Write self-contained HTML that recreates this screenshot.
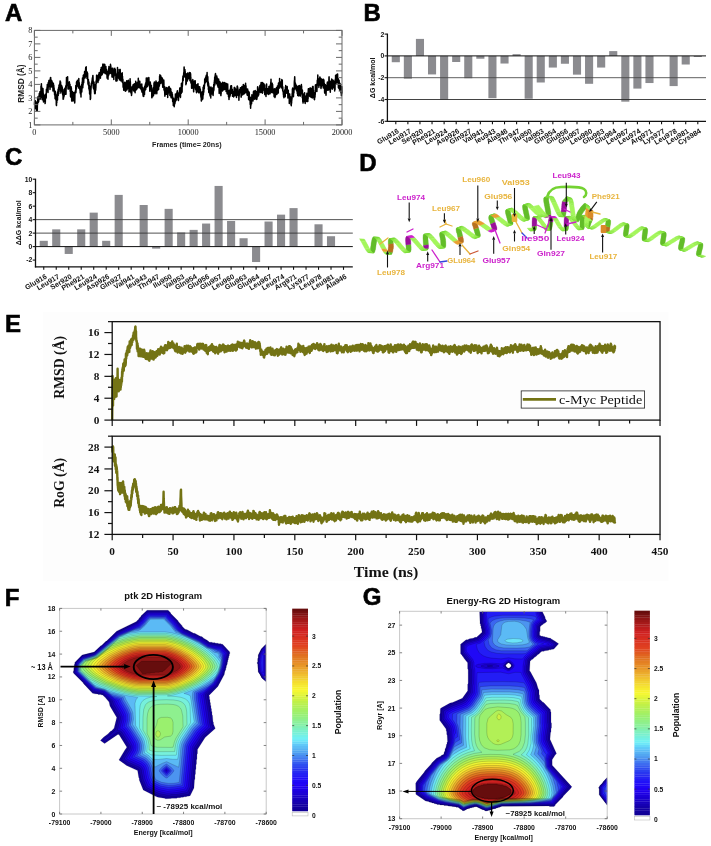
<!DOCTYPE html>
<html><head><meta charset="utf-8"><style>
html,body{margin:0;padding:0;background:#fff;width:711px;height:846px;overflow:hidden}
svg{display:block;will-change:transform}
</style></head><body>
<svg width="711" height="846" viewBox="0 0 711 846">
<polyline points="34.4,105 34.5,104.5 34.6,101.7 34.7,104.6 34.8,108.7 34.9,107.6 35,106.6 35.1,106.7 35.2,100.6 35.3,106.8 35.4,105.4 35.5,103.7 35.6,105.2 35.7,103.8 35.8,104.3 35.9,102.2 36,108.2 36.1,103.7 36.2,102.9 36.3,109 36.5,110.4 36.6,102.1 36.7,107.8 36.8,108.8 36.9,105.2 37,106.8 37.1,108.4 37.2,105.6 37.3,110.4 37.4,103 37.5,104.3 37.6,104.2 37.7,98.9 37.8,96.9 37.9,101.1 38,97.2 38.1,100 38.2,97.5 38.3,98.1 38.4,102.2 38.5,98 38.6,101.7 38.7,101.1 38.8,98.7 38.9,100.4 39,97.9 39.1,95 39.2,98.6 39.3,93.4 39.4,97.5 39.5,95.9 39.6,97.3 39.7,94.2 39.8,97.8 39.9,91.7 40,95.8 40.1,94.5 40.2,95.4 40.3,95.6 40.5,99.1 40.6,97.6 40.7,92.8 40.8,92.5 40.9,92.4 41,86 41.1,90.9 41.2,86.7 41.3,91.3 41.4,83.8 41.5,88.2 41.6,90.1 41.7,86.9 41.8,88.8 41.9,90.4 42,97.4 42.1,95 42.2,97.9 42.3,99.8 42.4,98.3 42.5,91.6 42.6,97.2 42.7,96.6 42.8,94.1 42.9,88.4 43,89.5 43.1,92 43.2,96.5 43.3,93.4 43.4,93.8 43.5,102.1 43.6,96.8 43.7,100 43.8,97.5 43.9,98 44,96.2 44.1,96.2 44.2,95.1 44.3,98.5 44.5,95.8 44.6,98.7 44.7,97.1 44.8,96.3 44.9,97.4 45,101.3 45.1,103.6 45.2,100.2 45.3,102.9 45.4,98.4 45.5,98.2 45.6,97.4 45.7,94 45.8,97.4 45.9,97.2 46,96.4 46.1,95.8 46.2,98.1 46.3,93.7 46.4,89.2 46.5,91.2 46.6,90.4 46.7,89.3 46.8,89.2 46.9,90.8 47,89 47.1,86.9 47.2,89.5 47.3,84.5 47.4,86.6 47.5,85.7 47.6,84.2 47.7,88.1 47.8,87.9 47.9,90.6 48,92.4 48.1,88.9 48.2,87.2 48.3,82.6 48.5,85.1 48.6,84.1 48.7,82 48.8,82.8 48.9,80.6 49,84.5 49.1,86.6 49.2,80.3 49.3,84.4 49.4,85.3 49.5,85.5 49.6,85.2 49.7,85.4 49.8,83.8 49.9,82 50,89.4 50.1,87.3 50.2,84.4 50.3,82.6 50.4,77.8 50.5,84.4 50.6,80.2 50.7,77.5 50.8,85.7 50.9,80.7 51,84.9 51.1,80.9 51.2,80.1 51.3,81.8 51.4,84.6 51.5,87 51.6,84.8 51.7,80.6 51.8,84.9 51.9,83 52,84.7 52.1,83.4 52.2,81.7 52.3,84.7 52.5,85.7 52.6,82.5 52.7,86.5 52.8,85.8 52.9,88.3 53,91 53.1,88.7 53.2,86.1 53.3,87.2 53.4,83.5 53.5,90.4 53.6,89 53.7,85.1 53.8,85.4 53.9,88.6 54,88.5 54.1,87.9 54.2,89.6 54.3,91 54.4,92.6 54.5,91.1 54.6,95 54.7,92.9 54.8,93.5 54.9,93.1 55,95.1 55.1,98.7 55.2,94.4 55.3,91.2 55.4,92.7 55.5,93.4 55.6,96.1 55.7,97.3 55.8,94 55.9,100.1 56,96 56.1,97.4 56.2,97 56.3,104.9 56.5,105.6 56.6,99.8 56.7,102.6 56.8,102.7 56.9,100.1 57,96.8 57.1,100.4 57.2,97.6 57.3,96 57.4,94 57.5,100 57.6,91.9 57.7,95.4 57.8,94.1 57.9,91.5 58,94 58.1,89.3 58.2,95.4 58.3,92.1 58.4,94.9 58.5,91 58.6,88 58.7,87.5 58.8,93.5 58.9,89.4 59,84.9 59.1,91.5 59.2,89.5 59.3,86.9 59.4,85.4 59.5,86.7 59.6,86.5 59.7,84.1 59.8,86.8 59.9,83.1 60,83.4 60.1,80.9 60.2,82.5 60.3,84.3 60.5,83.5 60.6,81.9 60.7,89.2 60.8,91.2 60.9,93.1 61,87.3 61.1,84.9 61.2,90.8 61.3,89.6 61.4,89.6 61.5,86.4 61.6,88.2 61.7,86.4 61.8,90.5 61.9,86.1 62,90 62.1,87.1 62.2,87.8 62.3,87.6 62.4,91.4 62.5,89.2 62.6,90.9 62.7,95 62.8,91.7 62.9,89.2 63,90.3 63.1,99.2 63.2,93.6 63.3,96 63.4,97.7 63.5,98.9 63.6,93.1 63.7,94 63.8,96.3 63.9,97 64,96.4 64.1,91.3 64.2,92.1 64.3,95.1 64.5,94.2 64.6,88.9 64.7,91 64.8,89.6 64.9,88.3 65,89.6 65.1,89.8 65.2,92.6 65.3,93.5 65.4,93.3 65.5,87.3 65.6,94.2 65.7,87.4 65.8,85.7 65.9,92.5 66,94.2 66.1,88.5 66.2,88.1 66.3,85.8 66.4,83.7 66.5,77.6 66.6,84.7 66.7,78.5 66.8,85.6 66.9,80 67,84.5 67.1,80.5 67.2,83.5 67.3,78.8 67.4,77.7 67.5,77.3 67.6,76.8 67.7,82.5 67.8,83 67.9,83.4 68,89.1 68.1,82.6 68.2,85.5 68.3,88.6 68.5,89 68.6,85.1 68.7,87.9 68.8,87.8 68.9,87.9 69,87.9 69.1,83.4 69.2,83.6 69.3,81.8 69.4,82.4 69.5,84.8 69.6,84 69.7,86 69.8,86.1 69.9,85 70,84.3 70.1,89.9 70.2,91.5 70.3,88.5 70.4,89.1 70.5,96.2 70.6,97 70.7,90.9 70.8,92.6 70.9,92.9 71,88.9 71.1,86.7 71.2,93.1 71.3,87.8 71.4,88.5 71.5,94.2 71.6,96.8 71.7,100.7 71.8,98.8 71.9,101.2 72,97 72.1,92.2 72.2,94.9 72.3,91.6 72.5,96.8 72.6,92.2 72.7,99.8 72.8,100.7 72.9,96.5 73,99.3 73.1,100.3 73.2,98.6 73.3,93.5 73.4,99.4 73.5,99 73.6,92.5 73.7,93.3 73.8,98.8 73.9,100.7 74,96.2 74.1,97.1 74.2,98.2 74.3,100.7 74.4,101 74.5,96.7 74.6,99.5 74.7,102.9 74.8,101.6 74.9,95.6 75,92.1 75.1,91.7 75.2,91 75.3,91.7 75.4,92 75.5,92.4 75.6,91 75.7,91.6 75.8,85.5 75.9,92.7 76,91.3 76.1,86.9 76.2,88.3 76.4,88.9 76.5,82.7 76.6,81.8 76.7,86.2 76.8,86.5 76.9,84.3 77,83.8 77.1,85.5 77.2,82.9 77.3,82.1 77.4,80.2 77.5,84.7 77.6,80.8 77.7,85.2 77.8,86 77.9,84 78,84.9 78.1,80.6 78.2,84.1 78.3,83.8 78.4,83 78.5,87 78.6,88 78.7,85 78.8,78.5 78.9,83.3 79,83.8 79.1,86.6 79.2,82.6 79.3,83.3 79.4,87.8 79.5,88 79.6,88.9 79.7,88.3 79.8,87.3 79.9,90.2 80,87.5 80.1,86.4 80.2,93 80.4,88.4 80.5,94 80.6,91.7 80.7,87.7 80.8,90.5 80.9,92.4 81,96.9 81.1,88.5 81.2,87.4 81.3,91.6 81.4,85.3 81.5,90.2 81.6,88.6 81.7,84.4 81.8,91.9 81.9,89.1 82,85.7 82.1,83 82.2,81.9 82.3,85.7 82.4,83.1 82.5,78.1 82.6,83.1 82.7,86 82.8,87.8 82.9,83.3 83,77.6 83.1,85.2 83.2,79.5 83.3,75.3 83.4,77.3 83.5,82.8 83.6,78.6 83.7,82.8 83.8,78.2 83.9,79.9 84,75.5 84.1,74.6 84.2,74.8 84.4,78.1 84.5,73.8 84.6,71.5 84.7,75.5 84.8,74 84.9,77.7 85,78 85.1,73 85.2,77.8 85.3,73.2 85.4,77 85.5,72.1 85.6,69.8 85.7,67.6 85.8,73 85.9,72.1 86,71.6 86.1,68.3 86.2,66.7 86.3,73.8 86.4,72.9 86.5,75.9 86.6,76.3 86.7,72 86.8,72.6 86.9,72.4 87,78.6 87.1,76.2 87.2,72.1 87.3,77 87.4,77.5 87.5,74.7 87.6,73.3 87.7,79.6 87.8,78.7 87.9,81.6 88,84.1 88.1,81.4 88.2,83.9 88.4,79.5 88.5,82.7 88.6,86.1 88.7,81.7 88.8,84.4 88.9,88.9 89,81.9 89.1,88 89.2,88.5 89.3,86.4 89.4,90.7 89.5,85.5 89.6,93.7 89.7,94.1 89.8,86.4 89.9,91.5 90,90.8 90.1,91.4 90.2,92 90.3,99.6 90.4,94.9 90.5,98.5 90.6,98.6 90.7,90.2 90.8,93.6 90.9,87.9 91,89.8 91.1,87.2 91.2,87 91.3,83.6 91.4,86.3 91.5,83.1 91.6,83 91.7,84 91.8,83 91.9,81.5 92,80.8 92.1,83.1 92.2,80 92.4,77.8 92.5,81.2 92.6,82.3 92.7,81.4 92.8,75.7 92.9,75.4 93,77.3 93.1,79.8 93.2,82.2 93.3,87.9 93.4,81.4 93.5,86.6 93.6,84.8 93.7,89.1 93.8,83.5 93.9,88.2 94,82.1 94.1,84.1 94.2,86.1 94.3,85.4 94.4,91.4 94.5,89.7 94.6,93.5 94.7,92.7 94.8,93.8 94.9,93.6 95,89.6 95.1,91 95.2,93.6 95.3,90.4 95.4,84.5 95.5,87.1 95.6,87.9 95.7,90.1 95.8,88.3 95.9,87.4 96,83.8 96.1,80.9 96.2,83.9 96.4,80.2 96.5,79.3 96.6,75.2 96.7,78.8 96.8,76.3 96.9,78.6 97,75.2 97.1,79.4 97.2,75.6 97.3,78.8 97.4,77.8 97.5,80.2 97.6,81.4 97.7,78.9 97.8,81.3 97.9,79.7 98,82.6 98.1,78.3 98.2,79.4 98.3,81 98.4,77.9 98.5,77.1 98.6,79.6 98.7,74.6 98.8,74.1 98.9,80 99,76.2 99.1,75 99.2,72.6 99.3,75.8 99.4,74.4 99.5,77.3 99.6,76.4 99.7,77.7 99.8,72.7 99.9,72.8 100,76 100.1,72.6 100.2,77.8 100.4,78.2 100.5,75.7 100.6,72.4 100.7,69.6 100.8,71.5 100.9,75.8 101,70.8 101.1,75 101.2,67.6 101.3,71.4 101.4,73.1 101.5,71.6 101.6,67.2 101.7,67.4 101.8,75.1 101.9,67.7 102,70 102.1,73.9 102.2,74.4 102.3,71.8 102.4,68 102.5,69.1 102.6,69.3 102.7,68.8 102.8,64.2 102.9,70.9 103,63.9 103.1,69.3 103.2,66 103.3,68.5 103.4,64.4 103.5,72.7 103.6,72.2 103.7,68.5 103.8,67.4 103.9,68.6 104,69.3 104.1,70.1 104.2,67.3 104.4,64.3 104.5,64.7 104.6,68.4 104.7,65 104.8,64.4 104.9,69.4 105,73.4 105.1,69.3 105.2,67.9 105.3,69.9 105.4,67.4 105.5,72.2 105.6,70.6 105.7,72.1 105.8,70.7 105.9,66.5 106,72.7 106.1,72.5 106.2,74 106.3,70.6 106.4,69.2 106.5,69.8 106.6,69.7 106.7,70.7 106.8,71.6 106.9,73.1 107,75.5 107.1,78.1 107.2,76.2 107.3,73 107.4,75.3 107.5,75.4 107.6,71.5 107.7,73.9 107.8,75.1 107.9,76.3 108,79.2 108.1,73.5 108.2,72.3 108.4,75 108.5,75.7 108.6,74.7 108.7,68.2 108.8,70.7 108.9,66.4 109,70.5 109.1,68.6 109.2,69 109.3,67.3 109.4,68.1 109.5,67.6 109.6,71.7 109.7,73.8 109.8,70.7 109.9,67.5 110,70.9 110.1,67.8 110.2,70.8 110.3,67.2 110.4,68.1 110.5,64.3 110.6,71.3 110.7,68.2 110.8,65.7 110.9,69.7 111,70.4 111.1,70.4 111.2,73.4 111.3,72.2 111.4,68.5 111.5,69.6 111.6,74 111.7,72.9 111.8,70.5 111.9,70.5 112,76.9 112.1,74.5 112.2,68.3 112.4,72.4 112.5,68.9 112.6,71 112.7,68.9 112.8,77 112.9,68.2 113,68.8 113.1,74.6 113.2,70.8 113.3,77.6 113.4,70.6 113.5,76.5 113.6,74.9 113.7,74.5 113.8,79.6 113.9,70.7 114,76.8 114.1,75.1 114.2,72.8 114.3,73.5 114.4,70.1 114.5,73.5 114.6,69 114.7,68.8 114.8,68.2 114.9,73.1 115,73.7 115.1,73.2 115.2,72.5 115.3,69.6 115.4,71.3 115.5,72.7 115.6,75.8 115.7,73.2 115.8,75.3 115.9,80.9 116,79 116.1,80.4 116.2,78.7 116.4,78.9 116.5,80.1 116.6,78 116.7,77.2 116.8,80.9 116.9,76.4 117,80.8 117.1,80.8 117.2,74 117.3,75.3 117.4,71.6 117.5,67.6 117.6,72 117.7,69.7 117.8,70.6 117.9,71.6 118,72.3 118.1,69.6 118.2,74.4 118.3,74.6 118.4,74.6 118.5,73.5 118.6,78.3 118.7,72.5 118.8,77.6 118.9,75.4 119,74.2 119.1,73.5 119.2,74.8 119.3,75.6 119.4,80.1 119.5,76.5 119.6,73.3 119.7,74.2 119.8,69.4 119.9,71.9 120,71.8 120.1,71.8 120.2,69.5 120.4,78.1 120.5,78 120.6,79.3 120.7,79.1 120.8,80.7 120.9,73.4 121,81.1 121.1,79.3 121.2,76.2 121.3,79 121.4,80 121.5,79.4 121.6,78.1 121.7,77.2 121.8,74.6 121.9,76.1 122,79.2 122.1,73.7 122.2,72.8 122.3,78 122.4,82.4 122.5,76.3 122.6,82.2 122.7,82.1 122.8,83.3 122.9,79.3 123,82.6 123.1,87.2 123.2,86.1 123.3,86.8 123.4,87.8 123.5,85.9 123.6,83.1 123.7,90.2 123.8,84.7 123.9,84.1 124,90.1 124.1,83.8 124.2,84.5 124.4,85.3 124.5,88.9 124.6,84.6 124.7,82.2 124.8,83.6 124.9,89.4 125,84.5 125.1,87.9 125.2,91.1 125.3,89.4 125.4,90.7 125.5,88 125.6,91.2 125.7,82.8 125.8,89.8 125.9,87.4 126,88.1 126.1,85.5 126.2,85.5 126.3,81.9 126.4,87.8 126.5,81.8 126.6,85.6 126.7,80.8 126.8,87.9 126.9,90 127,83.7 127.1,88.8 127.2,85 127.3,85 127.4,88.8 127.5,88.2 127.6,86.8 127.7,83.9 127.8,83.8 127.9,86.2 128,84.2 128.1,80.4 128.2,85.3 128.4,80.2 128.5,81.5 128.6,87.7 128.7,85.8 128.8,87.4 128.9,87.6 129,92 129.1,91.2 129.2,89.6 129.3,89.3 129.4,86.3 129.5,84.8 129.6,85.5 129.7,82.6 129.8,84.6 129.9,84.1 130,85.2 130.1,78.7 130.2,82.2 130.3,81.4 130.4,82.5 130.5,91.7 130.6,88.9 130.7,90.6 130.8,89.6 130.9,93 131,87.6 131.1,89.1 131.2,90.3 131.3,92.1 131.4,88 131.5,95.4 131.6,93.7 131.7,94.2 131.8,91.5 131.9,92.3 132,87.8 132.1,86.7 132.2,86.4 132.4,89 132.5,87.2 132.6,86.4 132.7,88.5 132.8,88.3 132.9,85.8 133,89.6 133.1,84.8 133.2,88.2 133.3,89.3 133.4,87.7 133.5,87.4 133.6,90.7 133.7,86.6 133.8,91.1 133.9,88.1 134,85.1 134.1,84.1 134.2,85.4 134.3,85 134.4,83.7 134.5,85.3 134.6,89 134.7,86 134.8,91.4 134.9,91.8 135,91.3 135.1,92.7 135.2,83.7 135.3,87 135.4,83.8 135.5,85.1 135.6,86.7 135.7,81.3 135.8,82.9 135.9,90.2 136,84.5 136.1,86.8 136.2,89.7 136.4,87.2 136.5,83.2 136.6,87.7 136.7,85 136.8,83.7 136.9,85.1 137,88.9 137.1,83.6 137.2,83.9 137.3,82.5 137.4,85.6 137.5,88.1 137.6,84.2 137.7,86.7 137.8,82.7 137.9,84.5 138,84.8 138.1,81.6 138.2,82.1 138.3,78.3 138.4,83.9 138.5,80.1 138.6,87.5 138.7,87.3 138.8,85.5 138.9,81.4 139,83.1 139.1,85.8 139.2,86.4 139.3,83 139.4,87.8 139.5,83 139.6,86.3 139.7,82.8 139.8,81.3 139.9,83.5 140,86.8 140.1,85.5 140.2,85.4 140.4,88.2 140.5,86.2 140.6,86.3 140.7,88.7 140.8,85.6 140.9,85.1 141,86.8 141.1,86.4 141.2,89.7 141.3,84.2 141.4,89.6 141.5,90.2 141.6,87.9 141.7,87 141.8,83.9 141.9,92 142,90 142.1,88.6 142.2,87.9 142.3,89.2 142.4,91.9 142.5,92.7 142.6,88.9 142.7,87.5 142.8,88.2 142.9,91.6 143,95 143.1,95.2 143.2,96.3 143.3,94.4 143.4,93.3 143.5,96.2 143.6,92.4 143.7,96.4 143.8,91.4 143.9,93.6 144,89.8 144.1,93.2 144.2,91.6 144.4,87.8 144.5,94.4 144.6,86.8 144.7,89.4 144.8,85.9 144.9,90.7 145,87.8 145.1,86.5 145.2,87.3 145.3,86.7 145.4,83.9 145.5,89.5 145.6,85.2 145.7,89.4 145.8,84.2 145.9,82.6 146,86.2 146.1,87.7 146.2,82.6 146.3,77.9 146.4,79 146.5,79.9 146.6,80 146.7,82.2 146.8,83.8 146.9,87.1 147,83.7 147.1,86.2 147.2,81.5 147.3,82.2 147.4,78 147.5,81.1 147.6,86.2 147.7,83.9 147.8,82.6 147.9,83.8 148,81.3 148.1,83.7 148.2,84.7 148.4,84.6 148.5,82.1 148.6,83.8 148.7,80.6 148.8,77.4 148.9,78.2 149,81 149.1,81.6 149.2,85 149.3,84.4 149.4,86 149.5,85 149.6,86.1 149.7,87.9 149.8,91.3 149.9,90.7 150,85.5 150.1,82.9 150.2,84.1 150.3,82.1 150.4,88.2 150.5,89.3 150.6,83.9 150.7,85.5 150.8,88.5 150.9,85.6 151,86.5 151.1,85.4 151.2,86.7 151.3,85.6 151.4,85.5 151.5,91.8 151.6,90.5 151.7,89.8 151.8,97.7 151.9,97.3 152,95.2 152.1,92.6 152.3,94.2 152.4,90.1 152.5,96.8 152.6,94.8 152.7,96.6 152.8,95.2 152.9,90.7 153,94.7 153.1,87.9 153.2,89.8 153.3,95.2 153.4,89.9 153.5,95.5 153.6,90 153.7,91 153.8,90.7 153.9,86.8 154,83 154.1,88.4 154.2,88.3 154.3,87.5 154.4,81.9 154.5,87.7 154.6,83.9 154.7,88 154.8,91 154.9,89 155,93.7 155.1,89.1 155.2,93.8 155.3,90 155.4,83.6 155.5,90.3 155.6,91.2 155.7,86.8 155.8,82.4 155.9,83.4 156,80.9 156.1,86.6 156.3,82 156.4,91.2 156.5,86.9 156.6,92.5 156.7,88.4 156.8,93.8 156.9,91.3 157,84.4 157.1,86.1 157.2,87.9 157.3,87.9 157.4,82.8 157.5,89.3 157.6,88.7 157.7,90.3 157.8,84.4 157.9,82.6 158,89 158.1,83.2 158.2,84.2 158.3,87.7 158.4,86 158.5,85.2 158.6,89.5 158.7,82 158.8,87.1 158.9,87.1 159,82.8 159.1,85 159.2,82 159.3,82.4 159.4,86.1 159.5,82.9 159.6,76.3 159.7,80.8 159.8,80.5 159.9,74.7 160,82.9 160.1,79.8 160.3,75.7 160.4,76.5 160.5,82.1 160.6,83.6 160.7,79.1 160.8,76.9 160.9,75.9 161,82.2 161.1,81.2 161.2,80.8 161.3,81.7 161.4,79.5 161.5,80.6 161.6,80.8 161.7,77.8 161.8,81.6 161.9,79.8 162,77.7 162.1,80.3 162.2,82.8 162.3,84 162.4,78.4 162.5,79.5 162.6,79.7 162.7,87.3 162.8,86.4 162.9,81.1 163,82.5 163.1,85 163.2,80.9 163.3,80.5 163.4,85.7 163.5,82.1 163.6,80.9 163.7,79.9 163.8,80.6 163.9,82.6 164,90.1 164.1,88.6 164.3,90.8 164.4,87.5 164.5,89.5 164.6,86.6 164.7,92.6 164.8,94.6 164.9,96.2 165,95.7 165.1,89.7 165.2,91.7 165.3,92.9 165.4,88.6 165.5,88.3 165.6,89.8 165.7,93.6 165.8,88.2 165.9,90.6 166,94.3 166.1,91.2 166.2,94.2 166.3,91.7 166.4,89 166.5,89.1 166.6,93.1 166.7,87.5 166.8,91.4 166.9,88.6 167,92.7 167.1,91.8 167.2,93 167.3,94.4 167.4,94.4 167.5,93.2 167.6,92.4 167.7,97.4 167.8,88.3 167.9,91 168,93.6 168.1,94.1 168.3,91.1 168.4,88.6 168.5,89.1 168.6,87 168.7,87.3 168.8,87.5 168.9,88.2 169,88.5 169.1,86.4 169.2,87.5 169.3,92.4 169.4,89.7 169.5,89.9 169.6,87.8 169.7,92.5 169.8,89.9 169.9,95.6 170,92.9 170.1,95.4 170.2,91.2 170.3,89.8 170.4,88.6 170.5,93.9 170.6,94.4 170.7,89.9 170.8,89.1 170.9,96.8 171,93 171.1,97.8 171.2,91.8 171.3,93 171.4,93.5 171.5,93.9 171.6,97.2 171.7,97.4 171.8,95.8 171.9,97.4 172,92.4 172.1,96.9 172.3,98 172.4,94.3 172.5,98.5 172.6,99.1 172.7,101.8 172.8,97 172.9,100.9 173,102 173.1,100 173.2,99.2 173.3,105.5 173.4,104.7 173.5,98.9 173.6,98.5 173.7,102.8 173.8,101.2 173.9,105.8 174,102.9 174.1,106.2 174.2,106.7 174.3,106 174.4,103.1 174.5,102.8 174.6,103.1 174.7,99.7 174.8,103.9 174.9,103.5 175,103 175.1,100.9 175.2,96.9 175.3,101.9 175.4,94.1 175.5,96.6 175.6,97.9 175.7,97.9 175.8,95.2 175.9,100.8 176,98.3 176.1,99.3 176.3,96.7 176.4,97.4 176.5,99.3 176.6,99.7 176.7,93 176.8,95.2 176.9,93.9 177,92.6 177.1,95.2 177.2,91 177.3,94.7 177.4,97.2 177.5,90.7 177.6,93.8 177.7,95.7 177.8,94.6 177.9,96.5 178,93.4 178.1,95.3 178.2,97.9 178.3,96.7 178.4,100.5 178.5,100.1 178.6,97.1 178.7,93.7 178.8,95.9 178.9,93.9 179,92.8 179.1,93.9 179.2,93 179.3,95 179.4,95.9 179.5,94.2 179.6,93.1 179.7,88.4 179.8,92 179.9,91.8 180,87.8 180.1,94.4 180.3,91.4 180.4,95.9 180.5,97.4 180.6,90.2 180.7,91 180.8,93.1 180.9,89.6 181,89.4 181.1,91.6 181.2,90.8 181.3,93.3 181.4,83.5 181.5,86 181.6,91 181.7,88 181.8,90.5 181.9,87.4 182,92.2 182.1,91.5 182.2,82.8 182.3,86.7 182.4,85.7 182.5,83.4 182.6,82.8 182.7,78.6 182.8,81 182.9,76.5 183,76.1 183.1,80.3 183.2,80.6 183.3,76.4 183.4,76.9 183.5,75 183.6,77.5 183.7,72.8 183.8,76.4 183.9,77 184,70.9 184.1,66.9 184.3,70.4 184.4,71 184.5,74.6 184.6,70.5 184.7,75.6 184.8,75.9 184.9,69.6 185,76.8 185.1,70.9 185.2,72.1 185.3,75.9 185.4,75.1 185.5,73.7 185.6,75.3 185.7,75.1 185.8,77.3 185.9,84.7 186,78.6 186.1,79.6 186.2,81.4 186.3,83.6 186.4,78.7 186.5,76.3 186.6,77.7 186.7,75.4 186.8,77.6 186.9,75.8 187,73.4 187.1,81.2 187.2,75.3 187.3,73.5 187.4,80.8 187.5,75.5 187.6,73 187.7,73.3 187.8,76.9 187.9,76.6 188,79.3 188.1,76.1 188.3,74.8 188.4,74.3 188.5,75.1 188.6,77.5 188.7,77.3 188.8,75.9 188.9,76.2 189,75 189.1,78.2 189.2,74.5 189.3,72.6 189.4,78.6 189.5,75 189.6,77.2 189.7,74.8 189.8,73.5 189.9,80.7 190,77.5 190.1,78.5 190.2,77.8 190.3,72.8 190.4,78.4 190.5,75.1 190.6,73.8 190.7,77.4 190.8,78.1 190.9,83 191,79.8 191.1,80.6 191.2,82.8 191.3,82 191.4,83.8 191.5,82.7 191.6,88.3 191.7,81.2 191.8,84.7 191.9,82.3 192,84.5 192.1,88.2 192.3,84.3 192.4,80.9 192.5,81.2 192.6,85.1 192.7,81.4 192.8,79.6 192.9,85.9 193,86.6 193.1,81.8 193.2,84.5 193.3,83.6 193.4,87 193.5,87.1 193.6,91.2 193.7,91.8 193.8,87.8 193.9,84.8 194,85.4 194.1,87.2 194.2,86.8 194.3,81.1 194.4,83.8 194.5,86.5 194.6,86.5 194.7,81.9 194.8,85.8 194.9,87.5 195,86.7 195.1,86.7 195.2,80.8 195.3,85.8 195.4,84.8 195.5,89.2 195.6,88.4 195.7,84.7 195.8,84.9 195.9,88.8 196,90.2 196.1,84.9 196.3,90.3 196.4,92 196.5,92.7 196.6,89.1 196.7,86.5 196.8,87.8 196.9,85.2 197,87.4 197.1,84.6 197.2,89.7 197.3,88.7 197.4,91.4 197.5,91.7 197.6,87.8 197.7,91.7 197.8,88.5 197.9,88.3 198,83.8 198.1,89.2 198.2,89.2 198.3,86.5 198.4,90.3 198.5,88.4 198.6,86.5 198.7,92.4 198.8,89.6 198.9,93 199,87 199.1,90.2 199.2,88.1 199.3,92 199.4,88.7 199.5,91.4 199.6,87.5 199.7,86.7 199.8,89.1 199.9,91.4 200,91 200.1,90.6 200.3,89 200.4,90.1 200.5,92.9 200.6,93.5 200.7,95.3 200.8,94.5 200.9,97.2 201,93.6 201.1,94.4 201.2,94 201.3,101.1 201.4,99.7 201.5,95.8 201.6,98.2 201.7,99.6 201.8,92.8 201.9,100 202,92.5 202.1,91.7 202.2,99.3 202.3,92.9 202.4,95.8 202.5,99.2 202.6,94.9 202.7,92 202.8,98.9 202.9,96.9 203,95.1 203.1,87.3 203.2,93.6 203.3,94.5 203.4,94.6 203.5,87 203.6,91.7 203.7,85.2 203.8,92.2 203.9,87.7 204,89 204.1,87.9 204.3,88.8 204.4,85.4 204.5,85.9 204.6,84.4 204.7,78.9 204.8,80.4 204.9,83.7 205,81.9 205.1,79.8 205.2,82.1 205.3,82.6 205.4,82.3 205.5,80 205.6,77.3 205.7,79 205.8,80.5 205.9,81.4 206,80.1 206.1,75.8 206.2,81.8 206.3,80 206.4,78.8 206.5,74.9 206.6,79.2 206.7,77.6 206.8,75.1 206.9,75.2 207,75.5 207.1,72.5 207.2,77.7 207.3,77.9 207.4,76.1 207.5,81.8 207.6,82.9 207.7,85.1 207.8,76.7 207.9,81.7 208,82.7 208.1,86.4 208.3,81.9 208.4,89.4 208.5,85.7 208.6,83.6 208.7,88.2 208.8,92.6 208.9,85.8 209,92.7 209.1,90.8 209.2,89.5 209.3,88.3 209.4,90.7 209.5,90.9 209.6,91.8 209.7,87.2 209.8,88.5 209.9,95.3 210,90.7 210.1,94.8 210.2,95 210.3,95 210.4,96.4 210.5,92.7 210.6,91.4 210.7,95.6 210.8,97.9 210.9,89.4 211,86.9 211.1,93.5 211.2,88.4 211.3,90.4 211.4,91.9 211.5,88.1 211.6,88.9 211.7,92.3 211.8,90.2 211.9,93.2 212,90.9 212.1,94 212.3,93.7 212.4,88.5 212.5,87.9 212.6,91.5 212.7,90 212.8,90.8 212.9,89 213,90.9 213.1,95.4 213.2,93.5 213.3,91.6 213.4,87.7 213.5,87.5 213.6,91.1 213.7,84.6 213.8,85.8 213.9,90.2 214,86.3 214.1,87.3 214.2,82.3 214.3,83.7 214.4,81.3 214.5,80 214.6,82.1 214.7,76.9 214.8,78.7 214.9,85 215,81.5 215.1,81.3 215.2,74.7 215.3,74.7 215.4,81.1 215.5,73.6 215.6,74.1 215.7,76.4 215.8,82.6 215.9,76.8 216,80.9 216.1,79.9 216.3,78 216.4,81.7 216.5,80.2 216.6,83.7 216.7,80.3 216.8,76 216.9,80.7 217,78.2 217.1,77.7 217.2,79.9 217.3,78 217.4,82.7 217.5,85 217.6,85.2 217.7,86 217.8,85.6 217.9,85.1 218,86.6 218.1,87.2 218.2,83.8 218.3,84.8 218.4,81 218.5,84 218.6,78.9 218.7,82 218.8,80.3 218.9,81 219,85.4 219.1,90.3 219.2,93.5 219.3,85.1 219.4,90.9 219.5,85.2 219.6,88 219.7,84.6 219.8,90 219.9,81.7 220,89.3 220.1,83 220.3,88.3 220.4,82.7 220.5,92.7 220.6,92.7 220.7,91.8 220.8,94.1 220.9,95.6 221,92.8 221.1,93.9 221.2,90.7 221.3,88.5 221.4,91.3 221.5,88.3 221.6,90.6 221.7,88.7 221.8,85.7 221.9,83.2 222,87.2 222.1,85.2 222.2,89.3 222.3,87.5 222.4,86.9 222.5,90.9 222.6,84 222.7,82.2 222.8,88.1 222.9,84 223,86.8 223.1,88.7 223.2,88.6 223.3,90.1 223.4,83.6 223.5,83.6 223.6,83.2 223.7,87.9 223.8,83.2 223.9,87.7 224,85.1 224.1,89.6 224.3,82.5 224.4,86.9 224.5,83.2 224.6,87.5 224.7,89.4 224.8,82.8 224.9,84.4 225,84.9 225.1,88.1 225.2,85.5 225.3,83.1 225.4,84.3 225.5,83.5 225.6,88.3 225.7,86.2 225.8,84.8 225.9,89.5 226,88.1 226.1,91.5 226.2,87.5 226.3,90.8 226.4,84.7 226.5,83.4 226.6,88.9 226.7,85.7 226.8,86.1 226.9,85.9 227,87.9 227.1,93.8 227.2,88.7 227.3,89.7 227.4,90.2 227.5,93 227.6,91.4 227.7,84 227.8,89.3 227.9,91.9 228,89.9 228.2,94.8 228.3,91.1 228.4,90.6 228.5,96.8 228.6,90.9 228.7,93.9 228.8,95.1 228.9,96.8 229,99.4 229.1,96.5 229.2,96.8 229.3,92 229.4,93.5 229.5,90.3 229.6,96.9 229.7,93.3 229.8,93.4 229.9,94.9 230,91.9 230.1,96.1 230.2,89.4 230.3,94.4 230.4,90.6 230.5,88.1 230.6,91.7 230.7,85.9 230.8,93.5 230.9,86.3 231,85.8 231.1,86.6 231.2,89.9 231.3,87.2 231.4,87.7 231.5,85.8 231.6,87.5 231.7,93.2 231.8,88.4 231.9,92.7 232,90.6 232.2,92.8 232.3,91 232.4,89.5 232.5,96.2 232.6,93.1 232.7,95.6 232.8,93 232.9,93 233,95.1 233.1,93.7 233.2,91.7 233.3,93.5 233.4,96.6 233.5,94.1 233.6,96.9 233.7,96.1 233.8,92.9 233.9,93.4 234,91.3 234.1,94.7 234.2,88 234.3,87.4 234.4,88.1 234.5,89.4 234.6,90.2 234.7,87.5 234.8,95.5 234.9,95.8 235,93.9 235.1,88.2 235.2,92 235.3,92.3 235.4,95 235.5,91.2 235.6,88.9 235.7,90.8 235.8,93.9 235.9,91.1 236,89.8 236.2,94.2 236.3,94.3 236.4,90.9 236.5,97.4 236.6,95.5 236.7,94.3 236.8,91.1 236.9,95.3 237,94.5 237.1,86.6 237.2,87.9 237.3,86.1 237.4,87.7 237.5,86.5 237.6,91.5 237.7,92.9 237.8,87.8 237.9,93.6 238,91.6 238.1,91.2 238.2,93.2 238.3,95.4 238.4,91.1 238.5,92 238.6,91.8 238.7,93.2 238.8,93.3 238.9,100.2 239,97.3 239.1,96 239.2,95.2 239.3,95.3 239.4,91 239.5,89.5 239.6,91.9 239.7,93 239.8,89.2 239.9,90.9 240,90.3 240.2,90.8 240.3,91.4 240.4,87.9 240.5,87.7 240.6,90.3 240.7,90.1 240.8,88.1 240.9,92.6 241,89.6 241.1,96.9 241.2,97.1 241.3,96.2 241.4,93.4 241.5,94.2 241.6,95.5 241.7,93.6 241.8,93.4 241.9,86.6 242,88.4 242.1,88.1 242.2,89.5 242.3,91.9 242.4,93.4 242.5,92.3 242.6,94.3 242.7,91.8 242.8,94.8 242.9,93.5 243,88.8 243.1,89.2 243.2,86.6 243.3,84.5 243.4,90.1 243.5,87.4 243.6,91.4 243.7,89.3 243.8,86 243.9,94 244,87 244.2,87.3 244.3,88.5 244.4,92.4 244.5,86.1 244.6,85.6 244.7,89.9 244.8,93.4 244.9,92.1 245,91.8 245.1,91.5 245.2,92.2 245.3,90.2 245.4,87.9 245.5,84.7 245.6,83.2 245.7,92.3 245.8,85.4 245.9,86.3 246,85.9 246.1,89.8 246.2,89.5 246.3,89.5 246.4,89.5 246.5,89.4 246.6,89.5 246.7,88.9 246.8,92.8 246.9,93.3 247,90.4 247.1,95 247.2,89.5 247.3,91.3 247.4,95.3 247.5,90.3 247.6,88.9 247.7,91.1 247.8,93.6 247.9,90.2 248,90.5 248.2,91 248.3,94.3 248.4,94.6 248.5,96 248.6,99.6 248.7,92.3 248.8,93.5 248.9,94.7 249,95.5 249.1,92 249.2,100.1 249.3,92.7 249.4,98.1 249.5,96.8 249.6,96.7 249.7,96.5 249.8,97.5 249.9,97.2 250,98.8 250.1,101.4 250.2,104.4 250.3,102.9 250.4,101.2 250.5,105.9 250.6,108.3 250.7,99.7 250.8,105.9 250.9,104 251,102.2 251.1,98.6 251.2,97.4 251.3,99.1 251.4,101.3 251.5,101.5 251.6,103.7 251.7,97.9 251.8,97.2 251.9,94.8 252,100.4 252.2,98.3 252.3,99.8 252.4,96.4 252.5,95.9 252.6,100.3 252.7,99.3 252.8,95.6 252.9,98.4 253,101 253.1,98.4 253.2,99.3 253.3,95.8 253.4,92.8 253.5,91.5 253.6,96.9 253.7,98.3 253.8,91.7 253.9,91 254,98.1 254.1,95.6 254.2,95.5 254.3,94.7 254.4,96 254.5,99.2 254.6,97.6 254.7,96.7 254.8,93.1 254.9,97.4 255,93.2 255.1,95 255.2,90.5 255.3,95.9 255.4,91.8 255.5,91.3 255.6,91.7 255.7,94 255.8,91.6 255.9,98.9 256,97.8 256.2,91.6 256.3,95.6 256.4,96.7 256.5,98.5 256.6,97.8 256.7,99.5 256.8,94.6 256.9,99 257,92.5 257.1,97.7 257.2,95 257.3,91.8 257.4,94.8 257.5,94.5 257.6,87 257.7,86.7 257.8,89.7 257.9,89.4 258,93.7 258.1,96.1 258.2,94.3 258.3,93.4 258.4,91.7 258.5,94.3 258.6,93.2 258.7,95 258.8,93.4 258.9,92.4 259,93.2 259.1,90.1 259.2,90 259.3,91.9 259.4,87.9 259.5,91.1 259.6,86.9 259.7,91.7 259.8,90.1 259.9,85.5 260,90 260.2,85.3 260.3,86.8 260.4,92.1 260.5,91.7 260.6,92.2 260.7,92.6 260.8,90.3 260.9,88.2 261,83.9 261.1,82.6 261.2,91.4 261.3,87.6 261.4,87.7 261.5,91.3 261.6,88.1 261.7,92.3 261.8,92.5 261.9,91.7 262,87.9 262.1,85.6 262.2,87 262.3,82.5 262.4,90.5 262.5,93.2 262.6,88.6 262.7,92.4 262.8,89.6 262.9,90.3 263,90.7 263.1,86.6 263.2,85.6 263.3,83.2 263.4,83.7 263.5,85.9 263.6,88.5 263.7,87.2 263.8,89.7 263.9,83.8 264,85.6 264.2,89.9 264.3,87.1 264.4,86.9 264.5,85.3 264.6,85 264.7,92.3 264.8,94.6 264.9,93.7 265,94.2 265.1,93.4 265.2,89.5 265.3,93.4 265.4,91 265.5,88.8 265.6,94.9 265.7,91.8 265.8,92.2 265.9,92.9 266,96.5 266.1,91.8 266.2,93.8 266.3,93.7 266.4,85.5 266.5,85 266.6,83.9 266.7,90.6 266.8,88.8 266.9,89.7 267,89.3 267.1,93.8 267.2,90.6 267.3,89.1 267.4,88.7 267.5,91.1 267.6,93.8 267.7,93.3 267.8,92.9 267.9,89.6 268,88.8 268.2,90.1 268.3,89 268.4,92.9 268.5,94.2 268.6,89.7 268.7,94.4 268.8,89.4 268.9,86.4 269,91.9 269.1,89.9 269.2,87.3 269.3,89.6 269.4,90.8 269.5,87.7 269.6,92.3 269.7,89.7 269.8,91.3 269.9,88.5 270,87.9 270.1,93.7 270.2,84.9 270.3,85.6 270.4,87.1 270.5,86.5 270.6,87.9 270.7,88.2 270.8,82 270.9,85.3 271,79.3 271.1,86 271.2,82.9 271.3,84.9 271.4,87.6 271.5,89.6 271.6,92.6 271.7,84.3 271.8,90.6 271.9,90.4 272,84 272.2,83.3 272.3,88.1 272.4,92.3 272.5,86.9 272.6,84.5 272.7,87.3 272.8,92.7 272.9,88.1 273,89.6 273.1,90.4 273.2,91.4 273.3,90.5 273.4,92.1 273.5,93 273.6,90.7 273.7,93 273.8,89.6 273.9,94.1 274,93.7 274.1,96.6 274.2,96.5 274.3,96.5 274.4,96.7 274.5,96.3 274.6,95.2 274.7,88.8 274.8,92.1 274.9,97.1 275,97.5 275.1,92.2 275.2,92.9 275.3,95 275.4,96.2 275.5,92.8 275.6,91.6 275.7,92.6 275.8,88.8 275.9,91 276,91.3 276.2,92.5 276.3,89.2 276.4,87.8 276.5,90.6 276.6,91 276.7,92.2 276.8,90.4 276.9,94.4 277,93.8 277.1,88.1 277.2,93.4 277.3,91 277.4,85.9 277.5,86.9 277.6,88.4 277.7,91.3 277.8,91.3 277.9,92.5 278,91.7 278.1,92.1 278.2,92.2 278.3,93.1 278.4,84.6 278.5,83 278.6,84.6 278.7,83.3 278.8,86.3 278.9,84.1 279,85.8 279.1,84 279.2,88.2 279.3,87 279.4,87 279.5,82.4 279.6,78.6 279.7,82.5 279.8,85.6 279.9,84.8 280,81.9 280.2,84.2 280.3,85.9 280.4,86.4 280.5,85.6 280.6,86.1 280.7,83.8 280.8,83.4 280.9,82.7 281,83.5 281.1,87.8 281.2,81.8 281.3,86.3 281.4,82 281.5,82.7 281.6,81.7 281.7,82 281.8,79.6 281.9,85.7 282,86.8 282.1,83.7 282.2,86.2 282.3,80.2 282.4,88.9 282.5,88 282.6,86.8 282.7,91 282.8,86.7 282.9,90.8 283,90.5 283.1,91.2 283.2,92 283.3,92.6 283.4,94.6 283.5,91.9 283.6,96.8 283.7,95.9 283.8,92.9 283.9,97.7 284,95.7 284.2,95 284.3,94.9 284.4,94.4 284.5,96.7 284.6,92.9 284.7,90.4 284.8,89.8 284.9,90.6 285,91 285.1,90.5 285.2,96.7 285.3,94.3 285.4,87.2 285.5,87.1 285.6,87.5 285.7,85.6 285.8,90.2 285.9,90.7 286,87.1 286.1,91.8 286.2,91.6 286.3,93.1 286.4,93.1 286.5,89.8 286.6,87.5 286.7,93.2 286.8,88.9 286.9,91.4 287,88.4 287.1,92.2 287.2,86.4 287.3,90.6 287.4,90 287.5,92.1 287.6,90.1 287.7,89.7 287.8,94.9 287.9,97.9 288,96.4 288.2,94.1 288.3,90.3 288.4,95.2 288.5,94.4 288.6,97.5 288.7,97 288.8,96.4 288.9,95.7 289,93.7 289.1,98.1 289.2,97.3 289.3,103.5 289.4,99.4 289.5,96.6 289.6,95.4 289.7,93.9 289.8,95.8 289.9,96 290,99.3 290.1,100.8 290.2,101.3 290.3,97 290.4,100.1 290.5,101.5 290.6,97.1 290.7,99.3 290.8,99.8 290.9,96.9 291,105.1 291.1,104.6 291.2,102.1 291.3,105.7 291.4,99.2 291.5,97.5 291.6,103.2 291.7,98.1 291.8,100.5 291.9,98.5 292,98.7 292.2,93.2 292.3,96.1 292.4,89.1 292.5,93 292.6,94.1 292.7,88.1 292.8,96.5 292.9,96.1 293,93.1 293.1,89.8 293.2,90.3 293.3,90.5 293.4,96.7 293.5,96.1 293.6,90.3 293.7,91 293.8,88.8 293.9,93.1 294,88.5 294.1,90.1 294.2,89.8 294.3,83 294.4,80.6 294.5,84.1 294.6,78.8 294.7,76.8 294.8,79.3 294.9,82.7 295,86.9 295.1,85.6 295.2,87.3 295.3,84.3 295.4,83.1 295.5,84.9 295.6,88.8 295.7,87.9 295.8,89.3 295.9,86.4 296,87.4 296.2,85.5 296.3,88.4 296.4,85.3 296.5,90.8 296.6,89.3 296.7,88.4 296.8,90.7 296.9,91.2 297,86.6 297.1,89.1 297.2,88.1 297.3,93.6 297.4,89.7 297.5,90.8 297.6,88.9 297.7,95.5 297.8,88.5 297.9,89.2 298,94 298.1,90.9 298.2,90.9 298.3,85.9 298.4,87.9 298.5,93.7 298.6,92.1 298.7,90.6 298.8,95.9 298.9,90.1 299,91.3 299.1,88.2 299.2,91.8 299.3,85.6 299.4,90.1 299.5,86.6 299.6,91.1 299.7,93 299.8,94.6 299.9,89.6 300,87.8 300.2,90.4 300.3,95.8 300.4,96.1 300.5,87.9 300.6,92.7 300.7,88 300.8,87.7 300.9,86.6 301,85.4 301.1,87 301.2,87 301.3,90.5 301.4,84.6 301.5,92.3 301.6,86.1 301.7,93.8 301.8,91.9 301.9,89.6 302,91.5 302.1,91.1 302.2,93.2 302.3,97.7 302.4,89.9 302.5,93 302.6,95.2 302.7,96.5 302.8,102.1 302.9,98.2 303,100.8 303.1,103.1 303.2,98.2 303.3,94.5 303.4,101.8 303.5,96 303.6,97.7 303.7,96.1 303.8,94.1 303.9,100.9 304.1,100.5 304.2,98.9 304.3,96.4 304.4,96.6 304.5,97 304.6,92.7 304.7,99.1 304.8,102.1 304.9,97.9 305,96.2 305.1,99.3 305.2,103.6 305.3,99.5 305.4,97.7 305.5,101 305.6,96.9 305.7,100.1 305.8,96.3 305.9,98.9 306,99.8 306.1,98.3 306.2,100.3 306.3,98.5 306.4,95.4 306.5,95.7 306.6,97.3 306.7,101.4 306.8,94.3 306.9,93.2 307,97.8 307.1,97 307.2,96.3 307.3,96 307.4,101.1 307.5,97.6 307.6,100.1 307.7,98.3 307.8,101.5 307.9,98.5 308.1,98.4 308.2,92.5 308.3,89.4 308.4,88.7 308.5,91 308.6,91.9 308.7,91.3 308.8,94.7 308.9,95.8 309,89 309.1,92.9 309.2,91.2 309.3,92.5 309.4,93.6 309.5,94.5 309.6,92 309.7,92.2 309.8,96.6 309.9,95 310,88.1 310.1,91.1 310.2,94.7 310.3,93.4 310.4,89.3 310.5,88 310.6,93.6 310.7,89.4 310.8,90.8 310.9,90.8 311,97.3 311.1,95 311.2,92.9 311.3,94.2 311.4,91.5 311.5,91.4 311.6,90 311.7,88.6 311.8,90.9 311.9,97.6 312.1,91.5 312.2,98 312.3,95.1 312.4,90.6 312.5,88.9 312.6,86.6 312.7,93.5 312.8,90.3 312.9,89 313,87.9 313.1,86.5 313.2,91.3 313.3,92.8 313.4,92.2 313.5,90.3 313.6,97.8 313.7,97.3 313.8,94.4 313.9,93.5 314,98.2 314.1,95 314.2,97.7 314.3,99.5 314.4,94.3 314.5,99.7 314.6,97.6 314.7,97.6 314.8,94 314.9,92.4 315,97.3 315.1,93.7 315.2,94.8 315.3,93.2 315.4,85.1 315.5,91 315.6,91.3 315.7,87 315.8,91.2 315.9,87.8 316.1,88.6 316.2,84.4 316.3,86.8 316.4,89 316.5,89.1 316.6,87.8 316.7,90 316.8,90.7 316.9,91.4 317,88.7 317.1,85.6 317.2,84.6 317.3,80.2 317.4,81.6 317.5,80.5 317.6,81.2 317.7,78.6 317.8,74.9 317.9,80.6 318,80.5 318.1,85.1 318.2,81.4 318.3,84.8 318.4,83.4 318.5,83.9 318.6,83.2 318.7,84.9 318.8,85.8 318.9,87.4 319,83.1 319.1,83.3 319.2,78.8 319.3,78.7 319.4,81.9 319.5,78.6 319.6,81.9 319.7,84.9 319.8,77.5 319.9,76.9 320.1,83.1 320.2,79.9 320.3,83.5 320.4,78.3 320.5,78.1 320.6,84.7 320.7,81.6 320.8,83.7 320.9,88 321,88.4 321.1,87.7 321.2,87.4 321.3,82.4 321.4,87.1 321.5,79.1 321.6,83 321.7,83.4 321.8,81.1 321.9,85.6 322,85 322.1,81.5 322.2,81.6 322.3,82.6 322.4,80.3 322.5,82.9 322.6,81.4 322.7,79.4 322.8,79.9 322.9,80 323,83.8 323.1,80.5 323.2,80.4 323.3,88 323.4,83.8 323.5,79.2 323.6,83.4 323.7,82.3 323.8,83.7 323.9,80 324.1,84.3 324.2,87.3 324.3,83.4 324.4,83.9 324.5,87.2 324.6,91.8 324.7,93.1 324.8,90.6 324.9,86.9 325,84.8 325.1,85.2 325.2,90.3 325.3,85.4 325.4,84.8 325.5,88 325.6,90.6 325.7,88.5 325.8,90.3 325.9,92.6 326,95.3 326.1,93.2 326.2,87.2 326.3,91.1 326.4,86.7 326.5,87 326.6,89.7 326.7,85.8 326.8,85.4 326.9,86.7 327,86.2 327.1,87.3 327.2,83.4 327.3,82.5 327.4,84.3 327.5,81.9 327.6,88.6 327.7,90.3 327.8,82.7 327.9,85.4 328.1,86.3 328.2,86.2 328.3,89.9 328.4,85.7 328.5,85.8 328.6,83.6 328.7,89.9 328.8,87 328.9,79.9 329,77 329.1,76.8 329.2,82 329.3,85.2 329.4,81.3 329.5,85.3 329.6,81.1 329.7,85 329.8,87.9 329.9,88 330,82.5 330.1,87.8 330.2,90.3 330.3,92.3 330.4,88.7 330.5,82.2 330.6,88.7 330.7,82.1 330.8,84.9 330.9,81.2 331,81.1 331.1,81 331.2,87.8 331.3,82.5 331.4,87 331.5,85.1 331.6,87.2 331.7,79.1 331.8,79.6 331.9,82.6 332.1,87.4 332.2,89.3 332.3,83.4 332.4,86.3 332.5,82.3 332.6,82.8 332.7,85.3 332.8,83 332.9,80.1 333,84.4 333.1,87.8 333.2,85.6 333.3,83.7 333.4,83.5 333.5,81.9 333.6,82.5 333.7,84.8 333.8,81 333.9,84.5 334,87.6 334.1,87.8 334.2,84.4 334.3,85.3 334.4,88.3 334.5,85.9 334.6,89.5 334.7,90.9 334.8,87.9 334.9,88.1 335,89.7 335.1,83.6 335.2,82.5 335.3,79.3 335.4,80.4 335.5,81.5 335.6,75.3 335.7,77.2 335.8,77.6 335.9,81.5 336.1,83.3 336.2,79.2 336.3,79.1 336.4,78.1 336.5,82.4 336.6,78.3 336.7,80.6 336.8,74.6 336.9,82.8 337,79.4 337.1,78.4 337.2,80.3 337.3,77.7 337.4,79.1 337.5,80.7 337.6,73.9 337.7,79.2 337.8,81.7 337.9,79.1 338,79.4 338.1,78.9 338.2,78.7 338.3,83.9 338.4,87.8 338.5,82.4 338.6,84.8 338.7,86.9 338.8,88.1 338.9,83 339,88.6 339.1,80.3 339.2,82.5 339.3,86.8 339.4,82.2 339.5,84.1 339.6,90.2 339.7,88.4 339.8,87.9 339.9,88 340.1,83.6 340.2,87.4 340.3,86.6 340.4,85.6 340.5,85.6 340.6,88 340.7,84.6 340.8,87.2 340.9,86.6 341,93 341.1,90.8 341.2,92.3 341.3,91.4 341.4,95.7 341.5,94.7 341.6,91 341.7,86.9 341.8,86.7 341.9,90.2 342,93.5" fill="none" stroke="#000" stroke-width="1.5" stroke-linejoin="round" />
<rect x="34.4" y="30.4" width="307.6" height="94.5" fill="none" stroke="#6a6a6a" stroke-width="1" />
<line x1="34.4" y1="124.9" x2="40.4" y2="124.9" stroke="#6a6a6a" stroke-width="1" />
<line x1="342" y1="124.9" x2="336" y2="124.9" stroke="#6a6a6a" stroke-width="1" />
<text x="32.3" y="127.8" font-family='"Liberation Serif", serif' font-size="8.3" font-weight="normal" text-anchor="end" fill="#222" >1</text>
<line x1="34.4" y1="111.4" x2="40.4" y2="111.4" stroke="#6a6a6a" stroke-width="1" />
<line x1="342" y1="111.4" x2="336" y2="111.4" stroke="#6a6a6a" stroke-width="1" />
<text x="32.3" y="114.3" font-family='"Liberation Serif", serif' font-size="8.3" font-weight="normal" text-anchor="end" fill="#222" >2</text>
<line x1="34.4" y1="97.9" x2="40.4" y2="97.9" stroke="#6a6a6a" stroke-width="1" />
<line x1="342" y1="97.9" x2="336" y2="97.9" stroke="#6a6a6a" stroke-width="1" />
<text x="32.3" y="100.8" font-family='"Liberation Serif", serif' font-size="8.3" font-weight="normal" text-anchor="end" fill="#222" >3</text>
<line x1="34.4" y1="84.4" x2="40.4" y2="84.4" stroke="#6a6a6a" stroke-width="1" />
<line x1="342" y1="84.4" x2="336" y2="84.4" stroke="#6a6a6a" stroke-width="1" />
<text x="32.3" y="87.3" font-family='"Liberation Serif", serif' font-size="8.3" font-weight="normal" text-anchor="end" fill="#222" >4</text>
<line x1="34.4" y1="70.9" x2="40.4" y2="70.9" stroke="#6a6a6a" stroke-width="1" />
<line x1="342" y1="70.9" x2="336" y2="70.9" stroke="#6a6a6a" stroke-width="1" />
<text x="32.3" y="73.8" font-family='"Liberation Serif", serif' font-size="8.3" font-weight="normal" text-anchor="end" fill="#222" >5</text>
<line x1="34.4" y1="57.4" x2="40.4" y2="57.4" stroke="#6a6a6a" stroke-width="1" />
<line x1="342" y1="57.4" x2="336" y2="57.4" stroke="#6a6a6a" stroke-width="1" />
<text x="32.3" y="60.3" font-family='"Liberation Serif", serif' font-size="8.3" font-weight="normal" text-anchor="end" fill="#222" >6</text>
<line x1="34.4" y1="43.9" x2="40.4" y2="43.9" stroke="#6a6a6a" stroke-width="1" />
<line x1="342" y1="43.9" x2="336" y2="43.9" stroke="#6a6a6a" stroke-width="1" />
<text x="32.3" y="46.8" font-family='"Liberation Serif", serif' font-size="8.3" font-weight="normal" text-anchor="end" fill="#222" >7</text>
<line x1="34.4" y1="30.4" x2="40.4" y2="30.4" stroke="#6a6a6a" stroke-width="1" />
<line x1="342" y1="30.4" x2="336" y2="30.4" stroke="#6a6a6a" stroke-width="1" />
<text x="32.3" y="33.3" font-family='"Liberation Serif", serif' font-size="8.3" font-weight="normal" text-anchor="end" fill="#222" >8</text>
<line x1="34.4" y1="118.15" x2="37.7" y2="118.15" stroke="#6a6a6a" stroke-width="1" />
<line x1="342" y1="118.15" x2="338.7" y2="118.15" stroke="#6a6a6a" stroke-width="1" />
<line x1="34.4" y1="104.65" x2="37.7" y2="104.65" stroke="#6a6a6a" stroke-width="1" />
<line x1="342" y1="104.65" x2="338.7" y2="104.65" stroke="#6a6a6a" stroke-width="1" />
<line x1="34.4" y1="91.15" x2="37.7" y2="91.15" stroke="#6a6a6a" stroke-width="1" />
<line x1="342" y1="91.15" x2="338.7" y2="91.15" stroke="#6a6a6a" stroke-width="1" />
<line x1="34.4" y1="77.65" x2="37.7" y2="77.65" stroke="#6a6a6a" stroke-width="1" />
<line x1="342" y1="77.65" x2="338.7" y2="77.65" stroke="#6a6a6a" stroke-width="1" />
<line x1="34.4" y1="64.15" x2="37.7" y2="64.15" stroke="#6a6a6a" stroke-width="1" />
<line x1="342" y1="64.15" x2="338.7" y2="64.15" stroke="#6a6a6a" stroke-width="1" />
<line x1="34.4" y1="50.65" x2="37.7" y2="50.65" stroke="#6a6a6a" stroke-width="1" />
<line x1="342" y1="50.65" x2="338.7" y2="50.65" stroke="#6a6a6a" stroke-width="1" />
<line x1="34.4" y1="37.15" x2="37.7" y2="37.15" stroke="#6a6a6a" stroke-width="1" />
<line x1="342" y1="37.15" x2="338.7" y2="37.15" stroke="#6a6a6a" stroke-width="1" />
<line x1="34.4" y1="124.9" x2="34.4" y2="119.4" stroke="#6a6a6a" stroke-width="1" />
<line x1="34.4" y1="30.4" x2="34.4" y2="35.9" stroke="#6a6a6a" stroke-width="1" />
<text x="34.4" y="134.6" font-family='"Liberation Serif", serif' font-size="8.3" font-weight="normal" text-anchor="middle" fill="#222" >0</text>
<line x1="111.3" y1="124.9" x2="111.3" y2="119.4" stroke="#6a6a6a" stroke-width="1" />
<line x1="111.3" y1="30.4" x2="111.3" y2="35.9" stroke="#6a6a6a" stroke-width="1" />
<text x="111.3" y="134.6" font-family='"Liberation Serif", serif' font-size="8.3" font-weight="normal" text-anchor="middle" fill="#222" >5000</text>
<line x1="188.2" y1="124.9" x2="188.2" y2="119.4" stroke="#6a6a6a" stroke-width="1" />
<line x1="188.2" y1="30.4" x2="188.2" y2="35.9" stroke="#6a6a6a" stroke-width="1" />
<text x="188.2" y="134.6" font-family='"Liberation Serif", serif' font-size="8.3" font-weight="normal" text-anchor="middle" fill="#222" >10000</text>
<line x1="265.1" y1="124.9" x2="265.1" y2="119.4" stroke="#6a6a6a" stroke-width="1" />
<line x1="265.1" y1="30.4" x2="265.1" y2="35.9" stroke="#6a6a6a" stroke-width="1" />
<text x="265.1" y="134.6" font-family='"Liberation Serif", serif' font-size="8.3" font-weight="normal" text-anchor="middle" fill="#222" >15000</text>
<line x1="342" y1="124.9" x2="342" y2="119.4" stroke="#6a6a6a" stroke-width="1" />
<line x1="342" y1="30.4" x2="342" y2="35.9" stroke="#6a6a6a" stroke-width="1" />
<text x="342" y="134.6" font-family='"Liberation Serif", serif' font-size="8.3" font-weight="normal" text-anchor="middle" fill="#222" >20000</text>
<line x1="72.85" y1="124.9" x2="72.85" y2="121.9" stroke="#6a6a6a" stroke-width="1" />
<line x1="72.85" y1="30.4" x2="72.85" y2="33.4" stroke="#6a6a6a" stroke-width="1" />
<line x1="149.75" y1="124.9" x2="149.75" y2="121.9" stroke="#6a6a6a" stroke-width="1" />
<line x1="149.75" y1="30.4" x2="149.75" y2="33.4" stroke="#6a6a6a" stroke-width="1" />
<line x1="226.65" y1="124.9" x2="226.65" y2="121.9" stroke="#6a6a6a" stroke-width="1" />
<line x1="226.65" y1="30.4" x2="226.65" y2="33.4" stroke="#6a6a6a" stroke-width="1" />
<line x1="303.55" y1="124.9" x2="303.55" y2="121.9" stroke="#6a6a6a" stroke-width="1" />
<line x1="303.55" y1="30.4" x2="303.55" y2="33.4" stroke="#6a6a6a" stroke-width="1" />
<text x="24.2" y="83.6" font-family='"Liberation Sans", sans-serif' font-size="8.8" font-weight="bold" text-anchor="middle" fill="#222" transform="rotate(-90 24.2 83.6)" textLength="38.3" lengthAdjust="spacingAndGlyphs" >RMSD (Å)</text>
<text x="186.8" y="146.8" font-family='"Liberation Sans", sans-serif' font-size="7.9" font-weight="bold" text-anchor="middle" fill="#222" textLength="69.6" lengthAdjust="spacingAndGlyphs" >Frames (time= 20ns)</text>
<text x="4.9" y="21.1" font-family='"Liberation Sans", sans-serif' font-size="24" font-weight="bold" text-anchor="start" fill="#000"  stroke="#000" stroke-width="0.6">A</text>
<rect x="391.75" y="55.9" width="8.1" height="6.32" fill="#8b8b8f" stroke="none" stroke-width="1" />
<rect x="403.83" y="55.9" width="8.1" height="22.78" fill="#8b8b8f" stroke="none" stroke-width="1" />
<rect x="415.91" y="38.9" width="8.1" height="17" fill="#8b8b8f" stroke="none" stroke-width="1" />
<rect x="427.99" y="55.9" width="8.1" height="18.53" fill="#8b8b8f" stroke="none" stroke-width="1" />
<rect x="440.07" y="55.9" width="8.1" height="43.6" fill="#8b8b8f" stroke="none" stroke-width="1" />
<rect x="452.15" y="55.9" width="8.1" height="6.1" fill="#8b8b8f" stroke="none" stroke-width="1" />
<rect x="464.23" y="55.9" width="8.1" height="22.35" fill="#8b8b8f" stroke="none" stroke-width="1" />
<rect x="476.31" y="55.9" width="8.1" height="2.83" fill="#8b8b8f" stroke="none" stroke-width="1" />
<rect x="488.39" y="55.9" width="8.1" height="42.29" fill="#8b8b8f" stroke="none" stroke-width="1" />
<rect x="500.47" y="55.9" width="8.1" height="7.63" fill="#8b8b8f" stroke="none" stroke-width="1" />
<rect x="512.55" y="54.16" width="8.1" height="1.74" fill="#8b8b8f" stroke="none" stroke-width="1" />
<rect x="524.63" y="55.9" width="8.1" height="42.84" fill="#8b8b8f" stroke="none" stroke-width="1" />
<rect x="536.71" y="55.9" width="8.1" height="26.6" fill="#8b8b8f" stroke="none" stroke-width="1" />
<rect x="548.79" y="55.9" width="8.1" height="11.66" fill="#8b8b8f" stroke="none" stroke-width="1" />
<rect x="560.87" y="55.9" width="8.1" height="7.85" fill="#8b8b8f" stroke="none" stroke-width="1" />
<rect x="572.95" y="55.9" width="8.1" height="18.75" fill="#8b8b8f" stroke="none" stroke-width="1" />
<rect x="585.03" y="55.9" width="8.1" height="27.9" fill="#8b8b8f" stroke="none" stroke-width="1" />
<rect x="597.11" y="55.9" width="8.1" height="11.66" fill="#8b8b8f" stroke="none" stroke-width="1" />
<rect x="609.19" y="51.1" width="8.1" height="4.8" fill="#8b8b8f" stroke="none" stroke-width="1" />
<rect x="621.27" y="55.9" width="8.1" height="45.78" fill="#8b8b8f" stroke="none" stroke-width="1" />
<rect x="633.35" y="55.9" width="8.1" height="32.7" fill="#8b8b8f" stroke="none" stroke-width="1" />
<rect x="645.43" y="55.9" width="8.1" height="27.14" fill="#8b8b8f" stroke="none" stroke-width="1" />
<rect x="669.59" y="55.9" width="8.1" height="30.19" fill="#8b8b8f" stroke="none" stroke-width="1" />
<rect x="681.67" y="55.9" width="8.1" height="8.61" fill="#8b8b8f" stroke="none" stroke-width="1" />
<rect x="693.75" y="55.9" width="8.1" height="1.09" fill="#8b8b8f" stroke="none" stroke-width="1" />
<line x1="387.4" y1="77.7" x2="706" y2="77.7" stroke="#444" stroke-width="1" stroke-opacity="0.85"/>
<line x1="387.4" y1="99.5" x2="706" y2="99.5" stroke="#222" stroke-width="1" stroke-opacity="0.85"/>
<line x1="387.4" y1="55.9" x2="706" y2="55.9" stroke="#111" stroke-width="1" />
<line x1="387.4" y1="33.6" x2="387.4" y2="121.9" stroke="#111" stroke-width="1.3" />
<line x1="386.8" y1="121.3" x2="706" y2="121.3" stroke="#111" stroke-width="1.3" />
<line x1="384.6" y1="34.1" x2="387.4" y2="34.1" stroke="#111" stroke-width="1.1" />
<text x="384.2" y="36.5" font-family='"Liberation Sans", sans-serif' font-size="6.8" font-weight="bold" text-anchor="end" fill="#111" >2</text>
<line x1="384.6" y1="55.9" x2="387.4" y2="55.9" stroke="#111" stroke-width="1.1" />
<text x="384.2" y="58.3" font-family='"Liberation Sans", sans-serif' font-size="6.8" font-weight="bold" text-anchor="end" fill="#111" >0</text>
<line x1="384.6" y1="77.7" x2="387.4" y2="77.7" stroke="#111" stroke-width="1.1" />
<text x="384.2" y="80.1" font-family='"Liberation Sans", sans-serif' font-size="6.8" font-weight="bold" text-anchor="end" fill="#111" >-2</text>
<line x1="384.6" y1="99.5" x2="387.4" y2="99.5" stroke="#111" stroke-width="1.1" />
<text x="384.2" y="101.9" font-family='"Liberation Sans", sans-serif' font-size="6.8" font-weight="bold" text-anchor="end" fill="#111" >-4</text>
<line x1="384.6" y1="121.3" x2="387.4" y2="121.3" stroke="#111" stroke-width="1.1" />
<text x="384.2" y="123.7" font-family='"Liberation Sans", sans-serif' font-size="6.8" font-weight="bold" text-anchor="end" fill="#111" >-6</text>
<line x1="395.8" y1="121.3" x2="395.8" y2="124.3" stroke="#111" stroke-width="1.1" />
<text x="399.6" y="132.6" font-family='"Liberation Sans", sans-serif' font-size="7.2" font-weight="bold" text-anchor="end" fill="#111" transform="rotate(-30 399.6 132.6)" >Glu916</text>
<line x1="407.88" y1="121.3" x2="407.88" y2="124.3" stroke="#111" stroke-width="1.1" />
<text x="411.68" y="132.6" font-family='"Liberation Sans", sans-serif' font-size="7.2" font-weight="bold" text-anchor="end" fill="#111" transform="rotate(-30 411.68 132.6)" >Leu917</text>
<line x1="419.96" y1="121.3" x2="419.96" y2="124.3" stroke="#111" stroke-width="1.1" />
<text x="423.76" y="132.6" font-family='"Liberation Sans", sans-serif' font-size="7.2" font-weight="bold" text-anchor="end" fill="#111" transform="rotate(-30 423.76 132.6)" >Ser920</text>
<line x1="432.04" y1="121.3" x2="432.04" y2="124.3" stroke="#111" stroke-width="1.1" />
<text x="435.84" y="132.6" font-family='"Liberation Sans", sans-serif' font-size="7.2" font-weight="bold" text-anchor="end" fill="#111" transform="rotate(-30 435.84 132.6)" >Phe921</text>
<line x1="444.12" y1="121.3" x2="444.12" y2="124.3" stroke="#111" stroke-width="1.1" />
<text x="447.92" y="132.6" font-family='"Liberation Sans", sans-serif' font-size="7.2" font-weight="bold" text-anchor="end" fill="#111" transform="rotate(-30 447.92 132.6)" >Leu924</text>
<line x1="456.2" y1="121.3" x2="456.2" y2="124.3" stroke="#111" stroke-width="1.1" />
<text x="460" y="132.6" font-family='"Liberation Sans", sans-serif' font-size="7.2" font-weight="bold" text-anchor="end" fill="#111" transform="rotate(-30 460 132.6)" >Asp926</text>
<line x1="468.28" y1="121.3" x2="468.28" y2="124.3" stroke="#111" stroke-width="1.1" />
<text x="472.08" y="132.6" font-family='"Liberation Sans", sans-serif' font-size="7.2" font-weight="bold" text-anchor="end" fill="#111" transform="rotate(-30 472.08 132.6)" >Gln927</text>
<line x1="480.36" y1="121.3" x2="480.36" y2="124.3" stroke="#111" stroke-width="1.1" />
<text x="484.16" y="132.6" font-family='"Liberation Sans", sans-serif' font-size="7.2" font-weight="bold" text-anchor="end" fill="#111" transform="rotate(-30 484.16 132.6)" >Val941</text>
<line x1="492.44" y1="121.3" x2="492.44" y2="124.3" stroke="#111" stroke-width="1.1" />
<text x="496.24" y="132.6" font-family='"Liberation Sans", sans-serif' font-size="7.2" font-weight="bold" text-anchor="end" fill="#111" transform="rotate(-30 496.24 132.6)" >leu943</text>
<line x1="504.52" y1="121.3" x2="504.52" y2="124.3" stroke="#111" stroke-width="1.1" />
<text x="508.32" y="132.6" font-family='"Liberation Sans", sans-serif' font-size="7.2" font-weight="bold" text-anchor="end" fill="#111" transform="rotate(-30 508.32 132.6)" >Ala946</text>
<line x1="516.6" y1="121.3" x2="516.6" y2="124.3" stroke="#111" stroke-width="1.1" />
<text x="520.4" y="132.6" font-family='"Liberation Sans", sans-serif' font-size="7.2" font-weight="bold" text-anchor="end" fill="#111" transform="rotate(-30 520.4 132.6)" >Thr947</text>
<line x1="528.68" y1="121.3" x2="528.68" y2="124.3" stroke="#111" stroke-width="1.1" />
<text x="532.48" y="132.6" font-family='"Liberation Sans", sans-serif' font-size="7.2" font-weight="bold" text-anchor="end" fill="#111" transform="rotate(-30 532.48 132.6)" >Ilu950</text>
<line x1="540.76" y1="121.3" x2="540.76" y2="124.3" stroke="#111" stroke-width="1.1" />
<text x="544.56" y="132.6" font-family='"Liberation Sans", sans-serif' font-size="7.2" font-weight="bold" text-anchor="end" fill="#111" transform="rotate(-30 544.56 132.6)" >Val953</text>
<line x1="552.84" y1="121.3" x2="552.84" y2="124.3" stroke="#111" stroke-width="1.1" />
<text x="556.64" y="132.6" font-family='"Liberation Sans", sans-serif' font-size="7.2" font-weight="bold" text-anchor="end" fill="#111" transform="rotate(-30 556.64 132.6)" >Gln954</text>
<line x1="564.92" y1="121.3" x2="564.92" y2="124.3" stroke="#111" stroke-width="1.1" />
<text x="568.72" y="132.6" font-family='"Liberation Sans", sans-serif' font-size="7.2" font-weight="bold" text-anchor="end" fill="#111" transform="rotate(-30 568.72 132.6)" >Glu956</text>
<line x1="577" y1="121.3" x2="577" y2="124.3" stroke="#111" stroke-width="1.1" />
<text x="580.8" y="132.6" font-family='"Liberation Sans", sans-serif' font-size="7.2" font-weight="bold" text-anchor="end" fill="#111" transform="rotate(-30 580.8 132.6)" >Glu957</text>
<line x1="589.08" y1="121.3" x2="589.08" y2="124.3" stroke="#111" stroke-width="1.1" />
<text x="592.88" y="132.6" font-family='"Liberation Sans", sans-serif' font-size="7.2" font-weight="bold" text-anchor="end" fill="#111" transform="rotate(-30 592.88 132.6)" >Leu960</text>
<line x1="601.16" y1="121.3" x2="601.16" y2="124.3" stroke="#111" stroke-width="1.1" />
<text x="604.96" y="132.6" font-family='"Liberation Sans", sans-serif' font-size="7.2" font-weight="bold" text-anchor="end" fill="#111" transform="rotate(-30 604.96 132.6)" >Glu963</text>
<line x1="613.24" y1="121.3" x2="613.24" y2="124.3" stroke="#111" stroke-width="1.1" />
<text x="617.04" y="132.6" font-family='"Liberation Sans", sans-serif' font-size="7.2" font-weight="bold" text-anchor="end" fill="#111" transform="rotate(-30 617.04 132.6)" >Glu964</text>
<line x1="625.32" y1="121.3" x2="625.32" y2="124.3" stroke="#111" stroke-width="1.1" />
<text x="629.12" y="132.6" font-family='"Liberation Sans", sans-serif' font-size="7.2" font-weight="bold" text-anchor="end" fill="#111" transform="rotate(-30 629.12 132.6)" >Leu967</text>
<line x1="637.4" y1="121.3" x2="637.4" y2="124.3" stroke="#111" stroke-width="1.1" />
<text x="641.2" y="132.6" font-family='"Liberation Sans", sans-serif' font-size="7.2" font-weight="bold" text-anchor="end" fill="#111" transform="rotate(-30 641.2 132.6)" >Leu974</text>
<line x1="649.48" y1="121.3" x2="649.48" y2="124.3" stroke="#111" stroke-width="1.1" />
<text x="653.28" y="132.6" font-family='"Liberation Sans", sans-serif' font-size="7.2" font-weight="bold" text-anchor="end" fill="#111" transform="rotate(-30 653.28 132.6)" >Arg971</text>
<line x1="661.56" y1="121.3" x2="661.56" y2="124.3" stroke="#111" stroke-width="1.1" />
<text x="665.36" y="132.6" font-family='"Liberation Sans", sans-serif' font-size="7.2" font-weight="bold" text-anchor="end" fill="#111" transform="rotate(-30 665.36 132.6)" >Lys977</text>
<line x1="673.64" y1="121.3" x2="673.64" y2="124.3" stroke="#111" stroke-width="1.1" />
<text x="677.44" y="132.6" font-family='"Liberation Sans", sans-serif' font-size="7.2" font-weight="bold" text-anchor="end" fill="#111" transform="rotate(-30 677.44 132.6)" >Leu978</text>
<line x1="685.72" y1="121.3" x2="685.72" y2="124.3" stroke="#111" stroke-width="1.1" />
<text x="689.52" y="132.6" font-family='"Liberation Sans", sans-serif' font-size="7.2" font-weight="bold" text-anchor="end" fill="#111" transform="rotate(-30 689.52 132.6)" >Leu981</text>
<line x1="697.8" y1="121.3" x2="697.8" y2="124.3" stroke="#111" stroke-width="1.1" />
<text x="701.6" y="132.6" font-family='"Liberation Sans", sans-serif' font-size="7.2" font-weight="bold" text-anchor="end" fill="#111" transform="rotate(-30 701.6 132.6)" >Cys984</text>
<text x="375.3" y="77.8" font-family='"Liberation Sans", sans-serif' font-size="7" font-weight="bold" text-anchor="middle" fill="#111" transform="rotate(-90 375.3 77.8)" textLength="40.7" lengthAdjust="spacingAndGlyphs" >ΔG kcal/mol</text>
<text x="363.5" y="21.1" font-family='"Liberation Sans", sans-serif' font-size="24" font-weight="bold" text-anchor="start" fill="#000"  stroke="#000" stroke-width="0.6">B</text>
<rect x="39.7" y="240.8" width="8.1" height="5.8" fill="#8b8b8f" stroke="none" stroke-width="1" />
<rect x="52.19" y="229.35" width="8.1" height="17.25" fill="#8b8b8f" stroke="none" stroke-width="1" />
<rect x="64.68" y="246.6" width="8.1" height="7.35" fill="#8b8b8f" stroke="none" stroke-width="1" />
<rect x="77.17" y="229.35" width="8.1" height="17.25" fill="#8b8b8f" stroke="none" stroke-width="1" />
<rect x="89.66" y="212.63" width="8.1" height="33.97" fill="#8b8b8f" stroke="none" stroke-width="1" />
<rect x="102.15" y="240.8" width="8.1" height="5.8" fill="#8b8b8f" stroke="none" stroke-width="1" />
<rect x="114.64" y="194.9" width="8.1" height="51.7" fill="#8b8b8f" stroke="none" stroke-width="1" />
<rect x="139.62" y="205.01" width="8.1" height="41.59" fill="#8b8b8f" stroke="none" stroke-width="1" />
<rect x="152.11" y="246.6" width="8.1" height="2.02" fill="#8b8b8f" stroke="none" stroke-width="1" />
<rect x="164.6" y="208.86" width="8.1" height="37.74" fill="#8b8b8f" stroke="none" stroke-width="1" />
<rect x="177.09" y="232.45" width="8.1" height="14.15" fill="#8b8b8f" stroke="none" stroke-width="1" />
<rect x="189.58" y="229.88" width="8.1" height="16.72" fill="#8b8b8f" stroke="none" stroke-width="1" />
<rect x="202.07" y="223.55" width="8.1" height="23.05" fill="#8b8b8f" stroke="none" stroke-width="1" />
<rect x="214.56" y="185.94" width="8.1" height="60.66" fill="#8b8b8f" stroke="none" stroke-width="1" />
<rect x="227.05" y="220.99" width="8.1" height="25.61" fill="#8b8b8f" stroke="none" stroke-width="1" />
<rect x="239.54" y="238.24" width="8.1" height="8.36" fill="#8b8b8f" stroke="none" stroke-width="1" />
<rect x="252.03" y="246.6" width="8.1" height="15.43" fill="#8b8b8f" stroke="none" stroke-width="1" />
<rect x="264.52" y="221.53" width="8.1" height="25.07" fill="#8b8b8f" stroke="none" stroke-width="1" />
<rect x="277.01" y="214.65" width="8.1" height="31.95" fill="#8b8b8f" stroke="none" stroke-width="1" />
<rect x="289.5" y="208.11" width="8.1" height="38.49" fill="#8b8b8f" stroke="none" stroke-width="1" />
<rect x="314.48" y="224.29" width="8.1" height="22.31" fill="#8b8b8f" stroke="none" stroke-width="1" />
<rect x="326.97" y="236.22" width="8.1" height="10.38" fill="#8b8b8f" stroke="none" stroke-width="1" />
<line x1="35.5" y1="219.64" x2="352.8" y2="219.64" stroke="#333" stroke-width="1" stroke-opacity="0.85"/>
<line x1="35.5" y1="233.12" x2="352.8" y2="233.12" stroke="#333" stroke-width="1" stroke-opacity="0.85"/>
<line x1="35.5" y1="246.6" x2="352.8" y2="246.6" stroke="#111" stroke-width="1" />
<line x1="35.5" y1="178.7" x2="35.5" y2="267.42" stroke="#111" stroke-width="1.3" />
<line x1="34.9" y1="266.82" x2="352.8" y2="266.82" stroke="#111" stroke-width="1.3" />
<line x1="32.7" y1="179.2" x2="35.5" y2="179.2" stroke="#111" stroke-width="1.1" />
<text x="32.2" y="181.6" font-family='"Liberation Sans", sans-serif' font-size="6.8" font-weight="bold" text-anchor="end" fill="#111" >10</text>
<line x1="32.7" y1="192.68" x2="35.5" y2="192.68" stroke="#111" stroke-width="1.1" />
<text x="32.2" y="195.08" font-family='"Liberation Sans", sans-serif' font-size="6.8" font-weight="bold" text-anchor="end" fill="#111" >8</text>
<line x1="32.7" y1="206.16" x2="35.5" y2="206.16" stroke="#111" stroke-width="1.1" />
<text x="32.2" y="208.56" font-family='"Liberation Sans", sans-serif' font-size="6.8" font-weight="bold" text-anchor="end" fill="#111" >6</text>
<line x1="32.7" y1="219.64" x2="35.5" y2="219.64" stroke="#111" stroke-width="1.1" />
<text x="32.2" y="222.04" font-family='"Liberation Sans", sans-serif' font-size="6.8" font-weight="bold" text-anchor="end" fill="#111" >4</text>
<line x1="32.7" y1="233.12" x2="35.5" y2="233.12" stroke="#111" stroke-width="1.1" />
<text x="32.2" y="235.52" font-family='"Liberation Sans", sans-serif' font-size="6.8" font-weight="bold" text-anchor="end" fill="#111" >2</text>
<line x1="32.7" y1="246.6" x2="35.5" y2="246.6" stroke="#111" stroke-width="1.1" />
<text x="32.2" y="249" font-family='"Liberation Sans", sans-serif' font-size="6.8" font-weight="bold" text-anchor="end" fill="#111" >0</text>
<line x1="32.7" y1="260.08" x2="35.5" y2="260.08" stroke="#111" stroke-width="1.1" />
<text x="32.2" y="262.48" font-family='"Liberation Sans", sans-serif' font-size="6.8" font-weight="bold" text-anchor="end" fill="#111" >-2</text>
<line x1="43.75" y1="266.82" x2="43.75" y2="269.82" stroke="#111" stroke-width="1.1" />
<text x="47.55" y="278.12" font-family='"Liberation Sans", sans-serif' font-size="7.2" font-weight="bold" text-anchor="end" fill="#111" transform="rotate(-30 47.55 278.12)" >Glu916</text>
<line x1="56.24" y1="266.82" x2="56.24" y2="269.82" stroke="#111" stroke-width="1.1" />
<text x="60.04" y="278.12" font-family='"Liberation Sans", sans-serif' font-size="7.2" font-weight="bold" text-anchor="end" fill="#111" transform="rotate(-30 60.04 278.12)" >Leu917</text>
<line x1="68.73" y1="266.82" x2="68.73" y2="269.82" stroke="#111" stroke-width="1.1" />
<text x="72.53" y="278.12" font-family='"Liberation Sans", sans-serif' font-size="7.2" font-weight="bold" text-anchor="end" fill="#111" transform="rotate(-30 72.53 278.12)" >Ser920</text>
<line x1="81.22" y1="266.82" x2="81.22" y2="269.82" stroke="#111" stroke-width="1.1" />
<text x="85.02" y="278.12" font-family='"Liberation Sans", sans-serif' font-size="7.2" font-weight="bold" text-anchor="end" fill="#111" transform="rotate(-30 85.02 278.12)" >Phe921</text>
<line x1="93.71" y1="266.82" x2="93.71" y2="269.82" stroke="#111" stroke-width="1.1" />
<text x="97.51" y="278.12" font-family='"Liberation Sans", sans-serif' font-size="7.2" font-weight="bold" text-anchor="end" fill="#111" transform="rotate(-30 97.51 278.12)" >Leu924</text>
<line x1="106.2" y1="266.82" x2="106.2" y2="269.82" stroke="#111" stroke-width="1.1" />
<text x="110" y="278.12" font-family='"Liberation Sans", sans-serif' font-size="7.2" font-weight="bold" text-anchor="end" fill="#111" transform="rotate(-30 110 278.12)" >Asp926</text>
<line x1="118.69" y1="266.82" x2="118.69" y2="269.82" stroke="#111" stroke-width="1.1" />
<text x="122.49" y="278.12" font-family='"Liberation Sans", sans-serif' font-size="7.2" font-weight="bold" text-anchor="end" fill="#111" transform="rotate(-30 122.49 278.12)" >Gln927</text>
<line x1="131.18" y1="266.82" x2="131.18" y2="269.82" stroke="#111" stroke-width="1.1" />
<text x="134.98" y="278.12" font-family='"Liberation Sans", sans-serif' font-size="7.2" font-weight="bold" text-anchor="end" fill="#111" transform="rotate(-30 134.98 278.12)" >Val941</text>
<line x1="143.67" y1="266.82" x2="143.67" y2="269.82" stroke="#111" stroke-width="1.1" />
<text x="147.47" y="278.12" font-family='"Liberation Sans", sans-serif' font-size="7.2" font-weight="bold" text-anchor="end" fill="#111" transform="rotate(-30 147.47 278.12)" >leu943</text>
<line x1="156.16" y1="266.82" x2="156.16" y2="269.82" stroke="#111" stroke-width="1.1" />
<text x="159.96" y="278.12" font-family='"Liberation Sans", sans-serif' font-size="7.2" font-weight="bold" text-anchor="end" fill="#111" transform="rotate(-30 159.96 278.12)" >Thr947</text>
<line x1="168.65" y1="266.82" x2="168.65" y2="269.82" stroke="#111" stroke-width="1.1" />
<text x="172.45" y="278.12" font-family='"Liberation Sans", sans-serif' font-size="7.2" font-weight="bold" text-anchor="end" fill="#111" transform="rotate(-30 172.45 278.12)" >Ilu950</text>
<line x1="181.14" y1="266.82" x2="181.14" y2="269.82" stroke="#111" stroke-width="1.1" />
<text x="184.94" y="278.12" font-family='"Liberation Sans", sans-serif' font-size="7.2" font-weight="bold" text-anchor="end" fill="#111" transform="rotate(-30 184.94 278.12)" >Val953</text>
<line x1="193.63" y1="266.82" x2="193.63" y2="269.82" stroke="#111" stroke-width="1.1" />
<text x="197.43" y="278.12" font-family='"Liberation Sans", sans-serif' font-size="7.2" font-weight="bold" text-anchor="end" fill="#111" transform="rotate(-30 197.43 278.12)" >Gln954</text>
<line x1="206.12" y1="266.82" x2="206.12" y2="269.82" stroke="#111" stroke-width="1.1" />
<text x="209.92" y="278.12" font-family='"Liberation Sans", sans-serif' font-size="7.2" font-weight="bold" text-anchor="end" fill="#111" transform="rotate(-30 209.92 278.12)" >Glu956</text>
<line x1="218.61" y1="266.82" x2="218.61" y2="269.82" stroke="#111" stroke-width="1.1" />
<text x="222.41" y="278.12" font-family='"Liberation Sans", sans-serif' font-size="7.2" font-weight="bold" text-anchor="end" fill="#111" transform="rotate(-30 222.41 278.12)" >Glu957</text>
<line x1="231.1" y1="266.82" x2="231.1" y2="269.82" stroke="#111" stroke-width="1.1" />
<text x="234.9" y="278.12" font-family='"Liberation Sans", sans-serif' font-size="7.2" font-weight="bold" text-anchor="end" fill="#111" transform="rotate(-30 234.9 278.12)" >Leu960</text>
<line x1="243.59" y1="266.82" x2="243.59" y2="269.82" stroke="#111" stroke-width="1.1" />
<text x="247.39" y="278.12" font-family='"Liberation Sans", sans-serif' font-size="7.2" font-weight="bold" text-anchor="end" fill="#111" transform="rotate(-30 247.39 278.12)" >Glu963</text>
<line x1="256.08" y1="266.82" x2="256.08" y2="269.82" stroke="#111" stroke-width="1.1" />
<text x="259.88" y="278.12" font-family='"Liberation Sans", sans-serif' font-size="7.2" font-weight="bold" text-anchor="end" fill="#111" transform="rotate(-30 259.88 278.12)" >Glu964</text>
<line x1="268.57" y1="266.82" x2="268.57" y2="269.82" stroke="#111" stroke-width="1.1" />
<text x="272.37" y="278.12" font-family='"Liberation Sans", sans-serif' font-size="7.2" font-weight="bold" text-anchor="end" fill="#111" transform="rotate(-30 272.37 278.12)" >Leu967</text>
<line x1="281.06" y1="266.82" x2="281.06" y2="269.82" stroke="#111" stroke-width="1.1" />
<text x="284.86" y="278.12" font-family='"Liberation Sans", sans-serif' font-size="7.2" font-weight="bold" text-anchor="end" fill="#111" transform="rotate(-30 284.86 278.12)" >Leu974</text>
<line x1="293.55" y1="266.82" x2="293.55" y2="269.82" stroke="#111" stroke-width="1.1" />
<text x="297.35" y="278.12" font-family='"Liberation Sans", sans-serif' font-size="7.2" font-weight="bold" text-anchor="end" fill="#111" transform="rotate(-30 297.35 278.12)" >Arg971</text>
<line x1="306.04" y1="266.82" x2="306.04" y2="269.82" stroke="#111" stroke-width="1.1" />
<text x="309.84" y="278.12" font-family='"Liberation Sans", sans-serif' font-size="7.2" font-weight="bold" text-anchor="end" fill="#111" transform="rotate(-30 309.84 278.12)" >Lys977</text>
<line x1="318.53" y1="266.82" x2="318.53" y2="269.82" stroke="#111" stroke-width="1.1" />
<text x="322.33" y="278.12" font-family='"Liberation Sans", sans-serif' font-size="7.2" font-weight="bold" text-anchor="end" fill="#111" transform="rotate(-30 322.33 278.12)" >Leu978</text>
<line x1="331.02" y1="266.82" x2="331.02" y2="269.82" stroke="#111" stroke-width="1.1" />
<text x="334.82" y="278.12" font-family='"Liberation Sans", sans-serif' font-size="7.2" font-weight="bold" text-anchor="end" fill="#111" transform="rotate(-30 334.82 278.12)" >Leu981</text>
<line x1="343.51" y1="266.82" x2="343.51" y2="269.82" stroke="#111" stroke-width="1.1" />
<text x="347.31" y="278.12" font-family='"Liberation Sans", sans-serif' font-size="7.2" font-weight="bold" text-anchor="end" fill="#111" transform="rotate(-30 347.31 278.12)" >Ala946</text>
<text x="21.5" y="222.8" font-family='"Liberation Sans", sans-serif' font-size="7" font-weight="bold" text-anchor="middle" fill="#111" transform="rotate(-90 21.5 222.8)" textLength="44.7" lengthAdjust="spacingAndGlyphs" >ΔΔG kcal/mol</text>
<text x="5" y="165" font-family='"Liberation Sans", sans-serif' font-size="24" font-weight="bold" text-anchor="start" fill="#000"  stroke="#000" stroke-width="0.6">C</text>
<rect x="43" y="311.8" width="625.6" height="269.3" fill="#fdfdfd" stroke="none" stroke-width="1" />
<rect x="112.2" y="321.64" width="547.83" height="98.46" fill="#fdfdfd" stroke="none" stroke-width="1" />
<rect x="112.2" y="436.19" width="547.83" height="98.21" fill="#fdfdfd" stroke="none" stroke-width="1" />
<polyline points="112.2,420.1 112.3,406.9 112.5,376 112.6,376.3 112.7,389.6 112.8,400.6 113,405.7 113.1,389 113.2,388.8 113.3,381.4 113.5,379.6 113.6,389.6 113.7,388.7 113.8,388.6 114,395.4 114.1,394.6 114.2,399 114.3,391.6 114.5,385.7 114.6,387.3 114.7,387.2 114.8,385.6 115,388.9 115.1,397 115.2,394.2 115.3,389.8 115.5,394 115.6,385.7 115.7,378.4 115.8,378.2 116,389.2 116.1,392 116.2,386.9 116.3,388.1 116.5,396.5 116.6,391.5 116.7,389.5 116.9,379.1 117,377.6 117.1,383.4 117.2,378.8 117.4,379.1 117.5,379.3 117.6,368.8 117.7,376.2 117.9,384.2 118,383 118.1,387.7 118.2,382.2 118.4,386 118.5,387.4 118.6,386.5 118.7,391.2 118.9,390.2 119,385.5 119.1,387.2 119.2,380.1 119.4,379.9 119.5,383.5 119.6,382 119.7,380.7 119.9,388.1 120,387.5 120.1,389.1 120.2,386.4 120.4,382.9 120.5,389.5 120.6,383.5 120.7,387.6 120.9,385.8 121,381.9 121.1,381.1 121.3,384.9 121.4,379.8 121.5,377.8 121.6,381.3 121.8,377.5 121.9,381.7 122,376.2 122.1,371.8 122.3,376.6 122.4,369.1 122.5,374.3 122.6,372.4 122.8,367.4 122.9,370.2 123,368.1 123.1,366.8 123.3,363.7 123.4,365.8 123.5,369.8 123.6,370.8 123.8,370.2 123.9,362.9 124,365 124.1,362.7 124.3,362.3 124.4,365 124.5,364.5 124.6,359.5 124.8,363.6 124.9,362.9 125,360.2 125.1,366.2 125.3,364.3 125.4,359.6 125.5,365.4 125.7,363.8 125.8,362.7 125.9,355.3 126,353.5 126.2,358.8 126.3,355.6 126.4,355.9 126.5,354.8 126.7,355.2 126.8,352.4 126.9,350.8 127,355.6 127.2,355.5 127.3,353.8 127.4,351.8 127.5,349.3 127.7,347 127.8,350.9 127.9,352.8 128,347.7 128.2,346.3 128.3,349.7 128.4,346.1 128.5,345.7 128.7,350 128.8,345.4 128.9,352.1 129,346.3 129.2,351.6 129.3,351.9 129.4,348.7 129.6,344.5 129.7,341.4 129.8,348.4 129.9,343.1 130.1,346 130.2,347.8 130.3,342.5 130.4,344.7 130.6,346.3 130.7,343.9 130.8,342.6 130.9,340.1 131.1,340.2 131.2,343.9 131.3,339.3 131.4,339.8 131.6,342.2 131.7,345 131.8,341.1 131.9,342.6 132.1,339.2 132.2,338.4 132.3,342.1 132.4,338.4 132.6,339.1 132.7,338.2 132.8,338.9 132.9,338.9 133.1,335.4 133.2,337 133.3,335.9 133.4,339.9 133.6,332.8 133.7,339.2 133.8,337.9 134,333.1 134.1,333.7 134.2,332.1 134.3,333.6 134.5,336.4 134.6,333.2 134.7,334.6 134.8,330.3 135,330.4 135.1,330.5 135.2,327.5 135.3,326.9 135.5,326.5 135.6,329.7 135.7,331.3 135.8,333.6 136,331.3 136.1,339.1 136.2,337.5 136.3,340 136.5,341.6 136.6,340.5 136.7,340.9 136.8,342 137,348.8 137.1,348.9 137.2,347.8 137.3,345.4 137.5,343.4 137.6,351.2 137.7,345.6 137.8,345.6 138,348.2 138.1,347.6 138.2,349.6 138.4,350.2 138.5,352.1 138.6,356 138.7,354.2 138.9,354.3 139,354.9 139.1,355.3 139.2,356.1 139.4,352.4 139.5,350.3 139.6,351 139.7,352.6 139.9,351.7 140,348.7 140.1,353.5 140.2,350.3 140.4,353.2 140.5,355.4 140.6,352.9 140.7,355.2 140.9,356.2 141,354.1 141.1,352.9 141.2,353.1 141.4,350.9 141.5,356.4 141.6,356.3 141.7,349.4 141.9,350.6 142,352 142.1,350.1 142.2,350.6 142.4,351.2 142.5,351.5 142.6,353.8 142.8,353.5 142.9,353.3 143,350.4 143.1,353.3 143.3,352.3 143.4,356.9 143.5,356 143.6,355.3 143.8,350.4 143.9,354.5 144,351.5 144.1,349.8 144.3,350.7 144.4,351 144.5,351.2 144.6,355.8 144.8,354.7 144.9,353.5 145,356.8 145.1,357.5 145.3,356.9 145.4,358.2 145.5,358.2 145.6,355.7 145.8,358.8 145.9,357.4 146,353.7 146.1,356.5 146.3,355.7 146.4,353.6 146.5,358.1 146.6,357.3 146.8,353.1 146.9,359.1 147,356.2 147.2,355.2 147.3,356.7 147.4,354.8 147.5,358.6 147.7,353.8 147.8,356.4 147.9,354.5 148,355.5 148.2,354.2 148.3,357.8 148.4,358.1 148.5,356.4 148.7,353.8 148.8,353.5 148.9,360.3 149,357.1 149.2,357.7 149.3,360.8 149.4,360.6 149.5,356.1 149.7,357.5 149.8,356.1 149.9,356.8 150,352.4 150.2,356.4 150.3,357.3 150.4,354.6 150.5,350.5 150.7,354.4 150.8,357.9 150.9,357.1 151,353.2 151.2,358.6 151.3,358.4 151.4,357.9 151.6,355.5 151.7,356.8 151.8,355 151.9,354.5 152.1,355 152.2,355.6 152.3,354.9 152.4,355 152.6,352.5 152.7,351.3 152.8,356.5 152.9,358 153.1,354.8 153.2,359.1 153.3,358.1 153.4,357.5 153.6,359.6 153.7,358.9 153.8,359.1 153.9,357.5 154.1,358.4 154.2,355.1 154.3,355.1 154.4,353.9 154.6,352.3 154.7,357.7 154.8,357.1 154.9,356 155.1,355.3 155.2,356.7 155.3,355.1 155.5,357.6 155.6,354.7 155.7,357.4 155.8,356.3 156,356.5 156.1,356.4 156.2,356.5 156.3,352.9 156.5,353.1 156.6,351.1 156.7,351.7 156.8,354.2 157,353.3 157.1,355.1 157.2,351.4 157.3,355.8 157.5,354.7 157.6,352.8 157.7,351.3 157.8,353.2 158,353.3 158.1,349.4 158.2,351.9 158.3,349.1 158.5,353.7 158.6,352.8 158.7,351 158.8,350.8 159,353.2 159.1,350.4 159.2,351.1 159.3,352.1 159.5,351.9 159.6,354 159.7,354.6 159.9,354 160,351.2 160.1,352.6 160.2,353.1 160.4,348.3 160.5,348.8 160.6,347.8 160.7,347.7 160.9,348.2 161,346.8 161.1,347.9 161.2,350.4 161.4,350.2 161.5,351.6 161.6,349.5 161.7,349.5 161.9,351.9 162,348 162.1,352 162.2,350.2 162.4,348.8 162.5,352.7 162.6,352.8 162.7,349.8 162.9,351.3 163,347.8 163.1,348.8 163.2,352 163.4,351.3 163.5,353.5 163.6,351 163.7,347.9 163.9,353.3 164,351.4 164.1,352.6 164.3,352.9 164.4,348.2 164.5,348.7 164.6,350.2 164.8,346.5 164.9,348.4 165,345.4 165.1,350.2 165.3,345.2 165.4,348 165.5,345.6 165.6,349.1 165.8,347.3 165.9,345.3 166,350 166.1,346 166.3,347.2 166.4,348.3 166.5,346.8 166.6,345.9 166.8,346.8 166.9,347.6 167,350.2 167.1,345.5 167.3,348.4 167.4,345.5 167.5,349.3 167.6,346.7 167.8,347.6 167.9,346.7 168,347.3 168.1,346.1 168.3,341.9 168.4,343.7 168.5,345 168.7,344.7 168.8,346 168.9,344.7 169,345.8 169.2,345.8 169.3,345.5 169.4,348.1 169.5,343.1 169.7,347.3 169.8,346.3 169.9,347 170,346.1 170.2,344.2 170.3,344.3 170.4,347.7 170.5,343.2 170.7,346.3 170.8,344.4 170.9,347.2 171,345.4 171.2,346.1 171.3,344.9 171.4,344.5 171.5,342.8 171.7,343.6 171.8,344 171.9,342.7 172,344.8 172.2,341.5 172.3,343.3 172.4,346 172.5,347.3 172.7,344.3 172.8,347.6 172.9,344.3 173.1,346.1 173.2,345.6 173.3,343.3 173.4,346.9 173.6,346.5 173.7,347.5 173.8,344.6 173.9,344.3 174.1,348.5 174.2,345.9 174.3,347.8 174.4,347.9 174.6,345.7 174.7,346.1 174.8,349.7 174.9,346.9 175.1,350.9 175.2,346.1 175.3,350.8 175.4,347.3 175.6,351.4 175.7,349.7 175.8,349.4 175.9,349.4 176.1,348.7 176.2,345.3 176.3,347.5 176.4,347.1 176.6,348.8 176.7,348.4 176.8,343.8 176.9,347.7 177.1,346.4 177.2,350.1 177.3,348.2 177.5,347.2 177.6,351.9 177.7,352.5 177.8,348 178,350.6 178.1,350 178.2,348.5 178.3,347.3 178.5,347.7 178.6,350.3 178.7,347.2 178.8,347.3 179,349.6 179.1,349.6 179.2,347 179.3,348 179.5,350.4 179.6,351.4 179.7,348.5 179.8,347.3 180,351.9 180.1,352.9 180.2,349.4 180.3,351.8 180.5,349.9 180.6,353.2 180.7,352 180.8,351.4 181,353 181.1,353.2 181.2,348.5 181.4,351.1 181.5,350.1 181.6,352 181.7,347.8 181.9,348.5 182,351.1 182.1,353 182.2,352.5 182.4,353.8 182.5,352.6 182.6,350.6 182.7,353.7 182.9,352.3 183,350.1 183.1,351.3 183.2,350.3 183.4,351.9 183.5,351.5 183.6,350.6 183.7,350.6 183.9,348.8 184,350 184.1,349.9 184.2,349.2 184.4,351.7 184.5,349.3 184.6,346.3 184.7,349.4 184.9,349.8 185,347.4 185.1,351 185.2,352.8 185.4,349.1 185.5,350.3 185.6,351.9 185.8,351.2 185.9,351.4 186,350.6 186.1,350.5 186.3,349.8 186.4,350.1 186.5,347 186.6,345.6 186.8,345.7 186.9,347.8 187,345.8 187.1,346.7 187.3,349.2 187.4,349.6 187.5,347.1 187.6,347.8 187.8,350.5 187.9,346.6 188,350 188.1,349.8 188.3,345.7 188.4,348 188.5,347.2 188.6,348.1 188.8,348.9 188.9,348.8 189,346.4 189.1,349 189.3,350.3 189.4,351.6 189.5,348.2 189.6,349 189.8,346.4 189.9,347.4 190,346.7 190.2,346.3 190.3,347.2 190.4,347.6 190.5,350.8 190.7,349.5 190.8,350.1 190.9,348.3 191,347.3 191.2,347.7 191.3,351.3 191.4,349.6 191.5,348.3 191.7,351.6 191.8,351.4 191.9,348.3 192,350.1 192.2,351.2 192.3,351.1 192.4,348.5 192.5,351.8 192.7,351.9 192.8,351.3 192.9,352.4 193,350.8 193.2,353.5 193.3,348.3 193.4,350 193.5,352.7 193.7,349.6 193.8,353.7 193.9,351.4 194,351.1 194.2,352 194.3,349.1 194.4,349.9 194.6,348.5 194.7,347.4 194.8,351.7 194.9,351.4 195.1,347.7 195.2,351.2 195.3,349.6 195.4,352.3 195.6,352.3 195.7,352.6 195.8,348.5 195.9,348.4 196.1,348.9 196.2,350.6 196.3,348.4 196.4,352 196.6,346.9 196.7,347.3 196.8,346.6 196.9,347.4 197.1,347.1 197.2,345.4 197.3,344.3 197.4,346.7 197.6,347.2 197.7,346.6 197.8,344 197.9,347.8 198.1,346.9 198.2,345.7 198.3,343.9 198.4,345.2 198.6,344.4 198.7,346.9 198.8,344.9 199,346 199.1,346.6 199.2,349.6 199.3,347.7 199.5,346.9 199.6,347 199.7,348.1 199.8,348.4 200,343.6 200.1,345.5 200.2,347 200.3,346.8 200.5,347.8 200.6,346.5 200.7,344.7 200.8,344.7 201,345.1 201.1,346.3 201.2,345.7 201.3,343.9 201.5,345.8 201.6,348.5 201.7,347.4 201.8,346.8 202,344.5 202.1,346.7 202.2,348.2 202.3,344.8 202.5,344 202.6,344.5 202.7,344.7 202.8,347.5 203,343.9 203.1,346.1 203.2,346.6 203.4,346.4 203.5,349.5 203.6,349 203.7,346.6 203.9,348.6 204,348.5 204.1,349 204.2,345.4 204.4,345.7 204.5,345.7 204.6,345.6 204.7,348.9 204.9,348.5 205,350.6 205.1,345.6 205.2,350.2 205.4,349.9 205.5,348.4 205.6,349.4 205.7,346.6 205.9,348 206,351.1 206.1,345 206.2,345.1 206.4,348.2 206.5,347 206.6,348.2 206.7,352.7 206.9,350.8 207,353.2 207.1,351.6 207.3,353.3 207.4,351.7 207.5,351.8 207.6,352 207.8,354.2 207.9,349.2 208,349.6 208.1,348.8 208.3,348.6 208.4,350.7 208.5,348.7 208.6,348.3 208.8,348 208.9,347.2 209,349.4 209.1,348.8 209.3,347.7 209.4,347.2 209.5,347.5 209.6,350.8 209.8,347.1 209.9,348.4 210,346.5 210.1,349.4 210.3,347.5 210.4,348.4 210.5,347.4 210.6,348.5 210.8,346.6 210.9,347.6 211,347.9 211.1,347.1 211.3,345.3 211.4,349.8 211.5,348.6 211.7,347.4 211.8,345.8 211.9,348.4 212,344.1 212.2,348.6 212.3,347.4 212.4,349 212.5,348.2 212.7,347.6 212.8,349.3 212.9,351.3 213,349.1 213.2,346.2 213.3,347.6 213.4,351.4 213.5,350.7 213.7,347.1 213.8,351.7 213.9,349 214,346.6 214.2,349.9 214.3,350.5 214.4,351.4 214.5,348.5 214.7,350.7 214.8,352.5 214.9,349.8 215,352.2 215.2,353.3 215.3,349 215.4,348.9 215.5,348.1 215.7,352.1 215.8,348.5 215.9,348.9 216.1,347 216.2,347.1 216.3,348.1 216.4,347.7 216.6,347.1 216.7,350 216.8,349.6 216.9,352 217.1,348.1 217.2,350.8 217.3,348.5 217.4,351.3 217.6,351.7 217.7,348.7 217.8,350.9 217.9,349.5 218.1,353.7 218.2,352.5 218.3,350.4 218.4,349.9 218.6,350.8 218.7,352.1 218.8,349.1 218.9,350.3 219.1,348 219.2,349.9 219.3,345.8 219.4,348.3 219.6,344.9 219.7,344.9 219.8,346.9 219.9,351.5 220.1,349.5 220.2,349.9 220.3,350.1 220.5,350.7 220.6,351.4 220.7,348.7 220.8,351.3 221,348.8 221.1,347.1 221.2,349.7 221.3,345.7 221.5,347.9 221.6,346.4 221.7,347.7 221.8,346.8 222,346.5 222.1,349.4 222.2,350.1 222.3,349.3 222.5,347.5 222.6,348.1 222.7,348.9 222.8,348.5 223,349.2 223.1,344.5 223.2,344.7 223.3,349 223.5,344.6 223.6,345 223.7,348.6 223.8,346 224,348.4 224.1,350.6 224.2,349.6 224.3,347 224.5,351.8 224.6,352.3 224.7,348.6 224.9,347 225,351.8 225.1,349.9 225.2,347.5 225.4,346.1 225.5,347.9 225.6,347.4 225.7,347.7 225.9,349.5 226,347.3 226.1,350.3 226.2,348.3 226.4,351.2 226.5,346.7 226.6,351.6 226.7,351.5 226.9,348.8 227,349.3 227.1,348.1 227.2,347.1 227.4,348.2 227.5,346.4 227.6,348.6 227.7,350.1 227.9,345.7 228,350.1 228.1,348.3 228.2,345.6 228.4,347.5 228.5,350.5 228.6,348.1 228.7,346.1 228.9,346.6 229,350.8 229.1,346.7 229.3,349.7 229.4,348 229.5,346.2 229.6,350.1 229.8,347 229.9,346.7 230,348.6 230.1,350.3 230.3,346.6 230.4,347.4 230.5,347.8 230.6,350.9 230.8,349.4 230.9,346.3 231,345.4 231.1,350.1 231.3,350 231.4,345.5 231.5,346.6 231.6,348.9 231.8,347.3 231.9,348.2 232,349 232.1,345.1 232.3,349.6 232.4,344.5 232.5,347.7 232.6,347.3 232.8,350.9 232.9,350.9 233,350.1 233.2,350.3 233.3,348.7 233.4,349 233.5,350.2 233.7,349.8 233.8,349 233.9,346.8 234,346.1 234.2,345 234.3,346.5 234.4,347.6 234.5,348.4 234.7,349 234.8,346.7 234.9,345.7 235,345.9 235.2,345.1 235.3,348.4 235.4,345.8 235.5,348.5 235.7,348.8 235.8,344.6 235.9,350.6 236,346.7 236.2,346.3 236.3,344.9 236.4,347.2 236.5,347.9 236.7,347.9 236.8,349.8 236.9,345.7 237,347.2 237.2,346.7 237.3,343.8 237.4,346.3 237.6,343.7 237.7,346.3 237.8,341.8 237.9,346.4 238.1,343.4 238.2,343.1 238.3,342.7 238.4,344 238.6,346.6 238.7,346.3 238.8,344.8 238.9,346.8 239.1,342.7 239.2,345.3 239.3,345.9 239.4,344.5 239.6,342.5 239.7,345.1 239.8,347.4 239.9,345.9 240.1,344.8 240.2,343.9 240.3,346.3 240.4,347 240.6,344.2 240.7,344 240.8,343.9 240.9,343.6 241.1,344.3 241.2,346.5 241.3,347.9 241.4,342.9 241.6,344.3 241.7,347.4 241.8,344 242,347.5 242.1,348.1 242.2,344 242.3,348.3 242.5,347.1 242.6,343.9 242.7,344.9 242.8,347.3 243,342.6 243.1,346.2 243.2,342.9 243.3,343.2 243.5,346.2 243.6,343.5 243.7,342.3 243.8,344.3 244,343.7 244.1,340.8 244.2,340.6 244.3,343.9 244.5,341.9 244.6,345.8 244.7,345.8 244.8,343.7 245,346.2 245.1,345.2 245.2,344.5 245.3,346.3 245.5,344.5 245.6,343.9 245.7,346.3 245.8,344 246,346.3 246.1,347.2 246.2,347.5 246.4,346.4 246.5,343.9 246.6,346 246.7,344.5 246.9,346.9 247,343.9 247.1,343.4 247.2,346.4 247.4,348 247.5,347.2 247.6,347.7 247.7,345.2 247.9,346.4 248,347.5 248.1,346.9 248.2,348.2 248.4,346.9 248.5,347.4 248.6,346 248.7,347.6 248.9,348.9 249,346.4 249.1,347.8 249.2,345.1 249.4,346.8 249.5,343.2 249.6,344.8 249.7,344.6 249.9,341.8 250,342.9 250.1,341.8 250.2,340.3 250.4,341.7 250.5,341 250.6,341.7 250.8,342.9 250.9,346.5 251,342.3 251.1,343.3 251.3,345.3 251.4,346.5 251.5,343 251.6,346.5 251.8,347.4 251.9,345.6 252,345.4 252.1,346.9 252.3,342.5 252.4,346.9 252.5,343.9 252.6,341.3 252.8,346.3 252.9,342.8 253,346.3 253.1,341.8 253.3,342.7 253.4,346 253.5,343.3 253.6,347.1 253.8,344.7 253.9,342.7 254,343.8 254.1,342.8 254.3,344 254.4,343.7 254.5,345.8 254.6,345.2 254.8,346.6 254.9,342.1 255,346.7 255.2,345.7 255.3,342.5 255.4,347.6 255.5,344.4 255.7,347.2 255.8,346.9 255.9,348.7 256,348.4 256.2,346.4 256.3,347.5 256.4,343.7 256.5,344.6 256.7,343.6 256.8,347.3 256.9,347.1 257,346.1 257.2,347.2 257.3,346.8 257.4,345.4 257.5,343.1 257.7,345.7 257.8,348.4 257.9,343.9 258,342.6 258.2,346.5 258.3,343.7 258.4,342.9 258.5,342 258.7,344.2 258.8,342.3 258.9,342.5 259.1,345.2 259.2,342.3 259.3,343.4 259.4,343.9 259.6,344 259.7,343.5 259.8,348 259.9,345.6 260.1,348.7 260.2,350.4 260.3,349.8 260.4,351.8 260.6,350.3 260.7,349.4 260.8,354.7 260.9,354 261.1,354.1 261.2,349.5 261.3,352.9 261.4,350.8 261.6,350.3 261.7,352.3 261.8,353.8 261.9,354.1 262.1,352.2 262.2,354.7 262.3,352.3 262.4,352.1 262.6,351.8 262.7,351.7 262.8,351.9 262.9,351.9 263.1,352.3 263.2,352.1 263.3,355 263.5,354.8 263.6,353.8 263.7,355.1 263.8,357.1 264,354.8 264.1,357.6 264.2,356.2 264.3,355.8 264.5,355.6 264.6,351.7 264.7,354.6 264.8,354 265,354.8 265.1,353.1 265.2,354.7 265.3,352.3 265.5,349.9 265.6,351.5 265.7,353.8 265.8,352.2 266,351.2 266.1,353 266.2,350.4 266.3,353.2 266.5,348.8 266.6,352.2 266.7,350.5 266.8,353.8 267,351.5 267.1,352.9 267.2,350.8 267.3,353.7 267.5,351 267.6,352.6 267.7,349.4 267.9,348 268,351.6 268.1,351.4 268.2,350.9 268.4,349.8 268.5,348.2 268.6,348 268.7,351.3 268.9,349.1 269,350.5 269.1,351.2 269.2,352 269.4,348.9 269.5,349.3 269.6,349.8 269.7,348.3 269.9,349.6 270,352.2 270.1,348 270.2,349.2 270.4,347.5 270.5,349 270.6,350.7 270.7,353.9 270.9,352.5 271,349.8 271.1,351.3 271.2,352.1 271.4,354.9 271.5,353.9 271.6,353.5 271.7,353.5 271.9,350.2 272,351.1 272.1,352 272.3,352.5 272.4,351.4 272.5,348.8 272.6,351.6 272.8,353.3 272.9,350.1 273,353.6 273.1,352.9 273.3,352.4 273.4,355 273.5,353.1 273.6,350.6 273.8,351.6 273.9,352.6 274,351.9 274.1,354.2 274.3,351.6 274.4,353.4 274.5,351.4 274.6,353.9 274.8,355.4 274.9,354.4 275,351.3 275.1,351.8 275.3,350.3 275.4,352.2 275.5,353.3 275.6,353.2 275.8,349.9 275.9,349.9 276,351.2 276.1,351.2 276.3,350.3 276.4,349.8 276.5,353.4 276.7,352.2 276.8,349.1 276.9,349 277,352.7 277.2,349.8 277.3,354.1 277.4,352.6 277.5,354.3 277.7,354.9 277.8,352.1 277.9,355.8 278,353.1 278.2,353.5 278.3,351.1 278.4,353.3 278.5,351.6 278.7,352.7 278.8,351 278.9,354.8 279,354.4 279.2,351.1 279.3,351.8 279.4,349.5 279.5,349.7 279.7,350.8 279.8,349.6 279.9,353.8 280,353 280.2,350 280.3,350.3 280.4,352.9 280.5,350.7 280.7,350.8 280.8,349.2 280.9,351.1 281.1,347.4 281.2,347.3 281.3,352.5 281.4,351.4 281.6,350.6 281.7,349.1 281.8,353 281.9,352.6 282.1,354 282.2,351.4 282.3,354.6 282.4,349.6 282.6,353.3 282.7,351.8 282.8,352.5 282.9,352.9 283.1,348.6 283.2,348.6 283.3,353 283.4,349.7 283.6,353 283.7,353.2 283.8,353.7 283.9,353.4 284.1,351.7 284.2,352.3 284.3,351.6 284.4,354.5 284.6,350.8 284.7,353.8 284.8,351.7 285,350.5 285.1,353.6 285.2,351.3 285.3,350 285.5,354.8 285.6,349 285.7,353.5 285.8,352.8 286,351.5 286.1,352 286.2,350.9 286.3,349.5 286.5,348.3 286.6,346.6 286.7,347.1 286.8,349.5 287,348 287.1,347.8 287.2,350.9 287.3,352.2 287.5,352 287.6,349.2 287.7,351.3 287.8,351.6 288,349.2 288.1,350.3 288.2,352.6 288.3,348.3 288.5,348.4 288.6,351.7 288.7,352.6 288.8,348.9 289,351 289.1,346.2 289.2,351.2 289.4,349.4 289.5,350.8 289.6,348.3 289.7,347.2 289.9,346.2 290,349.1 290.1,346.7 290.2,350.8 290.4,350.3 290.5,353.2 290.6,350.5 290.7,351.5 290.9,352.2 291,347.3 291.1,352.2 291.2,352.3 291.4,350 291.5,350.9 291.6,350.9 291.7,349.9 291.9,349.1 292,352.6 292.1,351.9 292.2,351.7 292.4,354.3 292.5,353 292.6,355 292.7,353.1 292.9,351.1 293,352.5 293.1,351.4 293.2,354.5 293.4,352.5 293.5,354.4 293.6,352.9 293.8,351.7 293.9,354.6 294,350.7 294.1,351.8 294.3,356.3 294.4,353.8 294.5,355.7 294.6,351.3 294.8,351.4 294.9,353.7 295,350.4 295.1,349.8 295.3,350.6 295.4,353.6 295.5,352.5 295.6,349.1 295.8,351.8 295.9,351 296,349.4 296.1,350.4 296.3,350.1 296.4,351.8 296.5,351.2 296.6,350.4 296.8,351.4 296.9,349.8 297,352.3 297.1,351.6 297.3,351.8 297.4,352.2 297.5,349.5 297.6,347.7 297.8,347.4 297.9,347.6 298,347.2 298.2,349.7 298.3,347.7 298.4,343.8 298.5,344.1 298.7,347.8 298.8,345 298.9,348.4 299,349.6 299.2,349.8 299.3,346 299.4,348.3 299.5,346.3 299.7,350.2 299.8,345.4 299.9,348.6 300,346.1 300.2,350.8 300.3,347.7 300.4,351.7 300.5,348.1 300.7,346.9 300.8,347.4 300.9,349.7 301,351.2 301.2,350.9 301.3,348.9 301.4,346.5 301.5,350.5 301.7,346.7 301.8,349 301.9,350.9 302,347.7 302.2,351 302.3,348.1 302.4,347.7 302.6,351.3 302.7,350.3 302.8,352.1 302.9,349.3 303.1,352 303.2,351.4 303.3,346 303.4,348.3 303.6,349.5 303.7,350.9 303.8,351.6 303.9,349.2 304.1,351.4 304.2,349.5 304.3,353.6 304.4,352 304.6,352.7 304.7,355 304.8,349.7 304.9,348.3 305.1,350.2 305.2,351.5 305.3,353 305.4,351.2 305.6,351.2 305.7,353.8 305.8,350.7 305.9,349.3 306.1,353.7 306.2,348.5 306.3,348.6 306.4,349.3 306.6,353.6 306.7,350.1 306.8,348 307,348.7 307.1,352.4 307.2,349.8 307.3,350.6 307.5,349.3 307.6,349.6 307.7,351.8 307.8,348.6 308,348.1 308.1,349.7 308.2,351.4 308.3,348.5 308.5,346.8 308.6,350.1 308.7,349.9 308.8,351 309,350.4 309.1,349.6 309.2,346.4 309.3,346.8 309.5,347.3 309.6,349 309.7,347.5 309.8,353 310,350.3 310.1,349.1 310.2,350.2 310.3,350.6 310.5,347.5 310.6,346.7 310.7,346.6 310.9,348.2 311,348.5 311.1,346.3 311.2,347 311.4,347.7 311.5,346 311.6,350.7 311.7,349.6 311.9,349.6 312,344.9 312.1,346.6 312.2,348.7 312.4,347.3 312.5,344.8 312.6,344.5 312.7,348.1 312.9,344.9 313,345.6 313.1,344.5 313.2,347 313.4,347.3 313.5,345.2 313.6,348.1 313.7,343.9 313.9,345 314,345.6 314.1,348.5 314.2,344.6 314.4,346.1 314.5,347.6 314.6,344.6 314.7,345.1 314.9,346.6 315,348.4 315.1,346.1 315.3,349 315.4,347.9 315.5,345.6 315.6,348.3 315.8,346.9 315.9,346.8 316,344.7 316.1,345.1 316.3,345 316.4,346.3 316.5,345.4 316.6,346.4 316.8,347.1 316.9,345.3 317,346.2 317.1,343.1 317.3,343.8 317.4,345.2 317.5,343.9 317.6,346.4 317.8,348.9 317.9,348.7 318,344.9 318.1,347.1 318.3,347 318.4,349.9 318.5,349 318.6,346.3 318.8,345.7 318.9,345.2 319,348.1 319.1,350.4 319.3,350.3 319.4,346.3 319.5,346.8 319.7,346.5 319.8,350.1 319.9,349 320,347.1 320.2,345 320.3,344 320.4,344.4 320.5,346.7 320.7,349.2 320.8,345.4 320.9,345.5 321,344.8 321.2,348.7 321.3,346.8 321.4,349 321.5,349.2 321.7,348.6 321.8,347.2 321.9,347.9 322,348 322.2,347 322.3,350.3 322.4,348.2 322.5,349.7 322.7,346.6 322.8,348.2 322.9,346.6 323,346.8 323.2,351 323.3,346.8 323.4,347 323.5,350.6 323.7,350.4 323.8,348.2 323.9,347.9 324.1,346.3 324.2,346.4 324.3,348.6 324.4,344.1 324.6,348.8 324.7,349.8 324.8,346.8 324.9,347.6 325.1,347.8 325.2,347.4 325.3,346.6 325.4,350 325.6,348.6 325.7,348.2 325.8,348 325.9,350.5 326.1,350.1 326.2,349.3 326.3,347.1 326.4,349.9 326.6,348.9 326.7,352 326.8,351.4 326.9,346.3 327.1,350.6 327.2,347.6 327.3,351.1 327.4,346.6 327.6,348.9 327.7,348.3 327.8,351.6 327.9,348.4 328.1,347.4 328.2,348.6 328.3,350.1 328.5,350.7 328.6,350 328.7,348.2 328.8,349.5 329,347.3 329.1,345.9 329.2,347.5 329.3,348 329.5,348.9 329.6,346.7 329.7,347 329.8,349.3 330,348.3 330.1,348.7 330.2,349.5 330.3,346.9 330.5,351.4 330.6,351.3 330.7,351.4 330.8,351.1 331,350.3 331.1,350 331.2,345.1 331.3,346.9 331.5,344.6 331.6,349 331.7,348.8 331.8,346.3 332,348.3 332.1,348.2 332.2,346.5 332.3,347.9 332.5,347.6 332.6,347.6 332.7,351.1 332.9,351.1 333,349.7 333.1,345.9 333.2,349.1 333.4,350.1 333.5,346.1 333.6,345.5 333.7,350 333.9,346 334,346.1 334.1,345.8 334.2,350.2 334.4,348.2 334.5,346.2 334.6,347.6 334.7,349 334.9,348.3 335,347.8 335.1,348.2 335.2,346.9 335.4,346.2 335.5,346.6 335.6,348.1 335.7,348.5 335.9,350.4 336,348.7 336.1,345 336.2,349.7 336.4,346.6 336.5,346.4 336.6,347 336.8,348 336.9,352.9 337,350.6 337.1,349 337.3,349.2 337.4,352.2 337.5,349.7 337.6,353.2 337.8,350.4 337.9,351.2 338,350 338.1,348.9 338.3,349.8 338.4,346 338.5,348.1 338.6,345.8 338.8,343.8 338.9,347.7 339,349.4 339.1,347.9 339.3,350.2 339.4,348.6 339.5,348.7 339.6,348.8 339.8,346.2 339.9,346.6 340,349.9 340.1,350.2 340.3,348.9 340.4,349.7 340.5,347.2 340.6,348.9 340.8,347.9 340.9,349 341,347.3 341.2,346.6 341.3,347.2 341.4,348.9 341.5,351.2 341.7,348 341.8,348 341.9,352.3 342,348.9 342.2,350.8 342.3,348.7 342.4,348.6 342.5,349.4 342.7,351.9 342.8,351.3 342.9,349.7 343,347.7 343.2,350.2 343.3,350.9 343.4,351.5 343.5,348.5 343.7,352.4 343.8,351.2 343.9,350 344,347 344.2,348.6 344.3,349.3 344.4,347.1 344.5,347.1 344.7,349.3 344.8,347.5 344.9,348.8 345,346.9 345.2,347.4 345.3,346.7 345.4,345.1 345.6,346.2 345.7,347.4 345.8,347.8 345.9,349.7 346.1,346.9 346.2,348.1 346.3,349.1 346.4,347 346.6,348.4 346.7,345.2 346.8,351.1 346.9,345.9 347.1,350.1 347.2,351.1 347.3,349.3 347.4,350 347.6,351 347.7,349.1 347.8,352.3 347.9,348.5 348.1,350 348.2,349.8 348.3,348.1 348.4,350.7 348.6,348.3 348.7,347.8 348.8,347.5 348.9,347.1 349.1,349.6 349.2,349.9 349.3,348.7 349.4,348.6 349.6,349.6 349.7,348.3 349.8,348.7 350,346.4 350.1,348.9 350.2,350.9 350.3,351.3 350.5,351.2 350.6,351.7 350.7,347.6 350.8,349.7 351,348.3 351.1,348.7 351.2,350.4 351.3,349.3 351.5,351.2 351.6,348.3 351.7,348 351.8,349.8 352,346.7 352.1,348.7 352.2,346.1 352.3,350.5 352.5,350.2 352.6,349.4 352.7,347.1 352.8,345.7 353,348.5 353.1,348.7 353.2,348.6 353.3,346.7 353.5,348.8 353.6,346.5 353.7,347.9 353.8,347.3 354,350.6 354.1,349.9 354.2,348.4 354.4,348.3 354.5,347.5 354.6,350.7 354.7,349.6 354.9,350.7 355,349.5 355.1,347.9 355.2,346.3 355.4,345.4 355.5,347.3 355.6,349.2 355.7,347.3 355.9,349.2 356,348.1 356.1,345.2 356.2,349 356.4,345.8 356.5,348.8 356.6,349.6 356.7,346.9 356.9,350.8 357,348.5 357.1,345 357.2,345.9 357.4,346 357.5,346.7 357.6,348.8 357.7,348.7 357.9,345.2 358,347.6 358.1,345.2 358.2,346.2 358.4,349.8 358.5,344.9 358.6,347.3 358.8,349.6 358.9,346.8 359,347.4 359.1,348.9 359.3,347.2 359.4,347.5 359.5,351.3 359.6,350.7 359.8,348.3 359.9,348.5 360,345.2 360.1,349 360.3,348.7 360.4,349.7 360.5,345.8 360.6,344.5 360.8,344 360.9,347.6 361,349.5 361.1,345.4 361.3,347.8 361.4,348.9 361.5,347 361.6,349.7 361.8,345 361.9,345.6 362,345.4 362.1,348.4 362.3,347.4 362.4,346.3 362.5,344.1 362.7,347.5 362.8,346.5 362.9,346.4 363,344.6 363.2,347.6 363.3,349.7 363.4,345.5 363.5,345.9 363.7,348.4 363.8,348.3 363.9,350.8 364,347.5 364.2,348.3 364.3,350.7 364.4,350.1 364.5,348.1 364.7,350.3 364.8,345.8 364.9,347.5 365,351.2 365.2,349.7 365.3,350.6 365.4,345 365.5,346.7 365.7,346.9 365.8,345.5 365.9,349.5 366,350.2 366.2,349.5 366.3,346.2 366.4,351.3 366.5,347.9 366.7,346.2 366.8,350.6 366.9,350.7 367.1,349.8 367.2,347.7 367.3,348.7 367.4,349.9 367.6,346.9 367.7,346 367.8,347.3 367.9,348.5 368.1,347.9 368.2,346 368.3,346.8 368.4,343.1 368.6,344.1 368.7,345.9 368.8,345.7 368.9,346.1 369.1,348.9 369.2,346.3 369.3,350.5 369.4,346.1 369.6,349.6 369.7,348 369.8,349.3 369.9,344.7 370.1,347.2 370.2,346.9 370.3,345.8 370.4,343.4 370.6,345.4 370.7,345.7 370.8,347.6 370.9,347.3 371.1,345.6 371.2,347.7 371.3,350.3 371.5,346.2 371.6,349.5 371.7,348.2 371.8,347.9 372,347.7 372.1,349.9 372.2,347.4 372.3,348.4 372.5,350.2 372.6,348.4 372.7,348.5 372.8,347.8 373,352.1 373.1,352.8 373.2,350.7 373.3,350.4 373.5,353.1 373.6,348.6 373.7,350.6 373.8,351.2 374,350.6 374.1,351.5 374.2,348.5 374.3,348.4 374.5,350.2 374.6,350.4 374.7,350.7 374.8,348 375,348.9 375.1,349.7 375.2,346.4 375.3,350.5 375.5,347.1 375.6,346.4 375.7,347.5 375.9,346.2 376,348.5 376.1,348.6 376.2,345.9 376.4,344.9 376.5,350 376.6,347.6 376.7,349.5 376.9,347.9 377,351.1 377.1,349 377.2,349.7 377.4,351.5 377.5,347.5 377.6,351.1 377.7,349 377.9,348.3 378,348.3 378.1,351.5 378.2,349.6 378.4,347.1 378.5,346.6 378.6,347.6 378.7,349.1 378.9,350.2 379,350.6 379.1,347.4 379.2,348.7 379.4,349.3 379.5,345.5 379.6,346.9 379.7,345.5 379.9,349.6 380,348.4 380.1,349.6 380.3,346.4 380.4,345.5 380.5,347.6 380.6,348.4 380.8,346.8 380.9,346.1 381,346.4 381.1,345.8 381.3,348.4 381.4,348.6 381.5,347.5 381.6,349.6 381.8,346 381.9,348.8 382,350.2 382.1,348.9 382.3,347.3 382.4,349.9 382.5,347.1 382.6,350.6 382.8,349.3 382.9,352.4 383,352.4 383.1,347.8 383.3,349.9 383.4,348 383.5,350.8 383.6,350 383.8,347.5 383.9,352.1 384,347 384.1,347.1 384.3,346.1 384.4,350.4 384.5,346.4 384.7,350.5 384.8,349.2 384.9,351.1 385,346.4 385.2,350.5 385.3,347 385.4,348.2 385.5,348.5 385.7,349.7 385.8,347.8 385.9,347.7 386,346.2 386.2,345.9 386.3,346.7 386.4,345.6 386.5,345.9 386.7,348.6 386.8,346.1 386.9,348.5 387,348.4 387.2,345.9 387.3,345.4 387.4,347.5 387.5,348 387.7,347 387.8,346.4 387.9,344.6 388,346 388.2,346.7 388.3,350.1 388.4,349.5 388.6,352.4 388.7,348.2 388.8,350.4 388.9,348.4 389.1,347.5 389.2,352.7 389.3,350.2 389.4,351.4 389.6,347.4 389.7,347.8 389.8,346.6 389.9,345.6 390.1,349.3 390.2,345.7 390.3,346.5 390.4,347.7 390.6,347 390.7,344.4 390.8,347.3 390.9,349.4 391.1,349.6 391.2,349.1 391.3,347.6 391.4,351.1 391.6,348.9 391.7,349.7 391.8,348.8 391.9,346.8 392.1,348.4 392.2,349.1 392.3,351.1 392.4,348.7 392.6,347.2 392.7,350.8 392.8,349 393,352.3 393.1,352 393.2,352.4 393.3,347.4 393.5,351.1 393.6,346.9 393.7,351.7 393.8,348.9 394,350.7 394.1,349.3 394.2,347.2 394.3,348.9 394.5,348.4 394.6,349.9 394.7,349.7 394.8,346.2 395,345.1 395.1,347.7 395.2,345.8 395.3,348 395.5,346.5 395.6,346.8 395.7,350.6 395.8,347.1 396,348.8 396.1,350.7 396.2,351.9 396.3,350.8 396.5,349.4 396.6,349.7 396.7,350.6 396.8,346.3 397,346.1 397.1,345.8 397.2,345 397.4,345.2 397.5,348.7 397.6,349.8 397.7,347.1 397.9,347.9 398,346.7 398.1,344.5 398.2,345.3 398.4,349.2 398.5,347.9 398.6,346 398.7,350 398.9,348.1 399,348.2 399.1,350 399.2,347.8 399.4,346.5 399.5,347.1 399.6,349.2 399.7,349.1 399.9,345.6 400,347 400.1,349.7 400.2,347.8 400.4,348.8 400.5,344.5 400.6,347.7 400.7,346.3 400.9,344.7 401,345.9 401.1,346.1 401.2,348 401.4,346.1 401.5,347.9 401.6,348.8 401.8,346.7 401.9,349.5 402,347.6 402.1,348.3 402.3,349.1 402.4,348.2 402.5,348.8 402.6,345.5 402.8,347.7 402.9,346.5 403,345.4 403.1,347.4 403.3,346.7 403.4,344.9 403.5,347.3 403.6,346 403.8,346.9 403.9,344.7 404,345.4 404.1,348.5 404.3,347.7 404.4,350.5 404.5,345.8 404.6,348.4 404.8,347.5 404.9,346.1 405,350.1 405.1,351.9 405.3,346.6 405.4,346.2 405.5,347.4 405.6,348.7 405.8,352.5 405.9,351.8 406,353.1 406.2,351.4 406.3,351.1 406.4,352 406.5,350.9 406.7,347.6 406.8,351 406.9,353.1 407,349.7 407.2,348.2 407.3,348.8 407.4,350.5 407.5,347.9 407.7,347.4 407.8,349.3 407.9,347.8 408,348.5 408.2,347.7 408.3,345.8 408.4,349.4 408.5,351.1 408.7,346.7 408.8,346.5 408.9,346.5 409,349.6 409.2,347.3 409.3,351 409.4,346.4 409.5,348 409.7,348.3 409.8,345.3 409.9,346.8 410,344.2 410.2,348.2 410.3,347.3 410.4,345.9 410.6,348.8 410.7,344.9 410.8,345.6 410.9,346.9 411.1,345.4 411.2,345.9 411.3,346.6 411.4,348.1 411.6,345.2 411.7,344.5 411.8,345 411.9,347.5 412.1,346.6 412.2,344.4 412.3,342.8 412.4,343.6 412.6,346.8 412.7,345.7 412.8,347.9 412.9,341.8 413.1,344.4 413.2,343.9 413.3,342.3 413.4,341.8 413.6,347.5 413.7,343.1 413.8,345.4 413.9,347.4 414.1,345.3 414.2,347.2 414.3,347.7 414.5,347 414.6,344.6 414.7,342.9 414.8,342 415,344.8 415.1,342.6 415.2,343.3 415.3,343.5 415.5,341.9 415.6,346 415.7,342.9 415.8,345 416,344.9 416.1,347.4 416.2,346.3 416.3,348.1 416.5,345.9 416.6,346.3 416.7,344.6 416.8,349.6 417,345.3 417.1,344.6 417.2,348.9 417.3,344 417.5,344.4 417.6,344.7 417.7,346.4 417.8,345 418,346.2 418.1,348.9 418.2,347.9 418.3,350.2 418.5,350.3 418.6,345.7 418.7,348.1 418.9,345 419,345.6 419.1,346.5 419.2,348.3 419.4,346.2 419.5,344.2 419.6,345.1 419.7,348.2 419.9,343.5 420,345.8 420.1,348.5 420.2,349 420.4,350.3 420.5,348.9 420.6,348.5 420.7,349.9 420.9,351.7 421,347.9 421.1,351.3 421.2,352.3 421.4,352.2 421.5,347.5 421.6,350.3 421.7,352.3 421.9,347.1 422,348.8 422.1,348.3 422.2,345.1 422.4,349.5 422.5,346.4 422.6,345.8 422.7,344.3 422.9,347.1 423,349.7 423.1,348 423.3,346.5 423.4,347.7 423.5,349.4 423.6,348.9 423.8,346.9 423.9,348.6 424,349.5 424.1,348.9 424.3,344.7 424.4,347.7 424.5,347.1 424.6,346.1 424.8,346.7 424.9,346.1 425,346.8 425.1,344.4 425.3,345.7 425.4,347.8 425.5,344.5 425.6,348.4 425.8,349.7 425.9,350.2 426,345.4 426.1,347.2 426.3,349.1 426.4,349.9 426.5,347.4 426.6,347.9 426.8,344.3 426.9,345.1 427,348.9 427.1,347.8 427.3,345.5 427.4,347.7 427.5,345.7 427.7,346.9 427.8,350.2 427.9,347.9 428,349 428.2,347.3 428.3,348.7 428.4,346.3 428.5,349.3 428.7,350.9 428.8,347.5 428.9,350.6 429,346.9 429.2,345.5 429.3,348.3 429.4,346.3 429.5,346.3 429.7,347.8 429.8,348.9 429.9,349.1 430,352.6 430.2,348.4 430.3,349.8 430.4,350.1 430.5,350 430.7,351.4 430.8,353.5 430.9,350.1 431,349.1 431.2,355.1 431.3,352.9 431.4,351.4 431.5,354.1 431.7,350.8 431.8,350 431.9,353.7 432.1,353.1 432.2,351.3 432.3,350.2 432.4,350 432.6,348.1 432.7,351.4 432.8,347.5 432.9,349.4 433.1,345.9 433.2,345.4 433.3,349.8 433.4,346.8 433.6,349.4 433.7,347.5 433.8,351.9 433.9,347 434.1,351.1 434.2,347.8 434.3,349.3 434.4,348.6 434.6,349.6 434.7,352.2 434.8,351.8 434.9,351.6 435.1,346.9 435.2,346.8 435.3,348.9 435.4,349.1 435.6,350.3 435.7,350.9 435.8,347.9 435.9,348.5 436.1,346.8 436.2,347 436.3,347.7 436.5,352 436.6,350.3 436.7,349.8 436.8,350.7 437,348.9 437.1,351.4 437.2,350.2 437.3,348.9 437.5,349 437.6,351.4 437.7,349.9 437.8,349 438,350.9 438.1,351.6 438.2,348.2 438.3,350.7 438.5,350.2 438.6,345.8 438.7,349.6 438.8,348.9 439,344.5 439.1,346.1 439.2,346.4 439.3,348.7 439.5,345.8 439.6,349.5 439.7,345.5 439.8,348.8 440,349.8 440.1,345.5 440.2,349.4 440.4,348.6 440.5,350.2 440.6,349.1 440.7,346.2 440.9,350.6 441,346.2 441.1,349.9 441.2,347.3 441.4,350.2 441.5,347.3 441.6,348 441.7,350.8 441.9,347.8 442,348.8 442.1,351.1 442.2,350.8 442.4,348.9 442.5,345.8 442.6,346.4 442.7,348.4 442.9,347.7 443,350.7 443.1,351.1 443.2,350.1 443.4,347.7 443.5,349.6 443.6,350.9 443.7,349.2 443.9,351.2 444,352.3 444.1,347.8 444.2,351.4 444.4,349.6 444.5,348.4 444.6,346.1 444.8,346.1 444.9,348.5 445,346.1 445.1,346.5 445.3,347.1 445.4,347.2 445.5,345.8 445.6,348.4 445.8,345.8 445.9,349.6 446,350.4 446.1,351.4 446.3,350.3 446.4,347.5 446.5,350.5 446.6,350.1 446.8,347.4 446.9,350.6 447,348.3 447.1,350.4 447.3,348.2 447.4,347.9 447.5,347.5 447.6,347.7 447.8,349.7 447.9,350.4 448,348.4 448.1,352.1 448.3,346.8 448.4,349.3 448.5,348.5 448.6,349.2 448.8,349.2 448.9,352.3 449,353 449.2,348.1 449.3,353.5 449.4,353.8 449.5,349.6 449.7,348.7 449.8,352.4 449.9,349.1 450,351.6 450.2,351.1 450.3,350.8 450.4,351.3 450.5,346.2 450.7,350.1 450.8,349.7 450.9,347.6 451,349.5 451.2,346.6 451.3,348.4 451.4,348 451.5,351.4 451.7,349 451.8,348 451.9,348 452,346.9 452.2,351.8 452.3,350.9 452.4,351.7 452.5,348.4 452.7,351.4 452.8,348.3 452.9,351 453,346.7 453.2,347.9 453.3,350 453.4,351.2 453.6,347.6 453.7,351.1 453.8,347.2 453.9,345.6 454.1,345.7 454.2,347.9 454.3,348.7 454.4,345.5 454.6,345.1 454.7,346.1 454.8,346.9 454.9,345.5 455.1,348.9 455.2,352.5 455.3,347.6 455.4,351.7 455.6,349.2 455.7,350 455.8,346.9 455.9,351 456.1,349.9 456.2,352.9 456.3,350.8 456.4,347.2 456.6,349 456.7,352.3 456.8,348.7 456.9,354.6 457.1,354.3 457.2,350.6 457.3,350.3 457.4,353.5 457.6,353.7 457.7,350.7 457.8,347.6 458,348.5 458.1,350.1 458.2,348.6 458.3,350.9 458.5,347 458.6,349.7 458.7,346.5 458.8,348 459,352.5 459.1,351.9 459.2,352.1 459.3,350.2 459.5,352.8 459.6,348.4 459.7,351.7 459.8,348 460,347 460.1,348.5 460.2,348 460.3,347.5 460.5,347.4 460.6,349.2 460.7,347.7 460.8,348.6 461,351.8 461.1,354 461.2,350.2 461.3,352.9 461.5,349.6 461.6,352.8 461.7,353.3 461.8,353 462,348.8 462.1,349.3 462.2,350.9 462.4,346.8 462.5,346.5 462.6,350.2 462.7,346.8 462.9,348.5 463,348.3 463.1,348.7 463.2,349.4 463.4,349.4 463.5,349.6 463.6,347.6 463.7,346.4 463.9,349.1 464,348.2 464.1,351.6 464.2,347.9 464.4,349.2 464.5,345.6 464.6,345.9 464.7,345.6 464.9,346.4 465,348.4 465.1,347.3 465.2,346.1 465.4,348.5 465.5,348 465.6,347.8 465.7,350 465.9,346.9 466,349 466.1,346.7 466.2,347.7 466.4,345.7 466.5,345.5 466.6,345.6 466.8,346.6 466.9,349.2 467,348.9 467.1,349.1 467.3,348.3 467.4,349.5 467.5,348 467.6,348.5 467.8,350.2 467.9,347.1 468,349.7 468.1,350.2 468.3,349.6 468.4,347.1 468.5,347.5 468.6,348.9 468.8,346.2 468.9,346.2 469,349.9 469.1,347.4 469.3,351.6 469.4,348.9 469.5,348 469.6,346.6 469.8,347.5 469.9,351.4 470,349.8 470.1,348.7 470.3,351.8 470.4,350.6 470.5,350 470.7,352.7 470.8,352.5 470.9,347 471,346.8 471.2,348.3 471.3,345 471.4,348.1 471.5,345.7 471.7,345.8 471.8,344.5 471.9,346.9 472,346.6 472.2,346.3 472.3,346.7 472.4,345.3 472.5,349.4 472.7,345.6 472.8,347.7 472.9,349.2 473,349.7 473.2,349.8 473.3,346.9 473.4,349.2 473.5,350.1 473.7,350.8 473.8,348.1 473.9,349.6 474,346.1 474.2,347.5 474.3,350.9 474.4,350.9 474.5,348.5 474.7,348.4 474.8,350.7 474.9,345.2 475.1,349.6 475.2,345.8 475.3,350 475.4,346.8 475.6,349.4 475.7,346.6 475.8,347.5 475.9,349.4 476.1,347.9 476.2,346.4 476.3,346 476.4,345.4 476.6,346.1 476.7,347.3 476.8,350.1 476.9,349.3 477.1,350.5 477.2,350.3 477.3,350.2 477.4,348.6 477.6,352.4 477.7,352.7 477.8,353.1 477.9,347.5 478.1,349.7 478.2,351.1 478.3,352.1 478.4,347.8 478.6,349.3 478.7,349 478.8,350.7 478.9,350.5 479.1,345.8 479.2,347.6 479.3,347.6 479.5,350.9 479.6,347 479.7,350.2 479.8,351.2 480,351.8 480.1,350.7 480.2,349.8 480.3,347.3 480.5,347.8 480.6,349.8 480.7,350.5 480.8,351.3 481,349.8 481.1,352 481.2,349.1 481.3,351.8 481.5,353.3 481.6,352.1 481.7,349.2 481.8,348.2 482,351.9 482.1,349.1 482.2,348.9 482.3,351.3 482.5,350.1 482.6,348.4 482.7,349.8 482.8,348.8 483,348.8 483.1,349.5 483.2,347.3 483.3,348.1 483.5,346.6 483.6,349.5 483.7,349.3 483.9,349.9 484,347 484.1,350.8 484.2,347.9 484.4,350.3 484.5,346.8 484.6,349.5 484.7,347.4 484.9,346.4 485,350.9 485.1,348.8 485.2,348.3 485.4,350.1 485.5,347.9 485.6,345.8 485.7,350.4 485.9,346 486,349.6 486.1,347.6 486.2,347.2 486.4,345.5 486.5,348.2 486.6,349.2 486.7,349.6 486.9,346.1 487,349.2 487.1,347.7 487.2,347.7 487.4,350.5 487.5,351.3 487.6,351.5 487.7,349.5 487.9,353.2 488,349.6 488.1,352.1 488.3,353.1 488.4,353 488.5,351.2 488.6,349.1 488.8,350.3 488.9,351 489,352.7 489.1,350 489.3,349 489.4,349.6 489.5,351.4 489.6,349.7 489.8,347.1 489.9,350.1 490,347.9 490.1,350 490.3,348.9 490.4,350.1 490.5,349.2 490.6,345.2 490.8,346.2 490.9,344.8 491,349.1 491.1,345.1 491.3,350.2 491.4,346.7 491.5,350.7 491.6,351.3 491.8,346.2 491.9,347.1 492,351.6 492.1,350.1 492.3,349.1 492.4,351.4 492.5,351.2 492.7,349.2 492.8,351.8 492.9,351.9 493,353.8 493.2,352.8 493.3,352 493.4,352.5 493.5,352 493.7,348.8 493.8,352.5 493.9,349.2 494,348.3 494.2,352.2 494.3,348.9 494.4,353.3 494.5,353 494.7,349.6 494.8,351.2 494.9,351.6 495,351.1 495.2,351.4 495.3,351 495.4,350.2 495.5,351.5 495.7,353.7 495.8,350.1 495.9,350.2 496,350.5 496.2,353 496.3,349.4 496.4,350.1 496.6,348.6 496.7,352.8 496.8,349.5 496.9,347.6 497.1,348.3 497.2,352.4 497.3,350.7 497.4,350.3 497.6,354.3 497.7,352.9 497.8,354.7 497.9,355.9 498.1,352.3 498.2,354.4 498.3,353.6 498.4,351.6 498.6,354.8 498.7,354.3 498.8,350.9 498.9,354.7 499.1,351.1 499.2,353.9 499.3,354.8 499.4,356.3 499.6,353.4 499.7,354.1 499.8,352.2 499.9,351.3 500.1,351.7 500.2,355.4 500.3,355.3 500.4,352.6 500.6,352.8 500.7,352.7 500.8,354.7 501,354.7 501.1,353 501.2,351.5 501.3,354.5 501.5,351.5 501.6,352.4 501.7,350.7 501.8,348.3 502,353.6 502.1,349.6 502.2,349.9 502.3,352.8 502.5,349.3 502.6,352.3 502.7,349.6 502.8,352.6 503,352.7 503.1,352.5 503.2,352.9 503.3,354.2 503.5,351.6 503.6,352.7 503.7,351.1 503.8,349.1 504,352.8 504.1,352 504.2,351.3 504.3,348.3 504.5,348.5 504.6,351.9 504.7,352.3 504.8,350.6 505,349.2 505.1,350.7 505.2,352.7 505.4,348.1 505.5,351.8 505.6,349.7 505.7,347.3 505.9,347.4 506,351.1 506.1,351.2 506.2,350 506.4,351.9 506.5,350.6 506.6,348.2 506.7,353.1 506.9,349.3 507,350.8 507.1,352.5 507.2,352.3 507.4,347.3 507.5,350.6 507.6,348.4 507.7,347.2 507.9,349.2 508,350.5 508.1,349.6 508.2,348.5 508.4,348.6 508.5,348 508.6,350.8 508.7,350.7 508.9,347.9 509,351 509.1,350.9 509.2,352 509.4,349.3 509.5,349.5 509.6,350.3 509.8,348.2 509.9,352.4 510,348.3 510.1,350.5 510.3,351.7 510.4,346.9 510.5,351.2 510.6,348.6 510.8,349.8 510.9,345.2 511,347.5 511.1,347.6 511.3,347.3 511.4,346.5 511.5,346.5 511.6,347.7 511.8,350.6 511.9,350.7 512,348.3 512.1,348.5 512.3,350.9 512.4,350 512.5,351.1 512.6,349.6 512.8,349.6 512.9,352.8 513,347 513.1,347.4 513.3,345.8 513.4,350.4 513.5,348.3 513.6,346 513.8,349.2 513.9,346.5 514,347.3 514.2,348.3 514.3,346 514.4,346.3 514.5,349.2 514.7,346.1 514.8,346.3 514.9,344.8 515,349.6 515.2,344.2 515.3,348.7 515.4,347.8 515.5,348.2 515.7,345.3 515.8,347.3 515.9,348 516,349.4 516.2,348.6 516.3,346.5 516.4,349.8 516.5,348.3 516.7,348.2 516.8,348 516.9,349.6 517,347.8 517.2,346.9 517.3,351.8 517.4,351.5 517.5,351.2 517.7,352 517.8,350.2 517.9,350.2 518,351.7 518.2,349.6 518.3,347.7 518.4,350.6 518.6,350 518.7,350.2 518.8,350.3 518.9,347.1 519.1,348.7 519.2,346.2 519.3,346.7 519.4,347.7 519.6,344.4 519.7,346.8 519.8,349.9 519.9,346.9 520.1,347.4 520.2,346.2 520.3,350.8 520.4,346.9 520.6,347.3 520.7,350.3 520.8,347.4 520.9,350.5 521.1,349.1 521.2,349.2 521.3,346.1 521.4,344.8 521.6,347.5 521.7,347.6 521.8,349.1 521.9,345.4 522.1,347.9 522.2,348 522.3,347.8 522.5,348.6 522.6,348.6 522.7,349.2 522.8,348.8 523,348.1 523.1,350.7 523.2,350.4 523.3,350.2 523.5,348.9 523.6,350.9 523.7,346.4 523.8,345.4 524,346.1 524.1,349.3 524.2,346.7 524.3,344.9 524.5,347.1 524.6,347.8 524.7,347.3 524.8,346.4 525,347.3 525.1,348.3 525.2,347 525.3,347.8 525.5,349.6 525.6,349.3 525.7,350.2 525.8,349.6 526,346.8 526.1,349.1 526.2,348.9 526.3,350.4 526.5,346.7 526.6,348.2 526.7,347.9 526.9,348.8 527,345.8 527.1,347 527.2,347 527.4,349.2 527.5,344.4 527.6,346.9 527.7,346.6 527.9,348.4 528,348.6 528.1,349 528.2,349.8 528.4,347.3 528.5,348.1 528.6,349.4 528.7,347.1 528.9,347.3 529,347.6 529.1,344.7 529.2,345.1 529.4,346.4 529.5,349.3 529.6,345.6 529.7,345.9 529.9,347.4 530,345.7 530.1,346.4 530.2,351.2 530.4,349.5 530.5,348.6 530.6,349.9 530.7,348.9 530.9,351.3 531,349.4 531.1,352.4 531.3,354.9 531.4,354.1 531.5,351.3 531.6,354.1 531.8,352.9 531.9,352.3 532,350.8 532.1,350.6 532.3,352.9 532.4,352.4 532.5,348 532.6,350.4 532.8,350.2 532.9,350.9 533,348.9 533.1,350.7 533.3,349 533.4,354.2 533.5,352.5 533.6,352 533.8,353.7 533.9,355.1 534,350.8 534.1,347.7 534.3,351.8 534.4,351.3 534.5,354.7 534.6,351.6 534.8,352.4 534.9,348.9 535,352.7 535.1,348.6 535.3,350.4 535.4,349.1 535.5,350.5 535.7,347.4 535.8,350.9 535.9,348.6 536,352.9 536.2,353.3 536.3,350.3 536.4,350.9 536.5,352.9 536.7,354.5 536.8,350.2 536.9,353.6 537,351.1 537.2,352.1 537.3,349.1 537.4,350.7 537.5,350.1 537.7,353.6 537.8,352.7 537.9,350.3 538,349.6 538.2,351.3 538.3,353.6 538.4,352.4 538.5,353.7 538.7,349.4 538.8,350.1 538.9,350.7 539,350.3 539.2,349.6 539.3,351.9 539.4,349.8 539.5,351.6 539.7,353.4 539.8,350.5 539.9,349.6 540.1,353.2 540.2,350.8 540.3,348.2 540.4,352 540.6,348.9 540.7,350.8 540.8,346.2 540.9,348.8 541.1,351 541.2,347.9 541.3,347.9 541.4,350.5 541.6,350.9 541.7,352.2 541.8,350.7 541.9,353.7 542.1,353.2 542.2,352.6 542.3,351.8 542.4,351.1 542.6,353.3 542.7,353 542.8,351 542.9,353.3 543.1,352.8 543.2,351.5 543.3,353.6 543.4,351.6 543.6,352.6 543.7,353.6 543.8,355.4 543.9,354.7 544.1,351.6 544.2,355.5 544.3,351.7 544.5,353.5 544.6,352.8 544.7,354.4 544.8,354.4 545,353.1 545.1,349.8 545.2,352.1 545.3,353.8 545.5,353 545.6,354.2 545.7,356.5 545.8,355.6 546,353.9 546.1,353.7 546.2,353.6 546.3,356 546.5,353.3 546.6,352.4 546.7,352.7 546.8,352.1 547,351.6 547.1,353.3 547.2,355.5 547.3,355.7 547.5,353.4 547.6,355.7 547.7,351.7 547.8,357.5 548,356.2 548.1,355.2 548.2,357.7 548.4,353.5 548.5,356.7 548.6,354 548.7,356.3 548.9,356.1 549,354.4 549.1,356 549.2,352.3 549.4,353.2 549.5,354.6 549.6,353.2 549.7,355.4 549.9,354.1 550,356.2 550.1,355.1 550.2,354.9 550.4,354.9 550.5,354.9 550.6,353.6 550.7,358.7 550.9,356 551,356.2 551.1,355.6 551.2,355.1 551.4,356.2 551.5,356.8 551.6,358.3 551.7,355 551.9,354.6 552,356.3 552.1,357 552.2,353.1 552.4,352.5 552.5,354.9 552.6,357 552.8,356.2 552.9,357.4 553,356.6 553.1,356.7 553.3,356.6 553.4,355.9 553.5,355.4 553.6,355.4 553.8,356.3 553.9,354.8 554,354.9 554.1,356.6 554.3,357.3 554.4,354 554.5,356.3 554.6,355.2 554.8,355.5 554.9,351.2 555,354.5 555.1,353.3 555.3,354.4 555.4,354.3 555.5,353.9 555.6,354.7 555.8,352.5 555.9,356.3 556,354.4 556.1,351.2 556.3,350.8 556.4,352.6 556.5,350.4 556.6,352.7 556.8,353.8 556.9,350.2 557,349.9 557.2,351.6 557.3,350 557.4,352.3 557.5,353.9 557.7,354.9 557.8,351.2 557.9,355 558,352.4 558.2,353.6 558.3,351.2 558.4,352.9 558.5,356.5 558.7,356 558.8,356.8 558.9,354 559,354.5 559.2,358.1 559.3,357.8 559.4,358.6 559.5,354 559.7,355.8 559.8,354.3 559.9,357.6 560,355.3 560.2,354.5 560.3,358.1 560.4,356.1 560.5,355 560.7,356.2 560.8,356.6 560.9,357.5 561,356.1 561.2,355.3 561.3,358.7 561.4,358 561.6,354.3 561.7,355.6 561.8,354.1 561.9,355.8 562.1,358.2 562.2,353.3 562.3,358.2 562.4,354.5 562.6,355.5 562.7,353.3 562.8,355.3 562.9,351.2 563.1,356.4 563.2,357.1 563.3,356.1 563.4,356.6 563.6,355.1 563.7,353.3 563.8,357 563.9,352.7 564.1,353.2 564.2,356.8 564.3,352.2 564.4,352 564.6,351.9 564.7,354.4 564.8,351.9 564.9,350.3 565.1,354.9 565.2,354.7 565.3,352.7 565.4,355 565.6,354.9 565.7,352 565.8,352.4 566,353.1 566.1,355.4 566.2,351.7 566.3,354 566.5,353.9 566.6,352.3 566.7,356.4 566.8,354.8 567,357.1 567.1,353.8 567.2,351 567.3,351.8 567.5,353.2 567.6,348.9 567.7,351.1 567.8,348.8 568,349.3 568.1,348.5 568.2,347.3 568.3,349.3 568.5,346.2 568.6,347.8 568.7,349.7 568.8,347.8 569,351.4 569.1,348.6 569.2,349.1 569.3,349 569.5,351.8 569.6,351.8 569.7,351.5 569.8,350.1 570,350.8 570.1,349.5 570.2,350.9 570.4,346.7 570.5,346.2 570.6,347.7 570.7,348.4 570.9,345.2 571,347.4 571.1,348.1 571.2,346.6 571.4,344.6 571.5,345.7 571.6,347.9 571.7,345.6 571.9,346.8 572,350.4 572.1,350.6 572.2,345.8 572.4,350 572.5,347.1 572.6,348.8 572.7,349 572.9,344.6 573,345.2 573.1,346.1 573.2,345.2 573.4,346.7 573.5,345.1 573.6,348.6 573.7,348.2 573.9,345.1 574,346.7 574.1,350.6 574.3,348.4 574.4,351.4 574.5,351.5 574.6,347.3 574.8,347.7 574.9,350 575,348.2 575.1,349 575.3,347.3 575.4,349.6 575.5,351.5 575.6,349.8 575.8,346.4 575.9,349.9 576,350.3 576.1,346.2 576.3,350.3 576.4,349.6 576.5,346.8 576.6,347.4 576.8,345.9 576.9,350.9 577,348.6 577.1,352.1 577.3,353 577.4,348.9 577.5,351.3 577.6,352.5 577.8,353.6 577.9,348.3 578,351.8 578.1,351.6 578.3,352.9 578.4,348.6 578.5,348.3 578.7,347 578.8,346.9 578.9,347.2 579,348.8 579.2,348.7 579.3,347.5 579.4,351.3 579.5,350 579.7,348.8 579.8,351.9 579.9,348.5 580,351.3 580.2,351.1 580.3,351.5 580.4,350 580.5,348.1 580.7,350.4 580.8,349.5 580.9,347.1 581,350.2 581.2,348 581.3,346.1 581.4,347.7 581.5,349.7 581.7,348.8 581.8,347.6 581.9,348.9 582,345.2 582.2,346.9 582.3,349.4 582.4,349.4 582.5,349.3 582.7,345.8 582.8,347.7 582.9,347.9 583.1,348 583.2,350.7 583.3,349 583.4,348.9 583.6,347.8 583.7,346 583.8,350 583.9,351 584.1,347.7 584.2,347.5 584.3,349.6 584.4,346.6 584.6,350 584.7,348.8 584.8,349.4 584.9,350.5 585.1,350.2 585.2,347.6 585.3,351.3 585.4,347.8 585.6,349.1 585.7,348.3 585.8,352 585.9,349.9 586.1,353.5 586.2,349.9 586.3,350.9 586.4,347.6 586.6,351.7 586.7,347.5 586.8,349.2 586.9,347.6 587.1,347.7 587.2,348.5 587.3,348.3 587.5,348.4 587.6,349.7 587.7,347.7 587.8,350.7 588,351.8 588.1,350.1 588.2,349.3 588.3,350.6 588.5,348.1 588.6,353.1 588.7,351.9 588.8,351.5 589,349.9 589.1,351.5 589.2,351.1 589.3,350.5 589.5,345.6 589.6,346.9 589.7,349.5 589.8,348.5 590,346.2 590.1,345.4 590.2,346.1 590.3,344.8 590.5,350.2 590.6,346.5 590.7,345.9 590.8,347.7 591,345.7 591.1,345.2 591.2,348.1 591.3,346.3 591.5,349.5 591.6,347.2 591.7,346.2 591.9,347.1 592,349.8 592.1,349.2 592.2,350.3 592.4,346.5 592.5,347.7 592.6,351.1 592.7,352 592.9,349.4 593,352.8 593.1,348.4 593.2,352 593.4,348.2 593.5,350.4 593.6,350.9 593.7,352 593.9,351.6 594,348.6 594.1,351.4 594.2,348 594.4,349.9 594.5,352.9 594.6,347.6 594.7,348.1 594.9,348.3 595,353 595.1,350.7 595.2,350.3 595.4,351 595.5,348.6 595.6,346.8 595.7,346.3 595.9,350 596,347.8 596.1,350.5 596.3,350.3 596.4,349.2 596.5,349.4 596.6,349.4 596.8,348.3 596.9,352.7 597,352.4 597.1,350.6 597.3,351.4 597.4,348.9 597.5,352.6 597.6,347.5 597.8,351.4 597.9,348.7 598,347.8 598.1,346 598.3,346.1 598.4,346.6 598.5,350.1 598.6,349.1 598.8,345.5 598.9,347.1 599,347.8 599.1,346 599.3,344.9 599.4,348.5 599.5,346.5 599.6,343.8 599.8,345 599.9,348.4 600,346.3 600.2,345.5 600.3,348.1 600.4,348.5 600.5,345.7 600.7,350.6 600.8,348.1 600.9,350.4 601,346.4 601.2,348.3 601.3,347 601.4,350.6 601.5,351.7 601.7,349.8 601.8,345.9 601.9,350.9 602,347 602.2,349.8 602.3,347.7 602.4,352.8 602.5,350.7 602.7,350.1 602.8,351.4 602.9,349 603,350.5 603.2,350.2 603.3,349.3 603.4,346.3 603.5,349.2 603.7,346.8 603.8,347.6 603.9,349.1 604,349.6 604.2,346.6 604.3,348.9 604.4,348.4 604.6,346.9 604.7,348.6 604.8,346.2 604.9,349.4 605.1,344.8 605.2,350.8 605.3,350.1 605.4,350.8 605.6,347.4 605.7,346.4 605.8,346 605.9,349 606.1,351.7 606.2,347.5 606.3,352.9 606.4,350.7 606.6,352.5 606.7,348.5 606.8,347.3 606.9,349.5 607.1,350 607.2,352.2 607.3,348 607.4,347.7 607.6,347.1 607.7,344.5 607.8,350.6 607.9,347.5 608.1,349.3 608.2,347.3 608.3,349 608.4,345.3 608.6,349.4 608.7,349 608.8,346.8 609,347.6 609.1,347.6 609.2,346.9 609.3,348 609.5,347.3 609.6,349.1 609.7,348.7 609.8,350.8 610,349.1 610.1,349.4 610.2,348 610.3,348.6 610.5,346.4 610.6,349.1 610.7,349.3 610.8,343.6 611,345.4 611.1,349 611.2,344.6 611.3,348.1 611.5,350.6 611.6,348.5 611.7,347.7 611.8,347.2 612,346.6 612.1,347 612.2,348.7 612.3,347.3 612.5,348.7 612.6,348.8 612.7,347.9 612.8,347.2 613,347.4 613.1,348.3 613.2,351.3 613.4,352.4 613.5,349.9 613.6,350.5 613.7,352.2 613.9,350.7 614,351.5 614.1,350.5 614.2,347 614.4,350.7 614.5,345.9 614.6,346.7 614.7,346 614.9,348.6 615,345.7" fill="none" stroke="#737314" stroke-width="2.4" stroke-linejoin="round" />
<polyline points="112.2,446.1 112.3,449.4 112.5,451.8 112.6,451.1 112.7,449.4 112.8,448.2 113,446.4 113.1,450.8 113.2,447.1 113.3,453.4 113.5,458.7 113.6,461.4 113.7,461.1 113.8,458.1 114,461.1 114.1,454.9 114.2,454.2 114.3,455.5 114.5,459.3 114.6,458.3 114.7,461.4 114.8,454.5 115,465.7 115.1,463.3 115.2,461.2 115.3,465.2 115.5,457.5 115.6,463.9 115.7,465.2 115.8,469.3 116,468.8 116.1,464.5 116.2,469.7 116.3,472.9 116.5,466.1 116.6,472.2 116.7,467.3 116.9,469.6 117,470.2 117.1,470.6 117.2,472.8 117.4,479.8 117.5,477.5 117.6,481.6 117.7,485.2 117.9,486.2 118,487.9 118.1,488.5 118.2,490.1 118.4,485.5 118.5,489.3 118.6,491.1 118.7,488.2 118.9,491.8 119,486.1 119.1,489.7 119.2,487.1 119.4,490.3 119.5,486.8 119.6,483 119.7,490.1 119.9,489.2 120,490.1 120.1,494.1 120.2,493.5 120.4,485.6 120.5,490.3 120.6,486 120.7,489 120.9,483.9 121,490 121.1,485.9 121.3,485.9 121.4,482.9 121.5,492 121.6,490.2 121.8,489.1 121.9,488.8 122,492.6 122.1,487.9 122.3,486.8 122.4,487 122.5,490.7 122.6,488.4 122.8,489.1 122.9,487.5 123,487.4 123.1,481.5 123.3,491.3 123.4,484.3 123.5,492.6 123.6,492.8 123.8,491.9 123.9,492.3 124,486.8 124.1,487 124.3,486.9 124.4,492.8 124.5,496 124.6,491.9 124.8,490.5 124.9,497.1 125,492.4 125.1,499.1 125.3,494.6 125.4,496.8 125.5,494.2 125.7,494.2 125.8,501.8 125.9,498.1 126,499.5 126.2,497.7 126.3,500.3 126.4,498.9 126.5,498.1 126.7,503 126.8,498.5 126.9,496.1 127,503.7 127.2,496.4 127.3,501.7 127.4,506 127.5,499.4 127.7,503.9 127.8,504 127.9,504.5 128,501.7 128.2,508.2 128.3,508.2 128.4,507.6 128.5,509.7 128.7,503.3 128.8,507.9 128.9,507.8 129,505.3 129.2,508.4 129.3,509.9 129.4,507.1 129.6,505.9 129.7,507.9 129.8,507.9 129.9,506.7 130.1,503.5 130.2,506.8 130.3,500.7 130.4,505.9 130.6,505 130.7,505.7 130.8,503.7 130.9,502.3 131.1,499.4 131.2,497.1 131.3,499.6 131.4,494.9 131.6,497.6 131.7,496 131.8,497 131.9,490.7 132.1,493.1 132.2,489.8 132.3,493.6 132.4,487.6 132.6,490.8 132.7,488.2 132.8,486.1 132.9,489.7 133.1,487.1 133.2,483.8 133.3,488.2 133.4,485.5 133.6,486.9 133.7,486.5 133.8,483.7 134,483.5 134.1,482.1 134.2,479.6 134.3,480.7 134.5,483.5 134.6,482.7 134.7,481 134.8,479.3 135,480.1 135.1,482.4 135.2,486.3 135.3,480.6 135.5,486 135.6,484.6 135.7,481.3 135.8,487.1 136,483.6 136.1,489.7 136.2,491.9 136.3,489 136.5,486.7 136.6,490.8 136.7,488.4 136.8,492.1 137,490.5 137.1,495.9 137.2,494.1 137.3,495.9 137.5,492 137.6,495 137.7,495.1 137.8,499.1 138,496.5 138.1,495.6 138.2,502.9 138.4,501.5 138.5,498.9 138.6,499.2 138.7,500.9 138.9,505.5 139,504.1 139.1,507.3 139.2,505.5 139.4,505.2 139.5,507 139.6,506.5 139.7,507.3 139.9,510.5 140,509.9 140.1,505.9 140.2,512.3 140.4,506.3 140.5,507.2 140.6,507.8 140.7,509.7 140.9,514.3 141,513.6 141.1,512.7 141.2,514.5 141.4,514.9 141.5,508.3 141.6,508.1 141.7,508.3 141.9,510.3 142,505.9 142.1,506.5 142.2,509.7 142.4,510.9 142.5,510.3 142.6,509.3 142.8,506.2 142.9,511.7 143,509.5 143.1,510 143.3,507.5 143.4,511.8 143.5,508.1 143.6,510 143.8,507.9 143.9,506.4 144,508 144.1,507.3 144.3,510.9 144.4,511 144.5,511.9 144.6,512 144.8,513.5 144.9,508.7 145,513.6 145.1,512.9 145.3,507.6 145.4,508.1 145.5,507 145.6,511.5 145.8,512.7 145.9,507.5 146,510.4 146.1,507.6 146.3,512.5 146.4,512.4 146.5,509.6 146.6,509 146.8,509.7 146.9,508.6 147,508.7 147.2,512 147.3,513.1 147.4,511.9 147.5,510.2 147.7,512 147.8,512.3 147.9,510.8 148,511.6 148.2,513.1 148.3,509 148.4,509.1 148.5,514.5 148.7,511.8 148.8,513.9 148.9,514.1 149,516.1 149.2,516 149.3,515.4 149.4,515.1 149.5,512 149.7,514.7 149.8,509.8 149.9,510.4 150,513.6 150.2,510.4 150.3,509.1 150.4,513.6 150.5,510.5 150.7,510.8 150.8,512.1 150.9,513.1 151,514.1 151.2,510.9 151.3,514.1 151.4,512.2 151.6,509.1 151.7,512.3 151.8,512.7 151.9,508.8 152.1,510.6 152.2,509.5 152.3,511.7 152.4,508.9 152.6,510.6 152.7,510 152.8,510 152.9,511.9 153.1,508 153.2,509.5 153.3,508.3 153.4,512.8 153.6,512.9 153.7,513.5 153.8,511.8 153.9,511.8 154.1,513.1 154.2,512.9 154.3,512.4 154.4,508.5 154.6,510 154.7,507.6 154.8,512 154.9,511.9 155.1,507.3 155.2,513.2 155.3,513.6 155.5,510.6 155.6,511.6 155.7,512.4 155.8,511.3 156,511.6 156.1,514.3 156.2,511.3 156.3,511.1 156.5,507.9 156.6,512.2 156.7,512 156.8,510.3 157,513.3 157.1,508.4 157.2,507.4 157.3,511.3 157.5,508.5 157.6,511.9 157.7,507.5 157.8,511.6 158,512.2 158.1,511.8 158.2,509.6 158.3,511.7 158.5,506.7 158.6,508.8 158.7,509.2 158.8,509.3 159,510.8 159.1,507.5 159.2,509.2 159.3,511 159.5,511.6 159.6,512.1 159.7,510.7 159.9,509.5 160,511.2 160.1,506.7 160.2,510.9 160.4,509.3 160.5,511.1 160.6,508.7 160.7,507.6 160.9,510.8 161,504.9 161.1,510 161.2,509.6 161.4,506.8 161.5,507.7 161.6,504.9 161.7,508.1 161.9,507.2 162,505.4 162.1,505.2 162.2,505.6 162.4,508.4 162.5,507.3 162.6,507.1 162.7,506.3 162.9,509.1 163,506.3 163.1,505.8 163.2,504.9 163.4,499.6 163.5,495.6 163.6,491.7 163.7,498.4 163.9,502.4 164,504.9 164.1,509.3 164.3,506.8 164.4,510.5 164.5,512.6 164.6,512.4 164.8,508.7 164.9,510.7 165,507.5 165.1,509.2 165.3,508.4 165.4,510.9 165.5,509.5 165.6,508.9 165.8,510.6 165.9,509.4 166,507.7 166.1,507.4 166.3,511.3 166.4,512.6 166.5,508 166.6,510.4 166.8,507.2 166.9,509.2 167,511.2 167.1,509.1 167.3,511.4 167.4,510.1 167.5,508.7 167.6,511 167.8,509.6 167.9,512.7 168,513.2 168.1,510.9 168.3,512.8 168.4,511 168.5,511.1 168.7,510.2 168.8,509.9 168.9,511.2 169,509.3 169.2,510.4 169.3,508.9 169.4,513.9 169.5,513.5 169.7,509.8 169.8,511.6 169.9,508.3 170,510.5 170.2,508.6 170.3,511.5 170.4,509 170.5,508.6 170.7,508.5 170.8,511 170.9,510.7 171,510.9 171.2,512.1 171.3,511.5 171.4,509.5 171.5,509.2 171.7,512.3 171.8,509.4 171.9,508.6 172,512.2 172.2,509.7 172.3,509.8 172.4,508.7 172.5,513.3 172.7,507.8 172.8,507.9 172.9,512.3 173.1,510.6 173.2,513.3 173.3,510.3 173.4,509.2 173.6,509.1 173.7,508.9 173.8,512.4 173.9,512.7 174.1,507.8 174.2,511.6 174.3,510.6 174.4,510.6 174.6,507.7 174.7,509.8 174.8,507.2 174.9,508.5 175.1,507.3 175.2,508.1 175.3,508.1 175.4,511.5 175.6,511 175.7,509.8 175.8,510 175.9,508.8 176.1,508.5 176.2,511 176.3,512.7 176.4,509.2 176.6,510 176.7,512.5 176.8,513.5 176.9,514.1 177.1,512.8 177.2,512.4 177.3,512.9 177.5,513.9 177.6,512.9 177.7,512.2 177.8,513.3 178,512.6 178.1,511.2 178.2,508.6 178.3,508.4 178.5,510.9 178.6,512.3 178.7,511.3 178.8,508.6 179,510.2 179.1,508.9 179.2,507.5 179.3,507.7 179.5,505.9 179.6,510.4 179.7,509.2 179.8,510.2 180,507.1 180.1,506.5 180.2,506.4 180.3,504.5 180.5,499 180.6,497.5 180.7,494.5 180.8,490.9 181,489.6 181.1,496 181.2,498 181.4,502.8 181.5,505.5 181.6,510.3 181.7,511.2 181.9,508.3 182,510.9 182.1,511.6 182.2,507.9 182.4,508.4 182.5,511.4 182.6,511.1 182.7,510.3 182.9,512.4 183,510.7 183.1,511.9 183.2,508.9 183.4,512.7 183.5,508.7 183.6,513.5 183.7,512.8 183.9,514 184,508.6 184.1,508.8 184.2,513.3 184.4,510.9 184.5,512.1 184.6,511.9 184.7,513 184.9,509.6 185,513.9 185.1,511.5 185.2,515.1 185.4,513.5 185.5,514.9 185.6,515.4 185.8,515.3 185.9,513.9 186,517.1 186.1,517.4 186.3,512.6 186.4,515.8 186.5,516.1 186.6,516.7 186.8,514 186.9,511.2 187,513.8 187.1,514.3 187.3,514.2 187.4,515.7 187.5,515.2 187.6,516 187.8,513.5 187.9,509.6 188,513.8 188.1,511.8 188.3,514.4 188.4,515.7 188.5,510.9 188.6,515 188.8,514.7 188.9,511.2 189,514.4 189.1,515.1 189.3,511.4 189.4,515.1 189.5,512.2 189.6,515.5 189.8,514.4 189.9,516.1 190,517 190.2,513.1 190.3,513 190.4,516.8 190.5,514.3 190.7,517.5 190.8,516.2 190.9,516.8 191,514.1 191.2,513.8 191.3,513.1 191.4,513.6 191.5,515.6 191.7,516.9 191.8,518.1 191.9,516 192,513.4 192.2,516.2 192.3,515.2 192.4,513.4 192.5,513.4 192.7,513.1 192.8,513.4 192.9,515.5 193,512.3 193.2,513.7 193.3,512 193.4,515.4 193.5,511.2 193.7,515.2 193.8,512.5 193.9,513.3 194,518.6 194.2,514.5 194.3,516.1 194.4,516.9 194.6,518.7 194.7,517.8 194.8,518.5 194.9,517.3 195.1,516.2 195.2,515.3 195.3,515.3 195.4,517.2 195.6,517 195.7,514.9 195.8,513.9 195.9,518.3 196.1,517 196.2,518.4 196.3,514.7 196.4,519.9 196.6,513.9 196.7,514.7 196.8,517.1 196.9,514.7 197.1,515.6 197.2,514.2 197.3,515.7 197.4,512.1 197.6,514 197.7,511.7 197.8,514.1 197.9,514.9 198.1,511 198.2,515.3 198.3,511.9 198.4,512.1 198.6,512.5 198.7,514.3 198.8,514.3 199,512.6 199.1,515.3 199.2,514.4 199.3,515.2 199.5,515.2 199.6,517.8 199.7,516.2 199.8,519.6 200,520.5 200.1,520.1 200.2,516.8 200.3,518.4 200.5,514.1 200.6,518.8 200.7,518.7 200.8,515.2 201,517.8 201.1,518.9 201.2,515 201.3,519.2 201.5,515.1 201.6,519.9 201.7,517.3 201.8,519.4 202,516.4 202.1,519.7 202.2,516 202.3,519.5 202.5,519.3 202.6,517.6 202.7,517.6 202.8,515.7 203,515.3 203.1,517.4 203.2,518.9 203.4,514.5 203.5,515 203.6,515.1 203.7,515 203.9,512.6 204,516.8 204.1,514.2 204.2,519.1 204.4,516.7 204.5,514.3 204.6,519.2 204.7,515.9 204.9,518.4 205,519.2 205.1,517.6 205.2,516.1 205.4,518.1 205.5,514 205.6,519 205.7,517.8 205.9,517.7 206,517.4 206.1,518.2 206.2,519.4 206.4,518.7 206.5,518.5 206.6,516.7 206.7,518.2 206.9,516.1 207,517.7 207.1,518.5 207.3,519.2 207.4,518.8 207.5,515.8 207.6,517.3 207.8,518.2 207.9,519.2 208,515.9 208.1,517.6 208.3,518.3 208.4,517 208.5,520.2 208.6,516.9 208.8,520.3 208.9,517.7 209,519.5 209.1,517.2 209.3,519.9 209.4,518.5 209.5,516.7 209.6,516 209.8,519.2 209.9,520.7 210,520.7 210.1,517.1 210.3,515.4 210.4,519.8 210.5,517.1 210.6,518.1 210.8,513.4 210.9,517 211,518.1 211.1,514.3 211.3,513.2 211.4,514.4 211.5,518.7 211.7,516.5 211.8,516.3 211.9,514.8 212,516.3 212.2,520.4 212.3,517.7 212.4,516.1 212.5,517.3 212.7,516.9 212.8,514.6 212.9,515.4 213,516.2 213.2,516.9 213.3,516.9 213.4,517.9 213.5,518 213.7,515.5 213.8,514.5 213.9,514.2 214,514.3 214.2,517.4 214.3,517.5 214.4,518.9 214.5,518.1 214.7,516.3 214.8,517.6 214.9,519.2 215,521 215.2,516.9 215.3,517.1 215.4,517.9 215.5,519.9 215.7,518.8 215.8,517.7 215.9,515.4 216.1,518.4 216.2,517.5 216.3,519.9 216.4,520.4 216.6,518 216.7,514.7 216.8,515.3 216.9,516.7 217.1,516.7 217.2,517.4 217.3,514.9 217.4,515.4 217.6,517 217.7,513.9 217.8,512.4 217.9,517.4 218.1,512.3 218.2,517.2 218.3,517 218.4,513.3 218.6,513.2 218.7,518.3 218.8,515.2 218.9,515.5 219.1,516.4 219.2,514.8 219.3,515.7 219.4,517.1 219.6,514.7 219.7,513.4 219.8,513.8 219.9,513.6 220.1,513.4 220.2,516.8 220.3,517.4 220.5,516.8 220.6,514.1 220.7,515.7 220.8,513.9 221,513.2 221.1,518 221.2,517.5 221.3,517 221.5,516 221.6,514.5 221.7,516.5 221.8,517.7 222,516.3 222.1,517.9 222.2,517.1 222.3,519.2 222.5,515.4 222.6,515.2 222.7,514.6 222.8,514.5 223,514.3 223.1,513.6 223.2,516 223.3,513.2 223.5,513.1 223.6,513.2 223.7,515.1 223.8,517.4 224,513 224.1,513.7 224.2,512.7 224.3,515.5 224.5,513.6 224.6,513.4 224.7,516.2 224.9,514 225,514.7 225.1,518.6 225.2,518.2 225.4,516.4 225.5,516.1 225.6,515.7 225.7,516.4 225.9,514.2 226,514.3 226.1,518 226.2,517.2 226.4,514.6 226.5,514.9 226.6,519.4 226.7,516.3 226.9,518.9 227,516.5 227.1,513.8 227.2,518.5 227.4,514.7 227.5,516.1 227.6,513.2 227.7,514.2 227.9,518.5 228,515.1 228.1,513.9 228.2,517.4 228.4,515.4 228.5,517.9 228.6,518.5 228.7,517.7 228.9,517.6 229,513.7 229.1,517.2 229.3,515.8 229.4,514.5 229.5,513.7 229.6,511.9 229.8,513.7 229.9,511.6 230,515.4 230.1,513.2 230.3,516.5 230.4,512.9 230.5,514.3 230.6,517.3 230.8,513.2 230.9,515 231,514.9 231.1,517.8 231.3,513.5 231.4,515.7 231.5,513.3 231.6,518.2 231.8,514.8 231.9,516.8 232,516.2 232.1,515.7 232.3,515.1 232.4,514.9 232.5,519.9 232.6,515.3 232.8,519.4 232.9,519.3 233,518.1 233.2,517.7 233.3,514.7 233.4,516 233.5,516.5 233.7,513.6 233.8,512.3 233.9,514 234,514.2 234.2,513.3 234.3,516.7 234.4,512.9 234.5,517.5 234.7,518 234.8,514.2 234.9,518 235,516.8 235.2,515.9 235.3,517.4 235.4,515.5 235.5,515 235.7,516.5 235.8,513.7 235.9,514.8 236,516 236.2,512.6 236.3,514.8 236.4,516.9 236.5,513.5 236.7,516.3 236.8,519.4 236.9,518.5 237,518.7 237.2,519.9 237.3,518.6 237.4,519.4 237.6,519.7 237.7,517.6 237.8,520.2 237.9,521.5 238.1,520.3 238.2,519.2 238.3,520 238.4,517.2 238.6,516 238.7,516.3 238.8,517.8 238.9,515.5 239.1,514.9 239.2,514.4 239.3,513.1 239.4,515.9 239.6,513.9 239.7,515.1 239.8,513.5 239.9,513.3 240.1,516.9 240.2,512.1 240.3,517.3 240.4,515.9 240.6,514.7 240.7,513.6 240.8,517.7 240.9,514.7 241.1,516.8 241.2,518.7 241.3,516.3 241.4,514.8 241.6,517.5 241.7,513.5 241.8,518.4 242,516.8 242.1,516.3 242.2,517.9 242.3,512.4 242.5,511.9 242.6,513.2 242.7,517.8 242.8,514.5 243,517.2 243.1,518 243.2,515.9 243.3,519.2 243.5,519.2 243.6,513.8 243.7,516.8 243.8,514.7 244,516 244.1,516.9 244.2,514.8 244.3,516 244.5,516.8 244.6,517.4 244.7,515 244.8,517.2 245,517.6 245.1,513.9 245.2,515 245.3,516 245.5,518.1 245.6,515.1 245.7,514.9 245.8,516 246,518.1 246.1,517.7 246.2,516.1 246.4,516.7 246.5,513.7 246.6,516.2 246.7,514.9 246.9,513.5 247,515.7 247.1,516.7 247.2,515.1 247.4,512.1 247.5,516.8 247.6,515 247.7,512.3 247.9,510.7 248,511.3 248.1,512.1 248.2,512.1 248.4,514.8 248.5,517 248.6,513.5 248.7,516.9 248.9,514.2 249,518.1 249.1,519.1 249.2,513.8 249.4,517.8 249.5,515.3 249.6,517.8 249.7,512.9 249.9,518 250,514.3 250.1,513.1 250.2,515.8 250.4,517.5 250.5,516.8 250.6,517 250.8,513.6 250.9,515.2 251,513.6 251.1,515 251.3,515.4 251.4,517.1 251.5,517.5 251.6,513.8 251.8,514.6 251.9,518.2 252,516 252.1,515.9 252.3,517.8 252.4,518.8 252.5,515.8 252.6,514.4 252.8,513.9 252.9,516.6 253,517.6 253.1,514.6 253.3,515.6 253.4,510.9 253.5,514.7 253.6,511.1 253.8,514.3 253.9,511.4 254,514.1 254.1,512.5 254.3,514.2 254.4,514.1 254.5,517.5 254.6,517.8 254.8,516.5 254.9,513.9 255,513.4 255.2,513.8 255.3,514.6 255.4,517.6 255.5,513.3 255.7,515.1 255.8,516 255.9,514.5 256,518.1 256.2,516.1 256.3,515.9 256.4,515.7 256.5,519.3 256.7,515.7 256.8,514.8 256.9,516.4 257,518.5 257.2,515.2 257.3,519.4 257.4,518.5 257.5,515.3 257.7,517.2 257.8,518.4 257.9,515.8 258,516 258.2,519.2 258.3,519.2 258.4,515.6 258.5,515.6 258.7,519.7 258.8,516.9 258.9,515.2 259.1,517.5 259.2,518.6 259.3,516.3 259.4,512.4 259.6,513 259.7,515.6 259.8,512 259.9,512.8 260.1,515.6 260.2,515.9 260.3,516.4 260.4,515.7 260.6,516.9 260.7,518 260.8,515.3 260.9,515.6 261.1,516.6 261.2,514.4 261.3,515.6 261.4,514.4 261.6,514.8 261.7,515.8 261.8,514.7 261.9,513.3 262.1,513.4 262.2,513.6 262.3,517.2 262.4,517.6 262.6,518.5 262.7,514.1 262.8,514.3 262.9,517.3 263.1,517.5 263.2,519.1 263.3,514.6 263.5,516 263.6,514.3 263.7,515.5 263.8,515.5 264,514.3 264.1,513.2 264.2,512.5 264.3,515 264.5,514.3 264.6,512.3 264.7,514.5 264.8,512.7 265,514.4 265.1,512.7 265.2,517.4 265.3,518.5 265.5,517.9 265.6,516.3 265.7,516.8 265.8,512.8 266,512.2 266.1,516.9 266.2,513.8 266.3,516.1 266.5,514.3 266.6,516.9 266.7,515.2 266.8,519.2 267,516.9 267.1,518.4 267.2,518.5 267.3,518.5 267.5,517.4 267.6,516.7 267.7,516.2 267.9,515 268,514.3 268.1,514.2 268.2,515.9 268.4,517.7 268.5,516.4 268.6,517.2 268.7,517.8 268.9,517.4 269,517.1 269.1,515.5 269.2,517.8 269.4,514.8 269.5,515 269.6,516.7 269.7,514.9 269.9,510.2 270,512.1 270.1,515.4 270.2,514 270.4,513.2 270.5,516.9 270.6,515.2 270.7,516.2 270.9,514.4 271,512.7 271.1,516.3 271.2,517.5 271.4,517.7 271.5,515.4 271.6,518.1 271.7,516.1 271.9,514.6 272,514.9 272.1,515.2 272.3,519 272.4,516.8 272.5,517.4 272.6,515.6 272.8,517 272.9,517.9 273,513.2 273.1,513.5 273.3,518.6 273.4,515.1 273.5,519.9 273.6,518.4 273.8,514.5 273.9,514.9 274,517.3 274.1,516.4 274.3,517.8 274.4,516 274.5,518.2 274.6,518.8 274.8,519.8 274.9,517.5 275,518.1 275.1,515.7 275.3,520 275.4,515.8 275.5,516 275.6,516.4 275.8,519.5 275.9,519.3 276,518.9 276.1,517.9 276.3,515.4 276.4,518.4 276.5,516.6 276.7,518.5 276.8,514.4 276.9,518.4 277,514.8 277.2,516.3 277.3,518.6 277.4,515.2 277.5,517.1 277.7,517 277.8,517 277.9,519.3 278,519.1 278.2,516.8 278.3,517.1 278.4,517.3 278.5,519.2 278.7,517.8 278.8,522.8 278.9,518.8 279,524.7 279.2,519.7 279.3,519.8 279.4,521.3 279.5,519.4 279.7,518.3 279.8,521.9 279.9,519.2 280,522.3 280.2,517.6 280.3,520.5 280.4,517.7 280.5,521.8 280.7,520.4 280.8,517.3 280.9,520.6 281.1,517.7 281.2,520.2 281.3,521.4 281.4,518.2 281.6,522.1 281.7,519.1 281.8,517.4 281.9,517.6 282.1,519.7 282.2,521.3 282.3,520.1 282.4,521.5 282.6,521.4 282.7,520.6 282.8,522.2 282.9,522.4 283.1,518.3 283.2,521.9 283.3,518.6 283.4,519.1 283.6,516.8 283.7,517.5 283.8,518.1 283.9,517.3 284.1,518.5 284.2,516.7 284.3,517.8 284.4,515.9 284.6,516.7 284.7,517.4 284.8,519 285,517.2 285.1,519.6 285.2,516.3 285.3,515.9 285.5,516.7 285.6,521.6 285.7,521.9 285.8,519.1 286,519.2 286.1,523.4 286.2,523.5 286.3,521.5 286.5,521 286.6,522.1 286.7,521.4 286.8,520.3 287,521.1 287.1,520.4 287.2,521.2 287.3,519.7 287.5,518.3 287.6,518.6 287.7,519.2 287.8,520.3 288,521.9 288.1,522.9 288.2,522.9 288.3,517.8 288.5,517.7 288.6,518.4 288.7,518.4 288.8,518 289,517.5 289.1,520.5 289.2,517 289.4,517.4 289.5,518.7 289.6,519.4 289.7,521 289.9,519.7 290,517.3 290.1,519 290.2,522.4 290.4,523.3 290.5,522.4 290.6,523 290.7,523.9 290.9,520.7 291,523.2 291.1,521 291.2,521.6 291.4,517.2 291.5,519.4 291.6,521 291.7,518.1 291.9,520.4 292,519.3 292.1,520.9 292.2,518.5 292.4,519.3 292.5,520.1 292.6,521.3 292.7,516.8 292.9,521.4 293,521 293.1,521.1 293.2,522.3 293.4,520.7 293.5,520.2 293.6,519.8 293.8,518.9 293.9,520.1 294,518.2 294.1,518.6 294.3,521.1 294.4,520.6 294.5,519 294.6,520 294.8,518.2 294.9,523.1 295,521.1 295.1,522.1 295.3,523.1 295.4,518.6 295.5,521.5 295.6,519.1 295.8,518.7 295.9,518.2 296,522.8 296.1,521.9 296.3,521.3 296.4,519.5 296.5,516.2 296.6,517.9 296.8,521.1 296.9,521.5 297,518 297.1,519 297.3,522.5 297.4,519.4 297.5,522.6 297.6,522.4 297.8,523.9 297.9,518.4 298,520.9 298.2,519.1 298.3,520.7 298.4,519.1 298.5,517.6 298.7,517.1 298.8,515.1 298.9,519.1 299,518.3 299.2,517.4 299.3,518 299.4,515.5 299.5,517.8 299.7,518.6 299.8,517.6 299.9,517.9 300,520.2 300.2,521.9 300.3,518.4 300.4,522.3 300.5,518.2 300.7,522.3 300.8,522 300.9,519.9 301,517.7 301.2,520.3 301.3,519.5 301.4,519.4 301.5,520.9 301.7,520.5 301.8,516.9 301.9,515.2 302,520.3 302.2,516.7 302.3,521.7 302.4,517.7 302.6,520.9 302.7,519.3 302.8,519.4 302.9,518.2 303.1,515.7 303.2,520 303.3,521.1 303.4,521.1 303.6,517.1 303.7,520.8 303.8,521.3 303.9,520.5 304.1,516 304.2,519.4 304.3,521.9 304.4,518.9 304.6,520.8 304.7,519.8 304.8,517.4 304.9,519 305.1,520.5 305.2,517 305.3,519.9 305.4,519.5 305.6,516.3 305.7,516 305.8,516.9 305.9,518.2 306.1,518.1 306.2,519.8 306.3,518.1 306.4,515.7 306.6,517.5 306.7,515.3 306.8,516.4 307,517 307.1,515.8 307.2,517.6 307.3,516.8 307.5,517.7 307.6,518.7 307.7,516.4 307.8,520.5 308,516.6 308.1,516.4 308.2,516.8 308.3,518.5 308.5,518.4 308.6,518.6 308.7,518.2 308.8,518.4 309,515 309.1,514.1 309.2,515.4 309.3,513.5 309.5,516.7 309.6,513.7 309.7,513.5 309.8,516 310,514.5 310.1,516.6 310.2,517.1 310.3,518.7 310.5,521.3 310.6,521.1 310.7,516.8 310.9,520.8 311,517.7 311.1,520.2 311.2,517 311.4,515.3 311.5,517.2 311.6,519.9 311.7,515.5 311.9,517 312,515 312.1,518.4 312.2,517.5 312.4,514.4 312.5,515 312.6,515.5 312.7,517.8 312.9,517.1 313,516.3 313.1,517.6 313.2,520.9 313.4,520.6 313.5,521.7 313.6,520.6 313.7,520.7 313.9,517.9 314,516.1 314.1,514.7 314.2,516.9 314.4,518.7 314.5,514.3 314.6,514 314.7,514.1 314.9,519.1 315,515.7 315.1,516.2 315.3,516.8 315.4,518.9 315.5,515.2 315.6,517.1 315.8,519.2 315.9,518 316,515.8 316.1,518.8 316.3,516.1 316.4,518.8 316.5,517.6 316.6,517.4 316.8,517.9 316.9,513.1 317,516.8 317.1,514.2 317.3,513.7 317.4,516.9 317.5,518.4 317.6,515.9 317.8,518.3 317.9,515.3 318,519.3 318.1,517 318.3,521 318.4,519.9 318.5,519.7 318.6,516.6 318.8,518.2 318.9,517.7 319,520.1 319.1,519.3 319.3,516.2 319.4,517.9 319.5,517.1 319.7,518 319.8,520.1 319.9,515.3 320,518.3 320.2,519 320.3,516.2 320.4,519.7 320.5,516.4 320.7,516.9 320.8,518.8 320.9,518.6 321,518.6 321.2,521.3 321.3,522.4 321.4,520.6 321.5,523.2 321.7,522 321.8,520.6 321.9,519.1 322,520.1 322.2,522.2 322.3,518.8 322.4,518.5 322.5,518.3 322.7,518.7 322.8,520.8 322.9,517.8 323,518.9 323.2,521.4 323.3,517.7 323.4,517.9 323.5,518.5 323.7,519.1 323.8,517.3 323.9,517 324.1,517.1 324.2,519.6 324.3,518.4 324.4,513.2 324.6,516.8 324.7,514.9 324.8,517.3 324.9,515 325.1,515.4 325.2,514.8 325.3,513.7 325.4,517 325.6,518 325.7,519.1 325.8,518 325.9,518.7 326.1,515.9 326.2,518.2 326.3,517.2 326.4,516.8 326.6,521.8 326.7,519.9 326.8,518.7 326.9,521.1 327.1,521.3 327.2,517 327.3,517.5 327.4,520.3 327.6,520.5 327.7,516.8 327.8,517.2 327.9,518.6 328.1,516.4 328.2,517 328.3,514.9 328.5,519.6 328.6,515.3 328.7,517.5 328.8,518.9 329,516.9 329.1,519.9 329.2,518.8 329.3,518.2 329.5,515.2 329.6,514.8 329.7,518.2 329.8,519 330,515.8 330.1,517.6 330.2,517.4 330.3,514.5 330.5,517.1 330.6,517.3 330.7,516 330.8,518.8 331,516.8 331.1,514.1 331.2,514.7 331.3,513.3 331.5,517.5 331.6,516.3 331.7,517.3 331.8,518.2 332,519.5 332.1,519.3 332.2,519 332.3,517.5 332.5,517.8 332.6,515.4 332.7,515.6 332.9,517.1 333,516.2 333.1,516.7 333.2,517 333.4,515.9 333.5,515.6 333.6,513.5 333.7,515.1 333.9,520.1 334,516.1 334.1,519.5 334.2,517 334.4,516.4 334.5,518 334.6,521.3 334.7,519.5 334.9,520.9 335,518.8 335.1,517.5 335.2,518.1 335.4,520.3 335.5,518.6 335.6,520.3 335.7,516.4 335.9,515.3 336,520.4 336.1,517.5 336.2,515.8 336.4,518.2 336.5,519.1 336.6,518.5 336.8,515.1 336.9,518.5 337,516.2 337.1,514.7 337.3,517.8 337.4,514.2 337.5,515.7 337.6,515.6 337.8,514.8 337.9,516.2 338,512.9 338.1,514.7 338.3,515.6 338.4,516.5 338.5,515.2 338.6,512.9 338.8,513.4 338.9,518.7 339,517.5 339.1,516.4 339.3,517.7 339.4,519.1 339.5,519.2 339.6,517.8 339.8,516.4 339.9,516.7 340,516.8 340.1,516.8 340.3,520.3 340.4,519.8 340.5,518.9 340.6,519 340.8,518.5 340.9,518.3 341,518.3 341.2,519.4 341.3,514.3 341.4,513.9 341.5,515.9 341.7,516.9 341.8,515.4 341.9,512.6 342,514 342.2,513 342.3,513.1 342.4,511.7 342.5,513.8 342.7,516.5 342.8,513.9 342.9,511.9 343,516 343.2,516.9 343.3,516.3 343.4,516.7 343.5,516.1 343.7,513.1 343.8,514.2 343.9,512.9 344,514.1 344.2,515.7 344.3,513.9 344.4,517.2 344.5,516 344.7,515.6 344.8,514.1 344.9,514 345,514.8 345.2,515.1 345.3,516.1 345.4,514.2 345.6,512.4 345.7,514.4 345.8,513.7 345.9,515.1 346.1,515.5 346.2,515.5 346.3,517.9 346.4,517.6 346.6,518.6 346.7,516.8 346.8,515.8 346.9,515.6 347.1,517.6 347.2,516.5 347.3,517.6 347.4,513.7 347.6,515.3 347.7,516.3 347.8,516.5 347.9,512 348.1,514.7 348.2,512 348.3,516.1 348.4,517.2 348.6,514.2 348.7,513.7 348.8,517.9 348.9,514.1 349.1,515.8 349.2,514.1 349.3,514.4 349.4,516.6 349.6,513.3 349.7,517.2 349.8,515.9 350,514.9 350.1,515.7 350.2,514.4 350.3,512.6 350.5,516 350.6,513.3 350.7,513.7 350.8,515.3 351,513.3 351.1,515.2 351.2,514.5 351.3,514 351.5,513.1 351.6,512.2 351.7,512.1 351.8,514.4 352,516.1 352.1,517.1 352.2,514.3 352.3,514.6 352.5,514.2 352.6,514.7 352.7,516.3 352.8,514.6 353,516.5 353.1,516.9 353.2,514.8 353.3,516.4 353.5,515.3 353.6,514.6 353.7,517.4 353.8,515.6 354,517.9 354.1,517.1 354.2,514.5 354.4,514.1 354.5,514.8 354.6,515.1 354.7,514.6 354.9,514.8 355,516.3 355.1,517.9 355.2,519.1 355.4,514.4 355.5,514.2 355.6,514.8 355.7,515.8 355.9,515 356,514.1 356.1,514.8 356.2,514.7 356.4,517.4 356.5,515.9 356.6,516.2 356.7,517 356.9,518.8 357,519.6 357.1,517 357.2,520.6 357.4,516.7 357.5,519.4 357.6,515.7 357.7,517.9 357.9,514.4 358,518.4 358.1,517.7 358.2,514.2 358.4,514.4 358.5,516.5 358.6,515.5 358.8,514.6 358.9,516.2 359,515.1 359.1,514.4 359.3,515.5 359.4,517.5 359.5,513.4 359.6,517.3 359.8,511.6 359.9,512.6 360,515.7 360.1,514.3 360.3,519.1 360.4,516.6 360.5,518 360.6,518 360.8,514.7 360.9,519.5 361,516.3 361.1,520.3 361.3,516.5 361.4,518.6 361.5,517.8 361.6,515.5 361.8,515.6 361.9,519.9 362,518.9 362.1,517.6 362.3,516.2 362.4,520.3 362.5,515.8 362.7,515.3 362.8,513.8 362.9,517.6 363,518.3 363.2,514.8 363.3,516.2 363.4,517.3 363.5,518.3 363.7,516.9 363.8,514.2 363.9,514.4 364,516.8 364.2,513.7 364.3,515.9 364.4,515.1 364.5,515.7 364.7,516.6 364.8,517.4 364.9,515.2 365,517.3 365.2,519.2 365.3,517.8 365.4,515.3 365.5,516.5 365.7,519 365.8,517.7 365.9,517.2 366,519.2 366.2,514.5 366.3,514.8 366.4,518.2 366.5,516.2 366.7,517.7 366.8,517.5 366.9,517.6 367.1,518.6 367.2,514.6 367.3,516.2 367.4,513.6 367.6,512.6 367.7,513.4 367.8,514.8 367.9,515.8 368.1,514.1 368.2,514.4 368.3,513.9 368.4,517 368.6,517.9 368.7,513.9 368.8,515.4 368.9,519.1 369.1,515.8 369.2,519.3 369.3,516.2 369.4,516.5 369.6,515.8 369.7,519.9 369.8,515.5 369.9,515.8 370.1,514.8 370.2,516.2 370.3,517.7 370.4,513.8 370.6,515.3 370.7,515.2 370.8,515.1 370.9,516.8 371.1,513.2 371.2,513.9 371.3,516.5 371.5,515.1 371.6,516.2 371.7,515 371.8,511.6 372,515 372.1,514.5 372.2,513.1 372.3,517.5 372.5,517.2 372.6,514.2 372.7,517 372.8,515.1 373,513.8 373.1,515.2 373.2,516.8 373.3,516.8 373.5,514.4 373.6,511.2 373.7,512.9 373.8,512.5 374,513.7 374.1,515.4 374.2,513.4 374.3,517.4 374.5,515.3 374.6,512.8 374.7,516.5 374.8,514.6 375,514.2 375.1,517.1 375.2,513.1 375.3,516 375.5,512.2 375.6,515.3 375.7,514.2 375.9,513.2 376,513.6 376.1,515.1 376.2,516.8 376.4,514.3 376.5,514.5 376.6,518.4 376.7,517 376.9,514.4 377,516.3 377.1,516.8 377.2,514.7 377.4,515.8 377.5,513.2 377.6,515.8 377.7,518.4 377.9,516.2 378,516.5 378.1,511.3 378.2,515.2 378.4,516 378.5,512 378.6,516 378.7,514 378.9,512.6 379,513.2 379.1,517.8 379.2,515.3 379.4,517.5 379.5,514.6 379.6,517 379.7,517.6 379.9,517.2 380,517.1 380.1,513.5 380.3,515.5 380.4,514.6 380.5,515.1 380.6,514.7 380.8,514.9 380.9,514.9 381,513.3 381.1,516.7 381.3,515.1 381.4,517.2 381.5,519.2 381.6,519.1 381.8,516 381.9,519.5 382,518.6 382.1,515.4 382.3,519.8 382.4,519.1 382.5,518.5 382.6,515.5 382.8,519.2 382.9,514.9 383,519.4 383.1,517.6 383.3,516.8 383.4,517.9 383.5,517.3 383.6,517.2 383.8,517.9 383.9,514.3 384,518 384.1,517.2 384.3,516.8 384.4,514.9 384.5,518.5 384.7,519.3 384.8,515.9 384.9,517.7 385,517.2 385.2,516.8 385.3,515.8 385.4,514.6 385.5,515.9 385.7,519.9 385.8,515.9 385.9,520.5 386,515.9 386.2,520.2 386.3,516.1 386.4,516.4 386.5,519.4 386.7,516.1 386.8,516.8 386.9,519 387,514.7 387.2,515.1 387.3,516.6 387.4,514.8 387.5,518.4 387.7,519 387.8,515.2 387.9,518.5 388,514.8 388.2,517.9 388.3,514.1 388.4,517.7 388.6,515.4 388.7,514.8 388.8,515.8 388.9,514.6 389.1,514.4 389.2,517.6 389.3,513.7 389.4,514.5 389.6,517.8 389.7,517.3 389.8,516.9 389.9,516.3 390.1,518.1 390.2,519.6 390.3,516.8 390.4,520.2 390.6,516.5 390.7,516.5 390.8,520.7 390.9,518.2 391.1,517.6 391.2,514.2 391.3,517.7 391.4,517.1 391.6,514.4 391.7,518.2 391.8,515 391.9,517 392.1,516.3 392.2,512.4 392.3,515.9 392.4,517.2 392.6,517 392.7,514.5 392.8,514.2 393,516.9 393.1,515.5 393.2,517.1 393.3,514.7 393.5,517.7 393.6,517 393.7,516 393.8,519.7 394,514.8 394.1,517.6 394.2,516.2 394.3,518.2 394.5,515.9 394.6,515.6 394.7,516.4 394.8,514.7 395,516.5 395.1,519.6 395.2,515.8 395.3,517.8 395.5,518 395.6,517.6 395.7,520.6 395.8,519.5 396,520.2 396.1,516.9 396.2,516 396.3,517.1 396.5,515.7 396.6,518.3 396.7,519.4 396.8,518.3 397,519.7 397.1,519.1 397.2,519.4 397.4,519.8 397.5,517 397.6,517.1 397.7,516.1 397.9,515.9 398,520 398.1,515.2 398.2,516.2 398.4,516.9 398.5,515 398.6,517 398.7,519.6 398.9,519.6 399,518.8 399.1,516.6 399.2,517.7 399.4,517.4 399.5,520.8 399.6,520 399.7,519.4 399.9,519.2 400,521 400.1,521.9 400.2,520.9 400.4,518.1 400.5,518.5 400.6,521.2 400.7,517.5 400.9,522.4 401,520.3 401.1,519.6 401.2,516.5 401.4,518 401.5,517.4 401.6,516.1 401.8,519.2 401.9,520.2 402,518.8 402.1,517.5 402.3,519.5 402.4,520 402.5,516.9 402.6,514.9 402.8,515.7 402.9,518.8 403,517.9 403.1,515.4 403.3,514.6 403.4,518.4 403.5,514.5 403.6,515.5 403.8,518.1 403.9,517.1 404,519.9 404.1,518.1 404.3,517.8 404.4,516.6 404.5,519.4 404.6,518 404.8,519.2 404.9,520.2 405,520.5 405.1,520.9 405.3,519.3 405.4,518.7 405.5,516 405.6,520.8 405.8,516.9 405.9,518.4 406,522.1 406.2,518.2 406.3,519.3 406.4,518.6 406.5,518.8 406.7,518.5 406.8,520 406.9,518.5 407,520.8 407.2,520.6 407.3,517.7 407.4,515.3 407.5,520.2 407.7,515.6 407.8,519.1 407.9,517.6 408,520 408.2,518.2 408.3,519.2 408.4,516.9 408.5,519.4 408.7,519.3 408.8,518.1 408.9,521.3 409,516.1 409.2,518.3 409.3,516 409.4,520.4 409.5,517.3 409.7,520.4 409.8,521.4 409.9,519.4 410,519.7 410.2,518.9 410.3,519.1 410.4,521 410.6,519 410.7,521.3 410.8,521.5 410.9,519.1 411.1,518.9 411.2,519 411.3,517.4 411.4,518.2 411.6,521.6 411.7,517.2 411.8,519.3 411.9,518.7 412.1,520 412.2,519.1 412.3,518.8 412.4,521.5 412.6,517.7 412.7,519.7 412.8,518.2 412.9,517.5 413.1,517.2 413.2,520.5 413.3,517.7 413.4,518.5 413.6,517 413.7,517.1 413.8,518.5 413.9,516.7 414.1,519.7 414.2,516.5 414.3,516.6 414.5,516.8 414.6,517.5 414.7,519.9 414.8,516.6 415,518.7 415.1,520.1 415.2,518.1 415.3,516 415.5,516.6 415.6,515.3 415.7,519.3 415.8,513.4 416,513.3 416.1,515.1 416.2,512.6 416.3,516.9 416.5,516.4 416.6,517.7 416.7,515.3 416.8,515 417,515.5 417.1,521.4 417.2,518 417.3,519.1 417.5,521.6 417.6,517.7 417.7,519.5 417.8,522.2 418,519.5 418.1,516.4 418.2,515.7 418.3,518.2 418.5,515.9 418.6,518.5 418.7,513 418.9,518.4 419,513.7 419.1,516.2 419.2,516 419.4,517.1 419.5,518.1 419.6,519.1 419.7,520.3 419.9,520.1 420,521.3 420.1,520.7 420.2,518.7 420.4,519.1 420.5,518.7 420.6,519.1 420.7,516 420.9,516.1 421,519.5 421.1,517.9 421.2,515.5 421.4,518.8 421.5,515.8 421.6,515.7 421.7,515.5 421.9,515.9 422,515 422.1,516.7 422.2,513.3 422.4,515.2 422.5,516.3 422.6,514.5 422.7,514.2 422.9,513.1 423,515.4 423.1,515.6 423.3,516.6 423.4,517 423.5,518.1 423.6,516.8 423.8,515 423.9,516.4 424,519.5 424.1,520.2 424.3,515 424.4,518 424.5,516.2 424.6,515.2 424.8,515.1 424.9,517 425,516 425.1,519.6 425.3,516 425.4,517.1 425.5,520.8 425.6,517.1 425.8,520.5 425.9,514.3 426,519.4 426.1,515.5 426.3,518.2 426.4,515.2 426.5,516.5 426.6,514 426.8,516.8 426.9,515.4 427,513.3 427.1,519 427.3,515.9 427.4,519.1 427.5,516.2 427.7,516.5 427.8,520.3 427.9,516.7 428,518.9 428.2,518.6 428.3,515.9 428.4,518.8 428.5,519.3 428.7,519.2 428.8,515.4 428.9,514.8 429,517.2 429.2,516.6 429.3,516.1 429.4,515.6 429.5,519.9 429.7,516.1 429.8,515.1 429.9,517.8 430,518 430.2,514.5 430.3,517.6 430.4,518.2 430.5,515.1 430.7,516.9 430.8,516.1 430.9,517.7 431,516.1 431.2,517.9 431.3,515.4 431.4,516.8 431.5,514.2 431.7,516.1 431.8,514.2 431.9,516.4 432.1,514.9 432.2,516.9 432.3,514.8 432.4,513.4 432.6,515.8 432.7,514.8 432.8,512.8 432.9,516.8 433.1,515.9 433.2,515 433.3,517 433.4,519.2 433.6,516.3 433.7,517.2 433.8,514.1 433.9,515.2 434.1,514.7 434.2,517 434.3,514.2 434.4,513.1 434.6,517.4 434.7,515 434.8,513.8 434.9,515.6 435.1,514.7 435.2,518.4 435.3,517.1 435.4,517.7 435.6,519.2 435.7,516.3 435.8,518.9 435.9,517.2 436.1,516.4 436.2,516.4 436.3,519.9 436.5,520.4 436.6,516.1 436.7,516.2 436.8,518.8 437,519.9 437.1,517 437.2,518.4 437.3,514.4 437.5,518.7 437.6,514.2 437.7,515.3 437.8,515.9 438,516 438.1,515.6 438.2,517.5 438.3,517.1 438.5,519.7 438.6,519.9 438.7,515 438.8,515.5 439,516.5 439.1,520.4 439.2,517 439.3,516.4 439.5,517.5 439.6,517.8 439.7,516.5 439.8,520.4 440,517.6 440.1,518.1 440.2,516.4 440.4,516.1 440.5,516.7 440.6,514.6 440.7,515.4 440.9,514.8 441,514 441.1,515.4 441.2,516.6 441.4,513.8 441.5,517.7 441.6,514.4 441.7,514.8 441.9,517.9 442,516.4 442.1,514.2 442.2,513.2 442.4,515.9 442.5,515.3 442.6,515.2 442.7,515.4 442.9,516.3 443,514.8 443.1,513.8 443.2,513.5 443.4,515.1 443.5,514.5 443.6,517.5 443.7,517.6 443.9,513.1 444,517 444.1,516.1 444.2,513.6 444.4,517.4 444.5,514.6 444.6,517.7 444.8,515.8 444.9,514.7 445,515.2 445.1,516 445.3,517.4 445.4,516.9 445.5,518.2 445.6,518.5 445.8,515.1 445.9,518.6 446,514.2 446.1,518.3 446.3,515.3 446.4,517.3 446.5,516.6 446.6,516.1 446.8,520.1 446.9,518 447,519.1 447.1,519.6 447.3,519.4 447.4,519.7 447.5,516 447.6,518.9 447.8,519.2 447.9,518 448,514.8 448.1,513.9 448.3,515.4 448.4,517 448.5,515 448.6,517 448.8,516.2 448.9,515.8 449,516.7 449.2,514.9 449.3,517.2 449.4,516.2 449.5,517.8 449.7,519.9 449.8,518.1 449.9,516.6 450,518.5 450.2,519.5 450.3,518.8 450.4,515.6 450.5,519.4 450.7,519.9 450.8,515.7 450.9,515.5 451,515.7 451.2,516 451.3,516.5 451.4,517.8 451.5,517.3 451.7,517.4 451.8,519.2 451.9,519.9 452,517.5 452.2,516.9 452.3,514.7 452.4,518.2 452.5,518.2 452.7,520.7 452.8,521.5 452.9,520.7 453,518.5 453.2,517.1 453.3,521.3 453.4,521.1 453.6,518.5 453.7,520.7 453.8,521.3 453.9,515.9 454.1,519.5 454.2,518.3 454.3,517 454.4,516.9 454.6,516 454.7,518.6 454.8,520.8 454.9,520.7 455.1,518.1 455.2,518.8 455.3,520.7 455.4,521.7 455.6,520.3 455.7,520.6 455.8,520.3 455.9,520.4 456.1,518.7 456.2,520.9 456.3,518.9 456.4,520.8 456.6,521.9 456.7,517.5 456.8,518.9 456.9,517.9 457.1,521 457.2,516.2 457.3,517.9 457.4,518.5 457.6,518.7 457.7,519.1 457.8,519.5 458,518.1 458.1,517.4 458.2,515.9 458.3,516.7 458.5,519.1 458.6,518.3 458.7,519.5 458.8,519.4 459,518.8 459.1,517 459.2,520.1 459.3,515.9 459.5,514.9 459.6,517.2 459.7,520.2 459.8,519.3 460,516.8 460.1,515.4 460.2,514.8 460.3,515.9 460.5,515.9 460.6,520.7 460.7,518.5 460.8,518.5 461,520.5 461.1,518.5 461.2,518.8 461.3,515.8 461.5,521.1 461.6,519.8 461.7,519.6 461.8,519.3 462,519.4 462.1,518.7 462.2,514.7 462.4,518.8 462.5,519.2 462.6,521.8 462.7,521.6 462.9,521.6 463,519.9 463.1,521.2 463.2,521.3 463.4,520.2 463.5,523.8 463.6,518.8 463.7,522.6 463.9,519.2 464,515.4 464.1,520.1 464.2,521.3 464.4,519 464.5,518.6 464.6,520.2 464.7,521.1 464.9,518.2 465,518.7 465.1,521.2 465.2,520.5 465.4,519.4 465.5,520.8 465.6,521.4 465.7,519.2 465.9,519.8 466,521.4 466.1,517.2 466.2,521.3 466.4,518.4 466.5,520.1 466.6,517.5 466.8,518.4 466.9,516.7 467,518.7 467.1,519.8 467.3,517.5 467.4,517.5 467.5,518.9 467.6,515.8 467.8,516.6 467.9,515.8 468,520.1 468.1,516 468.3,517.5 468.4,515.8 468.5,518.8 468.6,517.5 468.8,515.5 468.9,516.4 469,518.5 469.1,518.2 469.3,515.2 469.4,517 469.5,520.9 469.6,519.9 469.8,519 469.9,520.8 470,520.1 470.1,519.7 470.3,522.9 470.4,522.1 470.5,518.1 470.7,521.9 470.8,520.6 470.9,516.8 471,517.2 471.2,518.3 471.3,515.8 471.4,519.2 471.5,520.3 471.7,516 471.8,517.1 471.9,519.2 472,518.2 472.2,521.5 472.3,519.7 472.4,519.2 472.5,517.9 472.7,520.1 472.8,522.4 472.9,522.5 473,521.1 473.2,520.1 473.3,518.6 473.4,519.3 473.5,518.1 473.7,518 473.8,517.6 473.9,518.6 474,517.1 474.2,516.9 474.3,515.5 474.4,519.7 474.5,518.1 474.7,519.7 474.8,520.2 474.9,516.9 475.1,520 475.2,519.5 475.3,521.2 475.4,519.1 475.6,522.6 475.7,519.2 475.8,517.3 475.9,519.3 476.1,519.1 476.2,519.8 476.3,520.8 476.4,518.1 476.6,520.3 476.7,520.7 476.8,518.7 476.9,516.6 477.1,517.8 477.2,518.3 477.3,521.1 477.4,516.8 477.6,518.5 477.7,516.7 477.8,517.3 477.9,516.2 478.1,520.5 478.2,519.9 478.3,518.2 478.4,518 478.6,515.8 478.7,519.5 478.8,519.9 478.9,517.8 479.1,520.5 479.2,516.1 479.3,518.9 479.5,519.1 479.6,518.2 479.7,517.1 479.8,520.3 480,520.8 480.1,520.7 480.2,518.8 480.3,517.7 480.5,522.3 480.6,522.9 480.7,521.9 480.8,521.7 481,519.2 481.1,519.7 481.2,518.8 481.3,520.6 481.5,519.4 481.6,516.7 481.7,521.3 481.8,521.4 482,521 482.1,516.2 482.2,517 482.3,516.6 482.5,516.6 482.6,515.5 482.7,517.4 482.8,518.6 483,520.4 483.1,519.2 483.2,519.7 483.3,515.9 483.5,517.7 483.6,519.7 483.7,518.9 483.9,519.9 484,520.2 484.1,519.1 484.2,522.2 484.4,519.9 484.5,521.2 484.6,518.7 484.7,522 484.9,520.4 485,523.4 485.1,520.6 485.2,517.9 485.4,518.8 485.5,522.7 485.6,517.5 485.7,520.3 485.9,520.3 486,517.8 486.1,519.4 486.2,521.8 486.4,520.3 486.5,517.8 486.6,519.4 486.7,520.9 486.9,519.3 487,520.6 487.1,520.8 487.2,521.5 487.4,519.1 487.5,519.2 487.6,519.8 487.7,517 487.9,517.5 488,515.9 488.1,519.5 488.3,517.1 488.4,519.2 488.5,517.4 488.6,518.1 488.8,517.7 488.9,518 489,516.2 489.1,518.2 489.3,519.2 489.4,518 489.5,520.6 489.6,515.9 489.8,517.2 489.9,518.4 490,515.4 490.1,518.1 490.3,518.8 490.4,517.3 490.5,516.5 490.6,514.7 490.8,516.7 490.9,515.7 491,513.7 491.1,513.5 491.3,515.5 491.4,518.6 491.5,517.2 491.6,515.5 491.8,515.4 491.9,514.6 492,517.8 492.1,518.7 492.3,518.2 492.4,516 492.5,514.6 492.7,516.5 492.8,517 492.9,515.6 493,516.7 493.2,516.4 493.3,517.7 493.4,518.4 493.5,517.1 493.7,517.4 493.8,518.5 493.9,514.5 494,515.3 494.2,517.1 494.3,512.9 494.4,517.5 494.5,516.8 494.7,512.9 494.8,512.3 494.9,512.9 495,515.7 495.2,513.1 495.3,516.4 495.4,515.8 495.5,511.9 495.7,517.1 495.8,516.8 495.9,516.9 496,514 496.2,515 496.3,517.8 496.4,516.9 496.6,513.8 496.7,518 496.8,519.1 496.9,514.9 497.1,517.6 497.2,514.2 497.3,515.3 497.4,516.3 497.6,512.7 497.7,513.1 497.8,515.7 497.9,516.8 498.1,511.7 498.2,516.9 498.3,516.3 498.4,516.8 498.6,517.6 498.7,518.6 498.8,514.7 498.9,518.5 499.1,514.1 499.2,515.8 499.3,519.6 499.4,518.2 499.6,515.9 499.7,516.1 499.8,517.8 499.9,516.2 500.1,512.8 500.2,514.2 500.3,515.4 500.4,513.5 500.6,516.7 500.7,516.5 500.8,514.1 501,516.5 501.1,516.8 501.2,515.3 501.3,514.5 501.5,514 501.6,514.1 501.7,516.5 501.8,515.8 502,518.7 502.1,518.2 502.2,518.2 502.3,515.7 502.5,514.2 502.6,515.1 502.7,518.9 502.8,516.4 503,517.8 503.1,513.9 503.2,515.8 503.3,517.4 503.5,517.1 503.6,518.3 503.7,517.3 503.8,517.6 504,516.6 504.1,515.8 504.2,514.5 504.3,515.7 504.5,516.4 504.6,517.4 504.7,518.8 504.8,516.5 505,518.7 505.1,518.1 505.2,515 505.4,517.6 505.5,513.9 505.6,515.7 505.7,517.2 505.9,514.8 506,519.1 506.1,517.5 506.2,516.6 506.4,514.2 506.5,518.6 506.6,515.6 506.7,513.9 506.9,517.8 507,514.3 507.1,515 507.2,516.8 507.4,516.1 507.5,514.1 507.6,516.3 507.7,516.9 507.9,516.8 508,519.6 508.1,515.5 508.2,519.6 508.4,514.2 508.5,513.8 508.6,514.8 508.7,514.1 508.9,516.4 509,518.5 509.1,516.8 509.2,516.6 509.4,519 509.5,515.7 509.6,517.7 509.8,516.9 509.9,518.2 510,518.2 510.1,514.9 510.3,514.8 510.4,518.3 510.5,514.4 510.6,513.7 510.8,514 510.9,514.7 511,517.4 511.1,515.6 511.3,517.9 511.4,514.6 511.5,516 511.6,518.4 511.8,514.4 511.9,514.3 512,518.7 512.1,518.2 512.3,519.1 512.4,514.6 512.5,517.6 512.6,517 512.8,514 512.9,516.3 513,516.9 513.1,518.6 513.3,518.1 513.4,515.4 513.5,517.9 513.6,513 513.8,518.1 513.9,516.5 514,518.1 514.2,514.6 514.3,515.9 514.4,519.8 514.5,520.3 514.7,521 514.8,517.6 514.9,517.9 515,518.7 515.2,519.8 515.3,519.2 515.4,518.6 515.5,521.3 515.7,518 515.8,518.2 515.9,517.7 516,519.7 516.2,520 516.3,516.3 516.4,516.4 516.5,518.2 516.7,517.9 516.8,519.9 516.9,517.2 517,518 517.2,519.8 517.3,518.7 517.4,522.4 517.5,520.7 517.7,518.3 517.8,519.6 517.9,518.8 518,518.3 518.2,515.8 518.3,520.2 518.4,517 518.6,518.3 518.7,519.3 518.8,519.6 518.9,516.6 519.1,519.6 519.2,518.3 519.3,518.9 519.4,519.5 519.6,516.8 519.7,521.8 519.8,518.9 519.9,519.7 520.1,521.7 520.2,519.7 520.3,516.3 520.4,519.3 520.6,517.4 520.7,519.9 520.8,518.3 520.9,517.9 521.1,520.5 521.2,516.8 521.3,518.7 521.4,520.3 521.6,520.4 521.7,516.3 521.8,515.5 521.9,518.2 522.1,519.9 522.2,518 522.3,522.3 522.5,517.8 522.6,522.3 522.7,521.4 522.8,520.2 523,519.9 523.1,522.7 523.2,521.2 523.3,516.4 523.5,517.1 523.6,520.6 523.7,516 523.8,519.3 524,517.2 524.1,521.3 524.2,520.9 524.3,518.8 524.5,519.9 524.6,521.7 524.7,520 524.8,519.9 525,521.8 525.1,518.4 525.2,518.8 525.3,518.6 525.5,519 525.6,520.8 525.7,518.6 525.8,521.3 526,522.1 526.1,519.8 526.2,521.4 526.3,521.7 526.5,518.5 526.6,516.5 526.7,521.7 526.9,520.2 527,521.5 527.1,519.1 527.2,518.6 527.4,519 527.5,521.4 527.6,517.7 527.7,519.4 527.9,519.2 528,519 528.1,517.7 528.2,520.5 528.4,518.3 528.5,522.5 528.6,520.9 528.7,523 528.9,521.4 529,518.1 529.1,517.5 529.2,519.5 529.4,520.7 529.5,520.4 529.6,516.1 529.7,519.1 529.9,520.6 530,516.3 530.1,519 530.2,519.5 530.4,516.7 530.5,517.2 530.6,521.5 530.7,516.1 530.9,519.4 531,520.6 531.1,517 531.3,519.8 531.4,518 531.5,517.4 531.6,520.2 531.8,516.4 531.9,518.2 532,520.9 532.1,518.9 532.3,521.8 532.4,516.1 532.5,518.1 532.6,519.7 532.8,517.8 532.9,517.7 533,517.8 533.1,520.7 533.3,521.4 533.4,517 533.5,516.3 533.6,519.2 533.8,518.8 533.9,518.9 534,519.2 534.1,516.5 534.3,519.2 534.4,518.4 534.5,518.9 534.6,521.6 534.8,521.8 534.9,521.5 535,519.3 535.1,518.9 535.3,516.7 535.4,517 535.5,518 535.7,519.7 535.8,519.8 535.9,518.6 536,520.8 536.2,519 536.3,519.2 536.4,522.9 536.5,519.7 536.7,524.1 536.8,522.4 536.9,519.3 537,521.3 537.2,519.7 537.3,520.1 537.4,523.3 537.5,520.6 537.7,522.3 537.8,523.3 537.9,522.6 538,523.1 538.2,520 538.3,519.9 538.4,518 538.5,520.2 538.7,517.5 538.8,520.7 538.9,520.6 539,518.6 539.2,520.3 539.3,517.3 539.4,520.9 539.5,521.6 539.7,518.1 539.8,519.1 539.9,522.9 540.1,521.5 540.2,520.6 540.3,523.8 540.4,521.6 540.6,518.5 540.7,518.8 540.8,522.6 540.9,522.1 541.1,520.9 541.2,518.9 541.3,522.9 541.4,517.3 541.6,521.9 541.7,519.4 541.8,519 541.9,517.5 542.1,518.9 542.2,517.4 542.3,519.2 542.4,521.5 542.6,520 542.7,518.9 542.8,519.3 542.9,518.8 543.1,520.1 543.2,520.9 543.3,520 543.4,520.6 543.6,524 543.7,521.7 543.8,519.9 543.9,520 544.1,521.6 544.2,519.4 544.3,520.3 544.5,520.8 544.6,521.5 544.7,518.1 544.8,517.2 545,517.7 545.1,520.4 545.2,516.8 545.3,517.4 545.5,515 545.6,520.6 545.7,516.3 545.8,517.7 546,515.8 546.1,517.8 546.2,522.1 546.3,518.4 546.5,519.6 546.6,521.4 546.7,522.4 546.8,520.4 547,520 547.1,520.5 547.2,522.8 547.3,521.9 547.5,518.5 547.6,520.1 547.7,519.6 547.8,522.3 548,522.5 548.1,519.9 548.2,522.6 548.4,523.4 548.5,522.1 548.6,521.3 548.7,522.5 548.9,517.5 549,521 549.1,521.3 549.2,518.5 549.4,521.3 549.5,521 549.6,520.1 549.7,520 549.9,518.2 550,521 550.1,519.2 550.2,522.2 550.4,519.5 550.5,518.1 550.6,519 550.7,517.8 550.9,520.6 551,523.4 551.1,522.4 551.2,519.8 551.4,523.1 551.5,520.2 551.6,521.3 551.7,517.3 551.9,520.3 552,520.7 552.1,521.1 552.2,519.5 552.4,516.8 552.5,519.6 552.6,517.9 552.8,518.6 552.9,521.2 553,519 553.1,519.5 553.3,520 553.4,520.8 553.5,520.8 553.6,520.3 553.8,521.9 553.9,521.7 554,521.4 554.1,520.5 554.3,518.1 554.4,518.8 554.5,519 554.6,518.2 554.8,520.3 554.9,523.4 555,519.7 555.1,519.1 555.3,519.5 555.4,518.6 555.5,518.9 555.6,518.5 555.8,523 555.9,517.8 556,520 556.1,519.5 556.3,519.2 556.4,521.5 556.5,521.6 556.6,518.4 556.8,519.3 556.9,517.5 557,521.1 557.2,519.1 557.3,518.8 557.4,522.1 557.5,519.1 557.7,519.6 557.8,518.7 557.9,519.7 558,517.6 558.2,517.2 558.3,516.6 558.4,516.8 558.5,515.6 558.7,515 558.8,516.1 558.9,518.8 559,517.8 559.2,520.6 559.3,518.5 559.4,519.6 559.5,518.9 559.7,517.9 559.8,521 559.9,516.8 560,521.9 560.2,519.5 560.3,520.3 560.4,521.2 560.5,518.2 560.7,519.7 560.8,520.1 560.9,514.9 561,518.8 561.2,515.1 561.3,516.6 561.4,517.8 561.6,519.7 561.7,515.1 561.8,519.3 561.9,516.1 562.1,517.2 562.2,518.7 562.3,520.9 562.4,519.3 562.6,521.5 562.7,517.8 562.8,518.3 562.9,522.1 563.1,520.1 563.2,521.4 563.3,519 563.4,521.9 563.6,522.2 563.7,520.8 563.8,517.7 563.9,518.3 564.1,521.2 564.2,518.6 564.3,520.7 564.4,521.9 564.6,517.6 564.7,522.3 564.8,517.2 564.9,516.3 565.1,519.8 565.2,515.9 565.3,516.1 565.4,519.6 565.6,517.7 565.7,518.6 565.8,517.8 566,518 566.1,518.3 566.2,520.7 566.3,519.4 566.5,519.1 566.6,516.6 566.7,516.9 566.8,516.2 567,516.3 567.1,514.7 567.2,515.9 567.3,517.2 567.5,519.7 567.6,515.8 567.7,516.5 567.8,518.8 568,516.7 568.1,515.2 568.2,517.6 568.3,519.3 568.5,516.2 568.6,518.9 568.7,520.3 568.8,519.7 569,515.1 569.1,519.1 569.2,515.2 569.3,519.2 569.5,516.5 569.6,516.9 569.7,517.5 569.8,518.1 570,516.2 570.1,514.2 570.2,515.3 570.4,518.7 570.5,514.8 570.6,513.8 570.7,515.7 570.9,516.2 571,517.3 571.1,517.6 571.2,516 571.4,518 571.5,513.5 571.6,514.9 571.7,517.7 571.9,516.5 572,519.5 572.1,515.2 572.2,517.4 572.4,516.4 572.5,518.9 572.6,517.6 572.7,516.2 572.9,518.6 573,519 573.1,516.6 573.2,515.1 573.4,518 573.5,515.1 573.6,517.1 573.7,515.4 573.9,519.9 574,516.6 574.1,516.6 574.3,517.6 574.4,515.2 574.5,519.6 574.6,517 574.8,518.7 574.9,514.9 575,515.9 575.1,518.5 575.3,518.1 575.4,518.5 575.5,517.7 575.6,513.6 575.8,513.8 575.9,514.4 576,515.7 576.1,515.1 576.3,513.9 576.4,512.8 576.5,517.8 576.6,516.7 576.8,514.8 576.9,516.9 577,512.7 577.1,517.5 577.3,513.3 577.4,517.7 577.5,519.2 577.6,517.6 577.8,516.9 577.9,515.1 578,518.4 578.1,516.2 578.3,515.5 578.4,515.6 578.5,518.7 578.7,518.4 578.8,521.2 578.9,519.5 579,519.1 579.2,521.1 579.3,516.5 579.4,519.6 579.5,521.2 579.7,521 579.8,521.8 579.9,516.8 580,517.8 580.2,517.7 580.3,518.1 580.4,515.4 580.5,519.4 580.7,518.4 580.8,517.1 580.9,515.6 581,515.4 581.2,516.2 581.3,519.9 581.4,516.9 581.5,517.8 581.7,520.2 581.8,516.9 581.9,516.2 582,517.7 582.2,517.2 582.3,516.7 582.4,516.1 582.5,516.7 582.7,519.7 582.8,519.3 582.9,519.6 583.1,518.2 583.2,520.3 583.3,517.1 583.4,515.6 583.6,515.8 583.7,520.8 583.8,516.8 583.9,520.6 584.1,516.7 584.2,521.1 584.3,520 584.4,519.1 584.6,521 584.7,517.7 584.8,519.8 584.9,517.6 585.1,516.7 585.2,518.6 585.3,518.2 585.4,515.5 585.6,520.1 585.7,516.7 585.8,517.8 585.9,521.3 586.1,519.8 586.2,517 586.3,520.1 586.4,515.6 586.6,515.6 586.7,516.7 586.8,515.2 586.9,516.5 587.1,514.6 587.2,516.7 587.3,517.9 587.5,516.2 587.6,517.8 587.7,518.4 587.8,518.6 588,517 588.1,517.7 588.2,516.4 588.3,516.3 588.5,516.3 588.6,515.5 588.7,518.1 588.8,517.8 589,515.4 589.1,519.6 589.2,517 589.3,517.9 589.5,516.6 589.6,517.3 589.7,517.5 589.8,520.2 590,521.9 590.1,516.8 590.2,516.7 590.3,518.4 590.5,517.6 590.6,520.7 590.7,518.8 590.8,517.8 591,516.1 591.1,518.3 591.2,518.7 591.3,514.4 591.5,515.4 591.6,519.4 591.7,516 591.9,515.8 592,518.4 592.1,514.5 592.2,517.3 592.4,517.6 592.5,519.1 592.6,516.7 592.7,516.4 592.9,516.6 593,518.5 593.1,515.5 593.2,519.4 593.4,520.5 593.5,519.3 593.6,522.3 593.7,517.7 593.9,519.2 594,518.5 594.1,520.3 594.2,519.7 594.4,520.5 594.5,519.5 594.6,518.1 594.7,515.5 594.9,516.4 595,515.5 595.1,519.7 595.2,518.8 595.4,520.4 595.5,516.2 595.6,520.7 595.7,518.2 595.9,517.2 596,519.5 596.1,514.9 596.3,514.6 596.4,518.5 596.5,518.9 596.6,516.4 596.8,517.2 596.9,516.1 597,516.4 597.1,515.4 597.3,516.5 597.4,518.8 597.5,516.3 597.6,517.4 597.8,514.8 597.9,517.6 598,520.2 598.1,515.9 598.3,518.7 598.4,515.8 598.5,516.5 598.6,516.8 598.8,516.9 598.9,516.2 599,516.2 599.1,517 599.3,519 599.4,518 599.5,520.1 599.6,518.5 599.8,518.5 599.9,518.3 600,519.3 600.2,519.7 600.3,520.4 600.4,520.8 600.5,518.2 600.7,520.8 600.8,519.8 600.9,521.3 601,517.9 601.2,520.6 601.3,521.8 601.4,517.6 601.5,519.6 601.7,518.1 601.8,520.4 601.9,520.7 602,519 602.2,521.7 602.3,516.7 602.4,520.5 602.5,515.8 602.7,517.4 602.8,516.8 602.9,519.6 603,515.8 603.2,517.9 603.3,518.6 603.4,520 603.5,521 603.7,518.3 603.8,516.8 603.9,519.7 604,517.7 604.2,518.1 604.3,519.3 604.4,519.6 604.6,519.5 604.7,519.4 604.8,517.1 604.9,518.3 605.1,518.3 605.2,520.4 605.3,516.1 605.4,520.4 605.6,517.3 605.7,516.7 605.8,518.6 605.9,515.8 606.1,520.8 606.2,519 606.3,518.6 606.4,516.8 606.6,517.9 606.7,517.3 606.8,516.3 606.9,521.4 607.1,519 607.2,520.4 607.3,518.5 607.4,520.3 607.6,521.7 607.7,523.4 607.8,520.5 607.9,520 608.1,520.9 608.2,520.5 608.3,517.8 608.4,518.8 608.6,516.3 608.7,519.1 608.8,518.8 609,518.7 609.1,516.8 609.2,518.1 609.3,516 609.5,521 609.6,516.1 609.7,520.5 609.8,516.9 610,521.2 610.1,515.7 610.2,517.5 610.3,517.2 610.5,518.7 610.6,518.9 610.7,520.6 610.8,521.3 611,518.7 611.1,519.6 611.2,520.7 611.3,520.7 611.5,520 611.6,520 611.7,518.9 611.8,516.6 612,518.1 612.1,516.5 612.2,519.8 612.3,517.3 612.5,516.4 612.6,515.9 612.7,518.1 612.8,518.4 613,517 613.1,521.4 613.2,517.7 613.4,518.4 613.5,518.6 613.6,520.4 613.7,522.3 613.9,522.3 614,519.1 614.1,521.3 614.2,517.5 614.4,522 614.5,518.3 614.6,520.6 614.7,522.3 614.9,522.6 615,521.9" fill="none" stroke="#737314" stroke-width="2.4" stroke-linejoin="round" />
<rect x="112.2" y="321.64" width="547.83" height="98.46" fill="none" stroke="#111" stroke-width="1.3" />
<line x1="104.4" y1="420.1" x2="112.2" y2="420.1" stroke="#111" stroke-width="1.2" />
<text x="99.3" y="423.8" font-family='"Liberation Serif", serif' font-size="11.3" font-weight="bold" text-anchor="end" fill="#111" >0</text>
<line x1="104.4" y1="398.22" x2="112.2" y2="398.22" stroke="#111" stroke-width="1.2" />
<text x="99.3" y="401.92" font-family='"Liberation Serif", serif' font-size="11.3" font-weight="bold" text-anchor="end" fill="#111" >4</text>
<line x1="104.4" y1="376.34" x2="112.2" y2="376.34" stroke="#111" stroke-width="1.2" />
<text x="99.3" y="380.04" font-family='"Liberation Serif", serif' font-size="11.3" font-weight="bold" text-anchor="end" fill="#111" >8</text>
<line x1="104.4" y1="354.46" x2="112.2" y2="354.46" stroke="#111" stroke-width="1.2" />
<text x="99.3" y="358.16" font-family='"Liberation Serif", serif' font-size="11.3" font-weight="bold" text-anchor="end" fill="#111" >12</text>
<line x1="104.4" y1="332.58" x2="112.2" y2="332.58" stroke="#111" stroke-width="1.2" />
<text x="99.3" y="336.28" font-family='"Liberation Serif", serif' font-size="11.3" font-weight="bold" text-anchor="end" fill="#111" >16</text>
<line x1="108" y1="409.16" x2="112.2" y2="409.16" stroke="#111" stroke-width="1.2" />
<line x1="108" y1="387.28" x2="112.2" y2="387.28" stroke="#111" stroke-width="1.2" />
<line x1="108" y1="365.4" x2="112.2" y2="365.4" stroke="#111" stroke-width="1.2" />
<line x1="108" y1="343.52" x2="112.2" y2="343.52" stroke="#111" stroke-width="1.2" />
<line x1="108" y1="321.64" x2="112.2" y2="321.64" stroke="#111" stroke-width="1.2" />
<line x1="112.2" y1="420.1" x2="112.2" y2="425.9" stroke="#111" stroke-width="1.2" />
<line x1="173.07" y1="420.1" x2="173.07" y2="425.9" stroke="#111" stroke-width="1.2" />
<line x1="233.94" y1="420.1" x2="233.94" y2="425.9" stroke="#111" stroke-width="1.2" />
<line x1="294.81" y1="420.1" x2="294.81" y2="425.9" stroke="#111" stroke-width="1.2" />
<line x1="355.68" y1="420.1" x2="355.68" y2="425.9" stroke="#111" stroke-width="1.2" />
<line x1="416.55" y1="420.1" x2="416.55" y2="425.9" stroke="#111" stroke-width="1.2" />
<line x1="477.42" y1="420.1" x2="477.42" y2="425.9" stroke="#111" stroke-width="1.2" />
<line x1="538.29" y1="420.1" x2="538.29" y2="425.9" stroke="#111" stroke-width="1.2" />
<line x1="599.16" y1="420.1" x2="599.16" y2="425.9" stroke="#111" stroke-width="1.2" />
<line x1="660.03" y1="420.1" x2="660.03" y2="425.9" stroke="#111" stroke-width="1.2" />
<line x1="142.63" y1="420.1" x2="142.63" y2="423.6" stroke="#111" stroke-width="1.2" />
<line x1="203.5" y1="420.1" x2="203.5" y2="423.6" stroke="#111" stroke-width="1.2" />
<line x1="264.38" y1="420.1" x2="264.38" y2="423.6" stroke="#111" stroke-width="1.2" />
<line x1="325.25" y1="420.1" x2="325.25" y2="423.6" stroke="#111" stroke-width="1.2" />
<line x1="386.12" y1="420.1" x2="386.12" y2="423.6" stroke="#111" stroke-width="1.2" />
<line x1="446.99" y1="420.1" x2="446.99" y2="423.6" stroke="#111" stroke-width="1.2" />
<line x1="507.86" y1="420.1" x2="507.86" y2="423.6" stroke="#111" stroke-width="1.2" />
<line x1="568.73" y1="420.1" x2="568.73" y2="423.6" stroke="#111" stroke-width="1.2" />
<line x1="629.6" y1="420.1" x2="629.6" y2="423.6" stroke="#111" stroke-width="1.2" />
<rect x="112.2" y="436.19" width="547.83" height="98.21" fill="none" stroke="#111" stroke-width="1.3" />
<line x1="104.4" y1="534.4" x2="112.2" y2="534.4" stroke="#111" stroke-width="1.2" />
<text x="99.3" y="538.1" font-family='"Liberation Serif", serif' font-size="11.3" font-weight="bold" text-anchor="end" fill="#111" >12</text>
<line x1="104.4" y1="512.58" x2="112.2" y2="512.58" stroke="#111" stroke-width="1.2" />
<text x="99.3" y="516.28" font-family='"Liberation Serif", serif' font-size="11.3" font-weight="bold" text-anchor="end" fill="#111" >16</text>
<line x1="104.4" y1="490.75" x2="112.2" y2="490.75" stroke="#111" stroke-width="1.2" />
<text x="99.3" y="494.45" font-family='"Liberation Serif", serif' font-size="11.3" font-weight="bold" text-anchor="end" fill="#111" >20</text>
<line x1="104.4" y1="468.93" x2="112.2" y2="468.93" stroke="#111" stroke-width="1.2" />
<text x="99.3" y="472.63" font-family='"Liberation Serif", serif' font-size="11.3" font-weight="bold" text-anchor="end" fill="#111" >24</text>
<line x1="104.4" y1="447.1" x2="112.2" y2="447.1" stroke="#111" stroke-width="1.2" />
<text x="99.3" y="450.8" font-family='"Liberation Serif", serif' font-size="11.3" font-weight="bold" text-anchor="end" fill="#111" >28</text>
<line x1="108" y1="523.49" x2="112.2" y2="523.49" stroke="#111" stroke-width="1.2" />
<line x1="108" y1="501.66" x2="112.2" y2="501.66" stroke="#111" stroke-width="1.2" />
<line x1="108" y1="479.84" x2="112.2" y2="479.84" stroke="#111" stroke-width="1.2" />
<line x1="108" y1="458.02" x2="112.2" y2="458.02" stroke="#111" stroke-width="1.2" />
<line x1="108" y1="436.19" x2="112.2" y2="436.19" stroke="#111" stroke-width="1.2" />
<line x1="112.2" y1="534.4" x2="112.2" y2="540.2" stroke="#111" stroke-width="1.2" />
<line x1="173.07" y1="534.4" x2="173.07" y2="540.2" stroke="#111" stroke-width="1.2" />
<line x1="233.94" y1="534.4" x2="233.94" y2="540.2" stroke="#111" stroke-width="1.2" />
<line x1="294.81" y1="534.4" x2="294.81" y2="540.2" stroke="#111" stroke-width="1.2" />
<line x1="355.68" y1="534.4" x2="355.68" y2="540.2" stroke="#111" stroke-width="1.2" />
<line x1="416.55" y1="534.4" x2="416.55" y2="540.2" stroke="#111" stroke-width="1.2" />
<line x1="477.42" y1="534.4" x2="477.42" y2="540.2" stroke="#111" stroke-width="1.2" />
<line x1="538.29" y1="534.4" x2="538.29" y2="540.2" stroke="#111" stroke-width="1.2" />
<line x1="599.16" y1="534.4" x2="599.16" y2="540.2" stroke="#111" stroke-width="1.2" />
<line x1="660.03" y1="534.4" x2="660.03" y2="540.2" stroke="#111" stroke-width="1.2" />
<line x1="142.63" y1="534.4" x2="142.63" y2="537.9" stroke="#111" stroke-width="1.2" />
<line x1="203.5" y1="534.4" x2="203.5" y2="537.9" stroke="#111" stroke-width="1.2" />
<line x1="264.38" y1="534.4" x2="264.38" y2="537.9" stroke="#111" stroke-width="1.2" />
<line x1="325.25" y1="534.4" x2="325.25" y2="537.9" stroke="#111" stroke-width="1.2" />
<line x1="386.12" y1="534.4" x2="386.12" y2="537.9" stroke="#111" stroke-width="1.2" />
<line x1="446.99" y1="534.4" x2="446.99" y2="537.9" stroke="#111" stroke-width="1.2" />
<line x1="507.86" y1="534.4" x2="507.86" y2="537.9" stroke="#111" stroke-width="1.2" />
<line x1="568.73" y1="534.4" x2="568.73" y2="537.9" stroke="#111" stroke-width="1.2" />
<line x1="629.6" y1="534.4" x2="629.6" y2="537.9" stroke="#111" stroke-width="1.2" />
<text x="112.2" y="554.6" font-family='"Liberation Serif", serif' font-size="11.3" font-weight="bold" text-anchor="middle" fill="#111" >0</text>
<text x="173.07" y="554.6" font-family='"Liberation Serif", serif' font-size="11.3" font-weight="bold" text-anchor="middle" fill="#111" >50</text>
<text x="233.94" y="554.6" font-family='"Liberation Serif", serif' font-size="11.3" font-weight="bold" text-anchor="middle" fill="#111" >100</text>
<text x="294.81" y="554.6" font-family='"Liberation Serif", serif' font-size="11.3" font-weight="bold" text-anchor="middle" fill="#111" >150</text>
<text x="355.68" y="554.6" font-family='"Liberation Serif", serif' font-size="11.3" font-weight="bold" text-anchor="middle" fill="#111" >200</text>
<text x="416.55" y="554.6" font-family='"Liberation Serif", serif' font-size="11.3" font-weight="bold" text-anchor="middle" fill="#111" >250</text>
<text x="477.42" y="554.6" font-family='"Liberation Serif", serif' font-size="11.3" font-weight="bold" text-anchor="middle" fill="#111" >300</text>
<text x="538.29" y="554.6" font-family='"Liberation Serif", serif' font-size="11.3" font-weight="bold" text-anchor="middle" fill="#111" >350</text>
<text x="599.16" y="554.6" font-family='"Liberation Serif", serif' font-size="11.3" font-weight="bold" text-anchor="middle" fill="#111" >400</text>
<text x="660.03" y="554.6" font-family='"Liberation Serif", serif' font-size="11.3" font-weight="bold" text-anchor="middle" fill="#111" >450</text>
<text x="64.2" y="367.3" font-family='"Liberation Serif", serif' font-size="14.5" font-weight="bold" text-anchor="middle" fill="#111" transform="rotate(-90 64.2 367.3)" textLength="63" lengthAdjust="spacingAndGlyphs" >RMSD (Å)</text>
<text x="63.8" y="482.8" font-family='"Liberation Serif", serif' font-size="14.5" font-weight="bold" text-anchor="middle" fill="#111" transform="rotate(-90 63.8 482.8)" textLength="50" lengthAdjust="spacingAndGlyphs" >RoG (Å)</text>
<text x="386" y="577.3" font-family='"Liberation Serif", serif' font-size="15" font-weight="bold" text-anchor="middle" fill="#111" textLength="64.7" lengthAdjust="spacingAndGlyphs" >Time (ns)</text>
<rect x="521.2" y="390.9" width="123.4" height="17.2" fill="#fff" stroke="#222" stroke-width="0.8" />
<line x1="522.8" y1="399.4" x2="556" y2="399.4" stroke="#737314" stroke-width="2.6" />
<text x="559" y="403.7" font-family='"Liberation Serif", serif' font-size="13.4" font-weight="normal" text-anchor="start" fill="#111" textLength="83.3" lengthAdjust="spacingAndGlyphs" >c-Myc Peptide</text>
<text x="5" y="331.7" font-family='"Liberation Sans", sans-serif' font-size="24" font-weight="bold" text-anchor="start" fill="#000"  stroke="#000" stroke-width="0.6">E</text>
<text x="359.3" y="171" font-family='"Liberation Sans", sans-serif' font-size="24" font-weight="bold" text-anchor="start" fill="#000"  stroke="#000" stroke-width="0.6">D</text>
<path d="M530.6 230.9L535.2 230.6L535.6 230.4L531 230.6ZM531 230.6L535.6 230.4L536 229.9L531.4 230.2ZM531.4 230.2L536 229.9L536.2 229.2L531.6 229.5ZM531.6 229.5L536.2 229.2L536.4 228.3L531.8 228.5ZM531.8 228.5L536.4 228.3L536.5 227.2L532 227.4ZM532 227.4L536.5 227.2L536.6 225.9L532 226.2ZM532.6 217.7L537.2 217.5L537.5 216.9L532.9 217.1ZM532.9 217.1L537.5 216.9L537.9 216.5L533.3 216.8ZM533.3 216.8L537.9 216.5L538.4 216.4L533.8 216.7ZM545.7 230.1L550.3 230.4L550.7 230.2L546.2 229.9ZM546.2 229.9L550.7 230.2L551.1 229.8L546.6 229.5ZM546.6 229.5L551.1 229.8L551.5 229.1L546.9 228.8ZM546.9 228.8L551.5 229.1L551.8 228.2L547.2 227.9ZM547.2 227.9L551.8 228.2L552.1 227.1L547.5 226.8ZM547.5 226.8L552.1 227.1L552.3 225.9L547.7 225.6ZM547.7 225.6L552.3 225.9L552.5 224.6L547.9 224.3ZM547.9 224.3L552.5 224.6L552.7 223.2L548.1 222.9ZM548.1 222.9L552.7 223.2L552.9 221.9L548.3 221.6ZM562.6 230.8L567.2 230.5L567.6 230.3L563 230.6ZM563 230.6L567.6 230.3L568 229.8L563.4 230.1ZM563.4 230.1L568 229.8L568.2 229.1L563.6 229.4ZM563.6 229.4L568.2 229.1L568.4 228.2L563.8 228.5ZM563.8 228.5L568.4 228.2L568.5 227.1L563.9 227.4ZM563.9 227.4L568.5 227.1L568.6 225.9L564 226.2ZM565.2 216.7L569.8 216.4L570.2 216.3L565.7 216.6ZM578.6 229.8L583.2 229.5L583.6 229.2L579 229.6ZM579 229.6L583.6 229.2L583.9 228.8L579.3 229.1ZM579.3 229.1L583.9 228.8L584.2 228.1L579.6 228.4ZM579.6 228.4L584.2 228.1L584.4 227.1L579.8 227.4ZM579.8 227.4L584.4 227.1L584.5 226L579.9 226.3ZM579.9 226.3L584.5 226L584.5 224.8L579.9 225.1ZM579.9 225.1L584.5 224.8L584.6 223.5L580 223.8ZM580 223.8L584.6 223.5L584.6 222.1L580 222.4ZM580 222.4L584.6 222.1L584.6 220.7L580 221ZM580 221L584.6 220.7L584.6 219.4L580.1 219.7ZM580.1 219.7L584.6 219.4L584.7 218.2L580.1 218.5ZM580.1 218.5L584.7 218.2L584.9 217.2L580.3 217.5ZM580.3 217.5L584.9 217.2L585.1 216.3L580.5 216.6ZM580.5 216.6L585.1 216.3L585.4 215.7L580.8 216ZM580.8 216L585.4 215.7L585.7 215.4L581.2 215.7ZM581.2 215.7L585.7 215.4L586.2 215.2L581.6 215.5Z" fill="#62bc2a" stroke="#62bc2a" stroke-width="0.35"/>
<path d="M532 226.2L536.6 225.9L536.7 224.6L532.1 224.9ZM532.1 224.9L536.7 224.6L536.7 223.2L532.1 223.5ZM532.1 223.5L536.7 223.2L536.7 221.8L532.1 222.1ZM532.1 222.1L536.7 221.8L536.8 220.5L532.2 220.8ZM532.2 220.8L536.8 220.5L536.9 219.4L532.3 219.6ZM532.3 219.6L536.9 219.4L537 218.3L532.4 218.6ZM532.4 218.6L537 218.3L537.2 217.5L532.6 217.7ZM548.3 221.6L552.9 221.9L553.1 220.6L548.5 220.3ZM548.5 220.3L553.1 220.6L553.3 219.4L548.8 219.1ZM548.8 219.1L553.3 219.4L553.6 218.4L549 218.1ZM549 218.1L553.6 218.4L553.9 217.6L549.4 217.3ZM549.4 217.3L553.9 217.6L554.3 217L549.7 216.7ZM549.7 216.7L554.3 217L554.7 216.7L550.1 216.4ZM550.1 216.4L554.7 216.7L555.2 216.7L550.6 216.4ZM564 226.2L568.6 225.9L568.6 224.5L564 224.8ZM564 224.8L568.6 224.5L568.6 223.1L564 223.4ZM564 223.4L568.6 223.1L568.6 221.8L564.1 222.1ZM564.1 222.1L568.6 221.8L568.7 220.5L564.1 220.8ZM564.1 220.8L568.7 220.5L568.8 219.3L564.2 219.6ZM564.2 219.6L568.8 219.3L568.9 218.3L564.3 218.6ZM564.3 218.6L568.9 218.3L569.1 217.4L564.5 217.7ZM564.5 217.7L569.1 217.4L569.4 216.8L564.8 217.1ZM564.8 217.1L569.4 216.8L569.8 216.4L565.2 216.7Z" fill="#9a109a" stroke="#9a109a" stroke-width="0.35"/>
<path d="M368.7 252.5L373.6 252.9L374.1 252.7L369.1 252.3ZM369.1 252.3L374.1 252.7L374.5 252.3L369.5 251.8ZM369.5 251.8L374.5 252.3L374.8 251.5L369.8 251.1ZM369.8 251.1L374.8 251.5L375.1 250.6L370.1 250.2ZM370.1 250.2L375.1 250.6L375.4 249.5L370.4 249.1ZM370.4 249.1L375.4 249.5L375.6 248.3L370.6 247.8ZM370.6 247.8L375.6 248.3L375.8 246.9L370.8 246.5ZM370.8 246.5L375.8 246.9L376 245.5L371 245.1ZM371 245.1L376 245.5L376.2 244.1L371.2 243.6ZM371.2 243.6L376.2 244.1L376.4 242.7L371.4 242.3ZM371.4 242.3L376.4 242.7L376.6 241.4L371.7 241ZM371.7 241L376.6 241.4L376.9 240.2L371.9 239.8ZM371.9 239.8L376.9 240.2L377.2 239.2L372.2 238.8ZM372.2 238.8L377.2 239.2L377.5 238.4L372.5 237.9ZM372.5 237.9L377.5 238.4L377.9 237.8L372.9 237.4ZM372.9 237.4L377.9 237.8L378.3 237.5L373.3 237ZM373.3 237L378.3 237.5L378.8 237.4L373.8 236.9ZM386.1 254.1L391.1 254.5L391.5 254.3L386.5 253.8ZM386.5 253.8L391.5 254.3L391.9 253.8L386.9 253.4ZM386.9 253.4L391.9 253.8L392.2 253.1L387.3 252.7ZM387.3 252.7L392.2 253.1L392.5 252.2L387.6 251.7ZM388.3 244.3L393.3 243.7L393.2 242.4L388.3 243ZM388.3 243L393.2 242.4L393.2 241.2L388.3 241.8ZM388.3 241.8L393.2 241.2L393.3 240.1L388.3 240.8ZM388.3 240.8L393.3 240.1L393.4 239.3L388.5 239.9ZM388.5 239.9L393.4 239.3L393.7 238.6L388.7 239.2ZM388.7 239.2L393.7 238.6L394 238.2L389 238.8ZM389 238.8L394 238.2L394.4 238L389.5 238.6ZM405.2 252.7L410.1 252.1L410.5 251.8L405.6 252.4ZM405.6 252.4L410.5 251.8L410.8 251.2L405.9 251.8ZM405.9 251.8L410.8 251.2L411 250.4L406 251.1ZM406 251.1L411 250.4L411.1 249.5L406.1 250.1ZM406.1 250.1L411.1 249.5L411.1 248.3L406.1 249ZM406.1 249L411.1 248.3L411.1 247.1L406.1 247.7ZM406.1 247.7L411.1 247.1L411 245.7L406 246.3ZM406 246.3L411 245.7L410.9 244.3L405.9 244.9ZM422.5 250.5L427.5 249.8L427.9 249.5L422.9 250.2ZM422.9 250.2L427.9 249.5L428.2 249L423.2 249.6ZM423.2 249.6L428.2 249L428.4 248.2L423.4 248.8ZM423.5 245.5L428.4 244.8L428.3 243.5L423.4 244.1ZM423.4 244.1L428.3 243.5L428.2 242.1L423.3 242.7ZM423.3 242.7L428.2 242.1L428.1 240.6L423.2 241.2ZM423.2 241.2L428.1 240.6L428 239.3L423.1 239.8ZM423.1 239.8L428 239.3L428 237.9L423 238.5ZM423 238.5L428 237.9L428 236.7L423 237.3ZM423 237.3L428 236.7L428.1 235.7L423.1 236.3ZM423.1 236.3L428.1 235.7L428.2 234.8L423.2 235.4ZM423.2 235.4L428.2 234.8L428.5 234.2L423.5 234.7ZM423.5 234.7L428.5 234.2L428.8 233.7L423.8 234.3ZM423.8 234.3L428.8 233.7L429.2 233.6L424.3 234.1ZM439.8 248.4L444.8 247.8L445.2 247.5L440.2 248.1ZM440.2 248.1L445.2 247.5L445.5 247L440.5 247.5ZM440.5 247.5L445.5 247L445.7 246.2L440.7 246.8ZM440.7 246.8L445.7 246.2L445.8 245.2L440.8 245.8ZM440.8 245.8L445.8 245.2L445.8 244.1L440.8 244.7ZM440.8 244.7L445.8 244.1L445.8 242.8L440.8 243.4ZM440.8 243.4L445.8 242.8L445.7 241.5L440.7 242ZM440.7 242L445.7 241.5L445.6 239.8L440.7 240.8ZM440.7 240.8L445.6 239.8L445.3 238.2L440.4 239.6ZM440.4 239.6L445.3 238.2L445 236.9L440.2 238.2ZM440.2 238.2L445 236.9L444.7 235.6L439.9 236.9ZM439.9 236.9L444.7 235.6L444.5 234.4L439.7 235.7ZM439.7 235.7L444.5 234.4L444.4 233.3L439.6 234.7ZM439.6 234.7L444.4 233.3L444.5 232.5L439.6 233.8ZM439.6 233.8L444.5 232.5L444.6 231.8L439.8 233.1ZM439.8 233.1L444.6 231.8L444.9 231.3L440 232.6ZM440 232.6L444.9 231.3L445.3 231.1L440.5 232.4ZM457.9 237.7L462.8 236.3L462.4 235L457.6 236.3ZM457.6 236.3L462.4 235L462.1 233.6L457.3 234.9ZM457.3 234.9L462.1 233.6L461.8 232.2L457 233.6ZM457 233.6L461.8 232.2L461.4 230.9L456.6 232.5ZM456.6 232.5L461.4 230.9L461 229.7L456.3 231.3ZM456.3 231.3L461 229.7L460.9 228.6L456.2 230.3ZM456.2 230.3L460.9 228.6L460.8 227.8L456.1 229.4ZM456.1 229.4L460.8 227.8L460.9 227.1L456.2 228.7ZM456.2 228.7L460.9 227.1L461.2 226.6L456.4 228.3ZM456.4 228.3L461.2 226.6L461.5 226.3L456.8 228ZM475.1 238.5L479.9 236.8L480.2 236.4L475.5 238.1ZM475.5 238.1L480.2 236.4L480.3 235.8L475.6 237.5ZM475.6 237.5L480.3 235.8L480.4 235L475.6 236.7ZM475.6 236.7L480.4 235L480.2 234.1L475.5 235.7ZM475.5 235.7L480.2 234.1L480 232.9L475.3 234.6ZM475.3 234.6L480 232.9L479.7 231.7L475 233.4ZM475 233.4L479.7 231.7L479.3 230.4L474.6 232.1ZM474.6 232.1L479.3 230.4L478.9 229L474.2 230.7ZM474.2 230.7L478.9 229L478.5 227.7L473.8 229.3ZM490.5 224.2L495.1 222.3L494.6 221L490 222.9ZM490 222.9L494.6 221L494.2 219.6L489.6 221.5ZM489.6 221.5L494.2 219.6L493.8 218.4L489.2 220.3ZM489.2 220.3L493.8 218.4L493.5 217.2L488.8 219.1ZM488.8 219.1L493.5 217.2L493.4 216.2L488.7 217.9ZM488.7 217.9L493.4 216.2L493.6 215.2L488.8 216.8ZM488.8 216.8L493.6 215.2L493.7 214.5L489 216.1ZM489 216.1L493.7 214.5L494 214L489.2 215.6ZM489.2 215.6L494 214L494.4 213.8L489.6 215.4ZM507.7 226.1L512.5 224.6L512.8 224.2L508.1 225.8ZM508.1 225.8L512.8 224.2L513 223.6L508.2 225.2ZM508.2 225.2L513 223.6L513 222.8L508.3 224.4ZM508.3 224.4L513 222.8L512.9 221.8L508.2 223.4ZM508.2 223.4L512.9 221.8L512.7 220.7L508 222.3ZM508 222.3L512.7 220.7L512.4 219.5L507.7 221.1ZM507.7 221.1L512.4 219.5L512.1 218.2L507.3 219.7ZM507.3 219.7L512.1 218.2L511.7 216.8L507 218.4ZM507 218.4L511.7 216.8L511.3 215.4L506.6 217ZM506.6 217L511.3 215.4L510.9 214.1L506.2 215.6ZM506.2 215.6L510.9 214.1L510.6 212.8L505.9 214.4ZM505.9 214.4L510.6 212.8L510.4 211.6L505.6 213.2ZM505.6 213.2L510.4 211.6L510.2 210.6L505.5 212.1ZM505.5 212.1L510.2 210.6L510.2 209.7L505.5 211.3ZM505.5 211.3L510.2 209.7L510.3 209L505.6 210.6ZM505.6 210.6L510.3 209L510.7 208.5L505.9 209.9ZM505.9 209.9L510.7 208.5L511.3 208.2L506.5 209.5ZM524.1 221.2L528.9 219.8L529.3 219.5L524.4 220.8ZM524.4 220.8L529.3 219.5L529.5 218.9L524.6 220.2ZM524.6 220.2L529.5 218.9L529.5 218.1L524.7 219.5ZM524.7 219.5L529.5 218.1L529.5 217.1L524.7 218.5ZM524.7 218.5L529.5 217.1L529.3 216L524.5 217.4ZM524.5 217.4L529.3 216L529.1 214.8L524.3 216.1ZM524.3 216.1L529.1 214.8L528.8 213.4L524 214.8ZM524 214.8L528.8 213.4L528.5 212L523.7 213.4ZM523.7 213.4L528.5 212L528.2 210.6L523.4 212ZM523.4 212L528.2 210.6L527.9 209.3L523.1 210.6ZM523.1 210.6L527.9 209.3L527.7 208L522.8 209.3ZM522.8 209.3L527.7 208L527.5 206.8L522.7 208.1ZM522.7 208.1L527.5 206.8L527.4 205.7L522.6 207.1ZM522.6 207.1L527.4 205.7L527.4 204.9L522.6 206.2ZM522.6 206.2L527.4 204.9L527.5 204.2L522.7 205.5ZM522.7 205.5L527.5 204.2L527.8 203.7L523 205.1ZM523 205.1L527.8 203.7L528.2 203.5L523.4 204.8ZM540.7 217L545.5 215.9L545.9 215.6L541 216.7Z" fill="#62bc2a" stroke="#62bc2a" stroke-width="0.35"/>
<path d="M387.6 251.7L392.5 252.2L392.8 251.1L387.8 250.6ZM387.8 250.6L392.8 251.1L393 249.8L388.1 249.4ZM388.1 249.4L393 249.8L393.3 248.5L388.3 248ZM388.3 248L393.3 248.5L393.5 246.8L388.5 246.8ZM388.5 246.8L393.5 246.8L393.4 245.1L388.5 245.7ZM388.5 245.7L393.4 245.1L393.3 243.7L388.3 244.3ZM458 244.1L462.8 242.8L463.2 242.4L458.4 243.7ZM458.4 243.7L463.2 242.4L463.4 241.8L458.6 243.2ZM458.6 243.2L463.4 241.8L463.4 241L458.6 242.4ZM458.6 242.4L463.4 241L463.4 240.1L458.6 241.4ZM458.6 241.4L463.4 240.1L463.3 238.9L458.4 240.3ZM458.4 240.3L463.3 238.9L463 237.7L458.2 239ZM458.2 239L463 237.7L462.8 236.3L457.9 237.7ZM473.8 229.3L478.5 227.7L478.1 226.3L473.4 228ZM473.4 228L478.1 226.3L477.7 225L473.1 226.8ZM473.1 226.8L477.7 225L477.3 223.9L472.7 225.7ZM472.7 225.7L477.3 223.9L477.1 222.9L472.4 224.8ZM472.4 224.8L477.1 222.9L477 222L472.3 223.9ZM472.3 223.9L477 222L477 221.3L472.4 223.2ZM472.4 223.2L477 221.3L477.2 220.8L472.6 222.7ZM472.6 222.7L477.2 220.8L477.6 220.5L473 222.4Z" fill="#b87020" stroke="#b87020" stroke-width="0.35"/>
<path d="M405.9 244.9L410.9 244.3L410.8 242.9L405.8 243.5ZM405.8 243.5L410.8 242.9L410.7 241.5L405.7 242.1ZM405.7 242.1L410.7 241.5L410.6 240.1L405.6 240.8ZM405.6 240.8L410.6 240.1L410.6 238.9L405.6 239.6ZM405.6 239.6L410.6 238.9L410.6 237.9L405.7 238.5ZM405.7 238.5L410.6 237.9L410.8 237L405.8 237.7ZM405.8 237.7L410.8 237L411 236.4L406.1 237ZM406.1 237L411 236.4L411.3 235.9L406.4 236.6ZM406.4 236.6L411.3 235.9L411.8 235.8L406.8 236.4ZM423.4 248.8L428.4 248.2L428.4 247.2L423.5 247.9ZM423.5 247.9L428.4 247.2L428.5 246.1L423.5 246.7ZM423.5 246.7L428.5 246.1L428.4 244.8L423.5 245.5ZM491.8 231.9L496.4 230L496.7 229.6L492.1 231.5ZM492.1 231.5L496.7 229.6L496.9 229L492.2 230.9ZM492.2 230.9L496.9 229L496.8 228.2L492.2 230.1ZM492.2 230.1L496.8 228.2L496.7 227.3L492.1 229.2ZM492.1 229.2L496.7 227.3L496.4 226.2L491.8 228.1ZM491.8 228.1L496.4 226.2L496 225L491.4 226.9ZM491.4 226.9L496 225L495.6 223.7L491 225.6ZM491 225.6L495.6 223.7L495.1 222.3L490.5 224.2Z" fill="#9a109a" stroke="#9a109a" stroke-width="0.35"/>
<path d="M545.5 217.6L550.3 216.5L550.7 216.1L545.8 217.2ZM545.8 217.2L550.7 216.1L550.9 215.4L546 216.5ZM546 216.5L550.9 215.4L550.9 214.4L546 215.4ZM561.1 211.9L566.1 212.3L566.3 210.7L561.3 210.3ZM561.3 210.3L566.3 210.7L566.5 208.9L561.5 208.5ZM561.5 208.5L566.5 208.9L566.6 207.1L561.7 206.7ZM561.7 206.7L566.6 207.1L566.8 205.2L561.8 204.9ZM561.8 204.9L566.8 205.2L567 203.5L562 203.1ZM562 203.1L567 203.5L567.4 201.9L562.4 201.3Z" fill="#9a109a" stroke="#9a109a" stroke-width="0.35"/>
<path d="M546 215.4L550.9 214.4L550.8 213.1L546 214.2ZM546 214.2L550.8 213.1L550.7 211.7L545.8 212.7ZM545.8 212.7L550.7 211.7L550.4 210L545.5 211.1ZM545.5 211.1L550.4 210L550.1 208.3L545.2 209.3ZM545.2 209.3L550.1 208.3L549.7 206.5L544.9 207.5ZM544.9 207.5L549.7 206.5L549.4 204.7L544.5 205.7ZM544.5 205.7L549.4 204.7L549.1 202.9L544.2 204ZM544.2 204L549.1 202.9L548.8 201.3L543.9 202.4ZM543.9 202.4L548.8 201.3L548.6 199.8L543.7 200.9ZM543.7 200.9L548.6 199.8L548.6 198.6L543.7 199.6ZM543.7 199.6L548.6 198.6L548.6 197.6L543.7 198.6ZM543.7 198.6L548.6 197.6L548.8 196.9L543.9 197.9ZM543.9 197.9L548.8 196.9L549.1 196.4L544.2 197.5ZM544.2 197.5L549.1 196.4L550.1 196.2L545.2 197ZM559.4 216.5L564.4 216.9L564.9 216.6L559.9 216.2ZM559.9 216.2L564.9 216.6L565.2 215.9L560.3 215.6ZM560.3 215.6L565.2 215.9L565.6 215L560.6 214.6ZM560.6 214.6L565.6 215L565.9 213.8L560.9 213.4ZM560.9 213.4L565.9 213.8L566.1 212.3L561.1 211.9ZM562.4 201.3L567.4 201.9L568.6 200.7L563.7 199.5ZM563.7 199.5L568.6 200.7L569.8 199.9L565.1 198.2ZM565.1 198.2L569.8 199.9L570.3 199L565.6 197.4ZM565.6 197.4L570.3 199L570.9 198.5L566.2 196.8ZM566.2 196.8L570.9 198.5L571.4 198.3L566.7 196.7ZM566.7 196.7L571.4 198.3L571.9 198.5L567.1 196.8ZM573.1 220.1L577.8 221.8L578.4 221.6L573.6 219.9ZM573.6 219.9L578.4 221.6L578.9 221.1L574.2 219.4ZM574.2 219.4L578.9 221.1L579.5 220.3L574.7 218.6ZM574.7 218.6L579.5 220.3L580.1 219.2L575.3 217.5ZM575.3 217.5L580.1 219.2L580.7 217.8L576 216.2ZM576 216.2L580.7 217.8L581.3 216.3L576.6 214.6ZM576.6 214.6L581.3 216.3L581.8 214.8L577.2 212.8ZM577.2 212.8L581.8 214.8L582.4 213.5L578.1 210.9ZM578.1 210.9L582.4 213.5L583.4 212.1L579.3 209.3ZM579.3 209.3L583.4 212.1L584.4 210.7L580.3 207.8ZM580.3 207.8L584.4 210.7L585.4 209.4L581.3 206.5ZM581.3 206.5L585.4 209.4L586.4 208.3L582.3 205.4ZM582.3 205.4L586.4 208.3L587.3 207.4L583.2 204.5ZM583.2 204.5L587.3 207.4L588 206.7L583.9 203.8ZM583.9 203.8L588 206.7L588.7 206.3L584.6 203.5ZM584.6 203.5L588.7 206.3L589.2 206.3L585.1 203.4ZM585.1 203.4L589.2 206.3L589.6 206.6L585.5 203.7Z" fill="#62bc2a" stroke="#62bc2a" stroke-width="0.35"/>
<path d="M588.7 216.4L593 218.5L592.7 219.4L588.4 217.3ZM588.4 217.3L592.7 219.4L592.3 220.4L588 218.2ZM605.3 226L610 227.2L609.8 228.2L605.1 227.1ZM605.1 227.1L609.8 228.2L609.6 229.2L605 228.1ZM605 228.1L609.6 229.2L609.5 230.2L604.9 229.1ZM604.9 229.1L609.5 230.2L609.5 231.1L604.8 230ZM604.8 230L609.5 231.1L609.5 231.8L604.9 230.7ZM604.9 230.7L609.5 231.8L609.7 232.5L605 231.4Z" fill="#b87020" stroke="#b87020" stroke-width="0.35"/>
<path d="M588 218.2L592.3 220.4L591.9 221.4L587.6 219.2ZM587.6 219.2L591.9 221.4L591.5 222.4L587.2 220.2ZM587.2 220.2L591.5 222.4L591 223.4L586.8 221.2ZM586.8 221.2L591 223.4L590.7 224.4L586.4 222.2ZM586.4 222.2L590.7 224.4L590.4 225.3L586.1 223.1ZM586.1 223.1L590.4 225.3L590.1 226.1L585.8 224ZM585.8 224L590.1 226.1L590 226.8L585.7 224.7ZM585.7 224.7L590 226.8L590 227.5L585.7 225.3ZM585.7 225.3L590 227.5L590.6 228.3L586.1 226.5ZM586.1 226.5L590.6 228.3L591.6 228.9L586.9 227.7ZM586.9 227.7L591.6 228.9L592.2 229.1L587.5 228ZM604.9 218.5L609.5 219.7L609.9 219.9L605.3 218.7ZM605.3 218.7L609.9 219.9L610.3 220.2L605.6 219.1ZM605.6 219.1L610.3 220.2L610.5 220.7L605.8 219.6ZM605.8 219.6L610.5 220.7L610.6 221.4L605.9 220.3ZM605.9 220.3L610.6 221.4L610.6 222.1L605.9 221ZM605.9 221L610.6 222.1L610.6 223L605.9 221.9ZM605.9 221.9L610.6 223L610.5 224L605.8 222.9ZM605.8 222.9L610.5 224L610.3 225L605.6 223.9ZM605.6 223.9L610.3 225L610.1 226.1L605.5 225ZM605.5 225L610.1 226.1L610 227.2L605.3 226ZM605 231.4L609.7 232.5L609.9 233L605.2 231.8ZM605.2 231.8L609.9 233L610.2 233.3L605.5 232.2ZM605.5 232.2L610.2 233.3L610.7 233.5L606 232.4ZM623.3 222.8L628 223.9L628.4 224.1L623.7 223ZM623.7 223L628.4 224.1L628.7 224.4L624 223.4ZM624 223.4L628.7 224.4L628.9 224.9L624.2 223.9ZM624.2 223.9L628.9 224.9L629.1 225.6L624.4 224.5ZM624.4 224.5L629.1 225.6L629.1 226.3L624.4 225.3ZM624.4 225.3L629.1 226.3L629.1 227.2L624.4 226.2ZM624.4 226.2L629.1 227.2L629 228.2L624.3 227.1ZM624.3 227.1L629 228.2L628.8 229.2L624.1 228.2ZM624.1 228.2L628.8 229.2L628.7 230.3L624 229.2ZM624 229.2L628.7 230.3L628.5 231.4L623.8 230.3ZM623.8 230.3L628.5 231.4L628.3 232.4L623.7 231.4ZM623.7 231.4L628.3 232.4L628.2 233.4L623.5 232.4ZM623.5 232.4L628.2 233.4L628.1 234.4L623.4 233.3ZM623.4 233.3L628.1 234.4L628.1 235.3L623.4 234.2ZM623.4 234.2L628.1 235.3L628.1 236L623.5 235ZM623.5 235L628.1 236L628.3 236.7L623.6 235.6ZM623.6 235.6L628.3 236.7L628.5 237.2L623.8 236.1ZM623.8 236.1L628.5 237.2L628.8 237.5L624.1 236.4ZM624.1 236.4L628.8 237.5L629.3 237.7L624.6 236.6ZM641.8 226.9L646.5 227.9L646.9 228.1L642.2 227.1ZM642.2 227.1L646.9 228.1L647.2 228.4L642.5 227.4ZM642.5 227.4L647.2 228.4L647.4 228.9L642.8 227.9ZM642.8 227.9L647.4 228.9L647.6 229.6L642.9 228.6ZM642.9 228.6L647.6 229.6L647.6 230.3L642.9 229.3ZM642.9 229.3L647.6 230.3L647.6 231.2L642.9 230.2ZM642.9 230.2L647.6 231.2L647.5 232.2L642.8 231.2ZM642.8 231.2L647.5 232.2L647.4 233.2L642.7 232.2ZM642.7 232.2L647.4 233.2L647.2 234.3L642.5 233.3ZM642.5 233.3L647.2 234.3L647.1 235.4L642.4 234.4ZM642.4 234.4L647.1 235.4L646.9 236.4L642.2 235.4ZM642.2 235.4L646.9 236.4L646.8 237.5L642.1 236.5ZM642.1 236.5L646.8 237.5L646.7 238.4L642 237.4ZM642 237.4L646.7 238.4L646.7 239.3L642 238.3ZM642 238.3L646.7 239.3L646.7 240.1L642.1 239ZM642.1 239L646.7 240.1L646.9 240.7L642.2 239.7ZM642.2 239.7L646.9 240.7L647.1 241.2L642.4 240.2ZM642.4 240.2L647.1 241.2L647.5 241.5L642.8 240.5ZM642.8 240.5L647.5 241.5L647.9 241.7L643.2 240.7ZM660.5 231.1L665.1 232.2L665.5 232.4L660.9 231.3ZM660.9 231.3L665.5 232.4L665.9 232.8L661.2 231.6ZM661.2 231.6L665.9 232.8L666.1 233.3L661.4 232.2ZM661.4 232.2L666.1 233.3L666.2 233.9L661.5 232.8ZM661.5 232.8L666.2 233.9L666.2 234.7L661.5 233.6ZM661.5 233.6L666.2 234.7L666.2 235.6L661.5 234.5ZM661.5 234.5L666.2 235.6L666.1 236.5L661.4 235.4ZM661.4 235.4L666.1 236.5L665.9 237.6L661.2 236.4ZM661.2 236.4L665.9 237.6L665.7 238.6L661.1 237.5ZM661.1 237.5L665.7 238.6L665.6 239.7L660.9 238.6ZM660.9 238.6L665.6 239.7L665.4 240.8L660.7 239.7ZM660.7 239.7L665.4 240.8L665.2 241.8L660.6 240.7ZM660.6 240.7L665.2 241.8L665.1 242.7L660.5 241.6ZM660.5 241.6L665.1 242.7L665.1 243.6L660.4 242.5ZM660.4 242.5L665.1 243.6L665.1 244.4L660.5 243.3ZM660.5 243.3L665.1 244.4L665.3 245L660.6 243.9ZM660.6 243.9L665.3 245L665.5 245.5L660.8 244.4ZM660.8 244.4L665.5 245.5L665.8 245.8L661.1 244.7ZM661.1 244.7L665.8 245.8L666.2 246L661.6 244.9ZM679.2 236.1L683.8 237.4L684.2 237.7L679.6 236.3ZM679.6 236.3L684.2 237.7L684.5 238L679.9 236.7ZM679.9 236.7L684.5 238L684.7 238.6L680.1 237.2ZM680.1 237.2L684.7 238.6L684.8 239.2L680.2 237.8ZM680.2 237.8L684.8 239.2L684.7 240L680.1 238.6ZM680.1 238.6L684.7 240L684.6 240.9L680 239.5ZM680 239.5L684.6 240.9L684.5 241.8L679.9 240.4ZM679.9 240.4L684.5 241.8L684.3 242.8L679.7 241.4ZM679.7 241.4L684.3 242.8L684 243.9L679.4 242.5ZM679.4 242.5L684 243.9L683.8 245L679.2 243.6ZM679.2 243.6L683.8 245L683.5 246L678.9 244.6ZM678.9 244.6L683.5 246L683.3 247L678.7 245.6ZM678.7 245.6L683.3 247L683.2 248L678.6 246.6ZM678.6 246.6L683.2 248L683.1 248.8L678.5 247.4ZM678.5 247.4L683.1 248.8L683.1 249.6L678.5 248.2ZM678.5 248.2L683.1 249.6L683.2 250.2L678.6 248.8ZM678.6 248.8L683.2 250.2L683.3 250.7L678.8 249.4ZM678.8 249.4L683.3 250.7L683.7 251.1L679.1 249.7ZM679.1 249.7L683.7 251.1L684.1 251.3L679.5 249.9ZM697.5 241.8L702.1 243.4L702.5 243.6L697.9 242.1ZM697.9 242.1L702.5 243.6L702.8 244L698.2 242.4ZM698.2 242.4L702.8 244L702.9 244.5L698.4 243ZM698.4 243L702.9 244.5L703 245.2L698.4 243.6ZM698.4 243.6L703 245.2L702.9 245.9L698.4 244.4ZM698.4 244.4L702.9 245.9L702.8 246.8L698.3 245.3ZM698.3 245.3L702.8 246.8L702.6 247.8L698.1 246.2ZM698.1 246.2L702.6 247.8L702.4 248.8L697.8 247.2ZM697.8 247.2L702.4 248.8L702.1 249.8L697.5 248.3ZM697.5 248.3L702.1 249.8L701.8 250.9L697.3 249.3ZM697.3 249.3L701.8 250.9L701.5 251.9L697 250.4ZM697 250.4L701.5 251.9L701.3 252.9L696.7 251.4ZM696.7 251.4L701.3 252.9L701.1 253.9L696.6 252.3ZM696.6 252.3L701.1 253.9L701 254.7L696.4 253.2ZM696.4 253.2L701 254.7L701 255.5L696.4 253.9ZM696.4 253.9L701 255.5L701 256.1L696.5 254.6ZM696.5 254.6L701 256.1L701.2 256.6L696.6 255.1ZM696.6 255.1L701.2 256.6L701.5 257L696.9 255.5ZM696.9 255.5L701.5 257L701.9 257.2L697.4 255.7Z" fill="#62bc2a" stroke="#62bc2a" stroke-width="0.35"/>
<path d="M547 197 C549 190 553 187 561 187 C571 187 579 186 584 189 C587 191 587 195 584 197" fill="none" stroke="#74d232" stroke-width="2.6" stroke-linecap="round"/>
<path d="M527.1 228.2L531.7 227.9L532.6 228.9L528 229.2ZM537.4 219.8L542 219.5L542.9 220.7L538.3 221ZM542.2 226.1L546.8 225.8L547.7 227L543.1 227.2ZM543.1 227.2L547.7 227L548.5 227.9L543.9 228.2ZM553.9 219.9L558.4 220.2L559.2 221.5L554.6 221.2ZM557.8 226.8L562.4 227.1L563.4 228.1L558.8 228.1ZM558.8 228.1L563.4 228.1L564.5 228.9L559.9 229.2ZM569.3 219.7L573.9 219.4L574.9 220.6L570.3 220.9ZM574.1 226L578.7 225.7L579.6 226.8L575.1 227.1ZM575.1 227.1L579.6 226.8L580.5 227.8L575.9 228.1ZM585.3 218.7L589.9 218.3L590.8 219.5L586.2 219.8Z" fill="#9cf155" stroke="#9cf155" stroke-width="0.35"/>
<path d="M528 229.2L532.6 228.9L533.3 229.7L528.8 229.9ZM535.7 217.9L540.3 217.6L541.1 218.5L536.5 218.7ZM536.5 218.7L541.1 218.5L542 219.5L537.4 219.8ZM543.9 228.2L548.5 227.9L549 229L544.4 229ZM552.4 217.8L557 218.1L557.7 219.1L553.1 218.8ZM553.1 218.8L557.7 219.1L558.4 220.2L553.9 219.9ZM559.9 229.2L564.5 228.9L565.3 229.6L560.7 229.9ZM567.6 217.8L572.2 217.5L573 218.4L568.4 218.7ZM568.4 218.7L573 218.4L573.9 219.4L569.3 219.7ZM575.9 228.1L580.5 227.8L581.3 228.6L576.7 228.9Z" fill="#95ed4e" stroke="#95ed4e" stroke-width="0.35"/>
<path d="M528.8 229.9L533.3 229.7L534.1 230.2L529.5 230.5ZM535 217.2L539.6 217L540.3 217.6L535.7 217.9ZM544.4 229L549 229L549.2 229.9L544.6 229.6ZM560.7 229.9L565.3 229.6L566 230.2L561.4 230.5ZM566.9 217.2L571.5 216.9L572.2 217.5L567.6 217.8ZM576.7 228.9L581.3 228.6L582 229.1L577.4 229.4ZM582.8 216.1L587.4 215.8L588.2 216.4L583.6 216.8Z" fill="#8ee948" stroke="#8ee948" stroke-width="0.35"/>
<path d="M529.5 230.5L534.1 230.2L534.7 230.5L530.1 230.8ZM544.6 229.6L549.2 229.9L549.8 230.2L545.2 229.9ZM561.4 230.5L566 230.2L566.7 230.5L562.1 230.8ZM577.4 229.4L582 229.1L582.6 229.4L578 229.7Z" fill="#86e441" stroke="#86e441" stroke-width="0.35"/>
<path d="M530.1 230.8L534.7 230.5L535.2 230.6L530.6 230.9ZM534.3 216.8L538.9 216.5L539.6 217L535 217.2ZM545.2 229.9L549.8 230.2L550.3 230.4L545.7 230.1ZM562.1 230.8L566.7 230.5L567.2 230.5L562.6 230.8ZM566.2 216.8L570.8 216.5L571.5 216.9L566.9 217.2ZM578 229.7L582.6 229.4L583.2 229.5L578.6 229.8ZM582.2 215.7L586.8 215.4L587.4 215.8L582.8 216.1Z" fill="#7fe03a" stroke="#7fe03a" stroke-width="0.35"/>
<path d="M533.8 216.7L538.4 216.4L538.9 216.5L534.3 216.8ZM565.7 216.6L570.2 216.3L570.8 216.5L566.2 216.8ZM581.6 215.5L586.2 215.2L586.8 215.4L582.2 215.7Z" fill="#78dc34" stroke="#78dc34" stroke-width="0.35"/>
<path d="M538.3 221L542.9 220.7L543.9 222L539.3 222.2ZM539.3 222.2L543.9 222L544.9 223.3L540.3 223.6ZM540.3 223.6L544.9 223.3L545.8 224.6L541.2 224.9ZM541.2 224.9L545.8 224.6L546.8 225.8L542.2 226.1ZM554.6 221.2L559.2 221.5L560 222.9L555.4 222.6ZM555.4 222.6L560 222.9L560.8 224.3L556.2 224ZM556.2 224L560.8 224.3L561.6 225.7L557 225.4ZM557 225.4L561.6 225.7L562.4 227.1L557.8 226.8ZM570.3 220.9L574.9 220.6L575.8 221.9L571.2 222.2ZM571.2 222.2L575.8 221.9L576.8 223.2L572.2 223.5ZM572.2 223.5L576.8 223.2L577.8 224.5L573.2 224.8ZM573.2 224.8L577.8 224.5L578.7 225.7L574.1 226ZM586.2 219.8L590.8 219.5L591.8 220.8L587.2 221.1Z" fill="#a4f65c" stroke="#a4f65c" stroke-width="0.35"/>
<path d="M550.6 216.4L555.2 216.7L555.8 216.9L551.2 216.6ZM551.2 216.6L555.8 216.9L556.4 217.4L551.8 217.1ZM551.8 217.1L556.4 217.4L557 218.1L552.4 217.8Z" fill="#d020d0" stroke="#d020d0" stroke-width="0.35"/>
<path d="M583.6 216.8L588.2 216.4L589 217.3L584.4 217.6ZM584.4 217.6L589 217.3L589.9 218.3L585.3 218.7Z" fill="#e8a030" stroke="#e8a030" stroke-width="0.35"/>
<path d="M359.5 238.7L364.4 239.1L365.2 240.4L360.2 240ZM360.2 240L365.2 240.4L366 241.8L361 241.4ZM364.9 248.6L369.9 249.1L370.6 250.2L365.7 249.8ZM376.9 240.2L381.9 240.7L382.6 242L377.6 241.5ZM377.6 241.5L382.6 242L383.4 243.4L378.4 242.9ZM393.2 241.2L398.2 240.6L399.2 241.6L394.2 242.3ZM394.2 242.3L399.2 241.6L400.3 242.8L395.3 243.5ZM400.7 249.7L405.7 249.1L406.6 250.1L401.7 250.7ZM410.6 239L415.6 238.3L416.6 239.4L411.6 240ZM411.6 240L416.6 239.4L417.6 240.6L412.7 241.2ZM418.1 247.5L423 246.8L424 247.8L419 248.5ZM428 236.8L433 236.2L434 237.3L429 237.8ZM429 237.8L434 237.3L435 238.5L430 239.1ZM435.4 245.3L440.3 244.8L441.3 245.8L436.3 246.4ZM444.6 234.4L449.4 233.1L450.5 234L445.7 235.3ZM445.7 235.3L450.5 234L451.7 235L446.9 236.4ZM461.1 229.7L465.8 228L467 228.9L462.3 230.6ZM462.3 230.6L467 228.9L468.3 229.8L463.5 231.5ZM470.1 236.5L474.9 234.8L476 235.6L471.3 237.2ZM486.7 230.2L491.3 228.3L492.5 229L487.9 230.9ZM495 218L499.7 216.4L501 217.4L496.3 219ZM502.8 224.1L507.5 222.5L508.7 223.3L503.9 224.9ZM510.6 211.5L515.4 210.2L516.6 211.1L511.8 212.4ZM511.8 212.4L516.6 211.1L517.8 212.1L513 213.5ZM519.2 218.9L524.1 217.5L525.2 218.4L520.3 219.7ZM527.7 206.6L532.6 205.6L533.7 206.5L528.8 207.6ZM528.8 207.6L533.7 206.5L534.9 207.6L530 208.7ZM535.9 214.4L540.8 213.4L541.9 214.3L537 215.3Z" fill="#9cf155" stroke="#9cf155" stroke-width="0.35"/>
<path d="M361 241.4L366 241.8L366.8 243.3L361.8 242.8ZM361.8 242.8L366.8 243.3L367.6 244.8L362.6 244.3ZM362.6 244.3L367.6 244.8L368.4 246.3L363.4 245.8ZM363.4 245.8L368.4 246.3L369.1 247.7L364.2 247.3ZM364.2 247.3L369.1 247.7L369.9 249.1L364.9 248.6ZM378.4 242.9L383.4 243.4L384.2 244.8L379.2 244.4ZM379.2 244.4L384.2 244.8L385 246.3L380 245.9ZM380 245.9L385 246.3L385.8 247.8L380.8 247.4ZM380.8 247.4L385.8 247.8L386.6 249.3L381.6 248.8ZM395.3 243.5L400.3 242.8L401.4 244.1L396.4 244.7ZM396.4 244.7L401.4 244.1L402.5 245.4L397.5 246ZM397.5 246L402.5 245.4L403.6 246.7L398.6 247.3ZM398.6 247.3L403.6 246.7L404.6 247.9L399.7 248.6ZM399.7 248.6L404.6 247.9L405.7 249.1L400.7 249.7ZM412.7 241.2L417.6 240.6L418.7 241.9L413.7 242.5ZM413.7 242.5L418.7 241.9L419.8 243.2L414.9 243.8ZM414.9 243.8L419.8 243.2L420.9 244.5L416 245.1ZM416 245.1L420.9 244.5L422 245.7L417 246.3ZM417 246.3L422 245.7L423 246.8L418.1 247.5ZM430 239.1L435 238.5L436.1 239.8L431.1 240.3ZM431.1 240.3L436.1 239.8L437.2 241.1L432.2 241.6ZM432.2 241.6L437.2 241.1L438.3 242.4L433.3 243ZM433.3 243L438.3 242.4L439.3 243.6L434.4 244.2ZM434.4 244.2L439.3 243.6L440.3 244.8L435.4 245.3ZM446.9 236.4L451.7 235L453 236.1L448.2 237.5ZM448.2 237.5L453 236.1L454.3 237.3L449.5 238.6ZM449.5 238.6L454.3 237.3L455.5 238.4L450.7 239.7ZM450.7 239.7L455.5 238.4L456.8 239.5L452 240.8ZM452 240.8L456.8 239.5L458 240.4L453.2 241.8ZM463.5 231.5L468.3 229.8L469.6 230.8L464.9 232.5ZM464.9 232.5L469.6 230.8L470.9 231.9L466.2 233.6ZM466.2 233.6L470.9 231.9L472.3 232.9L467.6 234.6ZM467.6 234.6L472.3 232.9L473.6 233.9L468.9 235.6ZM468.9 235.6L473.6 233.9L474.9 234.8L470.1 236.5ZM479.9 225.6L484.5 223.7L485.9 224.6L481.3 226.5ZM481.3 226.5L485.9 224.6L487.3 225.6L482.7 227.5ZM482.7 227.5L487.3 225.6L488.7 226.5L484.1 228.4ZM484.1 228.4L488.7 226.5L490 227.5L485.4 229.4ZM485.4 229.4L490 227.5L491.3 228.3L486.7 230.2ZM496.3 219L501 217.4L502.3 218.4L497.6 220ZM497.6 220L502.3 218.4L503.7 219.5L498.9 221.1ZM498.9 221.1L503.7 219.5L505 220.6L500.2 222.1ZM500.2 222.1L505 220.6L506.3 221.6L501.5 223.2ZM501.5 223.2L506.3 221.6L507.5 222.5L502.8 224.1ZM513 213.5L517.8 212.1L519.1 213.2L514.3 214.6ZM514.3 214.6L519.1 213.2L520.4 214.3L515.5 215.7ZM515.5 215.7L520.4 214.3L521.6 215.5L516.8 216.8ZM516.8 216.8L521.6 215.5L522.9 216.5L518.1 217.9ZM518.1 217.9L522.9 216.5L524.1 217.5L519.2 218.9ZM530 208.7L534.9 207.6L536.1 208.8L531.2 209.9ZM531.2 209.9L536.1 208.8L537.3 210L532.4 211.1ZM532.4 211.1L537.3 210L538.5 211.2L533.6 212.3ZM533.6 212.3L538.5 211.2L539.7 212.3L534.8 213.4ZM534.8 213.4L539.7 212.3L540.8 213.4L535.9 214.4Z" fill="#a4f65c" stroke="#a4f65c" stroke-width="0.35"/>
<path d="M365.7 249.8L370.6 250.2L371.3 251.3L366.4 250.8ZM366.4 250.8L371.3 251.3L372 252L367 251.6ZM376.2 239.1L381.2 239.6L381.9 240.7L376.9 240.2ZM383.1 251.4L388.1 251.8L388.8 252.8L383.8 252.4ZM383.8 252.4L388.8 252.8L389.4 253.6L384.4 253.2ZM392.3 240.3L397.3 239.6L398.2 240.6L393.2 241.2ZM401.7 250.7L406.6 250.1L407.5 250.9L402.6 251.5ZM402.6 251.5L407.5 250.9L408.3 251.5L403.4 252.2ZM409.7 238L414.6 237.4L415.6 238.3L410.6 239ZM419 248.5L424 247.8L424.9 248.7L419.9 249.3ZM419.9 249.3L424.9 248.7L425.7 249.3L420.7 250ZM427.1 235.8L432 235.2L433 236.2L428 236.8ZM436.3 246.4L441.3 245.8L442.2 246.6L437.2 247.2ZM437.2 247.2L442.2 246.6L443 247.3L438 247.9ZM443.5 233.6L448.3 232.3L449.4 233.1L444.6 234.4ZM459.9 229L464.7 227.3L465.8 228L461.1 229.7ZM471.3 237.2L476 235.6L477.1 236.2L472.3 237.9ZM472.3 237.9L477.1 236.2L478 236.7L473.3 238.3ZM503.9 224.9L508.7 223.3L509.7 223.9L505 225.5ZM505 225.5L509.7 223.9L510.6 224.4L505.9 226ZM509.6 210.7L514.4 209.4L515.4 210.2L510.6 211.5ZM520.3 219.7L525.2 218.4L526.2 219.1L521.3 220.4ZM521.3 220.4L526.2 219.1L527.1 219.6L522.2 220.9ZM526.7 205.8L531.6 204.7L532.6 205.6L527.7 206.6ZM537 215.3L541.9 214.3L542.8 215L538 216.1ZM538 216.1L542.8 215L543.7 215.6L538.8 216.7Z" fill="#95ed4e" stroke="#95ed4e" stroke-width="0.35"/>
<path d="M367 251.6L372 252L372.6 252.6L367.6 252.2ZM375.5 238.2L380.5 238.7L381.2 239.6L376.2 239.1ZM384.4 253.2L389.4 253.6L390 254.2L385 253.7ZM391.4 239.5L396.4 238.9L397.3 239.6L392.3 240.3ZM403.4 252.2L408.3 251.5L409 252L404.1 252.6ZM420.7 250L425.7 249.3L426.4 249.7L421.4 250.4ZM426.2 235.1L431.2 234.5L432 235.2L427.1 235.8ZM438 247.9L443 247.3L443.7 247.7L438.7 248.3ZM442.5 233L447.4 231.7L448.3 232.3L443.5 233.6ZM458.9 228.5L463.7 226.8L464.7 227.3L459.9 229ZM473.3 238.3L478 236.7L478.8 236.9L474.1 238.6ZM505.9 226L510.6 224.4L511.4 224.7L506.6 226.3ZM508.6 210.1L513.4 208.8L514.4 209.4L509.6 210.7ZM522.2 220.9L527.1 219.6L527.8 219.9L523 221.2ZM525.8 205.1L530.7 204.1L531.6 204.7L526.7 205.8ZM538.8 216.7L543.7 215.6L544.4 215.9L539.6 217Z" fill="#8ee948" stroke="#8ee948" stroke-width="0.35"/>
<path d="M367.6 252.2L372.6 252.6L373.1 252.9L368.2 252.5ZM374.9 237.5L379.9 238L380.5 238.7L375.5 238.2ZM385 253.7L390 254.2L390.6 254.5L385.6 254ZM390.7 239L395.6 238.4L396.4 238.9L391.4 239.5ZM404.1 252.6L409 252L409.7 252.1L404.7 252.8ZM421.4 250.4L426.4 249.7L427 249.9L422 250.5ZM425.5 234.5L430.4 233.9L431.2 234.5L426.2 235.1ZM438.7 248.3L443.7 247.7L444.3 247.9L439.3 248.5ZM441.7 232.6L446.5 231.3L447.4 231.7L442.5 233ZM458.1 228.1L462.8 226.4L463.7 226.8L458.9 228.5ZM474.1 238.6L478.8 236.9L479.4 237L474.7 238.6ZM506.6 226.3L511.4 224.7L512 224.7L507.3 226.3ZM507.8 209.7L512.6 208.3L513.4 208.8L508.6 210.1ZM523 221.2L527.8 219.9L528.4 220L523.6 221.3ZM524.9 204.8L529.8 203.6L530.7 204.1L525.8 205.1ZM539.6 217L544.4 215.9L545.1 216L540.2 217.1Z" fill="#86e441" stroke="#86e441" stroke-width="0.35"/>
<path d="M368.2 252.5L373.1 252.9L373.6 252.9L368.7 252.5ZM374.3 237.1L379.3 237.6L379.9 238L374.9 237.5ZM385.6 254L390.6 254.5L391.1 254.5L386.1 254.1ZM390 238.7L395 238.1L395.6 238.4L390.7 239ZM404.7 252.8L409.7 252.1L410.1 252.1L405.2 252.7ZM422 250.5L427 249.9L427.5 249.8L422.5 250.5ZM424.8 234.2L429.8 233.6L430.4 233.9L425.5 234.5ZM439.3 248.5L444.3 247.9L444.8 247.8L439.8 248.4ZM441 232.4L445.8 231L446.5 231.3L441.7 232.6ZM457.4 227.9L462.1 226.3L462.8 226.4L458.1 228.1ZM474.7 238.6L479.4 237L479.9 236.8L475.1 238.5ZM490.2 215.3L494.9 213.7L495.6 213.9L490.9 215.5ZM507.3 226.3L512 224.7L512.5 224.6L507.7 226.1ZM507.1 209.5L511.9 208.1L512.6 208.3L507.8 209.7ZM523.6 221.3L528.4 220L528.9 219.8L524.1 221.2ZM524 204.7L528.9 203.4L529.8 203.6L524.9 204.8ZM540.2 217.1L545.1 216L545.5 215.9L540.7 217Z" fill="#7fe03a" stroke="#7fe03a" stroke-width="0.35"/>
<path d="M373.8 236.9L378.8 237.4L379.3 237.6L374.3 237.1ZM389.5 238.6L394.4 238L395 238.1L390 238.7ZM424.3 234.1L429.2 233.6L429.8 233.6L424.8 234.2ZM440.5 232.4L445.3 231.1L445.8 231L441 232.4ZM456.8 228L461.5 226.3L462.1 226.3L457.4 227.9ZM489.6 215.4L494.4 213.8L494.9 213.7L490.2 215.3ZM506.5 209.5L511.3 208.2L511.9 208.1L507.1 209.5ZM523.4 204.8L528.2 203.5L528.9 203.4L524 204.7Z" fill="#78dc34" stroke="#78dc34" stroke-width="0.35"/>
<path d="M381.6 248.8L386.6 249.3L387.3 250.6L382.4 250.2ZM382.4 250.2L387.3 250.6L388.1 251.8L383.1 251.4ZM453.2 241.8L458 240.4L459.1 241.3L454.3 242.6ZM454.3 242.6L459.1 241.3L460.1 242L455.3 243.3ZM455.3 243.3L460.1 242L461 242.5L456.2 243.8ZM456.2 243.8L461 242.5L461.7 242.8L456.9 244.1ZM456.9 244.1L461.7 242.8L462.4 242.9L457.5 244.2ZM457.5 244.2L462.4 242.9L462.8 242.8L458 244.1ZM473 222.4L477.6 220.5L478.2 220.4L473.5 222.3ZM473.5 222.3L478.2 220.4L478.9 220.5L474.3 222.5ZM474.3 222.5L478.9 220.5L479.8 220.9L475.1 222.8ZM475.1 222.8L479.8 220.9L480.8 221.4L476.1 223.3ZM476.1 223.3L480.8 221.4L481.9 222L477.3 223.9ZM477.3 223.9L481.9 222L483.2 222.8L478.5 224.7ZM478.5 224.7L483.2 222.8L484.5 223.7L479.9 225.6ZM490.9 215.5L495.6 213.9L496.5 214.3L491.7 215.9ZM491.7 215.9L496.5 214.3L497.4 214.8L492.7 216.4ZM492.7 216.4L497.4 214.8L498.5 215.6L493.8 217.2ZM493.8 217.2L498.5 215.6L499.7 216.4L495 218Z" fill="#e8a030" stroke="#e8a030" stroke-width="0.35"/>
<path d="M406.8 236.4L411.8 235.8L412.3 235.8L407.4 236.5ZM407.4 236.5L412.3 235.8L413 236.1L408 236.8ZM408 236.8L413 236.1L413.8 236.7L408.8 237.3ZM408.8 237.3L413.8 236.7L414.6 237.4L409.7 238ZM487.9 230.9L492.5 229L493.6 229.6L489 231.5ZM489 231.5L493.6 229.6L494.6 230L489.9 231.9ZM489.9 231.9L494.6 230L495.4 230.2L490.7 232.1ZM490.7 232.1L495.4 230.2L496 230.2L491.4 232.1ZM491.4 232.1L496 230.2L496.4 230L491.8 231.9Z" fill="#d020d0" stroke="#d020d0" stroke-width="0.35"/>
<path d="M533.9 206.2L538.8 205.1L540.1 206.7L535.2 207.7ZM535.2 207.7L540.1 206.7L541.4 208.3L536.5 209.3ZM536.5 209.3L541.4 208.3L542.7 209.9L537.9 210.9ZM537.9 210.9L542.7 209.9L544 211.4L539.1 212.4ZM539.1 212.4L544 211.4L545.3 212.8L540.4 213.9ZM551.5 202.3L556.5 202.7L557.3 204.5L552.4 204.2ZM552.4 204.2L557.3 204.5L558.2 206.4L553.2 206.1ZM553.2 206.1L558.2 206.4L559 208.3L554 208ZM554 208L559 208.3L559.8 210.2L554.8 209.8ZM554.8 209.8L559.8 210.2L560.6 211.9L555.6 211.5ZM569.3 204.3L574 206L574.3 208L569.6 206.3ZM569.6 206.3L574.3 208L574.6 210.1L569.9 208.4ZM569.9 208.4L574.6 210.1L574.9 212.1L570.2 210.4ZM570.2 210.4L574.9 212.1L575.2 214.1L570.5 212.4ZM570.5 212.4L575.2 214.1L575.5 216L570.8 214.3ZM585.1 215.6L589.2 218.5L589 220.5L584.9 217.6ZM584.9 217.6L589 220.5L588.7 222.5L584.6 219.6ZM584.6 219.6L588.7 222.5L588.5 224.4L584.4 221.5Z" fill="#a4f65c" stroke="#a4f65c" stroke-width="0.35"/>
<path d="M540.4 213.9L545.3 212.8L546.4 214.1L541.5 215.1ZM550.7 200.6L555.7 201L556.5 202.7L551.5 202.3ZM555.6 211.5L560.6 211.9L561.4 213.4L556.4 213.1ZM569 202.5L573.7 204.2L574 206L569.3 204.3ZM570.8 214.3L575.5 216L575.8 217.7L571.1 216ZM584.4 221.5L588.5 224.4L588.4 226.1L584.3 223.2Z" fill="#9cf155" stroke="#9cf155" stroke-width="0.35"/>
<path d="M541.5 215.1L546.4 214.1L547.5 215.1L542.6 216.2ZM542.6 216.2L547.5 215.1L548.4 215.9L543.5 217ZM549.3 197.8L554.3 198.2L555 199.4L550 199.1ZM550 199.1L555 199.4L555.7 201L550.7 200.6ZM556.4 213.1L561.4 213.4L562.1 214.7L557.1 214.4ZM557.1 214.4L562.1 214.7L562.8 215.7L557.8 215.4ZM568.4 199.4L573.1 201L573.4 202.5L568.7 200.8ZM568.7 200.8L573.4 202.5L573.7 204.2L569 202.5ZM571.1 216L575.8 217.7L576.2 219.1L571.5 217.4ZM571.5 217.4L576.2 219.1L576.5 220.3L571.8 218.6ZM586 206.5L590.1 209.3L590.1 210.8L586 208ZM584.3 223.2L588.4 226.1L588.4 227.6L584.3 224.7ZM584.3 224.7L588.4 227.6L588.4 228.8L584.3 225.9Z" fill="#95ed4e" stroke="#95ed4e" stroke-width="0.35"/>
<path d="M543.5 217L548.4 215.9L549.2 216.4L544.3 217.5ZM548.6 196.8L553.6 197.1L554.3 198.2L549.3 197.8ZM557.8 215.4L562.8 215.7L563.4 216.5L558.4 216.1ZM568 198.2L572.7 199.9L573.1 201L568.4 199.4ZM571.8 218.6L576.5 220.3L576.9 221.1L572.2 219.4ZM586 205.3L590.1 208.1L590.1 209.3L586 206.5Z" fill="#8ee948" stroke="#8ee948" stroke-width="0.35"/>
<path d="M544.3 217.5L549.2 216.4L549.9 216.6L545 217.7ZM547.1 196.5L552.1 196.4L553.6 197.1L548.6 196.8ZM558.4 216.1L563.4 216.5L563.9 216.8L558.9 216.5ZM567.6 197.3L572.3 199L572.7 199.9L568 198.2ZM572.2 219.4L576.9 221.1L577.4 221.6L572.7 220ZM585.8 204.3L589.9 207.2L590.1 208.1L586 205.3Z" fill="#86e441" stroke="#86e441" stroke-width="0.35"/>
<path d="M545 217.7L549.9 216.6L550.3 216.5L545.5 217.6Z" fill="#d020d0" stroke="#d020d0" stroke-width="0.35"/>
<path d="M545.2 197L550.1 196.2L552.1 196.4L547.1 196.5ZM558.9 216.5L563.9 216.8L564.4 216.9L559.4 216.5ZM567.1 196.8L571.9 198.5L572.3 199L567.6 197.3ZM572.7 220L577.4 221.6L577.8 221.8L573.1 220.1ZM585.5 203.7L589.6 206.6L589.9 207.2L585.8 204.3Z" fill="#7fe03a" stroke="#7fe03a" stroke-width="0.35"/>
<path d="M586 208L590.1 210.8L590 212.5L585.9 209.7ZM585.9 209.7L590 212.5L589.8 214.4L585.7 211.5ZM585.7 211.5L589.8 214.4L589.5 216.4L585.4 213.5ZM585.4 213.5L589.5 216.4L589.2 218.5L585.1 215.6Z" fill="#e8a030" stroke="#e8a030" stroke-width="0.35"/>
<path d="M587.5 228L592.2 229.1L592.7 229.1L588 228ZM606 232.4L610.7 233.5L611.2 233.5L606.6 232.5ZM624.6 236.6L629.3 237.7L629.9 237.7L625.2 236.7ZM643.2 240.7L647.9 241.7L648.4 241.7L643.7 240.7ZM661.6 244.9L666.2 246L666.8 246.1L662.1 245ZM679.5 249.9L684.1 251.3L684.6 251.4L680 250ZM697.4 255.7L701.9 257.2L702.4 257.3L697.9 255.8Z" fill="#78dc34" stroke="#78dc34" stroke-width="0.35"/>
<path d="M588 228L592.7 229.1L593.4 229L588.7 227.9ZM604.3 218.5L609 219.6L609.5 219.7L604.9 218.5ZM606.6 232.5L611.2 233.5L611.9 233.4L607.2 232.4ZM622.7 222.8L627.4 223.8L628 223.9L623.3 222.8ZM625.2 236.7L629.9 237.7L630.5 237.6L625.8 236.6ZM641.2 226.8L645.9 227.8L646.5 227.9L641.8 226.9ZM643.7 240.7L648.4 241.7L649 241.6L644.4 240.5ZM659.9 231L664.6 232.2L665.1 232.2L660.5 231.1ZM662.1 245L666.8 246.1L667.4 245.9L662.8 244.8ZM678.7 236L683.3 237.4L683.8 237.4L679.2 236.1ZM680 250L684.6 251.4L685.3 251.3L680.7 249.9ZM697 241.7L701.5 243.3L702.1 243.4L697.5 241.8ZM697.9 255.8L702.4 257.3L703.1 257.3L698.6 255.7Z" fill="#7fe03a" stroke="#7fe03a" stroke-width="0.35"/>
<path d="M588.7 227.9L593.4 229L594.1 228.7L589.5 227.6ZM603.7 218.6L608.3 219.7L609 219.6L604.3 218.5ZM607.2 232.4L611.9 233.4L612.7 233.1L608 232.1ZM622.1 222.9L626.8 223.9L627.4 223.8L622.7 222.8ZM625.8 236.6L630.5 237.6L631.3 237.3L626.6 236.3ZM640.6 227L645.3 228L645.9 227.8L641.2 226.8ZM644.4 240.5L649 241.6L649.7 241.3L645.1 240.1ZM659.3 231.2L663.9 232.3L664.6 232.2L659.9 231ZM662.8 244.8L667.4 245.9L668.2 245.7L663.5 244.5ZM678 236L682.6 237.4L683.3 237.4L678.7 236ZM680.7 249.9L685.3 251.3L686.1 251.1L681.5 249.7ZM696.3 241.8L700.9 243.3L701.5 243.3L697 241.7ZM698.6 255.7L703.1 257.3L703.9 257L699.3 255.5Z" fill="#86e441" stroke="#86e441" stroke-width="0.35"/>
<path d="M589.5 227.6L594.1 228.7L595 228.3L590.3 227.2ZM602.9 218.9L607.6 220L608.3 219.7L603.7 218.6ZM608 232.1L612.7 233.1L613.5 232.7L608.9 231.6ZM621.3 223.2L626 224.2L626.8 223.9L622.1 222.9ZM626.6 236.3L631.3 237.3L632.1 236.8L627.4 235.8ZM639.9 227.2L644.5 228.3L645.3 228L640.6 227ZM645.1 240.1L649.7 241.3L650.6 240.8L645.9 239.7ZM658.5 231.4L663.2 232.5L663.9 232.3L659.3 231.2ZM663.5 244.5L668.2 245.7L668.9 245.2L664.2 243.9ZM677.2 236.3L681.8 237.7L682.6 237.4L678 236ZM681.5 249.7L686.1 251.1L686.9 250.7L682.3 249.3ZM695.6 242L700.1 243.5L700.9 243.3L696.3 241.8ZM699.3 255.5L703.9 257L704.8 256.7L700.2 255.2Z" fill="#8ee948" stroke="#8ee948" stroke-width="0.35"/>
<path d="M590.3 227.2L595 228.3L595.9 227.8L591.3 226.6ZM591.3 226.6L595.9 227.8L596.9 227.1L592.3 226ZM601.1 219.8L605.8 220.9L606.7 220.4L602.1 219.3ZM602.1 219.3L606.7 220.4L607.6 220L602.9 218.9ZM608.9 231.6L613.5 232.7L614.5 232.1L609.8 231.1ZM609.8 231.1L614.5 232.1L615.5 231.5L610.8 230.4ZM619.6 224.1L624.3 225.2L625.2 224.6L620.5 223.6ZM620.5 223.6L625.2 224.6L626 224.2L621.3 223.2ZM627.4 235.8L632.1 236.8L633.1 236.3L628.4 235.3ZM628.4 235.3L633.1 236.3L634.1 235.6L629.4 234.6ZM638.1 228.2L642.8 229.2L643.7 228.7L639 227.7ZM639 227.7L643.7 228.7L644.5 228.3L639.9 227.2ZM645.9 239.7L650.6 240.8L651.5 240.3L646.9 239.2ZM646.9 239.2L651.5 240.3L652.5 239.7L647.9 238.5ZM656.7 232.4L661.4 233.5L662.3 232.9L657.7 231.8ZM657.7 231.8L662.3 232.9L663.2 232.5L658.5 231.4ZM664.2 243.9L668.9 245.2L669.7 244.7L665.1 243.3ZM665.1 243.3L669.7 244.7L670.8 244.1L666.2 242.7ZM675.4 237.1L680 238.5L681 238L676.4 236.6ZM676.4 236.6L681 238L681.8 237.7L677.2 236.3ZM682.3 249.3L686.9 250.7L687.9 250.2L683.3 248.8ZM683.3 248.8L687.9 250.2L689 249.6L684.4 248.2ZM693.7 242.7L698.2 244.3L699.2 243.8L694.7 242.3ZM694.7 242.3L699.2 243.8L700.1 243.5L695.6 242ZM700.2 255.2L704.8 256.7L705.8 256.3L701.2 254.7Z" fill="#95ed4e" stroke="#95ed4e" stroke-width="0.35"/>
<path d="M592.3 226L596.9 227.1L598 226.4L593.4 225.3ZM599 221.2L603.7 222.3L604.8 221.6L600.1 220.4ZM600.1 220.4L604.8 221.6L605.8 220.9L601.1 219.8ZM610.8 230.4L615.5 231.5L616.6 230.7L611.9 229.7ZM617.5 225.5L622.2 226.6L623.3 225.8L618.6 224.8ZM618.6 224.8L623.3 225.8L624.3 225.2L619.6 224.1ZM629.4 234.6L634.1 235.6L635.1 234.9L630.4 233.8ZM636 229.6L640.7 230.6L641.8 229.9L637.1 228.9ZM637.1 228.9L641.8 229.9L642.8 229.2L638.1 228.2ZM647.9 238.5L652.5 239.7L653.6 238.9L649 237.8ZM654.6 233.7L659.3 234.8L660.4 234.1L655.7 233ZM655.7 233L660.4 234.1L661.4 233.5L656.7 232.4ZM666.2 242.7L670.8 244.1L671.9 243.5L667.3 242.1ZM673.2 238.3L677.8 239.7L679 239.1L674.4 237.7ZM674.4 237.7L679 239.1L680 238.5L675.4 237.1ZM684.4 248.2L689 249.6L690 249L685.5 247.5ZM691.5 243.9L696 245.4L697.2 244.8L692.6 243.3ZM692.6 243.3L697.2 244.8L698.2 244.3L693.7 242.7Z" fill="#9cf155" stroke="#9cf155" stroke-width="0.35"/>
<path d="M593.4 225.3L598 226.4L599.1 225.6L594.5 224.5ZM594.5 224.5L599.1 225.6L600.3 224.7L595.6 223.6ZM595.6 223.6L600.3 224.7L601.5 223.9L596.8 222.8ZM596.8 222.8L601.5 223.9L602.6 223.1L597.9 222ZM597.9 222L602.6 223.1L603.7 222.3L599 221.2ZM611.9 229.7L616.6 230.7L617.7 229.9L613 228.9ZM613 228.9L617.7 229.9L618.8 229.1L614.1 228ZM614.1 228L618.8 229.1L619.9 228.2L615.3 227.2ZM615.3 227.2L619.9 228.2L621.1 227.4L616.4 226.3ZM616.4 226.3L621.1 227.4L622.2 226.6L617.5 225.5ZM630.4 233.8L635.1 234.9L636.2 234L631.5 233ZM631.5 233L636.2 234L637.4 233.2L632.7 232.2ZM632.7 232.2L637.4 233.2L638.5 232.3L633.8 231.3ZM633.8 231.3L638.5 232.3L639.6 231.4L634.9 230.4ZM634.9 230.4L639.6 231.4L640.7 230.6L636 229.6ZM649 237.8L653.6 238.9L654.7 238.1L650.1 237ZM650.1 237L654.7 238.1L655.9 237.3L651.2 236.2ZM651.2 236.2L655.9 237.3L657.1 236.4L652.4 235.3ZM652.4 235.3L657.1 236.4L658.2 235.6L653.5 234.5ZM653.5 234.5L658.2 235.6L659.3 234.8L654.6 233.7ZM667.3 242.1L671.9 243.5L673.1 242.7L668.5 241.3ZM668.5 241.3L673.1 242.7L674.3 242L669.7 240.6ZM669.7 240.6L674.3 242L675.5 241.2L670.9 239.8ZM670.9 239.8L675.5 241.2L676.7 240.4L672.1 239ZM672.1 239L676.7 240.4L677.8 239.7L673.2 238.3ZM685.5 247.5L690 249L691.2 248.3L686.6 246.8ZM686.6 246.8L691.2 248.3L692.4 247.6L687.9 246ZM687.9 246L692.4 247.6L693.6 246.8L689.1 245.3ZM689.1 245.3L693.6 246.8L694.9 246.1L690.3 244.6ZM690.3 244.6L694.9 246.1L696 245.4L691.5 243.9Z" fill="#a4f65c" stroke="#a4f65c" stroke-width="0.35"/>
<rect x="511.7" y="214" width="5.6" height="8" rx="1" fill="#e8b43c"/>
<rect x="600.7" y="225" width="5.6" height="8" rx="1" fill="#d88a28"/>
<rect x="587.7" y="210" width="5.6" height="8" rx="1" fill="#d88a28"/>
<line x1="380" y1="244" x2="388" y2="238" stroke="#e8b43c" stroke-width="1.3" stroke-linecap="round"/>
<line x1="407" y1="232" x2="413" y2="229" stroke="#cc22cc" stroke-width="1.3" stroke-linecap="round"/>
<line x1="440" y1="227" x2="446" y2="224" stroke="#e8b43c" stroke-width="1.3" stroke-linecap="round"/>
<line x1="446" y1="224" x2="452" y2="226" stroke="#e8b43c" stroke-width="1.3" stroke-linecap="round"/>
<line x1="446" y1="224" x2="445" y2="220" stroke="#e8b43c" stroke-width="1.3" stroke-linecap="round"/>
<line x1="432" y1="250" x2="440" y2="262" stroke="#cc22cc" stroke-width="1.3" stroke-linecap="round"/>
<line x1="440" y1="262" x2="447" y2="261" stroke="#3344dd" stroke-width="1.3" stroke-linecap="round"/>
<line x1="462" y1="245" x2="470" y2="254" stroke="#e8b43c" stroke-width="1.3" stroke-linecap="round"/>
<line x1="470" y1="254" x2="478" y2="251" stroke="#cc5533" stroke-width="1.3" stroke-linecap="round"/>
<line x1="495" y1="230" x2="500" y2="243" stroke="#cc22cc" stroke-width="1.3" stroke-linecap="round"/>
<line x1="516" y1="222" x2="522" y2="233" stroke="#e8b43c" stroke-width="1.3" stroke-linecap="round"/>
<line x1="522" y1="233" x2="527" y2="238" stroke="#3344dd" stroke-width="1.3" stroke-linecap="round"/>
<line x1="537" y1="225" x2="546" y2="229" stroke="#cc22cc" stroke-width="1.3" stroke-linecap="round"/>
<line x1="549" y1="222" x2="545" y2="233" stroke="#cc22cc" stroke-width="1.3" stroke-linecap="round"/>
<line x1="564" y1="209" x2="570" y2="212" stroke="#cc22cc" stroke-width="1.3" stroke-linecap="round"/>
<line x1="567" y1="224" x2="576" y2="222" stroke="#cc22cc" stroke-width="1.3" stroke-linecap="round"/>
<line x1="592" y1="212" x2="600" y2="214" stroke="#e8b43c" stroke-width="1.3" stroke-linecap="round"/>
<text x="411" y="199.5" font-family='"Liberation Sans", sans-serif' font-size="7.4" font-weight="bold" text-anchor="middle" fill="#cc22cc" textLength="28" lengthAdjust="spacingAndGlyphs" >Leu974</text>
<text x="446" y="211.3" font-family='"Liberation Sans", sans-serif' font-size="7.4" font-weight="bold" text-anchor="middle" fill="#e8b43c" textLength="28" lengthAdjust="spacingAndGlyphs" >Leu967</text>
<text x="476.2" y="182.2" font-family='"Liberation Sans", sans-serif' font-size="7.4" font-weight="bold" text-anchor="middle" fill="#e8b43c" textLength="28" lengthAdjust="spacingAndGlyphs" >Leu960</text>
<text x="515.8" y="185.2" font-family='"Liberation Sans", sans-serif' font-size="7.4" font-weight="bold" text-anchor="middle" fill="#e8b43c" textLength="28" lengthAdjust="spacingAndGlyphs" >Val953</text>
<text x="498.3" y="198.7" font-family='"Liberation Sans", sans-serif' font-size="7.4" font-weight="bold" text-anchor="middle" fill="#e8b43c" textLength="28" lengthAdjust="spacingAndGlyphs" >Glu956</text>
<text x="391" y="275" font-family='"Liberation Sans", sans-serif' font-size="7.4" font-weight="bold" text-anchor="middle" fill="#e8b43c" textLength="28" lengthAdjust="spacingAndGlyphs" >Leu978</text>
<text x="430" y="267.8" font-family='"Liberation Sans", sans-serif' font-size="7.4" font-weight="bold" text-anchor="middle" fill="#cc22cc" textLength="28" lengthAdjust="spacingAndGlyphs" >Arg971</text>
<text x="461.3" y="263" font-family='"Liberation Sans", sans-serif' font-size="7.4" font-weight="bold" text-anchor="middle" fill="#e8b43c" textLength="28" lengthAdjust="spacingAndGlyphs" >GLu964</text>
<text x="496.4" y="263" font-family='"Liberation Sans", sans-serif' font-size="7.4" font-weight="bold" text-anchor="middle" fill="#cc22cc" textLength="28" lengthAdjust="spacingAndGlyphs" >Glu957</text>
<text x="516.3" y="251" font-family='"Liberation Sans", sans-serif' font-size="7.4" font-weight="bold" text-anchor="middle" fill="#e8b43c" textLength="28" lengthAdjust="spacingAndGlyphs" >Gln954</text>
<text x="535.3" y="240.5" font-family='"Liberation Sans", sans-serif' font-size="7.4" font-weight="bold" text-anchor="middle" fill="#cc22cc" textLength="28" lengthAdjust="spacingAndGlyphs" >Ile950</text>
<text x="551" y="255.6" font-family='"Liberation Sans", sans-serif' font-size="7.4" font-weight="bold" text-anchor="middle" fill="#cc22cc" textLength="28" lengthAdjust="spacingAndGlyphs" >Gln927</text>
<text x="570.5" y="240.9" font-family='"Liberation Sans", sans-serif' font-size="7.4" font-weight="bold" text-anchor="middle" fill="#cc22cc" textLength="28" lengthAdjust="spacingAndGlyphs" >Leu924</text>
<text x="566.5" y="178.3" font-family='"Liberation Sans", sans-serif' font-size="7.4" font-weight="bold" text-anchor="middle" fill="#cc22cc" textLength="28" lengthAdjust="spacingAndGlyphs" >Leu943</text>
<text x="605.7" y="198.5" font-family='"Liberation Sans", sans-serif' font-size="7.4" font-weight="bold" text-anchor="middle" fill="#e8b43c" textLength="28" lengthAdjust="spacingAndGlyphs" >Phe921</text>
<text x="603.4" y="258.7" font-family='"Liberation Sans", sans-serif' font-size="7.4" font-weight="bold" text-anchor="middle" fill="#e8b43c" textLength="28" lengthAdjust="spacingAndGlyphs" >Leu917</text>
<line x1="409.2" y1="202.6" x2="409.2" y2="218.6" stroke="#111" stroke-width="1.1" /><polygon points="409.2,222.2 407.7,218.6 410.7,218.6" fill="#111" />
<line x1="444.4" y1="213.3" x2="444.4" y2="219.8" stroke="#111" stroke-width="1.1" /><polygon points="444.4,223.4 442.9,219.8 445.9,219.8" fill="#111" />
<line x1="477.8" y1="185.4" x2="477.8" y2="218.6" stroke="#111" stroke-width="1.1" /><polygon points="477.8,222.2 476.3,218.6 479.3,218.6" fill="#111" />
<line x1="514.5" y1="188" x2="514.5" y2="213.4" stroke="#111" stroke-width="1.1" /><polygon points="514.5,217 513,213.4 516,213.4" fill="#111" />
<line x1="497.3" y1="200.6" x2="497.3" y2="206.7" stroke="#111" stroke-width="1.1" /><polygon points="497.3,210.3 495.8,206.7 498.8,206.7" fill="#111" />
<line x1="387.5" y1="267.5" x2="387.5" y2="254.2" stroke="#111" stroke-width="1.1" /><polygon points="387.5,250.6 389,254.2 386,254.2" fill="#111" />
<line x1="427.7" y1="261.4" x2="427.7" y2="254.9" stroke="#111" stroke-width="1.1" /><polygon points="427.7,251.3 429.2,254.9 426.2,254.9" fill="#111" />
<line x1="460" y1="255" x2="460" y2="246.6" stroke="#111" stroke-width="1.1" /><polygon points="460,243 461.5,246.6 458.5,246.6" fill="#111" />
<line x1="493.7" y1="253.8" x2="493.7" y2="239.7" stroke="#111" stroke-width="1.1" /><polygon points="493.7,236.1 495.2,239.7 492.2,239.7" fill="#111" />
<line x1="514.5" y1="241.5" x2="514.5" y2="233.3" stroke="#111" stroke-width="1.1" /><polygon points="514.5,229.7 516,233.3 513,233.3" fill="#111" />
<line x1="534.2" y1="234" x2="534.2" y2="229.6" stroke="#111" stroke-width="1.1" /><polygon points="534.2,226 535.7,229.6 532.7,229.6" fill="#111" />
<line x1="551" y1="249.7" x2="551" y2="220.9" stroke="#111" stroke-width="1.1" /><polygon points="551,217.3 552.5,220.9 549.5,220.9" fill="#111" />
<line x1="565.7" y1="234.5" x2="565.7" y2="226.8" stroke="#111" stroke-width="1.1" /><polygon points="565.7,223.2 567.2,226.8 564.2,226.8" fill="#111" />
<line x1="566.3" y1="182.8" x2="566.3" y2="203.8" stroke="#111" stroke-width="1.1" /><polygon points="566.3,207.4 564.8,203.8 567.8,203.8" fill="#111" />
<line x1="596.8" y1="201.9" x2="591.36" y2="209.12" stroke="#111" stroke-width="1.1" /><polygon points="589.2,212 590.17,208.22 592.56,210.03" fill="#111" />
<line x1="602.6" y1="252.5" x2="602.6" y2="237.1" stroke="#111" stroke-width="1.1" /><polygon points="602.6,233.5 604.1,237.1 601.1,237.1" fill="#111" />
<clipPath id="clipF"><rect x="59.6" y="608.4" width="206.6" height="205.6"/></clipPath>
<g clip-path="url(#clipF)"><path d="M171.1 798.55L165.6 798.75L164.6 798.25L158.1 797.25L156.1 796.55L143.25 789.9L139.25 779.9L139.25 778.4L138.75 777.4L137.6 770.55L126.6 765.55L118.95 759.9L124.95 749.9L126.6 747.75L126.75 746.9L118.95 734.4L117.75 734.4L104.6 743.55L100.45 740.4L103.6 737.25L107.95 733.9L110.6 731.25L111.45 730.9L114.1 728.25L116.75 717.4L109.95 705.9L109.1 702.05L105.1 697.36L102.6 694.99L101.6 694.97L101.1 694.49L98.1 694.43L97.6 693.95L94.6 693.84L94.1 693.39L92.6 693.29L83.4 683.4L83.39 682.9L73.35 672.9L73.33 670.9L73.83 670.4L73.81 667.9L74.31 667.4L74.31 664.4L74.81 663.9L74.82 662.4L82.1 655.12L94.1 652.08L101.1 645.6L101.6 645.59L106.1 641.12L106.6 641.12L116.6 631.24L136.1 621.74L138.94 618.9L138.94 618.4L140.94 616.4L140.94 615.9L147.1 610.24L168.1 610.24L170.76 612.9L170.76 613.4L178.26 620.9L178.26 621.4L182.26 625.9L182.26 626.4L185.1 629.24L187.1 629.74L193.6 633.24L194.6 633.24L200.1 636.24L202.1 636.74L203.6 638.24L207.1 640.24L209.6 642.24L212.1 642.24L212.6 642.74L215.1 642.74L215.6 643.24L218.1 643.24L218.6 643.74L221.1 643.74L221.6 644.24L222.6 644.24L229.75 651.9L229.74 653.9L229.24 654.4L229.24 655.9L228.74 656.4L228.73 657.9L228.23 658.4L228.22 659.9L227.74 660.4L227.76 661.9L227.28 662.4L227.29 663.9L226.32 665.9L226.32 667.4L225.82 667.9L225.81 669.4L224.81 671.4L224.27 674.4L217.85 686.4L208.96 695.4L209.46 696.9L209.46 698.9L209.96 699.9L209.96 701.9L210.46 702.9L210.46 704.9L210.96 705.9L210.96 707.9L211.46 708.9L211.46 710.9L211.96 711.9L211.96 714.4L212.46 715.4L212.95 721.4L213.45 722.4L213.45 723.9L215.25 728.4L205.1 737.55L197.45 749.4L197.45 753.4L196.95 754.4L196.95 758.9L196.45 759.9L196.45 763.9L195.95 764.9L195.95 768.9L195.45 769.9L195.45 773.9L194.95 774.9L194.95 778.9L194.45 779.9L193.95 787.9L190.25 795.4L189.6 796.05L187.1 796.25L186.1 796.75L184.1 796.75L183.1 797.25L181.1 797.25L180.1 797.75L177.6 797.75L176.6 798.25L171.6 798.25L171.1 798.55ZM266.1 681.76L261.74 677.9L259.74 673.9L258.24 671.9L257.74 663.9L257.24 663.4L257.24 662.4L257.74 661.9L257.74 658.4L258.24 657.9L258.24 654.9L261.24 648.9L266.1 644.04L266.46 644.4L266.46 681.4L266.1 681.76Z" fill="#110098" fill-rule="evenodd"/><path d="M171.1 796.44L170.1 796.89L166.1 796.89L158.6 795.39L145.1 788.89L141.11 779.4L139.1 769.39L134.1 766.6L127.6 763.89L121.61 759.4L128.39 748.4L128.61 746.9L128.39 745.9L126.61 742.9L120.11 732.9L118.6 732.39L117.1 732.61L106.09 740.4L104.6 741.11L103.61 740.4L103.61 739.9L104.6 738.91L112.61 732.4L115.61 729.4L118.55 718.9L118.39 716.4L111.6 704.9L110.89 701.4L110.09 700.4L103.1 694.07L93.1 692L74.03 672.4L75.42 662.9L82.1 656.04L84.1 655.2L93.1 653.08L94.53 652.4L106.1 642.04L107.1 641.55L116.82 632.4L136.95 622.4L139.6 619.75L142.1 616.25L145.45 612.9L148.1 611.23L167.6 611.3L177.1 621.25L181.6 627.26L184.24 629.9L201.6 637.8L209.1 643.14L222.1 645.31L225.1 648.29L225.6 649.3L228.6 652.33L228.72 652.9L227.26 657.9L225.52 666.9L223.37 673.9L216.6 685.66L210.15 691.4L207.63 693.9L207.17 694.9L209.65 711.4L210.1 712.4L211.15 721.9L211.81 724.9L213.09 727.9L203.6 736.39L195.81 748.4L192.09 787.4L188.6 794.39L180.6 795.45L179.6 795.89L177.1 795.94L176.1 796.39L171.1 796.44ZM265.6 680.73L262.27 677.9L258.77 671.9L258.67 668.4L258.17 667.4L258.17 663.9L257.67 662.9L258.17 661.9L258.17 658.9L258.67 657.9L258.77 654.9L261.77 648.9L265.6 645.07L266.03 645.9L266.03 679.9L265.6 680.73Z" fill="#1500ab" fill-rule="evenodd"/><path d="M169.6 795.01L166.6 795.01L159.1 793.51L146.6 787.52L142.99 778.9L141.35 769.9L140.6 768.29L139.1 767.02L128.6 762.15L124.2 758.9L129.98 749.4L130.44 747.9L130.35 745.9L121.77 731.9L120.1 730.8L117.24 730.4L120.35 719.4L120.44 716.9L118.98 713.4L113.6 704.28L112.68 700.9L103.6 693.36L93.6 691.15L74.67 671.9L76.09 662.9L82.57 656.4L94.67 652.9L117.56 632.9L137.6 623.15L140.35 620.4L143.1 616.65L148.1 612.21L167.1 612.21L176.1 621.65L180.84 627.9L183.95 630.9L201.1 638.7L208.6 643.93L221.6 646.24L227.7 652.9L226.19 657.9L225.62 662.9L224.31 668.4L222.17 674.4L215.85 684.9L206.34 692.9L205.4 694.4L205.3 696.4L208.22 712.9L209.26 721.9L210.75 727.4L202.1 735.3L194 747.9L190.21 786.9L187.6 792.17L187.1 792.53L175.6 794.51L171.1 794.56L169.6 795.01ZM265.1 679.45L263.05 677.9L259.19 671.4L258.68 663.9L258.19 662.9L258.68 661.9L259.19 655.4L262.19 649.4L265.1 646.35L265.52 647.4L265.52 678.4L265.1 679.45Z" fill="#1900ca" fill-rule="evenodd"/><path d="M169.6 793L167.1 793.16L158.6 791.35L148.1 786.2L144.83 778.4L143.15 769.4L142.1 767.19L140.1 765.44L129.38 760.4L126.55 758.4L131.8 749.9L132.31 747.9L132.14 745.4L130.05 741.4L123.6 731.2L122.3 729.9L119.81 728.4L122.24 719.4L122.24 716.4L120.55 712.4L115.25 703.4L114.71 701.4L104.1 692.78L101.6 691.91L96.1 691.01L93.6 690.08L75.29 671.9L76.6 663.31L82.6 657.12L93.6 653.95L95.1 653.17L117.6 633.73L128.6 628.82L138.1 624.02L141.1 621.05L144.1 617.05L148.6 613.2L166.6 613.2L175.1 622.05L180.1 628.55L183.1 631.47L200.6 639.42L208.6 644.77L221.1 647.21L226.27 652.9L224.13 666.4L221.88 673.4L215.1 684.41L205.5 692.4L203.46 694.9L207.46 722.4L208.4 726.4L208.3 726.9L205.1 730.1L200.6 734.2L193.45 744.9L192.2 747.4L188.37 786.4L186.1 790.73L175.1 792.67L169.6 793ZM264.6 678.27L263.45 677.4L259.95 671.4L258.95 662.9L259.95 655.4L262.95 649.4L264.6 647.75L264.91 648.4L264.91 677.9L264.6 678.27ZM166.86 770.9L166.76 770.4L166.33 770.4L166.15 770.9L166.86 770.9Z" fill="#1e00e6" fill-rule="evenodd"/><path d="M170.1 790.94L167.6 791.29L159.1 789.56L149.6 784.86L146.68 777.9L144.95 768.9L143.46 765.9L141.1 763.87L130.1 758.68L129.13 757.9L133.61 750.4L134.17 747.9L134.05 745.4L133.13 742.9L127.32 733.4L124.6 729.48L122.05 727.4L124.04 719.9L124.04 715.9L122.38 711.9L117.61 703.9L116.6 701.4L104.6 692.29L102.1 691.35L96.1 690.29L94.1 689.55L76.02 671.9L76.57 665.4L77.11 663.4L83.06 657.4L93.6 654.43L95.1 653.71L118.1 634.18L131.55 628.4L138.6 624.88L141.66 621.9L144.66 617.9L147.1 615.46L149.1 614.19L166.52 614.4L168.04 616.4L174.54 622.9L179.54 629.4L182.6 631.99L200.1 639.97L208.31 645.4L214.6 647.13L220.6 648.14L225.26 653.4L224.59 655.9L224.39 660.4L223.39 666.4L221.71 671.9L220.28 674.9L214.1 684.36L201.61 694.9L201.71 697.4L206.27 725.9L206.17 726.4L199.1 733.09L191.88 743.9L190.41 746.9L186.51 785.9L184.6 789.21L174.6 790.81L170.1 790.94ZM264.1 676.97L260.55 670.9L259.84 662.9L260.55 655.9L264.1 649.33L264.1 676.97ZM166.87 771.9L167.83 770.9L166.6 769.33L165.6 770L165.17 770.9L166.1 771.89L166.87 771.9Z" fill="#2008f6" fill-rule="evenodd"/><path d="M168.1 789.42L159.6 787.75L151.1 783.53L148.51 777.4L146.75 768.4L145.1 764.98L142.1 762.3L131.83 757.4L135.58 750.4L136.05 747.4L135.73 744.4L134.7 741.9L128.89 732.4L126.53 728.9L124.23 726.4L125.93 719.9L125.84 715.4L123.96 710.9L119.18 702.9L118.3 700.4L114.6 699.1L104.6 691.6L94.6 689.06L77.8 672.9L76.73 671.4L77.08 665.9L77.61 663.9L83.1 658.09L93.6 654.88L95.6 653.9L118.6 634.6L134.79 627.9L139.1 625.73L142.54 622.4L145.6 618.34L147.6 616.34L149.6 615.17L166.1 615.34L167.16 616.9L173.65 623.4L178.65 629.9L182.1 632.44L199.6 640.43L208.1 646.01L215.1 648.17L220.1 649.08L224.13 653.9L223.7 655.4L223.48 662.4L222.39 667.9L220.66 672.9L218.65 676.4L213.58 683.9L203.1 692.46L200.01 693.9L199.81 694.4L199.83 697.4L204.27 725.4L197.67 731.9L190.1 743.24L188.62 746.4L184.49 785.9L183.6 787.47L174.6 788.91L168.1 789.42ZM263.1 673.01L261.57 670.4L260.93 662.9L261.57 656.4L263.1 653.29L263.1 673.01ZM166.9 772.9L168.83 770.9L168.37 769.9L166.6 768.37L165.1 769.4L164.17 770.9L166.1 772.91L166.9 772.9Z" fill="#231df5" fill-rule="evenodd"/><path d="M168.6 787.41L160.6 786.08L152.6 782.19L150.34 776.9L148.41 767.4L146.61 763.9L143.1 760.73L134.29 756.4L136.55 752.9L137.52 750.4L137.91 746.9L137.52 743.9L136.27 740.9L130.6 731.63L126.37 725.9L127.86 719.4L127.51 714.4L125.54 709.9L120.75 701.9L119.95 699.4L113.6 697.55L104.6 690.97L95.1 688.6L87.2 681.4L77.3 671.4L77.59 665.9L78.13 663.9L83.48 658.4L94.1 655.17L95.61 654.4L118.6 635.26L139.6 626.59L143.1 623.25L148.1 617.24L150.1 616.16L165.6 616.38L172.75 623.9L177.59 629.9L181.71 632.9L199.6 641.12L207.6 646.44L217.6 649.71L219.6 649.99L222.88 653.9L222.81 662.4L221.79 667.9L219.99 672.9L217.31 677.4L213.17 683.4L210.6 685.6L205.1 689.93L198.12 693.4L197.97 697.4L202.33 724.9L196.09 730.9L188.6 742.13L186.82 745.9L182.65 785.4L177.6 786.59L168.6 787.41ZM167.17 773.9L169.99 770.9L169.1 769.35L166.6 767.26L164.32 768.9L163.01 770.9L166.1 774.1L166.6 774.27L167.17 773.9Z" fill="#2b3df0" fill-rule="evenodd"/><path d="M168.6 785.44L161.1 784.23L154.1 780.84L152.18 776.4L150.22 766.9L148.54 763.4L146.6 761.07L144.6 759.47L137.31 755.9L137.18 755.4L138.82 752.4L139.62 749.4L139.76 746.4L139.31 743.4L138.38 740.9L136.34 737.4L128.46 725.4L129.73 719.4L129.3 713.9L127.11 708.9L122.32 700.9L121.58 698.4L112.6 696.01L104.6 690.4L95.6 688.16L91.66 684.9L77.85 671.4L78.09 665.9L78.76 663.9L83.6 658.94L94.1 655.61L96.1 654.56L119.1 635.58L131.1 630.55L140.1 627.44L144.1 623.61L147.34 619.4L150.1 617.14L164.6 617.14L171.86 624.4L175.6 629.14L181.45 633.4L199.1 641.47L207.6 647.06L216.1 649.83L217.6 650.71L219.1 650.9L221.6 654.1L222.28 655.9L222.22 661.9L221.18 667.9L219.35 672.9L214.97 679.9L212.6 683.11L208.6 686.42L196.35 692.9L196.16 697.9L200.18 724.4L194.52 729.9L186.86 741.4L185.03 745.4L180.93 783.9L174.1 785.16L168.6 785.44ZM167.25 775.4L169.6 773.35L171.51 770.9L169.81 768.4L166.6 765.91L163.6 768L161.89 769.9L161.49 770.9L165.1 774.91L166.6 775.8L167.25 775.4Z" fill="#3b66f0" fill-rule="evenodd"/><path d="M168.6 783.41L161.6 782.32L155.52 779.4L154.06 775.9L152.05 766.4L150.11 762.4L146.31 758.4L139.81 754.9L140.96 751.9L141.55 748.9L141.55 745.4L140.96 742.4L139.41 738.9L130.49 724.9L131.59 719.4L131.1 713.4L128.67 707.9L123.9 699.9L123.14 697.4L111.1 694.23L105.1 690.06L95.6 687.53L88.18 680.9L78.49 671.4L78.39 670.9L78.59 665.9L79.06 664.4L84.1 659.16L94.1 656.04L96.1 655.05L108.1 644.94L119.59 635.9L134.6 629.82L139.1 629.1L140.43 628.4L144.72 624.4L148.1 620.03L150.6 618.13L164.1 618.13L171.1 625.03L175.83 630.9L177.6 631.46L182.1 634.36L199.1 642.11L207.1 647.41L213.1 649.39L215.76 651.4L218.6 651.9L220.43 654.4L220.4 655.9L221.71 657.9L221.15 665.4L219.58 670.9L217.55 674.9L213.1 681.56L211.55 682.9L205.86 686.4L194.79 691.9L194.27 694.4L194.3 697.9L198.2 723.4L192.95 728.9L185.29 740.4L183.4 744.4L182.65 747.9L179.2 782.4L173.6 783.3L168.6 783.41ZM167.14 777.9L171.1 774.54L173.89 770.9L173.5 769.9L171.28 767.4L166.6 764.12L164.6 765.11L162.1 767.06L159.87 769.4L159.12 770.9L160.86 773.4L163.6 776.18L166.1 778.05L167.14 777.9Z" fill="#4c94f0" fill-rule="evenodd"/><path d="M178.6 767.21L166.6 761.66L162.6 763.15L154.6 767.17L152.1 762.06L149.69 758.9L146.69 756.4L142.25 753.9L143.13 750.9L143.48 747.9L143.37 744.9L142.75 741.9L141.1 738.11L132.52 724.4L133.48 718.9L132.89 712.9L131.6 709.56L125.72 699.4L124.6 696.43L109.64 692.4L104.73 689.4L96.54 687.4L88.6 680.62L78.9 670.9L79.03 666.4L79.6 664.4L84.1 659.73L94.27 656.4L96.27 655.4L119.66 636.4L130.6 631.85L138.1 630.63L140.6 629.46L145.13 625.4L148.65 620.9L150.6 619.15L163.6 619.12L164.1 619.39L170.55 625.9L175.6 632.35L179.6 633.51L198.6 642.4L206.6 647.72L209.89 648.9L214.1 652.25L217.64 652.9L219.16 654.9L218.84 656.9L221.1 659.76L220.62 665.4L219.05 670.9L217.25 674.4L214.1 679.13L205.1 685.21L192.99 691.4L192.43 694.4L192.43 697.9L196.24 722.4L191.38 727.9L183.72 739.4L181.97 742.9L180.89 746.9L179.65 760.9L178.6 767.21Z" fill="#5bbaf5" fill-rule="evenodd"/><path d="M158.6 759.41L152.6 759.36L149.1 755.85L144.54 752.9L145.18 749.9L145.34 746.4L144.39 740.9L142.84 737.4L135.61 725.4L134.97 703.4L135.89 699.9L137.84 697.4L126.6 695.54L116.1 692.99L107.6 690.32L105.6 689.21L101.12 687.9L95.6 685.54L92.6 683.67L79.39 670.9L79.49 666.4L79.9 664.9L84.6 659.94L96.17 655.9L119.77 636.9L128.1 633.58L139.6 631.93L165.1 631.92L171.1 632.73L178.6 634.65L185.1 636.91L192.03 639.9L202.1 645.4L207.97 649.4L213.1 653.61L217.31 657.9L220.24 661.9L220.1 665.4L218.51 670.9L216.1 675.24L214.4 676.9L208.48 681.4L201.02 685.9L193.1 689.75L183.9 693.4L188.1 694.63L190.35 695.9L194.24 721.9L189.81 726.9L182.47 737.9L180.59 741.4L179.09 746.4L178.35 755.4L177.6 759.3L172.6 759.27L166.6 758.54L158.6 759.41Z" fill="#6be4f8" fill-rule="evenodd"/><path d="M161.1 755.41L151.1 754.87L146.72 751.9L147.2 746.4L146.34 740.9L144.69 736.9L139.46 727.9L139.7 709.4L140.21 705.4L141.1 702.9L143.1 700.35L146.32 698.4L150.6 697.16L156.83 696.4L139.6 696.07L133.6 695.48L122.6 693.37L110.6 689.93L100.6 686.18L91.6 681.92L79.96 670.9L79.94 666.4L80.39 664.9L84.6 660.45L94.6 657.1L96.6 656.08L108.6 646.12L120.86 636.9L130.6 634.51L139.6 633.33L165.6 633.34L170.6 634.04L176.1 635.36L183.1 637.66L190.6 640.82L197.51 644.4L203.6 648.21L209.17 652.4L213.98 656.9L217.26 660.9L219.44 664.9L219.19 667.4L218.1 670.34L216.08 672.9L210.1 678.36L202.61 683.4L194.1 687.85L185.1 691.52L175.6 694.38L170.1 695.67L167.36 695.9L176.1 696.54L181.1 697.35L185.1 698.81L187.86 700.9L189.6 703.9L190.12 706.9L190.54 722.9L180.9 736.9L178.78 740.9L177.37 745.4L176.48 754.4L176.1 755.23L161.1 755.41Z" fill="#76f0db" fill-rule="evenodd"/><path d="M169.1 694.42L165.1 694.83L137.1 694.65L125.6 692.76L112.6 689.2L99.6 684.19L88.6 678.41L80.57 670.9L80.22 669.9L80.69 665.4L85.1 660.65L94.6 657.5L96.78 656.4L117.6 639.66L118.6 639L122.1 637.96L132.1 635.65L140.1 634.71L166.1 634.78L172.1 635.77L179.1 637.73L186.1 640.37L193.1 643.67L199.58 647.4L205.1 651.23L210.1 655.48L214.15 659.9L216.7 663.9L217.46 666.9L215.72 670.4L211.7 674.9L206.12 679.4L199.8 683.4L192.6 687.08L184.6 690.34L176.6 692.84L169.1 694.42ZM174.6 751.58L156.6 751.67L152.1 751.08L149.1 750.02L148.93 744.4L147.97 739.9L146.53 736.4L142.9 729.9L142.99 716.9L143.71 709.4L145.42 704.9L146.72 703.4L148.6 702.1L152.1 700.8L157.6 699.98L166.1 699.7L173.6 699.98L178.1 700.68L181.1 701.7L183.6 703.39L185.12 705.4L186.1 708.04L186.71 711.9L187 724.4L179.1 736.27L177.19 739.9L175.68 744.4L174.6 751.58Z" fill="#81f0b4" fill-rule="evenodd"/><path d="M167.1 693.43L137.1 693.4L126.1 691.58L114.1 688.3L99.6 682.6L93.39 679.4L88.1 676.1L83.96 672.9L81.1 669.98L80.82 666.9L81.1 665.53L85.1 661.14L94.6 657.89L97.1 656.62L116.1 641.37L128.6 637.78L139.6 636.12L166.1 636.17L172.6 637.31L179.6 639.37L189.6 643.53L199.1 648.91L207.1 655.02L212.88 661.4L215.12 665.9L214.59 668.4L210.81 673.4L204.22 678.9L196 683.9L186.14 688.4L176.1 691.68L167.1 693.43ZM170.6 747.4L157.1 747.27L153.6 746.63L151.07 745.4L149.6 738.9L147.02 733.4L147.05 718.4L147.63 713.4L148.72 709.9L150.44 707.4L153.1 705.65L156.1 704.76L160.6 704.24L167.6 704.11L173.1 704.48L176.1 705.15L178.6 706.36L180.24 707.9L181.41 709.9L182.77 715.9L183.07 726.9L175.84 738.4L174.43 741.9L173.1 747.25L170.6 747.4Z" fill="#8ef08f" fill-rule="evenodd"/><path d="M169.1 691.91L165.1 692.34L138.6 692.28L129.1 690.92L118.1 688.17L104.6 683.28L93.15 677.4L88.1 673.9L84.76 670.9L82.5 667.9L82.12 665.9L83.09 663.9L85.47 661.4L95.1 658.08L97.1 657.04L113.6 643.86L123.6 640.49L132.6 638.39L140.1 637.5L165.6 637.53L170.1 638.18L175.6 639.55L182.1 641.79L188.6 644.65L195.1 648.19L200.68 651.9L205.56 655.9L209.37 659.9L212.05 663.9L212.85 666.9L211.02 670.4L207.6 674.16L202.6 678.2L196.77 681.9L190.1 685.31L183.1 688.17L176.04 690.4L169.1 691.91ZM160.1 739.98L157.6 740.24L155.6 739.34L154.09 737.4L153.36 734.9L153.67 730.9L156.54 724.9L157.6 719.86L159.1 718.15L161.41 717.4L167.6 717.28L170.6 717.92L172.18 719.4L173.05 722.4L173.01 731.4L172.37 734.4L170.6 736.11L164.6 737.04L160.1 739.98Z" fill="#9af06e" fill-rule="evenodd"/><path d="M167.1 690.94L138.1 691L128.6 689.54L118.6 686.96L106.1 682.38L95.1 676.68L91.05 673.9L87.6 670.88L85.3 667.9L84.92 665.9L86.19 663.4L88.22 660.9L97.16 657.4L111.1 646.41L118.6 643.54L126.1 641.28L133.6 639.63L139.6 638.91L165.6 638.93L171.1 639.81L177.6 641.64L187.1 645.52L195.78 650.4L203.1 655.95L208.51 661.9L210.5 665.9L210.54 666.9L209.95 668.4L206.47 672.9L200.42 677.9L192.97 682.4L184.16 686.4L175.1 689.36L167.1 690.94ZM158.6 737.05L157.6 737.07L156.6 736.46L155.7 734.4L156.23 731.9L157.1 731.01L158.1 730.73L159.6 731.48L160.44 733.4L160.1 735.63L158.6 737.05Z" fill="#b2f056" fill-rule="evenodd"/><path d="M168.6 689.48L165.1 689.85L139.1 689.82L130.6 688.66L121.1 686.35L108.56 681.9L97.74 676.4L93.36 673.4L90 670.4L88.11 667.9L87.71 665.9L89.39 662.9L92.11 659.9L97.6 657.53L107.1 649.94L116.1 646L125.6 642.88L133.6 641.05L140.1 640.3L165.6 640.32L174.6 642.15L180.6 644.23L186.6 646.89L192.12 649.9L197.37 653.4L202.1 657.34L205.39 660.9L207.64 664.4L208.23 666.9L206.68 669.9L203.52 673.4L199.22 676.9L193.74 680.4L187.6 683.53L181.1 686.18L174.6 688.2L168.6 689.48Z" fill="#ccf243" fill-rule="evenodd"/><path d="M167.1 688.44L138.6 688.54L130.6 687.38L121.6 685.14L109.82 680.9L100.04 675.9L96.1 673.22L92.87 670.4L90.91 667.9L90.51 665.9L92.63 662.4L96.17 658.9L102.1 654.6L109.1 650.7L116.6 647.39L124.6 644.64L132.6 642.65L139.6 641.7L165.6 641.72L170.1 642.42L175.1 643.76L184.1 647.28L192.1 651.67L199.1 656.89L203.77 661.9L205.88 665.9L205.55 667.9L202.62 671.9L197.33 676.4L190.6 680.55L182.6 684.24L174.6 686.91L167.1 688.44Z" fill="#ecf635" fill-rule="evenodd"/><path d="M168.6 686.97L165.1 687.37L139.1 687.33L132.1 686.39L124.1 684.51L112.25 680.4L102.34 675.4L98.1 672.48L95.25 669.9L93.46 667.4L93.31 665.9L94.69 663.4L97.43 660.4L101.09 657.4L105.6 654.43L116.1 649.2L127.6 645.27L134.6 643.7L140.1 643.09L165.1 643.09L172.6 644.47L183.1 648.4L192.67 653.9L196.6 656.92L200.17 660.4L202.6 663.69L203.67 666.4L202.67 668.9L200.21 671.9L196.11 675.4L191.57 678.4L186.1 681.3L180.1 683.82L174.1 685.75L168.6 686.97Z" fill="#f6e930" fill-rule="evenodd"/><path d="M167.1 685.94L139.1 686.08L132.6 685.21L124.91 683.4L114.1 679.65L104.63 674.9L100.95 672.4L98.11 669.9L96.26 667.4L96.1 665.9L97.53 663.4L100.36 660.4L108.07 654.9L118.1 649.99L129.1 646.33L135.1 645.03L140.1 644.48L165.1 644.49L172.6 645.91L182.9 649.9L192.07 655.4L196.1 658.74L199.02 661.9L200.9 664.9L201.3 666.9L199.98 669.4L197.26 672.4L193.53 675.4L188.75 678.4L178.1 683.18L172.41 684.9L167.1 685.94Z" fill="#f2cf30" fill-rule="evenodd"/><path d="M168.6 684.45L165.1 684.88L139.6 684.87L133.6 684.12L127.1 682.67L116.6 679.17L107.6 674.8L103.93 672.4L100.98 669.9L99.06 667.4L98.9 665.9L100.38 663.4L102.75 660.9L109.65 655.9L119.1 651.2L129.6 647.66L135.6 646.36L140.1 645.88L165.1 645.88L171.1 646.94L180.6 650.4L189.37 655.4L193.22 658.4L196.1 661.27L198.04 663.9L199.06 666.4L198.31 668.4L195.86 671.4L192.6 674.19L188.54 676.9L178.6 681.64L168.6 684.45Z" fill="#edb22d" fill-rule="evenodd"/><path d="M167.1 683.44L139.6 683.62L134.1 682.94L127.6 681.47L117.6 678.07L109.23 673.9L103.36 669.4L101.86 667.4L101.7 665.9L102.84 663.9L105.14 661.4L112.1 656.38L121.1 652L131.1 648.73L140.1 647.28L165.1 647.28L171.1 648.37L180.1 651.75L188.07 656.4L194.1 661.75L195.99 664.4L196.75 666.4L195.97 668.4L193.43 671.4L190.1 674.13L186.1 676.69L176.6 681.01L167.1 683.44Z" fill="#e79427" fill-rule="evenodd"/><path d="M168.6 681.93L165.1 682.39L139.6 682.38L130.6 680.92L121.6 678.17L113.26 674.4L106.74 669.9L104.97 667.9L104.36 666.4L105.31 664.4L107.53 661.9L113.65 657.4L122.1 653.2L131.1 650.19L140.1 648.67L165.1 648.68L169.6 649.41L178.1 652.4L185.6 656.58L189.1 659.24L191.82 661.9L193.65 664.4L194.45 666.4L193.64 668.4L191.6 670.82L185.5 675.4L177.26 679.4L168.6 681.93Z" fill="#e27a22" fill-rule="evenodd"/><path d="M167.1 680.93L139.6 681.13L131.1 679.73L122.6 677.09L115.1 673.64L109.64 669.9L107.79 667.9L107.15 666.4L108.15 664.4L109.93 662.4L115.6 658.18L123.6 654.2L132.1 651.39L140.1 650.07L165.1 650.07L169.1 650.72L176.84 653.4L184.05 657.4L189.39 661.9L191.31 664.4L192.14 666.4L191.29 668.4L189.6 670.4L183.57 674.9L175.6 678.65L167.1 680.93Z" fill="#e05c20" fill-rule="evenodd"/><path d="M164.6 679.9L139.6 679.89L131.6 678.55L123.6 676L116.98 672.9L111.98 669.4L110.61 667.9L109.94 666.4L110.99 664.4L113.43 661.9L116.85 659.4L121.32 656.9L131.1 653.13L136.1 651.94L140.1 651.47L165.1 651.47L169.6 652.28L175.6 654.41L181.25 657.4L185.92 660.9L188.97 664.4L189.83 666.4L189.28 667.9L186.62 670.9L183.1 673.5L178.6 675.98L173.6 678.01L168.6 679.4L164.6 679.9Z" fill="#df3e20" fill-rule="evenodd"/><path d="M167.1 678.42L140.1 678.66L133.6 677.72L126.1 675.49L119.6 672.57L114.89 669.4L113.44 667.9L112.73 666.4L113.46 664.9L115.25 662.9L120.07 659.4L126.6 656.21L134.1 653.79L140.1 652.86L165.1 652.86L168.1 653.33L174.6 655.52L180.74 658.9L185.45 662.9L186.93 664.9L187.52 666.4L186.94 667.9L185.25 669.9L180.53 673.4L174.1 676.48L167.1 678.42Z" fill="#d82f20" fill-rule="evenodd"/><path d="M165.1 677.41L140.1 677.41L134.6 676.64L127.6 674.6L121.6 671.9L117.23 668.9L115.9 667.4L115.53 666.4L116.29 664.9L118.19 662.9L124.6 658.78L132.6 655.65L140.1 654.26L165.1 654.26L167.6 654.64L172.6 656.22L177.1 658.41L181.42 661.4L184.26 664.4L185.22 666.4L184.91 667.4L183.33 669.4L180.21 671.9L172.6 675.66L168.6 676.86L165.1 677.41Z" fill="#d02020" fill-rule="evenodd"/><path d="M167.1 675.91L140.1 676.17L136.1 675.67L129.64 673.9L124.1 671.5L120.14 668.9L118.72 667.4L118.32 666.4L119.13 664.9L120.58 663.4L124.6 660.6L130.1 658.02L136.1 656.21L140.1 655.65L166.6 655.85L172.1 657.54L177.1 660.18L181.04 663.4L182.91 666.4L181.41 668.9L177.5 671.9L172.32 674.4L167.1 675.91Z" fill="#b21b1b" fill-rule="evenodd"/><path d="M165.1 674.92L140.1 674.92L136.6 674.49L131.1 672.99L126.22 670.9L122.47 668.4L121.11 666.4L121.99 664.9L123.55 663.4L128.39 660.4L134.6 658.04L140.1 657.05L166.6 657.26L170.6 658.46L174.59 660.4L177.6 662.51L179.88 664.9L180.51 666.9L179.48 668.4L177.1 670.42L171.1 673.49L165.1 674.92Z" fill="#8f1515" fill-rule="evenodd"/><path d="M146.1 673.69L142.6 673.69L136.31 665.4L141.6 661.11L168.1 661.11L170.39 663.4L170.39 664.4L164.6 670.19L164.1 670.19L162.6 671.69L159.6 671.69L159.1 672.19L155.1 672.19L154.6 672.69L150.6 672.69L150.1 673.19L146.6 673.19L146.1 673.69Z" fill="#660d0d" fill-rule="evenodd"/><path d="M171.1 798.55L165.6 798.75L164.6 798.25L158.1 797.25L156.1 796.55L143.25 789.9L139.25 779.9L139.25 778.4L138.75 777.4L137.6 770.55L126.6 765.55L118.95 759.9L124.95 749.9L126.6 747.75L126.75 746.9L118.95 734.4L117.75 734.4L104.6 743.55L100.45 740.4L103.6 737.25L107.95 733.9L110.6 731.25L111.45 730.9L114.1 728.25L116.75 717.4L109.95 705.9L109.1 702.05L105.1 697.36L102.6 694.99L101.6 694.97L101.1 694.49L98.1 694.43L97.6 693.95L94.6 693.84L94.1 693.39L92.6 693.29L83.4 683.4L83.39 682.9L73.35 672.9L73.33 670.9L73.83 670.4L73.81 667.9L74.31 667.4L74.31 664.4L74.81 663.9L74.82 662.4L82.1 655.12L94.1 652.08L101.1 645.6L101.6 645.59L106.1 641.12L106.6 641.12L116.6 631.24L136.1 621.74L138.94 618.9L138.94 618.4L140.94 616.4L140.94 615.9L147.1 610.24L168.1 610.24L170.76 612.9L170.76 613.4L178.26 620.9L178.26 621.4L182.26 625.9L182.26 626.4L185.1 629.24L187.1 629.74L193.6 633.24L194.6 633.24L200.1 636.24L202.1 636.74L203.6 638.24L207.1 640.24L209.6 642.24L212.1 642.24L212.6 642.74L215.1 642.74L215.6 643.24L218.1 643.24L218.6 643.74L221.1 643.74L221.6 644.24L222.6 644.24L229.75 651.9L229.74 653.9L229.24 654.4L229.24 655.9L228.74 656.4L228.73 657.9L228.23 658.4L228.22 659.9L227.74 660.4L227.76 661.9L227.28 662.4L227.29 663.9L226.32 665.9L226.32 667.4L225.82 667.9L225.81 669.4L224.81 671.4L224.27 674.4L217.85 686.4L208.96 695.4L209.46 696.9L209.46 698.9L209.96 699.9L209.96 701.9L210.46 702.9L210.46 704.9L210.96 705.9L210.96 707.9L211.46 708.9L211.46 710.9L211.96 711.9L211.96 714.4L212.46 715.4L212.95 721.4L213.45 722.4L213.45 723.9L215.25 728.4L205.1 737.55L197.45 749.4L197.45 753.4L196.95 754.4L196.95 758.9L196.45 759.9L196.45 763.9L195.95 764.9L195.95 768.9L195.45 769.9L195.45 773.9L194.95 774.9L194.95 778.9L194.45 779.9L193.95 787.9L190.25 795.4L189.6 796.05L187.1 796.25L186.1 796.75L184.1 796.75L183.1 797.25L181.1 797.25L180.1 797.75L177.6 797.75L176.6 798.25L171.6 798.25L171.1 798.55ZM266.1 681.76L261.74 677.9L259.74 673.9L258.24 671.9L257.74 663.9L257.24 663.4L257.24 662.4L257.74 661.9L257.74 658.4L258.24 657.9L258.24 654.9L261.24 648.9L266.1 644.04L266.46 644.4L266.46 681.4L266.1 681.76Z" fill="none" stroke="#000" stroke-width="0.3" stroke-opacity="0.55"/><path d="M171.1 796.44L170.1 796.89L166.1 796.89L158.6 795.39L145.1 788.89L141.11 779.4L139.1 769.39L134.1 766.6L127.6 763.89L121.61 759.4L128.39 748.4L128.61 746.9L128.39 745.9L126.61 742.9L120.11 732.9L118.6 732.39L117.1 732.61L106.09 740.4L104.6 741.11L103.61 740.4L103.61 739.9L104.6 738.91L112.61 732.4L115.61 729.4L118.55 718.9L118.39 716.4L111.6 704.9L110.89 701.4L110.09 700.4L103.1 694.07L93.1 692L74.03 672.4L75.42 662.9L82.1 656.04L84.1 655.2L93.1 653.08L94.53 652.4L106.1 642.04L107.1 641.55L116.82 632.4L136.95 622.4L139.6 619.75L142.1 616.25L145.45 612.9L148.1 611.23L167.6 611.3L177.1 621.25L181.6 627.26L184.24 629.9L201.6 637.8L209.1 643.14L222.1 645.31L225.1 648.29L225.6 649.3L228.6 652.33L228.72 652.9L227.26 657.9L225.52 666.9L223.37 673.9L216.6 685.66L210.15 691.4L207.63 693.9L207.17 694.9L209.65 711.4L210.1 712.4L211.15 721.9L211.81 724.9L213.09 727.9L203.6 736.39L195.81 748.4L192.09 787.4L188.6 794.39L180.6 795.45L179.6 795.89L177.1 795.94L176.1 796.39L171.1 796.44ZM265.6 680.73L262.27 677.9L258.77 671.9L258.67 668.4L258.17 667.4L258.17 663.9L257.67 662.9L258.17 661.9L258.17 658.9L258.67 657.9L258.77 654.9L261.77 648.9L265.6 645.07L266.03 645.9L266.03 679.9L265.6 680.73Z" fill="none" stroke="#000" stroke-width="0.3" stroke-opacity="0.55"/><path d="M169.6 795.01L166.6 795.01L159.1 793.51L146.6 787.52L142.99 778.9L141.35 769.9L140.6 768.29L139.1 767.02L128.6 762.15L124.2 758.9L129.98 749.4L130.44 747.9L130.35 745.9L121.77 731.9L120.1 730.8L117.24 730.4L120.35 719.4L120.44 716.9L118.98 713.4L113.6 704.28L112.68 700.9L103.6 693.36L93.6 691.15L74.67 671.9L76.09 662.9L82.57 656.4L94.67 652.9L117.56 632.9L137.6 623.15L140.35 620.4L143.1 616.65L148.1 612.21L167.1 612.21L176.1 621.65L180.84 627.9L183.95 630.9L201.1 638.7L208.6 643.93L221.6 646.24L227.7 652.9L226.19 657.9L225.62 662.9L224.31 668.4L222.17 674.4L215.85 684.9L206.34 692.9L205.4 694.4L205.3 696.4L208.22 712.9L209.26 721.9L210.75 727.4L202.1 735.3L194 747.9L190.21 786.9L187.6 792.17L187.1 792.53L175.6 794.51L171.1 794.56L169.6 795.01ZM265.1 679.45L263.05 677.9L259.19 671.4L258.68 663.9L258.19 662.9L258.68 661.9L259.19 655.4L262.19 649.4L265.1 646.35L265.52 647.4L265.52 678.4L265.1 679.45Z" fill="none" stroke="#000" stroke-width="0.3" stroke-opacity="0.55"/><path d="M169.6 793L167.1 793.16L158.6 791.35L148.1 786.2L144.83 778.4L143.15 769.4L142.1 767.19L140.1 765.44L129.38 760.4L126.55 758.4L131.8 749.9L132.31 747.9L132.14 745.4L130.05 741.4L123.6 731.2L122.3 729.9L119.81 728.4L122.24 719.4L122.24 716.4L120.55 712.4L115.25 703.4L114.71 701.4L104.1 692.78L101.6 691.91L96.1 691.01L93.6 690.08L75.29 671.9L76.6 663.31L82.6 657.12L93.6 653.95L95.1 653.17L117.6 633.73L128.6 628.82L138.1 624.02L141.1 621.05L144.1 617.05L148.6 613.2L166.6 613.2L175.1 622.05L180.1 628.55L183.1 631.47L200.6 639.42L208.6 644.77L221.1 647.21L226.27 652.9L224.13 666.4L221.88 673.4L215.1 684.41L205.5 692.4L203.46 694.9L207.46 722.4L208.4 726.4L208.3 726.9L205.1 730.1L200.6 734.2L193.45 744.9L192.2 747.4L188.37 786.4L186.1 790.73L175.1 792.67L169.6 793ZM264.6 678.27L263.45 677.4L259.95 671.4L258.95 662.9L259.95 655.4L262.95 649.4L264.6 647.75L264.91 648.4L264.91 677.9L264.6 678.27ZM166.86 770.9L166.76 770.4L166.33 770.4L166.15 770.9L166.86 770.9Z" fill="none" stroke="#000" stroke-width="0.3" stroke-opacity="0.55"/><path d="M170.1 790.94L167.6 791.29L159.1 789.56L149.6 784.86L146.68 777.9L144.95 768.9L143.46 765.9L141.1 763.87L130.1 758.68L129.13 757.9L133.61 750.4L134.17 747.9L134.05 745.4L133.13 742.9L127.32 733.4L124.6 729.48L122.05 727.4L124.04 719.9L124.04 715.9L122.38 711.9L117.61 703.9L116.6 701.4L104.6 692.29L102.1 691.35L96.1 690.29L94.1 689.55L76.02 671.9L76.57 665.4L77.11 663.4L83.06 657.4L93.6 654.43L95.1 653.71L118.1 634.18L131.55 628.4L138.6 624.88L141.66 621.9L144.66 617.9L147.1 615.46L149.1 614.19L166.52 614.4L168.04 616.4L174.54 622.9L179.54 629.4L182.6 631.99L200.1 639.97L208.31 645.4L214.6 647.13L220.6 648.14L225.26 653.4L224.59 655.9L224.39 660.4L223.39 666.4L221.71 671.9L220.28 674.9L214.1 684.36L201.61 694.9L201.71 697.4L206.27 725.9L206.17 726.4L199.1 733.09L191.88 743.9L190.41 746.9L186.51 785.9L184.6 789.21L174.6 790.81L170.1 790.94ZM264.1 676.97L260.55 670.9L259.84 662.9L260.55 655.9L264.1 649.33L264.1 676.97ZM166.87 771.9L167.83 770.9L166.6 769.33L165.6 770L165.17 770.9L166.1 771.89L166.87 771.9Z" fill="none" stroke="#000" stroke-width="0.3" stroke-opacity="0.55"/><path d="M168.1 789.42L159.6 787.75L151.1 783.53L148.51 777.4L146.75 768.4L145.1 764.98L142.1 762.3L131.83 757.4L135.58 750.4L136.05 747.4L135.73 744.4L134.7 741.9L128.89 732.4L126.53 728.9L124.23 726.4L125.93 719.9L125.84 715.4L123.96 710.9L119.18 702.9L118.3 700.4L114.6 699.1L104.6 691.6L94.6 689.06L77.8 672.9L76.73 671.4L77.08 665.9L77.61 663.9L83.1 658.09L93.6 654.88L95.6 653.9L118.6 634.6L134.79 627.9L139.1 625.73L142.54 622.4L145.6 618.34L147.6 616.34L149.6 615.17L166.1 615.34L167.16 616.9L173.65 623.4L178.65 629.9L182.1 632.44L199.6 640.43L208.1 646.01L215.1 648.17L220.1 649.08L224.13 653.9L223.7 655.4L223.48 662.4L222.39 667.9L220.66 672.9L218.65 676.4L213.58 683.9L203.1 692.46L200.01 693.9L199.81 694.4L199.83 697.4L204.27 725.4L197.67 731.9L190.1 743.24L188.62 746.4L184.49 785.9L183.6 787.47L174.6 788.91L168.1 789.42ZM263.1 673.01L261.57 670.4L260.93 662.9L261.57 656.4L263.1 653.29L263.1 673.01ZM166.9 772.9L168.83 770.9L168.37 769.9L166.6 768.37L165.1 769.4L164.17 770.9L166.1 772.91L166.9 772.9Z" fill="none" stroke="#000" stroke-width="0.3" stroke-opacity="0.55"/><path d="M168.6 787.41L160.6 786.08L152.6 782.19L150.34 776.9L148.41 767.4L146.61 763.9L143.1 760.73L134.29 756.4L136.55 752.9L137.52 750.4L137.91 746.9L137.52 743.9L136.27 740.9L130.6 731.63L126.37 725.9L127.86 719.4L127.51 714.4L125.54 709.9L120.75 701.9L119.95 699.4L113.6 697.55L104.6 690.97L95.1 688.6L87.2 681.4L77.3 671.4L77.59 665.9L78.13 663.9L83.48 658.4L94.1 655.17L95.61 654.4L118.6 635.26L139.6 626.59L143.1 623.25L148.1 617.24L150.1 616.16L165.6 616.38L172.75 623.9L177.59 629.9L181.71 632.9L199.6 641.12L207.6 646.44L217.6 649.71L219.6 649.99L222.88 653.9L222.81 662.4L221.79 667.9L219.99 672.9L217.31 677.4L213.17 683.4L210.6 685.6L205.1 689.93L198.12 693.4L197.97 697.4L202.33 724.9L196.09 730.9L188.6 742.13L186.82 745.9L182.65 785.4L177.6 786.59L168.6 787.41ZM167.17 773.9L169.99 770.9L169.1 769.35L166.6 767.26L164.32 768.9L163.01 770.9L166.1 774.1L166.6 774.27L167.17 773.9Z" fill="none" stroke="#000" stroke-width="0.3" stroke-opacity="0.55"/><path d="M168.6 785.44L161.1 784.23L154.1 780.84L152.18 776.4L150.22 766.9L148.54 763.4L146.6 761.07L144.6 759.47L137.31 755.9L137.18 755.4L138.82 752.4L139.62 749.4L139.76 746.4L139.31 743.4L138.38 740.9L136.34 737.4L128.46 725.4L129.73 719.4L129.3 713.9L127.11 708.9L122.32 700.9L121.58 698.4L112.6 696.01L104.6 690.4L95.6 688.16L91.66 684.9L77.85 671.4L78.09 665.9L78.76 663.9L83.6 658.94L94.1 655.61L96.1 654.56L119.1 635.58L131.1 630.55L140.1 627.44L144.1 623.61L147.34 619.4L150.1 617.14L164.6 617.14L171.86 624.4L175.6 629.14L181.45 633.4L199.1 641.47L207.6 647.06L216.1 649.83L217.6 650.71L219.1 650.9L221.6 654.1L222.28 655.9L222.22 661.9L221.18 667.9L219.35 672.9L214.97 679.9L212.6 683.11L208.6 686.42L196.35 692.9L196.16 697.9L200.18 724.4L194.52 729.9L186.86 741.4L185.03 745.4L180.93 783.9L174.1 785.16L168.6 785.44ZM167.25 775.4L169.6 773.35L171.51 770.9L169.81 768.4L166.6 765.91L163.6 768L161.89 769.9L161.49 770.9L165.1 774.91L166.6 775.8L167.25 775.4Z" fill="none" stroke="#000" stroke-width="0.3" stroke-opacity="0.55"/><path d="M168.6 783.41L161.6 782.32L155.52 779.4L154.06 775.9L152.05 766.4L150.11 762.4L146.31 758.4L139.81 754.9L140.96 751.9L141.55 748.9L141.55 745.4L140.96 742.4L139.41 738.9L130.49 724.9L131.59 719.4L131.1 713.4L128.67 707.9L123.9 699.9L123.14 697.4L111.1 694.23L105.1 690.06L95.6 687.53L88.18 680.9L78.49 671.4L78.39 670.9L78.59 665.9L79.06 664.4L84.1 659.16L94.1 656.04L96.1 655.05L108.1 644.94L119.59 635.9L134.6 629.82L139.1 629.1L140.43 628.4L144.72 624.4L148.1 620.03L150.6 618.13L164.1 618.13L171.1 625.03L175.83 630.9L177.6 631.46L182.1 634.36L199.1 642.11L207.1 647.41L213.1 649.39L215.76 651.4L218.6 651.9L220.43 654.4L220.4 655.9L221.71 657.9L221.15 665.4L219.58 670.9L217.55 674.9L213.1 681.56L211.55 682.9L205.86 686.4L194.79 691.9L194.27 694.4L194.3 697.9L198.2 723.4L192.95 728.9L185.29 740.4L183.4 744.4L182.65 747.9L179.2 782.4L173.6 783.3L168.6 783.41ZM167.14 777.9L171.1 774.54L173.89 770.9L173.5 769.9L171.28 767.4L166.6 764.12L164.6 765.11L162.1 767.06L159.87 769.4L159.12 770.9L160.86 773.4L163.6 776.18L166.1 778.05L167.14 777.9Z" fill="none" stroke="#000" stroke-width="0.3" stroke-opacity="0.55"/><path d="M178.6 767.21L166.6 761.66L162.6 763.15L154.6 767.17L152.1 762.06L149.69 758.9L146.69 756.4L142.25 753.9L143.13 750.9L143.48 747.9L143.37 744.9L142.75 741.9L141.1 738.11L132.52 724.4L133.48 718.9L132.89 712.9L131.6 709.56L125.72 699.4L124.6 696.43L109.64 692.4L104.73 689.4L96.54 687.4L88.6 680.62L78.9 670.9L79.03 666.4L79.6 664.4L84.1 659.73L94.27 656.4L96.27 655.4L119.66 636.4L130.6 631.85L138.1 630.63L140.6 629.46L145.13 625.4L148.65 620.9L150.6 619.15L163.6 619.12L164.1 619.39L170.55 625.9L175.6 632.35L179.6 633.51L198.6 642.4L206.6 647.72L209.89 648.9L214.1 652.25L217.64 652.9L219.16 654.9L218.84 656.9L221.1 659.76L220.62 665.4L219.05 670.9L217.25 674.4L214.1 679.13L205.1 685.21L192.99 691.4L192.43 694.4L192.43 697.9L196.24 722.4L191.38 727.9L183.72 739.4L181.97 742.9L180.89 746.9L179.65 760.9L178.6 767.21Z" fill="none" stroke="#000" stroke-width="0.3" stroke-opacity="0.55"/><path d="M158.6 759.41L152.6 759.36L149.1 755.85L144.54 752.9L145.18 749.9L145.34 746.4L144.39 740.9L142.84 737.4L135.61 725.4L134.97 703.4L135.89 699.9L137.84 697.4L126.6 695.54L116.1 692.99L107.6 690.32L105.6 689.21L101.12 687.9L95.6 685.54L92.6 683.67L79.39 670.9L79.49 666.4L79.9 664.9L84.6 659.94L96.17 655.9L119.77 636.9L128.1 633.58L139.6 631.93L165.1 631.92L171.1 632.73L178.6 634.65L185.1 636.91L192.03 639.9L202.1 645.4L207.97 649.4L213.1 653.61L217.31 657.9L220.24 661.9L220.1 665.4L218.51 670.9L216.1 675.24L214.4 676.9L208.48 681.4L201.02 685.9L193.1 689.75L183.9 693.4L188.1 694.63L190.35 695.9L194.24 721.9L189.81 726.9L182.47 737.9L180.59 741.4L179.09 746.4L178.35 755.4L177.6 759.3L172.6 759.27L166.6 758.54L158.6 759.41Z" fill="none" stroke="#000" stroke-width="0.3" stroke-opacity="0.55"/><path d="M161.1 755.41L151.1 754.87L146.72 751.9L147.2 746.4L146.34 740.9L144.69 736.9L139.46 727.9L139.7 709.4L140.21 705.4L141.1 702.9L143.1 700.35L146.32 698.4L150.6 697.16L156.83 696.4L139.6 696.07L133.6 695.48L122.6 693.37L110.6 689.93L100.6 686.18L91.6 681.92L79.96 670.9L79.94 666.4L80.39 664.9L84.6 660.45L94.6 657.1L96.6 656.08L108.6 646.12L120.86 636.9L130.6 634.51L139.6 633.33L165.6 633.34L170.6 634.04L176.1 635.36L183.1 637.66L190.6 640.82L197.51 644.4L203.6 648.21L209.17 652.4L213.98 656.9L217.26 660.9L219.44 664.9L219.19 667.4L218.1 670.34L216.08 672.9L210.1 678.36L202.61 683.4L194.1 687.85L185.1 691.52L175.6 694.38L170.1 695.67L167.36 695.9L176.1 696.54L181.1 697.35L185.1 698.81L187.86 700.9L189.6 703.9L190.12 706.9L190.54 722.9L180.9 736.9L178.78 740.9L177.37 745.4L176.48 754.4L176.1 755.23L161.1 755.41Z" fill="none" stroke="#000" stroke-width="0.3" stroke-opacity="0.55"/><path d="M169.1 694.42L165.1 694.83L137.1 694.65L125.6 692.76L112.6 689.2L99.6 684.19L88.6 678.41L80.57 670.9L80.22 669.9L80.69 665.4L85.1 660.65L94.6 657.5L96.78 656.4L117.6 639.66L118.6 639L122.1 637.96L132.1 635.65L140.1 634.71L166.1 634.78L172.1 635.77L179.1 637.73L186.1 640.37L193.1 643.67L199.58 647.4L205.1 651.23L210.1 655.48L214.15 659.9L216.7 663.9L217.46 666.9L215.72 670.4L211.7 674.9L206.12 679.4L199.8 683.4L192.6 687.08L184.6 690.34L176.6 692.84L169.1 694.42ZM174.6 751.58L156.6 751.67L152.1 751.08L149.1 750.02L148.93 744.4L147.97 739.9L146.53 736.4L142.9 729.9L142.99 716.9L143.71 709.4L145.42 704.9L146.72 703.4L148.6 702.1L152.1 700.8L157.6 699.98L166.1 699.7L173.6 699.98L178.1 700.68L181.1 701.7L183.6 703.39L185.12 705.4L186.1 708.04L186.71 711.9L187 724.4L179.1 736.27L177.19 739.9L175.68 744.4L174.6 751.58Z" fill="none" stroke="#000" stroke-width="0.3" stroke-opacity="0.55"/><path d="M167.1 693.43L137.1 693.4L126.1 691.58L114.1 688.3L99.6 682.6L93.39 679.4L88.1 676.1L83.96 672.9L81.1 669.98L80.82 666.9L81.1 665.53L85.1 661.14L94.6 657.89L97.1 656.62L116.1 641.37L128.6 637.78L139.6 636.12L166.1 636.17L172.6 637.31L179.6 639.37L189.6 643.53L199.1 648.91L207.1 655.02L212.88 661.4L215.12 665.9L214.59 668.4L210.81 673.4L204.22 678.9L196 683.9L186.14 688.4L176.1 691.68L167.1 693.43ZM170.6 747.4L157.1 747.27L153.6 746.63L151.07 745.4L149.6 738.9L147.02 733.4L147.05 718.4L147.63 713.4L148.72 709.9L150.44 707.4L153.1 705.65L156.1 704.76L160.6 704.24L167.6 704.11L173.1 704.48L176.1 705.15L178.6 706.36L180.24 707.9L181.41 709.9L182.77 715.9L183.07 726.9L175.84 738.4L174.43 741.9L173.1 747.25L170.6 747.4Z" fill="none" stroke="#000" stroke-width="0.3" stroke-opacity="0.55"/><path d="M169.1 691.91L165.1 692.34L138.6 692.28L129.1 690.92L118.1 688.17L104.6 683.28L93.15 677.4L88.1 673.9L84.76 670.9L82.5 667.9L82.12 665.9L83.09 663.9L85.47 661.4L95.1 658.08L97.1 657.04L113.6 643.86L123.6 640.49L132.6 638.39L140.1 637.5L165.6 637.53L170.1 638.18L175.6 639.55L182.1 641.79L188.6 644.65L195.1 648.19L200.68 651.9L205.56 655.9L209.37 659.9L212.05 663.9L212.85 666.9L211.02 670.4L207.6 674.16L202.6 678.2L196.77 681.9L190.1 685.31L183.1 688.17L176.04 690.4L169.1 691.91ZM160.1 739.98L157.6 740.24L155.6 739.34L154.09 737.4L153.36 734.9L153.67 730.9L156.54 724.9L157.6 719.86L159.1 718.15L161.41 717.4L167.6 717.28L170.6 717.92L172.18 719.4L173.05 722.4L173.01 731.4L172.37 734.4L170.6 736.11L164.6 737.04L160.1 739.98Z" fill="none" stroke="#000" stroke-width="0.3" stroke-opacity="0.55"/><path d="M167.1 690.94L138.1 691L128.6 689.54L118.6 686.96L106.1 682.38L95.1 676.68L91.05 673.9L87.6 670.88L85.3 667.9L84.92 665.9L86.19 663.4L88.22 660.9L97.16 657.4L111.1 646.41L118.6 643.54L126.1 641.28L133.6 639.63L139.6 638.91L165.6 638.93L171.1 639.81L177.6 641.64L187.1 645.52L195.78 650.4L203.1 655.95L208.51 661.9L210.5 665.9L210.54 666.9L209.95 668.4L206.47 672.9L200.42 677.9L192.97 682.4L184.16 686.4L175.1 689.36L167.1 690.94ZM158.6 737.05L157.6 737.07L156.6 736.46L155.7 734.4L156.23 731.9L157.1 731.01L158.1 730.73L159.6 731.48L160.44 733.4L160.1 735.63L158.6 737.05Z" fill="none" stroke="#000" stroke-width="0.3" stroke-opacity="0.55"/><path d="M168.6 689.48L165.1 689.85L139.1 689.82L130.6 688.66L121.1 686.35L108.56 681.9L97.74 676.4L93.36 673.4L90 670.4L88.11 667.9L87.71 665.9L89.39 662.9L92.11 659.9L97.6 657.53L107.1 649.94L116.1 646L125.6 642.88L133.6 641.05L140.1 640.3L165.6 640.32L174.6 642.15L180.6 644.23L186.6 646.89L192.12 649.9L197.37 653.4L202.1 657.34L205.39 660.9L207.64 664.4L208.23 666.9L206.68 669.9L203.52 673.4L199.22 676.9L193.74 680.4L187.6 683.53L181.1 686.18L174.6 688.2L168.6 689.48Z" fill="none" stroke="#000" stroke-width="0.3" stroke-opacity="0.55"/><path d="M167.1 688.44L138.6 688.54L130.6 687.38L121.6 685.14L109.82 680.9L100.04 675.9L96.1 673.22L92.87 670.4L90.91 667.9L90.51 665.9L92.63 662.4L96.17 658.9L102.1 654.6L109.1 650.7L116.6 647.39L124.6 644.64L132.6 642.65L139.6 641.7L165.6 641.72L170.1 642.42L175.1 643.76L184.1 647.28L192.1 651.67L199.1 656.89L203.77 661.9L205.88 665.9L205.55 667.9L202.62 671.9L197.33 676.4L190.6 680.55L182.6 684.24L174.6 686.91L167.1 688.44Z" fill="none" stroke="#000" stroke-width="0.3" stroke-opacity="0.55"/><path d="M168.6 686.97L165.1 687.37L139.1 687.33L132.1 686.39L124.1 684.51L112.25 680.4L102.34 675.4L98.1 672.48L95.25 669.9L93.46 667.4L93.31 665.9L94.69 663.4L97.43 660.4L101.09 657.4L105.6 654.43L116.1 649.2L127.6 645.27L134.6 643.7L140.1 643.09L165.1 643.09L172.6 644.47L183.1 648.4L192.67 653.9L196.6 656.92L200.17 660.4L202.6 663.69L203.67 666.4L202.67 668.9L200.21 671.9L196.11 675.4L191.57 678.4L186.1 681.3L180.1 683.82L174.1 685.75L168.6 686.97Z" fill="none" stroke="#000" stroke-width="0.3" stroke-opacity="0.55"/><path d="M167.1 685.94L139.1 686.08L132.6 685.21L124.91 683.4L114.1 679.65L104.63 674.9L100.95 672.4L98.11 669.9L96.26 667.4L96.1 665.9L97.53 663.4L100.36 660.4L108.07 654.9L118.1 649.99L129.1 646.33L135.1 645.03L140.1 644.48L165.1 644.49L172.6 645.91L182.9 649.9L192.07 655.4L196.1 658.74L199.02 661.9L200.9 664.9L201.3 666.9L199.98 669.4L197.26 672.4L193.53 675.4L188.75 678.4L178.1 683.18L172.41 684.9L167.1 685.94Z" fill="none" stroke="#000" stroke-width="0.3" stroke-opacity="0.55"/><path d="M168.6 684.45L165.1 684.88L139.6 684.87L133.6 684.12L127.1 682.67L116.6 679.17L107.6 674.8L103.93 672.4L100.98 669.9L99.06 667.4L98.9 665.9L100.38 663.4L102.75 660.9L109.65 655.9L119.1 651.2L129.6 647.66L135.6 646.36L140.1 645.88L165.1 645.88L171.1 646.94L180.6 650.4L189.37 655.4L193.22 658.4L196.1 661.27L198.04 663.9L199.06 666.4L198.31 668.4L195.86 671.4L192.6 674.19L188.54 676.9L178.6 681.64L168.6 684.45Z" fill="none" stroke="#000" stroke-width="0.3" stroke-opacity="0.55"/><path d="M167.1 683.44L139.6 683.62L134.1 682.94L127.6 681.47L117.6 678.07L109.23 673.9L103.36 669.4L101.86 667.4L101.7 665.9L102.84 663.9L105.14 661.4L112.1 656.38L121.1 652L131.1 648.73L140.1 647.28L165.1 647.28L171.1 648.37L180.1 651.75L188.07 656.4L194.1 661.75L195.99 664.4L196.75 666.4L195.97 668.4L193.43 671.4L190.1 674.13L186.1 676.69L176.6 681.01L167.1 683.44Z" fill="none" stroke="#000" stroke-width="0.3" stroke-opacity="0.55"/><path d="M168.6 681.93L165.1 682.39L139.6 682.38L130.6 680.92L121.6 678.17L113.26 674.4L106.74 669.9L104.97 667.9L104.36 666.4L105.31 664.4L107.53 661.9L113.65 657.4L122.1 653.2L131.1 650.19L140.1 648.67L165.1 648.68L169.6 649.41L178.1 652.4L185.6 656.58L189.1 659.24L191.82 661.9L193.65 664.4L194.45 666.4L193.64 668.4L191.6 670.82L185.5 675.4L177.26 679.4L168.6 681.93Z" fill="none" stroke="#000" stroke-width="0.3" stroke-opacity="0.55"/><path d="M167.1 680.93L139.6 681.13L131.1 679.73L122.6 677.09L115.1 673.64L109.64 669.9L107.79 667.9L107.15 666.4L108.15 664.4L109.93 662.4L115.6 658.18L123.6 654.2L132.1 651.39L140.1 650.07L165.1 650.07L169.1 650.72L176.84 653.4L184.05 657.4L189.39 661.9L191.31 664.4L192.14 666.4L191.29 668.4L189.6 670.4L183.57 674.9L175.6 678.65L167.1 680.93Z" fill="none" stroke="#000" stroke-width="0.3" stroke-opacity="0.55"/><path d="M164.6 679.9L139.6 679.89L131.6 678.55L123.6 676L116.98 672.9L111.98 669.4L110.61 667.9L109.94 666.4L110.99 664.4L113.43 661.9L116.85 659.4L121.32 656.9L131.1 653.13L136.1 651.94L140.1 651.47L165.1 651.47L169.6 652.28L175.6 654.41L181.25 657.4L185.92 660.9L188.97 664.4L189.83 666.4L189.28 667.9L186.62 670.9L183.1 673.5L178.6 675.98L173.6 678.01L168.6 679.4L164.6 679.9Z" fill="none" stroke="#000" stroke-width="0.3" stroke-opacity="0.55"/><path d="M167.1 678.42L140.1 678.66L133.6 677.72L126.1 675.49L119.6 672.57L114.89 669.4L113.44 667.9L112.73 666.4L113.46 664.9L115.25 662.9L120.07 659.4L126.6 656.21L134.1 653.79L140.1 652.86L165.1 652.86L168.1 653.33L174.6 655.52L180.74 658.9L185.45 662.9L186.93 664.9L187.52 666.4L186.94 667.9L185.25 669.9L180.53 673.4L174.1 676.48L167.1 678.42Z" fill="none" stroke="#000" stroke-width="0.3" stroke-opacity="0.55"/><path d="M165.1 677.41L140.1 677.41L134.6 676.64L127.6 674.6L121.6 671.9L117.23 668.9L115.9 667.4L115.53 666.4L116.29 664.9L118.19 662.9L124.6 658.78L132.6 655.65L140.1 654.26L165.1 654.26L167.6 654.64L172.6 656.22L177.1 658.41L181.42 661.4L184.26 664.4L185.22 666.4L184.91 667.4L183.33 669.4L180.21 671.9L172.6 675.66L168.6 676.86L165.1 677.41Z" fill="none" stroke="#000" stroke-width="0.3" stroke-opacity="0.55"/><path d="M167.1 675.91L140.1 676.17L136.1 675.67L129.64 673.9L124.1 671.5L120.14 668.9L118.72 667.4L118.32 666.4L119.13 664.9L120.58 663.4L124.6 660.6L130.1 658.02L136.1 656.21L140.1 655.65L166.6 655.85L172.1 657.54L177.1 660.18L181.04 663.4L182.91 666.4L181.41 668.9L177.5 671.9L172.32 674.4L167.1 675.91Z" fill="none" stroke="#000" stroke-width="0.3" stroke-opacity="0.55"/><path d="M165.1 674.92L140.1 674.92L136.6 674.49L131.1 672.99L126.22 670.9L122.47 668.4L121.11 666.4L121.99 664.9L123.55 663.4L128.39 660.4L134.6 658.04L140.1 657.05L166.6 657.26L170.6 658.46L174.59 660.4L177.6 662.51L179.88 664.9L180.51 666.9L179.48 668.4L177.1 670.42L171.1 673.49L165.1 674.92Z" fill="none" stroke="#000" stroke-width="0.3" stroke-opacity="0.55"/><path d="M146.1 673.69L142.6 673.69L136.31 665.4L141.6 661.11L168.1 661.11L170.39 663.4L170.39 664.4L164.6 670.19L164.1 670.19L162.6 671.69L159.6 671.69L159.1 672.19L155.1 672.19L154.6 672.69L150.6 672.69L150.1 673.19L146.6 673.19L146.1 673.69Z" fill="none" stroke="#000" stroke-width="0.3" stroke-opacity="0.55"/></g>
<rect x="59.6" y="608.4" width="206.6" height="205.6" fill="none" stroke="#c8c8c8" stroke-width="1" />
<line x1="59.6" y1="814" x2="59.6" y2="811.8" stroke="#666" stroke-width="0.8" />
<line x1="59.6" y1="608.4" x2="59.6" y2="610.6" stroke="#666" stroke-width="0.8" />
<text x="59.6" y="825.2" font-family='"Liberation Sans", sans-serif' font-size="6.9" font-weight="bold" text-anchor="middle" fill="#111" >-79100</text>
<line x1="100.92" y1="814" x2="100.92" y2="811.8" stroke="#666" stroke-width="0.8" />
<line x1="100.92" y1="608.4" x2="100.92" y2="610.6" stroke="#666" stroke-width="0.8" />
<text x="100.92" y="825.2" font-family='"Liberation Sans", sans-serif' font-size="6.9" font-weight="bold" text-anchor="middle" fill="#111" >-79000</text>
<line x1="142.24" y1="814" x2="142.24" y2="811.8" stroke="#666" stroke-width="0.8" />
<line x1="142.24" y1="608.4" x2="142.24" y2="610.6" stroke="#666" stroke-width="0.8" />
<text x="142.24" y="825.2" font-family='"Liberation Sans", sans-serif' font-size="6.9" font-weight="bold" text-anchor="middle" fill="#111" >-78900</text>
<line x1="183.56" y1="814" x2="183.56" y2="811.8" stroke="#666" stroke-width="0.8" />
<line x1="183.56" y1="608.4" x2="183.56" y2="610.6" stroke="#666" stroke-width="0.8" />
<text x="183.56" y="825.2" font-family='"Liberation Sans", sans-serif' font-size="6.9" font-weight="bold" text-anchor="middle" fill="#111" >-78800</text>
<line x1="224.88" y1="814" x2="224.88" y2="811.8" stroke="#666" stroke-width="0.8" />
<line x1="224.88" y1="608.4" x2="224.88" y2="610.6" stroke="#666" stroke-width="0.8" />
<text x="224.88" y="825.2" font-family='"Liberation Sans", sans-serif' font-size="6.9" font-weight="bold" text-anchor="middle" fill="#111" >-78700</text>
<line x1="266.2" y1="814" x2="266.2" y2="811.8" stroke="#666" stroke-width="0.8" />
<line x1="266.2" y1="608.4" x2="266.2" y2="610.6" stroke="#666" stroke-width="0.8" />
<text x="266.2" y="825.2" font-family='"Liberation Sans", sans-serif' font-size="6.9" font-weight="bold" text-anchor="middle" fill="#111" >-78600</text>
<line x1="59.6" y1="814" x2="62.1" y2="814" stroke="#666" stroke-width="0.8" />
<line x1="266.2" y1="814" x2="263.7" y2="814" stroke="#666" stroke-width="0.8" />
<text x="55.3" y="816.5" font-family='"Liberation Sans", sans-serif' font-size="6.9" font-weight="bold" text-anchor="end" fill="#111" >0</text>
<line x1="59.6" y1="791.16" x2="62.1" y2="791.16" stroke="#666" stroke-width="0.8" />
<line x1="266.2" y1="791.16" x2="263.7" y2="791.16" stroke="#666" stroke-width="0.8" />
<text x="55.3" y="793.66" font-family='"Liberation Sans", sans-serif' font-size="6.9" font-weight="bold" text-anchor="end" fill="#111" >2</text>
<line x1="59.6" y1="768.31" x2="62.1" y2="768.31" stroke="#666" stroke-width="0.8" />
<line x1="266.2" y1="768.31" x2="263.7" y2="768.31" stroke="#666" stroke-width="0.8" />
<text x="55.3" y="770.81" font-family='"Liberation Sans", sans-serif' font-size="6.9" font-weight="bold" text-anchor="end" fill="#111" >4</text>
<line x1="59.6" y1="745.47" x2="62.1" y2="745.47" stroke="#666" stroke-width="0.8" />
<line x1="266.2" y1="745.47" x2="263.7" y2="745.47" stroke="#666" stroke-width="0.8" />
<text x="55.3" y="747.97" font-family='"Liberation Sans", sans-serif' font-size="6.9" font-weight="bold" text-anchor="end" fill="#111" >6</text>
<line x1="59.6" y1="722.62" x2="62.1" y2="722.62" stroke="#666" stroke-width="0.8" />
<line x1="266.2" y1="722.62" x2="263.7" y2="722.62" stroke="#666" stroke-width="0.8" />
<text x="55.3" y="725.12" font-family='"Liberation Sans", sans-serif' font-size="6.9" font-weight="bold" text-anchor="end" fill="#111" >8</text>
<line x1="59.6" y1="699.78" x2="62.1" y2="699.78" stroke="#666" stroke-width="0.8" />
<line x1="266.2" y1="699.78" x2="263.7" y2="699.78" stroke="#666" stroke-width="0.8" />
<text x="55.3" y="702.28" font-family='"Liberation Sans", sans-serif' font-size="6.9" font-weight="bold" text-anchor="end" fill="#111" >10</text>
<line x1="59.6" y1="676.93" x2="62.1" y2="676.93" stroke="#666" stroke-width="0.8" />
<line x1="266.2" y1="676.93" x2="263.7" y2="676.93" stroke="#666" stroke-width="0.8" />
<text x="55.3" y="679.43" font-family='"Liberation Sans", sans-serif' font-size="6.9" font-weight="bold" text-anchor="end" fill="#111" >12</text>
<line x1="59.6" y1="654.09" x2="62.1" y2="654.09" stroke="#666" stroke-width="0.8" />
<line x1="266.2" y1="654.09" x2="263.7" y2="654.09" stroke="#666" stroke-width="0.8" />
<text x="55.3" y="656.59" font-family='"Liberation Sans", sans-serif' font-size="6.9" font-weight="bold" text-anchor="end" fill="#111" >14</text>
<line x1="59.6" y1="631.24" x2="62.1" y2="631.24" stroke="#666" stroke-width="0.8" />
<line x1="266.2" y1="631.24" x2="263.7" y2="631.24" stroke="#666" stroke-width="0.8" />
<text x="55.3" y="633.74" font-family='"Liberation Sans", sans-serif' font-size="6.9" font-weight="bold" text-anchor="end" fill="#111" >16</text>
<line x1="59.6" y1="608.4" x2="62.1" y2="608.4" stroke="#666" stroke-width="0.8" />
<line x1="266.2" y1="608.4" x2="263.7" y2="608.4" stroke="#666" stroke-width="0.8" />
<text x="55.3" y="610.9" font-family='"Liberation Sans", sans-serif' font-size="6.9" font-weight="bold" text-anchor="end" fill="#111" >18</text>
<text x="43.2" y="711.7" font-family='"Liberation Sans", sans-serif' font-size="6.9" font-weight="bold" text-anchor="middle" fill="#111" transform="rotate(-90 43.2 711.7)" textLength="31.7" lengthAdjust="spacingAndGlyphs" >RMSD [A]</text>
<text x="124.3" y="599.3" font-family='"Liberation Sans", sans-serif' font-size="9.4" font-weight="bold" text-anchor="start" fill="#111" textLength="77.7" lengthAdjust="spacingAndGlyphs" >ptk 2D Histogram</text>
<text x="163.2" y="835.3" font-family='"Liberation Sans", sans-serif' font-size="7.0" font-weight="bold" text-anchor="middle" fill="#111" textLength="58.8" lengthAdjust="spacingAndGlyphs" >Energy [kcal/mol]</text>
<rect x="292.2" y="812.31" width="15.8" height="3.59" fill="#fff" stroke="#bbb" stroke-width="0.6" />
<rect x="292.2" y="808.77" width="15.8" height="2.5" fill="#110096" stroke="none" stroke-width="1" />
<rect x="292.2" y="806.52" width="15.8" height="2.5" fill="#12009c" stroke="none" stroke-width="1" />
<rect x="292.2" y="804.27" width="15.8" height="2.5" fill="#1300a2" stroke="none" stroke-width="1" />
<rect x="292.2" y="802.03" width="15.8" height="2.5" fill="#1400a8" stroke="none" stroke-width="1" />
<rect x="292.2" y="799.78" width="15.8" height="2.5" fill="#1600b3" stroke="none" stroke-width="1" />
<rect x="292.2" y="797.53" width="15.8" height="2.5" fill="#1700bd" stroke="none" stroke-width="1" />
<rect x="292.2" y="795.28" width="15.8" height="2.5" fill="#1900c7" stroke="none" stroke-width="1" />
<rect x="292.2" y="793.03" width="15.8" height="2.5" fill="#1a00d1" stroke="none" stroke-width="1" />
<rect x="292.2" y="790.78" width="15.8" height="2.5" fill="#1c00da" stroke="none" stroke-width="1" />
<rect x="292.2" y="788.53" width="15.8" height="2.5" fill="#1d00e3" stroke="none" stroke-width="1" />
<rect x="292.2" y="786.29" width="15.8" height="2.5" fill="#1f00ec" stroke="none" stroke-width="1" />
<rect x="292.2" y="784.04" width="15.8" height="2.5" fill="#2000f4" stroke="none" stroke-width="1" />
<rect x="292.2" y="781.79" width="15.8" height="2.5" fill="#2005f5" stroke="none" stroke-width="1" />
<rect x="292.2" y="779.54" width="15.8" height="2.5" fill="#200af7" stroke="none" stroke-width="1" />
<rect x="292.2" y="777.29" width="15.8" height="2.5" fill="#200ff8" stroke="none" stroke-width="1" />
<rect x="292.2" y="775.04" width="15.8" height="2.5" fill="#2218f6" stroke="none" stroke-width="1" />
<rect x="292.2" y="772.79" width="15.8" height="2.5" fill="#2422f4" stroke="none" stroke-width="1" />
<rect x="292.2" y="770.54" width="15.8" height="2.5" fill="#272bf1" stroke="none" stroke-width="1" />
<rect x="292.2" y="768.3" width="15.8" height="2.5" fill="#2935f0" stroke="none" stroke-width="1" />
<rect x="292.2" y="766.05" width="15.8" height="2.5" fill="#2c41f0" stroke="none" stroke-width="1" />
<rect x="292.2" y="763.8" width="15.8" height="2.5" fill="#2f4df0" stroke="none" stroke-width="1" />
<rect x="292.2" y="761.55" width="15.8" height="2.5" fill="#365cf0" stroke="none" stroke-width="1" />
<rect x="292.2" y="759.3" width="15.8" height="2.5" fill="#3d6bf0" stroke="none" stroke-width="1" />
<rect x="292.2" y="757.05" width="15.8" height="2.5" fill="#437af0" stroke="none" stroke-width="1" />
<rect x="292.2" y="754.8" width="15.8" height="2.5" fill="#4889f0" stroke="none" stroke-width="1" />
<rect x="292.2" y="752.55" width="15.8" height="2.5" fill="#4d98f0" stroke="none" stroke-width="1" />
<rect x="292.2" y="750.31" width="15.8" height="2.5" fill="#52a6f1" stroke="none" stroke-width="1" />
<rect x="292.2" y="748.06" width="15.8" height="2.5" fill="#57b1f3" stroke="none" stroke-width="1" />
<rect x="292.2" y="745.81" width="15.8" height="2.5" fill="#5cbdf6" stroke="none" stroke-width="1" />
<rect x="292.2" y="743.56" width="15.8" height="2.5" fill="#60c8f8" stroke="none" stroke-width="1" />
<rect x="292.2" y="741.31" width="15.8" height="2.5" fill="#66d8f8" stroke="none" stroke-width="1" />
<rect x="292.2" y="739.06" width="15.8" height="2.5" fill="#6ce7f8" stroke="none" stroke-width="1" />
<rect x="292.2" y="736.81" width="15.8" height="2.5" fill="#71f0f3" stroke="none" stroke-width="1" />
<rect x="292.2" y="734.57" width="15.8" height="2.5" fill="#73f0e7" stroke="none" stroke-width="1" />
<rect x="292.2" y="732.32" width="15.8" height="2.5" fill="#76f0da" stroke="none" stroke-width="1" />
<rect x="292.2" y="730.07" width="15.8" height="2.5" fill="#79f0ce" stroke="none" stroke-width="1" />
<rect x="292.2" y="727.82" width="15.8" height="2.5" fill="#7df0c1" stroke="none" stroke-width="1" />
<rect x="292.2" y="725.57" width="15.8" height="2.5" fill="#81f0b4" stroke="none" stroke-width="1" />
<rect x="292.2" y="723.32" width="15.8" height="2.5" fill="#86f0a7" stroke="none" stroke-width="1" />
<rect x="292.2" y="721.07" width="15.8" height="2.5" fill="#8af09b" stroke="none" stroke-width="1" />
<rect x="292.2" y="718.82" width="15.8" height="2.5" fill="#8ef08f" stroke="none" stroke-width="1" />
<rect x="292.2" y="716.58" width="15.8" height="2.5" fill="#91f084" stroke="none" stroke-width="1" />
<rect x="292.2" y="714.33" width="15.8" height="2.5" fill="#95f079" stroke="none" stroke-width="1" />
<rect x="292.2" y="712.08" width="15.8" height="2.5" fill="#9af06e" stroke="none" stroke-width="1" />
<rect x="292.2" y="709.83" width="15.8" height="2.5" fill="#a1f067" stroke="none" stroke-width="1" />
<rect x="292.2" y="707.58" width="15.8" height="2.5" fill="#a9f05f" stroke="none" stroke-width="1" />
<rect x="292.2" y="705.33" width="15.8" height="2.5" fill="#b0f058" stroke="none" stroke-width="1" />
<rect x="292.2" y="703.08" width="15.8" height="2.5" fill="#b8f050" stroke="none" stroke-width="1" />
<rect x="292.2" y="700.83" width="15.8" height="2.5" fill="#bff049" stroke="none" stroke-width="1" />
<rect x="292.2" y="698.59" width="15.8" height="2.5" fill="#caf144" stroke="none" stroke-width="1" />
<rect x="292.2" y="696.34" width="15.8" height="2.5" fill="#d4f33f" stroke="none" stroke-width="1" />
<rect x="292.2" y="694.09" width="15.8" height="2.5" fill="#dff43b" stroke="none" stroke-width="1" />
<rect x="292.2" y="691.84" width="15.8" height="2.5" fill="#e9f636" stroke="none" stroke-width="1" />
<rect x="292.2" y="689.59" width="15.8" height="2.5" fill="#f4f732" stroke="none" stroke-width="1" />
<rect x="292.2" y="687.34" width="15.8" height="2.5" fill="#f7f330" stroke="none" stroke-width="1" />
<rect x="292.2" y="685.09" width="15.8" height="2.5" fill="#f6ec30" stroke="none" stroke-width="1" />
<rect x="292.2" y="682.85" width="15.8" height="2.5" fill="#f5e430" stroke="none" stroke-width="1" />
<rect x="292.2" y="680.6" width="15.8" height="2.5" fill="#f4dc30" stroke="none" stroke-width="1" />
<rect x="292.2" y="678.35" width="15.8" height="2.5" fill="#f2d330" stroke="none" stroke-width="1" />
<rect x="292.2" y="676.1" width="15.8" height="2.5" fill="#f1ca30" stroke="none" stroke-width="1" />
<rect x="292.2" y="673.85" width="15.8" height="2.5" fill="#f0c030" stroke="none" stroke-width="1" />
<rect x="292.2" y="671.6" width="15.8" height="2.5" fill="#eeb62e" stroke="none" stroke-width="1" />
<rect x="292.2" y="669.35" width="15.8" height="2.5" fill="#ecac2c" stroke="none" stroke-width="1" />
<rect x="292.2" y="667.1" width="15.8" height="2.5" fill="#eaa22a" stroke="none" stroke-width="1" />
<rect x="292.2" y="664.86" width="15.8" height="2.5" fill="#e89828" stroke="none" stroke-width="1" />
<rect x="292.2" y="662.61" width="15.8" height="2.5" fill="#e69026" stroke="none" stroke-width="1" />
<rect x="292.2" y="660.36" width="15.8" height="2.5" fill="#e58725" stroke="none" stroke-width="1" />
<rect x="292.2" y="658.11" width="15.8" height="2.5" fill="#e37f23" stroke="none" stroke-width="1" />
<rect x="292.2" y="655.86" width="15.8" height="2.5" fill="#e17721" stroke="none" stroke-width="1" />
<rect x="292.2" y="653.61" width="15.8" height="2.5" fill="#e06e20" stroke="none" stroke-width="1" />
<rect x="292.2" y="651.36" width="15.8" height="2.5" fill="#e06320" stroke="none" stroke-width="1" />
<rect x="292.2" y="649.11" width="15.8" height="2.5" fill="#e05920" stroke="none" stroke-width="1" />
<rect x="292.2" y="646.87" width="15.8" height="2.5" fill="#e04e20" stroke="none" stroke-width="1" />
<rect x="292.2" y="644.62" width="15.8" height="2.5" fill="#e04320" stroke="none" stroke-width="1" />
<rect x="292.2" y="642.37" width="15.8" height="2.5" fill="#de3d20" stroke="none" stroke-width="1" />
<rect x="292.2" y="640.12" width="15.8" height="2.5" fill="#dc3820" stroke="none" stroke-width="1" />
<rect x="292.2" y="637.87" width="15.8" height="2.5" fill="#da3320" stroke="none" stroke-width="1" />
<rect x="292.2" y="635.62" width="15.8" height="2.5" fill="#d72e20" stroke="none" stroke-width="1" />
<rect x="292.2" y="633.37" width="15.8" height="2.5" fill="#d52920" stroke="none" stroke-width="1" />
<rect x="292.2" y="631.12" width="15.8" height="2.5" fill="#d22520" stroke="none" stroke-width="1" />
<rect x="292.2" y="628.88" width="15.8" height="2.5" fill="#cf2020" stroke="none" stroke-width="1" />
<rect x="292.2" y="626.63" width="15.8" height="2.5" fill="#c51e1e" stroke="none" stroke-width="1" />
<rect x="292.2" y="624.38" width="15.8" height="2.5" fill="#bb1d1d" stroke="none" stroke-width="1" />
<rect x="292.2" y="622.13" width="15.8" height="2.5" fill="#b11b1b" stroke="none" stroke-width="1" />
<rect x="292.2" y="619.88" width="15.8" height="2.5" fill="#a71919" stroke="none" stroke-width="1" />
<rect x="292.2" y="617.63" width="15.8" height="2.5" fill="#9c1717" stroke="none" stroke-width="1" />
<rect x="292.2" y="615.38" width="15.8" height="2.5" fill="#8f1515" stroke="none" stroke-width="1" />
<rect x="292.2" y="613.14" width="15.8" height="2.5" fill="#811212" stroke="none" stroke-width="1" />
<rect x="292.2" y="610.89" width="15.8" height="2.5" fill="#741010" stroke="none" stroke-width="1" />
<rect x="292.2" y="608.64" width="15.8" height="2.5" fill="#670d0d" stroke="none" stroke-width="1" />
<text x="312" y="817.6" font-family='"Liberation Sans", sans-serif' font-size="6.7" font-weight="bold" text-anchor="start" fill="#111" >0</text>
<line x1="292.2" y1="785.35" x2="294.2" y2="785.35" stroke="#333" stroke-width="0.7" />
<line x1="308" y1="785.35" x2="306" y2="785.35" stroke="#333" stroke-width="0.7" />
<text x="312" y="787.75" font-family='"Liberation Sans", sans-serif' font-size="6.7" font-weight="bold" text-anchor="start" fill="#111" >0.5</text>
<line x1="292.2" y1="755.5" x2="294.2" y2="755.5" stroke="#333" stroke-width="0.7" />
<line x1="308" y1="755.5" x2="306" y2="755.5" stroke="#333" stroke-width="0.7" />
<text x="312" y="757.9" font-family='"Liberation Sans", sans-serif' font-size="6.7" font-weight="bold" text-anchor="start" fill="#111" >1</text>
<line x1="292.2" y1="725.65" x2="294.2" y2="725.65" stroke="#333" stroke-width="0.7" />
<line x1="308" y1="725.65" x2="306" y2="725.65" stroke="#333" stroke-width="0.7" />
<text x="312" y="728.05" font-family='"Liberation Sans", sans-serif' font-size="6.7" font-weight="bold" text-anchor="start" fill="#111" >1.5</text>
<line x1="292.2" y1="695.8" x2="294.2" y2="695.8" stroke="#333" stroke-width="0.7" />
<line x1="308" y1="695.8" x2="306" y2="695.8" stroke="#333" stroke-width="0.7" />
<text x="312" y="698.2" font-family='"Liberation Sans", sans-serif' font-size="6.7" font-weight="bold" text-anchor="start" fill="#111" >2</text>
<line x1="292.2" y1="665.95" x2="294.2" y2="665.95" stroke="#333" stroke-width="0.7" />
<line x1="308" y1="665.95" x2="306" y2="665.95" stroke="#333" stroke-width="0.7" />
<text x="312" y="668.35" font-family='"Liberation Sans", sans-serif' font-size="6.7" font-weight="bold" text-anchor="start" fill="#111" >2.5</text>
<line x1="292.2" y1="636.1" x2="294.2" y2="636.1" stroke="#333" stroke-width="0.7" />
<line x1="308" y1="636.1" x2="306" y2="636.1" stroke="#333" stroke-width="0.7" />
<text x="312" y="638.5" font-family='"Liberation Sans", sans-serif' font-size="6.7" font-weight="bold" text-anchor="start" fill="#111" >3</text>
<text x="341.2" y="711.9" font-family='"Liberation Sans", sans-serif' font-size="8.5" font-weight="bold" text-anchor="middle" fill="#111" transform="rotate(-90 341.2 711.9)" textLength="44.5" lengthAdjust="spacingAndGlyphs" >Population</text>
<ellipse cx="153.3" cy="667" rx="19.6" ry="12.1" fill="none" stroke="#000" stroke-width="1.9"/>
<line x1="60.5" y1="666.6" x2="125" y2="666.6" stroke="#000" stroke-width="1.8" />
<polygon points="130.6,666.6 124.1,669.1 124.1,664.1" fill="#000" />
<line x1="153.6" y1="814" x2="153.6" y2="686" stroke="#000" stroke-width="1.8" />
<polygon points="153.6,680.6 156.1,687.1 151.1,687.1" fill="#000" />
<text x="52.9" y="669.6" font-family='"Liberation Sans", sans-serif' font-size="8.2" font-weight="bold" text-anchor="end" fill="#111" textLength="21.9" lengthAdjust="spacingAndGlyphs" >~ 13 Å</text>
<text x="156.5" y="809" font-family='"Liberation Sans", sans-serif' font-size="8.0" font-weight="bold" text-anchor="start" fill="#111" textLength="65.8" lengthAdjust="spacingAndGlyphs" >~ -78925 kcal/mol</text>
<text x="4.7" y="605.6" font-family='"Liberation Sans", sans-serif' font-size="24" font-weight="bold" text-anchor="start" fill="#000"  stroke="#000" stroke-width="0.6">F</text>
<clipPath id="clipG"><rect x="399.6" y="611.3" width="207.6" height="207.4"/></clipPath>
<g clip-path="url(#clipG)"><path d="M486.1 811.16L483.6 809.66L482.6 809.66L476.6 806.67L474.6 806.67L474.1 807.17L472.6 807.17L472.1 807.67L470.6 807.66L470.1 808.16L467.6 808.65L464.1 810.64L462.6 810.63L461.1 809.14L460.6 809.14L458.1 807.14L456.1 807.14L455.6 806.64L452.1 806.62L451.6 806.13L448.1 806.11L447.6 805.61L444.1 805.59L443.6 805.09L440.1 805.06L439.6 804.56L437.1 804.54L436.6 804.04L434.1 803.51L433.6 803.01L432.1 802.99L431.6 802.49L429.1 801.96L428.6 801.45L425.6 800.9L415.86 794.3L415.71 783.3L416.86 781.3L424.6 771.8L424.6 771.3L431.52 763.8L431.53 763.3L436.6 758.2L440.6 756.16L441.6 755.16L443.1 754.65L443.95 753.8L443.96 752.8L444.97 750.8L444.99 749.3L446 747.3L446.54 744.3L447.04 743.8L447.06 742.3L447.56 741.8L447.19 735.3L446.71 734.3L446.71 731.8L446.21 730.8L446.1 729.04L439.71 720.3L439.71 714.3L440.21 713.3L440.36 708.8L441.1 708.06L450.1 703.06L452.6 702.41L462.36 698.3L467.7 690.8L467.7 684.3L468.2 683.3L468.19 674.3L468.18 669.8L467.67 668.8L467.64 662.8L463.63 657.8L463.6 657.27L462.11 655.8L462.1 655.3L460.6 653.8L460.57 644.3L466.1 639.77L467.6 639.77L469.6 638.77L473.1 638.27L475.1 637.27L476.6 637.27L482.07 632.3L481.57 628.8L481.07 628.3L481.07 626.3L480.57 625.8L480.57 624.3L480.07 623.8L479.57 611.3L542.63 611.3L542.63 612.3L545.13 617.3L545.13 618.3L546.63 620.8L546.63 621.8L544.6 623.33L544.1 623.33L542.6 624.83L542.1 624.83L540.13 626.8L540.13 631.3L539.63 631.8L539.63 635.3L541.6 636.27L543.1 636.27L543.6 636.77L545.1 636.77L545.6 637.27L547.1 637.27L547.6 637.77L550.6 638.27L551.6 639.27L552.1 639.27L553.1 640.27L553.6 640.27L558.63 643.8L554.1 648.82L553.1 649.32L551.6 649.32L551.1 649.82L549.1 649.82L548.6 650.32L544.6 650.81L544.1 651.31L542.1 651.31L541.1 651.81L538.6 654.3L538.1 654.3L535.6 656.78L535.08 656.8L532.6 659.25L532.05 659.3L530.07 661.3L529.52 670.8L530.4 671.8L536.35 682.8L538 688.3L539 690.3L538.99 694.3L539.49 695.3L539.6 699.06L542.84 702.3L543.6 702.56L550.49 709.8L550.49 711.3L550.99 712.3L550.99 722.3L551.49 723.3L551.49 727.8L550.99 728.8L550.99 731.8L550.49 732.8L549.99 739.3L556.34 753.3L556.34 753.8L555.1 755.04L552.12 759.8L552.18 765.3L571.84 786.8L570.34 788.8L563.1 796.29L563.08 796.8L555.2 804.8L555.2 805.3L554.1 806.41L549.6 806.48L549.1 805.99L501.6 806.18L501.1 806.68L500.1 806.68L499.6 807.17L498.6 807.17L498.1 807.67L497.1 807.67L495.1 808.67L493.6 808.67L493.1 809.17L492.1 809.17L490.1 810.16L488.6 810.16L488.1 810.66L486.6 810.66L486.1 811.16ZM509 668.3L511.1 666.48L511.29 665.3L510.3 663.8L508.6 662.82L506.85 663.8L505.58 665.8L507.28 667.8L509 668.3ZM607.6 805.66L599.24 794.8L599.24 788.8L598.74 788.3L598.74 787.3L599.74 786.3L599.74 785.8L602.74 782.8L602.74 782.3L607.6 776.94L607.6 805.66Z" fill="#110098" fill-rule="evenodd"/><path d="M486.1 810.66L476.6 806.31L474.6 806.3L474.1 806.78L470.6 807.27L463.1 810.16L458.1 806.69L437.6 803.82L427.6 800.34L425.1 799.15L417.48 793.3L417.45 783.8L426.07 771.8L432.28 764.8L432.79 763.8L437.1 759.37L443.91 755.3L444.8 754.3L445.88 751.3L448.84 741.8L448.78 734.8L447.73 728.3L441.45 719.8L441.95 709.8L451.1 704.65L463.32 699.8L464.41 698.8L469.22 691.8L469.44 684.8L469.89 683.8L469.94 681.8L469.84 669.8L469.32 668.3L469.14 662.3L462.1 653.02L461.94 645.3L466.65 641.3L477.6 638.32L483.11 633.3L483.34 630.3L481.41 622.8L480.91 611.3L541.29 611.3L541.37 612.8L544.87 620.8L544.09 621.8L541.09 623.8L538.86 626.3L538.79 630.3L538.29 631.8L538.36 635.8L539.6 637.04L550.06 639.8L556.04 643.8L556.06 644.3L553.6 647.22L552.46 647.8L541.6 649.99L540.1 650.71L530.78 658.3L528.6 660.8L528.45 664.8L527.92 666.3L527.89 671.3L534.28 682.8L537.25 690.8L537.25 694.3L537.75 695.8L537.97 699.8L548.75 710.3L549.25 712.8L549.25 722.3L549.75 723.8L549.75 727.3L549.3 728.3L548.75 735.3L548.3 736.3L548.3 739.8L554.25 752.8L550.87 759.3L551.14 765.8L561.69 777.8L562.6 779.31L568.6 785.61L569.29 786.8L562.1 795.28L561.62 796.3L553.46 805.3L501.6 805.83L501.1 806.32L500.1 806.32L499.6 806.81L498.6 806.81L498.1 807.31L497.1 807.31L495.1 808.27L493.6 808.29L490.1 809.71L488.6 809.76L486.1 810.66ZM508.65 668.8L510.6 667.69L511.84 665.8L510.87 663.8L508.6 662.39L506.23 663.8L505.06 665.8L506.6 667.8L508.65 668.8ZM607.6 805.13L599.77 794.8L599.67 788.8L599.17 787.8L600.27 785.8L603.1 782.97L603.27 782.3L607.6 777.47L607.6 805.13Z" fill="#1500ab" fill-rule="evenodd"/><path d="M487.6 809.86L485.6 809.86L476.6 805.96L474.6 805.95L470.6 806.89L463.1 809.69L459.6 806.89L458.29 806.3L441.1 803.8L438.1 803.16L433.1 801.39L426.6 798.85L418.99 792.8L418.65 792.3L418.9 784.3L427.1 772.42L433.72 764.3L437.6 760.25L445.18 755.3L449.3 744.3L450.29 739.3L450.17 731.3L449.58 728.3L448.68 726.3L443.2 718.8L443.79 710.8L451.6 706.38L461.6 702.61L464.6 701.05L465.85 699.8L470.91 692.3L471.66 680.3L471.51 669.8L470.95 667.8L470.72 662.3L469.01 659.3L463.41 652.3L463.32 646.3L465.6 643.84L467.6 642.49L478.1 639.59L481.1 637.25L484.37 633.8L484.71 630.3L482.75 622.3L482.25 611.3L539.95 611.3L540.12 613.3L543.12 620.8L540.1 622.87L537.61 625.8L537.45 629.8L536.95 631.8L537.1 636.3L538.1 637.75L539.1 638.3L549.1 640.94L553.6 643.84L554.1 644.8L552.1 646.46L541.1 648.71L539.6 649.41L528.13 658.8L527.04 660.8L526.87 664.3L526.3 666.3L526.19 671.3L526.67 672.8L533.04 684.3L535.5 691.3L535.53 694.8L536.52 700.8L547 711.3L547.49 713.3L547.5 722.3L547.99 724.3L547.99 726.8L546.53 736.3L546.53 739.8L552.34 752.8L549.66 759.3L550.26 766.3L567.26 786.8L560.51 795.8L553.1 804.4L528.1 805.23L501.6 805.49L487.6 809.86ZM509.86 668.8L511.92 666.8L512.33 665.3L510.6 662.93L508.6 661.89L506.1 663.31L504.72 664.8L504.35 665.8L505.33 667.3L507.6 668.99L508.6 669.3L509.86 668.8ZM492.5 666.3L492.8 665.8L491.1 665.52L487.19 665.8L487.49 666.3L488.6 666.45L492.5 666.3ZM607.6 803.99L600.19 794.3L600.18 788.8L599.69 787.8L607.6 778.25L607.6 803.99Z" fill="#1900ca" fill-rule="evenodd"/><path d="M487.6 809.41L485.6 809.41L476.6 805.61L474.6 805.6L470.1 806.62L463.1 809.16L458.6 805.93L438.1 802.51L426.72 797.8L421.1 793.15L419.84 791.8L420.05 784.8L428.1 772.82L434.6 764.76L438.1 761.07L444.78 756.8L446.1 755.47L450.93 742.8L451.56 738.8L451.86 730.8L451.1 727.31L450.12 725.3L444.95 718.3L444.95 715.8L445.6 711.85L451.64 708.3L462.1 704.29L465.6 702.48L467.28 700.8L472.59 692.8L472.92 691.3L472.92 685.8L473.39 683.8L473.39 679.8L473.17 669.8L472.57 667.3L472.28 662.3L471.54 660.3L464.83 651.8L464.71 646.8L466.1 645.25L468.1 643.83L479.1 640.57L482.1 638.17L485.63 634.3L486.07 632.8L486.07 630.3L484.12 622.3L483.59 611.3L538.61 611.3L538.87 613.8L541.37 619.8L541.29 620.3L537.26 623.8L536.37 625.3L535.6 631.8L535.85 636.8L536.73 638.3L538.1 639.35L548.6 642.23L552.16 644.8L549.6 645.68L541.1 647.31L539.1 648.14L527.09 657.8L525.97 659.3L525.5 660.8L525.31 663.8L524.68 666.3L524.55 671.8L525.1 673.5L531.34 684.8L533.76 691.8L534.28 699.3L534.82 701.3L535.84 702.8L545.27 711.8L545.75 713.8L545.75 722.3L546.25 726.3L544.77 736.3L544.77 739.8L546.63 744.8L550.82 752.8L548.61 758.8L549.26 766.3L550.1 767.74L559.78 779.3L565.2 786.8L559.6 795.3L552.6 803.45L552.1 803.62L528.6 804.78L501.6 805.15L487.6 809.41ZM509.14 669.8L511.92 667.8L512.89 666.3L513.01 665.3L511.1 662.58L508.6 661.25L506.1 662.52L503.02 665.8L503.71 666.8L506.6 669.09L508.1 669.83L509.14 669.8ZM495.84 667.3L497.97 666.8L498.95 666.3L499.07 665.8L496.1 664.72L490.1 664.26L484.1 664.69L481.04 665.8L481.14 666.3L482.05 666.8L485.6 667.49L490.6 667.71L495.84 667.3ZM607.6 802.95L600.95 794.3L600.79 788.8L600.45 787.8L607.6 779.15L607.6 802.95Z" fill="#1e00e6" fill-rule="evenodd"/><path d="M487.6 808.95L486.1 809.17L476.6 805.27L474.26 805.3L470.1 806.22L463.1 808.58L460.1 806.22L458.6 805.5L445.1 803.39L444.1 802.9L438.1 801.79L427.1 797.03L423.1 793.63L420.95 791.3L421.1 785.3L428.6 773.72L435.28 765.3L438.6 761.76L445.1 757.53L446.82 755.8L452.01 742.8L453.55 730.3L452.93 727.3L451.84 724.8L446.72 717.8L447.2 713.3L448.6 712.05L452.6 709.78L463.1 705.78L466.6 703.92L468.72 701.8L474.26 693.3L475.14 683.8L475.11 679.3L474.84 669.8L474.25 667.3L473.85 662.3L472.63 659.3L466.22 651.3L466.08 647.3L468.6 645.2L479.6 641.87L483.1 639.09L486.89 634.8L487.42 632.8L487.42 630.3L485.43 621.8L484.93 611.3L537.27 611.3L537.47 613.8L539.86 619.8L536.36 622.8L534.96 625.3L534.26 631.8L534.59 637.3L535.81 639.3L537.6 640.62L547.1 643.19L549.23 644.3L540.6 646.04L538.1 647.13L525.6 657.29L524.59 658.8L523.96 660.8L523.06 666.3L522.91 672.3L523.57 674.3L529.66 685.3L532.01 692.3L532.57 699.8L533.36 702.3L537.87 707.3L543.36 712.3L543.93 713.8L544.02 722.8L544.5 725.8L543.07 735.8L543.02 739.8L543.57 741.8L549.38 752.8L547.58 758.8L548.53 766.8L558.85 779.8L563.74 786.8L558.8 794.8L552.1 802.74L529.6 804.32L501.6 804.82L487.6 808.95ZM509.13 670.8L512.26 668.8L513.51 667.3L514.16 665.8L513.73 664.3L512.18 662.3L510.6 661.03L508.6 660.24L506.6 661.02L503.6 663.27L502.1 663.91L492.1 663.22L484.6 663.39L478.44 664.3L476.6 664.93L475.53 665.8L476.15 666.8L477.6 667.41L484.6 668.56L492.6 668.7L502.6 667.97L507.6 670.65L509.13 670.8ZM607.6 801.87L601.55 793.8L601.5 788.3L602.04 786.8L607.6 780.7L607.6 801.87Z" fill="#2008f6" fill-rule="evenodd"/><path d="M522.6 658.96L515.1 658.85L508.6 657.77L501.1 658.83L491.1 658.12L486.6 657.12L483.6 655.95L480.96 654.3L478.98 652.3L477.32 649.3L476.27 644.8L476.64 644.3L480.1 643.17L483.79 640.3L487.23 636.8L488.63 633.8L488.71 629.8L486.77 621.3L486.75 617.3L486.27 614.8L486.6 611.9L488.94 611.3L535.74 611.3L536.21 614.3L538.17 619.3L535.01 622.3L533.71 624.8L532.93 631.3L533.1 636.99L534.1 639.32L536.1 641.34L539.6 642.78L543.61 643.8L539.6 644.94L536.6 646.51L526.76 654.3L524.6 656.3L522.6 658.96ZM488.1 808.33L486.1 808.79L478.6 805.49L477.1 805L474.6 804.91L467.1 806.73L463.6 808.19L458.6 805.08L449.1 803.59L438.6 801.31L427.53 796.3L423.62 792.8L421.91 790.8L422.12 785.3L429.27 774.3L435.92 765.8L439.1 762.39L446.1 757.68L447.94 755.3L453.04 742.8L454.6 733.95L455.65 733.3L455.23 729.8L454.1 725.43L452.65 722.8L448.5 717.3L448.89 714.3L449.6 713.49L453.1 711.49L463.6 707.46L467.1 705.69L469.76 703.3L472.99 698.8L475.28 695.3L476.31 692.3L477.1 672.63L500.6 672.13L508.6 673.81L515.1 672.34L521.1 672.44L521.86 674.8L528.1 686.2L530.17 692.3L530.88 700.3L531.66 702.8L533.1 704.98L541.89 713.3L542.25 714.3L542.27 722.8L542.75 725.8L541.31 735.8L541.31 740.3L541.75 742.3L543.1 745.31L546.1 748.82L548.07 752.8L547.1 755.72L546.62 758.8L547.68 766.8L548.6 768.52L558.04 780.3L562.45 786.8L558.1 794.28L551.6 802.04L529.6 803.89L501.6 804.5L488.1 808.33ZM607.6 799.9L602.57 793.3L602.54 788.3L603.01 787.3L607.6 782.2L607.6 799.9Z" fill="#231df5" fill-rule="evenodd"/><path d="M522.6 653.8L504.6 653.79L497.1 653.34L491.1 651.96L488.77 650.8L486.92 649.3L485.01 646.3L484.06 642.3L484.1 641.8L488.54 637.3L490 633.8L489.99 629.3L488.11 621.3L488.15 618.8L488.6 618.31L491.1 617.04L494.1 616.16L502.6 615.25L525.6 615.27L531.1 615.69L535.6 616.6L536.6 618.8L533.6 621.96L532.22 625.3L531.59 631.3L531.61 636.3L532.28 638.8L533.6 640.92L535.6 642.65L538.35 643.8L525.6 653.51L522.6 653.8ZM487.1 808.38L486.1 808.39L479.1 805.32L476.6 804.61L474.1 804.63L470.1 805.5L463.6 807.76L460.6 805.61L458.6 804.68L445.6 802.42L438.6 800.72L427.6 795.41L422.76 790.3L422.94 785.8L430.1 774.52L436.6 766.17L439.6 762.97L446.45 758.3L448.5 755.8L453.84 743.3L455.1 738.35L457.75 736.8L457.09 730.3L456.12 725.8L454.73 722.8L452.39 719.3L452.58 713.8L467.1 707.7L469.1 706.4L471.1 704.42L476.42 696.8L477.61 694.3L478.13 691.8L478.15 686.8L478.66 682.8L479.1 682.36L485.6 681.81L503.6 681.61L515.6 681.87L524.1 682.87L526.25 686.3L528.48 692.8L529.12 700.3L530.2 703.8L532.1 706.48L540.38 714.3L540.52 722.8L540.92 725.8L539.55 735.8L539.61 740.8L540.26 743.3L544.1 751.86L546.1 754.39L545.73 758.8L546.88 766.8L548.1 769.1L557.6 781.2L560.17 785.3L560.67 787.8L557.45 793.8L551.1 801.27L530.1 803.45L501.6 804.18L487.1 808.38ZM607.6 797.55L604.75 793.8L604.14 792.3L604.25 788.3L607.6 784.42L607.6 797.55Z" fill="#2b3df0" fill-rule="evenodd"/><path d="M525.6 650.81L501.1 650.72L495.6 649.77L491.64 647.8L489.3 644.8L488.26 640.3L488.24 639.8L490.42 636.8L491.37 633.8L491.42 629.8L490.02 623.3L490.52 622.3L492.6 620.5L495.6 619.19L499.6 618.34L504.6 617.87L513.6 617.67L524.6 618.06L530.1 618.68L533.6 619.67L531.83 622.3L530.95 624.8L530.24 631.3L530.22 635.8L530.65 638.3L531.51 640.3L535.08 644.3L527.1 650.7L525.6 650.81ZM487.1 807.99L486.1 807.99L479.1 804.97L476.6 804.29L474.1 804.3L470.1 805.15L463.6 807.35L459.1 804.43L445.6 801.94L438.6 800.1L428.1 794.82L424.71 791.3L424.7 788.8L426.18 782.3L430.6 775.14L437.45 766.3L440.1 763.5L446.6 759.04L448.6 756.95L455.1 742.52L459.84 739.8L458.69 729.3L457.95 725.8L456.76 722.8L456.94 714.3L457.16 713.8L468.6 708.87L472.6 705.35L478.91 695.8L479.83 692.3L480.1 686.65L490.1 685.91L509.6 685.9L518.1 686.42L524.6 687.59L526.78 693.3L527.42 700.8L528.75 704.8L530.95 707.8L538.76 715.3L539.12 725.8L537.8 735.8L538.12 742.3L541.95 751.3L541.6 753.74L544.6 757.46L545.88 765.8L546.51 767.8L556.54 781.3L558.01 787.3L558.3 790.3L556.51 793.8L551.1 800.49L540.1 802.12L530.6 803L501.1 803.92L487.1 807.99Z" fill="#3b66f0" fill-rule="evenodd"/><path d="M525.1 647.84L516.6 648.12L503.6 647.9L498.6 647.05L495.1 645.3L493.1 642.87L492.45 640.3L493.15 628.3L493.62 626.3L494.68 624.3L496.6 622.56L499.6 621.19L504.1 620.12L509.1 619.56L519.6 620L526.1 621.05L530.1 622.19L528.93 630.8L528.95 636.8L530.23 640.8L533.02 644.3L529.6 646.94L525.1 647.84ZM487.6 807.4L486.1 807.6L479.1 804.63L476.6 803.97L474.1 803.97L469.6 804.91L463.6 806.87L459.1 804.04L445.6 801.45L438.6 799.49L429.1 794.57L426.84 792.3L427.35 787.8L428.88 781.8L431.1 775.78L437.92 766.8L440.21 764.3L447.1 759.46L449.15 757.3L454.1 746.96L461.6 742.9L461.61 737.8L460.05 727.3L460.26 714.8L460.62 714.3L469.6 710.31L473.66 706.8L480.15 697.3L481.24 694.3L481.9 689.8L491.1 689.11L510.1 689.14L518.1 689.76L524.1 691.07L525.03 693.8L525.83 701.8L527.1 705.41L529.48 708.8L536.98 715.8L537.33 725.8L536.09 735.3L536.02 739.8L536.6 743.39L538.91 749.3L537.79 753.8L544.6 762.15L545.28 766.3L546.1 768.5L552.61 777.3L555.24 785.8L556.2 792.8L553.01 797.3L551.1 799.63L550.6 799.76L540.6 801.54L530.6 802.59L501.1 803.61L487.6 807.4Z" fill="#4c94f0" fill-rule="evenodd"/><path d="M522.6 644.82L514.6 645.23L506.1 644.9L501.1 643.9L498.37 642.3L497.72 641.3L497.64 639.8L500.7 634.8L501.85 625.3L503.19 623.3L504.92 622.3L508.1 621.41L514.6 621.22L517.81 621.8L520.52 622.8L523.74 625.3L526.43 629.3L527.85 638.3L529.42 642.3L527.1 643.83L522.6 644.82ZM486.6 807.36L479.1 804.3L476.6 803.66L474.1 803.66L469.6 804.56L463.6 806.38L459.1 803.66L449.6 801.88L438.6 798.89L433.1 796.13L429.24 793.8L429 793.3L429.57 788.3L431.14 782.3L435.1 772.71L436.67 769.8L439.29 766.3L440.62 764.8L447.1 760.23L449.1 758.35L453.1 751.21L457.6 748.32L463.49 745.3L462.9 732.8L463.16 715.3L470.6 711.75L474.67 708.3L481.33 698.8L483.6 692.47L492.1 691.91L509.6 691.96L517.1 692.57L522.6 693.81L523.28 694.3L524.27 702.8L525.86 706.8L528.1 709.88L535.27 716.8L535.54 725.8L534.34 735.3L534.27 739.8L534.76 743.3L536.18 747.3L534.18 754.3L538.6 758.74L542.1 763.03L544.6 766.66L545.48 768.8L548.33 773.3L550.91 779.3L552.8 785.3L553.94 791.3L553.8 794.8L552.61 796.8L550.6 799.06L543.6 800.53L535.6 801.7L526.1 802.53L501.1 803.3L486.6 807.36Z" fill="#5bbaf5" fill-rule="evenodd"/><path d="M517.1 642.83L512.6 642.93L508.6 642.53L506.04 641.8L505.04 640.8L505.78 639.8L507.1 639.25L513.1 638.47L519.1 638.84L521.1 639.31L522.8 640.3L522.7 641.3L521.96 641.8L517.1 642.83ZM487.1 806.88L486.1 806.87L479.6 804.16L476.6 803.36L474.1 803.34L469.6 804.22L463.6 805.94L459.1 803.28L446.1 800.62L439.1 798.58L431.42 794.3L431.35 790.8L432.8 784.3L434.76 778.8L437.36 773.3L440.6 767.91L444.03 763.3L448.1 760.18L450.31 757.8L451.6 755.75L454.6 753.49L460.1 750.17L466.7 747.3L465.69 736.8L465.87 716.3L466.25 715.8L472.19 712.8L476.12 709.3L482.48 700.3L484.6 695.29L491.6 694.6L508.1 694.59L515.1 695.07L520.6 696.22L521.7 696.8L522.59 703.3L524.72 708.3L527.1 711.36L533.5 717.3L533.77 725.8L532.58 735.3L532.52 739.3L533.53 745.8L532.44 750.3L530.6 754.8L535.1 758.74L539.24 763.3L543.1 768.64L546.32 774.3L548.96 780.3L550.97 786.8L551.92 792.8L551.37 795.8L550.42 798.3L541.1 800.46L524.6 802.26L501.1 803L487.1 806.88Z" fill="#6be4f8" fill-rule="evenodd"/><path d="M488.1 806.31L486.6 806.72L479.6 803.83L476.6 803.06L473.6 803.12L463.6 805.52L459.1 802.92L446.1 800.17L439.1 798.03L433.54 794.8L433.32 791.8L434.53 785.8L436.85 779.3L439.86 773.3L443.6 767.61L448.1 762.3L452.6 758.17L457.6 754.62L462.6 751.92L470.24 748.8L469.12 744.3L468.51 738.3L468.63 716.8L473.6 713.95L477.12 710.8L483.6 701.79L485.6 697.9L492.1 697.26L507.1 697.24L513.6 697.66L518.6 698.65L520.21 699.3L521.21 704.8L523.6 709.79L526.06 712.8L531.39 717.8L531.48 718.3L531.63 728.8L530.78 736.3L531.03 743.3L529.4 749.8L526.43 754.8L531.6 758.84L536.1 763.23L540.1 768.2L543.35 773.3L546.31 779.3L548.6 785.8L549.79 791.8L549.44 795.3L548.28 798.3L540.6 800.06L524.1 801.95L501.1 802.71L488.1 806.31Z" fill="#76f0db" fill-rule="evenodd"/><path d="M486.6 806.39L479.6 803.51L476.6 802.76L473.6 802.8L463.6 805.12L459.6 802.72L446.1 799.74L439.1 797.47L436.15 795.8L435.45 794.3L435.4 791.3L436.48 786.3L438.87 779.8L442.33 773.3L446.25 767.8L451.1 762.61L456.46 758.3L462.1 754.98L468.1 752.5L474.52 750.8L472.49 745.3L471.58 739.8L471.27 729.8L471.56 717.3L475.38 714.8L478.6 711.77L486.1 701.01L486.6 700.59L491.1 700.16L504.6 700.04L511.6 700.36L516.73 701.3L518.6 701.93L520.07 706.8L521.85 710.3L524.1 713.27L528.49 717.8L528.69 734.8L527.85 743.8L526.88 747.3L525.47 750.3L523.58 752.8L521.2 754.8L526.6 758.02L531.6 761.98L536.1 766.64L539.96 771.8L543.39 777.8L546.06 784.3L547.67 790.8L547.88 792.8L547.57 794.8L546.19 798.3L540.6 799.59L524.1 801.61L501.1 802.42L486.6 806.39Z" fill="#81f0b4" fill-rule="evenodd"/><path d="M487.1 805.88L486.6 806.05L479.6 803.2L476.6 802.47L473.6 802.5L463.6 804.74L459.6 802.36L450.1 800.34L442.1 798.09L438.86 796.8L437.89 795.8L437.23 792.8L438.23 787.3L440.84 780.3L444.6 773.6L449.1 767.79L454.6 762.58L460.6 758.5L467.1 755.47L474.1 753.44L481.95 752.3L479.49 750.3L477.83 748.3L476.5 745.8L475.42 742.3L474.62 734.3L474.81 718.8L474.97 717.3L480.46 712.3L486.1 704.32L490.6 703.47L499.1 703.2L509.1 703.44L514.6 704.32L517.6 705.43L520.41 711.3L524.96 716.8L525.39 722.8L525.36 734.8L524.58 742.3L522.49 747.8L520.99 749.8L519.1 751.47L513.03 754.3L519.6 756.77L525.6 760.17L530.82 764.3L535.6 769.38L540.05 775.8L543.45 782.8L545.64 790.3L545.94 792.8L545.62 794.8L544.15 798.3L539.1 799.41L523.1 801.34L501.1 802.13L487.1 805.88Z" fill="#8ef08f" fill-rule="evenodd"/><path d="M509.6 749.88L497.1 750.28L489.6 749.74L484.6 747.89L482.65 746.3L481.16 744.3L479.75 740.8L479.02 736.3L479.1 719.55L480.07 715.3L485.1 709.33L489.1 707.98L497.6 706.87L509.1 707.7L512.23 708.3L515.1 709.43L517.58 711.3L519.07 713.3L520.54 717.3L521.1 722.3L521.08 734.8L520.25 740.8L518.84 744.3L516.6 747.01L513.6 748.82L509.6 749.88ZM488.6 805.3L486.6 805.72L479.6 802.89L476.6 802.18L473.6 802.2L463.6 804.37L459.6 802.02L450.1 799.95L440.3 796.8L439.26 793.8L439.25 791.8L440.22 787.3L442.1 782.22L444.35 777.8L447.29 773.3L450.58 769.3L454.1 765.87L459.1 762.08L464.1 759.29L469.6 757.11L475.6 755.58L482.6 754.66L490.6 754.38L500.1 754.57L507.6 755.47L513.1 756.8L518.1 758.65L523.1 761.26L527.46 764.3L531.6 768.03L535.1 772.05L538.35 776.8L540.96 781.8L542.99 787.3L544 792.3L543.69 794.8L542.14 798.3L534.6 799.75L525.1 800.86L501.1 801.85L488.6 805.3Z" fill="#9af06e" fill-rule="evenodd"/><path d="M500.6 744.4L498.1 744.74L495.6 744.43L493.6 743.65L491.66 742.3L489.24 739.8L487.93 737.8L487.11 735.3L486.77 732.3L486.82 723.3L488 718.8L489.12 717.3L495.25 711.8L496.87 710.8L498.6 710.34L501.6 711.02L506.1 714.61L510.82 717.3L512.46 719.8L513.21 723.8L513.12 733.8L512.64 736.3L511.79 738.3L510.6 739.78L509.14 740.8L500.6 744.4ZM486.6 805.41L480.1 802.77L476.6 801.89L473.6 801.91L463.6 804L459.6 801.67L450.1 799.55L442.57 797.3L441.18 793.8L441.24 791.3L442.71 785.8L445.1 780.44L448.1 775.58L451.6 771.24L455.6 767.38L460.1 764.06L464.6 761.55L469.6 759.52L475.1 758.04L480.6 757.17L488.1 756.72L498.6 756.81L505.1 757.41L511.1 758.62L516.1 760.27L520.6 762.38L524.6 764.86L528.6 768.04L532.29 771.8L535.6 776.11L538.37 780.8L540.36 785.3L541.59 789.3L542.15 792.8L541.62 795.3L540.13 798.3L532.6 799.66L524.1 800.61L501.1 801.57L486.6 805.41Z" fill="#b2f056" fill-rule="evenodd"/><path d="M499.6 719.81L498.1 719.65L496.96 717.8L497.24 715.3L498.6 714.04L500.1 714.41L501.08 716.3L500.9 718.3L499.6 719.81ZM498.6 741.57L497.1 741.41L496.72 740.8L496.88 740.3L498.1 739.79L499.1 740.25L499.29 740.8L498.6 741.57ZM488.1 804.8L486.6 805.09L480.1 802.47L476.6 801.61L473.6 801.61L464.1 803.7L459.6 801.34L450.1 799.15L444.54 797.3L443 793.3L443.86 788.3L446.81 781.3L451.1 774.88L455.6 770.14L460.6 766.29L466.1 763.27L472.1 761.08L478.1 759.77L485.1 759.07L496.1 758.97L504.1 759.54L510.1 760.67L515.6 762.45L520.6 764.86L525.1 767.84L529.56 771.8L533.1 775.95L536.24 780.8L538.75 786.3L539.92 790.3L540.26 793.3L539.5 795.8L538.13 798.3L522.6 800.42L501.1 801.29L488.1 804.8Z" fill="#ccf243" fill-rule="evenodd"/><path d="M488.6 804.38L486.6 804.77L480.1 802.17L476.6 801.33L473.6 801.33L464.1 803.35L459.6 801.01L446.87 797.8L445.3 794.8L444.92 792.3L446.16 787.3L448.42 782.3L452.1 776.77L456.79 771.8L462.1 767.83L468.1 764.76L474.1 762.81L481.1 761.58L488.6 761.15L499.1 761.28L506.1 762.06L512.1 763.51L517.6 765.69L522.6 768.59L527.22 772.3L531.32 776.8L534.64 781.8L537.15 787.3L538.13 790.8L538.39 793.3L537.57 795.8L536.1 798.3L521.1 800.22L501.1 801.02L488.6 804.38Z" fill="#ecf635" fill-rule="evenodd"/><path d="M487.1 804.37L484.6 803.81L480.1 801.88L476.6 801.06L473.1 801.12L464.1 803.01L460.1 800.84L450.6 798.52L448.94 797.8L447.07 794.3L446.91 791.8L448.57 786.3L451.56 780.8L455.54 775.8L459.98 771.8L465.1 768.5L470.6 766.09L476.6 764.45L483.1 763.55L492.6 763.27L501.1 763.58L507.1 764.43L512.6 765.92L517.6 768.03L522.6 771.09L526.94 774.8L530.43 778.8L533.32 783.3L535.52 788.3L536.5 793.3L535.63 795.8L534.04 798.3L520.1 800L500.7 800.8L487.1 804.37Z" fill="#f6e930" fill-rule="evenodd"/><path d="M488.1 803.94L486.6 804.14L480.1 801.59L476.6 800.79L473.1 800.84L464.1 802.67L460.1 800.52L451.45 798.3L449.45 795.3L448.74 792.8L449.48 789.3L451.14 785.3L454.28 780.3L458.35 775.8L463.1 772.09L468.6 769.13L474.1 767.21L480.6 765.94L487.6 765.43L497.6 765.47L504.1 766.06L510.1 767.34L515.43 769.3L520.1 771.85L524.6 775.3L528.37 779.3L531.44 783.8L533.71 788.8L534.58 793.3L533.65 795.8L531.93 798.3L518.6 799.81L500.6 800.54L488.1 803.94Z" fill="#f2cf30" fill-rule="evenodd"/><path d="M486.6 803.83L480.1 801.31L477.1 800.55L473.1 800.56L464.1 802.33L460.1 800.19L454.38 798.8L452.09 796.3L450.75 793.3L451.53 789.3L453.61 784.8L456.79 780.3L461.1 776.07L465.88 772.8L471.1 770.37L476.6 768.76L482.6 767.82L489.6 767.48L499.1 767.65L505.1 768.35L510.1 769.53L515.1 771.43L519.6 773.96L523.6 777.09L527.1 780.82L530.09 785.3L532.02 789.8L532.6 792.3L532.51 793.8L531.6 795.83L529.75 798.3L517.6 799.59L500.6 800.28L486.6 803.83Z" fill="#edb22d" fill-rule="evenodd"/><path d="M488.1 803.36L486.6 803.53L480.6 801.2L476.6 800.25L473.1 800.28L464.1 802L461.1 800.27L456.51 798.8L453.91 795.8L452.8 793.3L453.15 790.8L454.27 787.8L456.95 783.3L460.6 779.2L465.1 775.68L470.1 773.02L475.1 771.28L481.1 770.1L487.6 769.61L496.6 769.61L502.6 770.08L508.1 771.14L513.1 772.82L517.6 775.12L521.6 778.01L525.35 781.8L528.13 785.8L530.12 790.3L530.64 792.8L530.49 793.8L529.51 795.8L527.46 798.3L516.1 799.41L500.6 800.01L488.1 803.36Z" fill="#e79427" fill-rule="evenodd"/><path d="M489.1 802.84L486.6 803.24L480.6 800.92L476.6 799.99L473.1 800L464.1 801.54L459.68 799.3L456.1 795.74L454.89 792.8L455.84 789.3L458.1 785.19L461.6 781.08L465.66 777.8L470.6 775.09L475.6 773.33L481.1 772.21L487.1 771.71L495.1 771.66L501.1 772.01L506.6 772.93L511.6 774.47L516.1 776.64L520.1 779.42L523.6 782.86L526.39 786.8L528.14 790.8L528.55 792.8L528.19 794.3L526.94 796.3L525.04 798.3L514.6 799.22L500.6 799.75L489.1 802.84Z" fill="#e27a22" fill-rule="evenodd"/><path d="M487.6 802.91L485.1 802.54L480.6 800.64L477.1 799.75L473.6 799.67L465.16 800.8L460.6 797.89L457.8 794.8L457.12 792.8L458.18 789.3L460.6 785.34L463.6 782.09L467.6 779.07L472.02 776.8L476.6 775.26L481.6 774.29L487.1 773.82L495.1 773.77L501.1 774.14L506.1 775L510.6 776.37L514.6 778.22L518.46 780.8L521.65 783.8L524.26 787.3L525.9 790.8L526.35 792.8L525.95 794.3L524.57 796.3L522.42 798.3L500.6 799.49L487.6 802.91Z" fill="#e05c20" fill-rule="evenodd"/><path d="M488.6 802.4L486.6 802.65L480.6 800.37L477.1 799.49L473.6 799.41L467.6 800.22L463.34 797.8L460.6 795.26L459.53 793.3L460.21 790.3L462.26 786.8L465.1 783.69L468.6 781.03L472.9 778.8L477.1 777.38L482.1 776.4L494.6 775.91L504.6 776.88L509.1 778.13L513.1 779.89L516.6 782.11L519.61 784.8L522.1 787.99L523.68 791.3L524.01 792.8L523.57 794.3L522 796.3L519.52 798.3L500.6 799.24L488.6 802.4Z" fill="#df3e20" fill-rule="evenodd"/><path d="M487.6 802.33L485.1 801.93L478.1 799.38L474.1 799.12L470.1 799.41L468.45 798.8L465.07 796.8L462.59 794.3L462.07 792.8L462.89 790.3L464.86 787.3L467.6 784.58L470.92 782.3L474.6 780.56L478.6 779.32L483.1 778.51L495.1 778.13L504.6 779.17L508.46 780.3L511.86 781.8L515.1 783.84L517.86 786.3L520.1 789.24L521.26 791.8L521.44 793.3L520.61 794.8L518.6 796.74L516.17 798.3L500.6 798.98L487.6 802.33Z" fill="#d82f20" fill-rule="evenodd"/><path d="M492.6 800.84L483.1 800.75L478.1 799.06L473.01 798.8L469.45 797.3L466.48 795.3L464.98 793.3L465.19 791.8L466.55 789.3L468.83 786.8L471.6 784.73L475.1 782.93L482.6 780.93L492.1 780.41L501.6 780.99L505.6 781.86L509.1 783.13L512.21 784.8L514.82 786.8L517.06 789.3L518.41 791.8L518.62 793.3L517.64 794.8L515.1 796.79L512.05 798.3L500.6 798.72L492.6 800.84Z" fill="#d02020" fill-rule="evenodd"/><path d="M497.1 799.32L485.6 799.32L477.74 798.3L474.1 797.25L470.97 795.8L469 794.3L468.24 792.8L469.1 790.8L470.77 788.8L475.6 785.57L481.6 783.65L489.6 782.89L499.1 783.17L506.1 784.72L509.1 786.05L511.78 787.8L513.83 789.8L515.09 791.8L515.35 793.3L514.65 794.3L510.6 796.86L506.05 798.3L500.1 798.47L497.1 799.32Z" fill="#b21b1b" fill-rule="evenodd"/><path d="M496.1 799.09L488.1 799.09L487.6 798.64L484.1 798.62L483.6 798.16L482.1 798.15L481.6 797.69L478.6 797.19L472.8 793.8L472.34 792.8L472.66 790.8L473.19 789.8L475.6 787.43L478.6 785.94L481.1 785.43L481.6 784.95L483.1 784.94L483.6 784.46L486.6 784.44L487.1 783.97L497.1 783.97L497.6 784.44L502.6 784.96L503.1 785.43L505.6 785.95L507.6 786.94L510.49 789.3L511.01 790.3L511.37 792.8L510.1 794.46L505.1 797.19L502.6 797.69L502.1 798.14L496.6 798.63L496.1 799.09Z" fill="#8f1515" fill-rule="evenodd"/><path d="M496.1 798.87L488.1 798.87L487.6 798.38L484.1 798.37L483.6 797.89L482.1 797.88L481.6 797.39L478.6 796.89L475.1 794.92L473.47 793.3L473 790.8L473.5 789.8L475.6 787.71L478.6 786.22L481.1 785.71L481.6 785.22L483.1 785.21L483.6 784.72L486.6 784.72L487.1 784.22L497.1 784.22L497.6 784.72L502.6 785.22L503.1 785.71L505.6 786.22L507.6 787.22L510.19 789.3L510.7 790.3L510.72 792.8L509.6 794.42L503.6 797.39L502.6 797.39L502.1 797.88L500.1 797.89L499.6 798.35L496.6 798.38L496.1 798.87Z" fill="#660d0d" fill-rule="evenodd"/><path d="M486.1 811.16L483.6 809.66L482.6 809.66L476.6 806.67L474.6 806.67L474.1 807.17L472.6 807.17L472.1 807.67L470.6 807.66L470.1 808.16L467.6 808.65L464.1 810.64L462.6 810.63L461.1 809.14L460.6 809.14L458.1 807.14L456.1 807.14L455.6 806.64L452.1 806.62L451.6 806.13L448.1 806.11L447.6 805.61L444.1 805.59L443.6 805.09L440.1 805.06L439.6 804.56L437.1 804.54L436.6 804.04L434.1 803.51L433.6 803.01L432.1 802.99L431.6 802.49L429.1 801.96L428.6 801.45L425.6 800.9L415.86 794.3L415.71 783.3L416.86 781.3L424.6 771.8L424.6 771.3L431.52 763.8L431.53 763.3L436.6 758.2L440.6 756.16L441.6 755.16L443.1 754.65L443.95 753.8L443.96 752.8L444.97 750.8L444.99 749.3L446 747.3L446.54 744.3L447.04 743.8L447.06 742.3L447.56 741.8L447.19 735.3L446.71 734.3L446.71 731.8L446.21 730.8L446.1 729.04L439.71 720.3L439.71 714.3L440.21 713.3L440.36 708.8L441.1 708.06L450.1 703.06L452.6 702.41L462.36 698.3L467.7 690.8L467.7 684.3L468.2 683.3L468.19 674.3L468.18 669.8L467.67 668.8L467.64 662.8L463.63 657.8L463.6 657.27L462.11 655.8L462.1 655.3L460.6 653.8L460.57 644.3L466.1 639.77L467.6 639.77L469.6 638.77L473.1 638.27L475.1 637.27L476.6 637.27L482.07 632.3L481.57 628.8L481.07 628.3L481.07 626.3L480.57 625.8L480.57 624.3L480.07 623.8L479.57 611.3L542.63 611.3L542.63 612.3L545.13 617.3L545.13 618.3L546.63 620.8L546.63 621.8L544.6 623.33L544.1 623.33L542.6 624.83L542.1 624.83L540.13 626.8L540.13 631.3L539.63 631.8L539.63 635.3L541.6 636.27L543.1 636.27L543.6 636.77L545.1 636.77L545.6 637.27L547.1 637.27L547.6 637.77L550.6 638.27L551.6 639.27L552.1 639.27L553.1 640.27L553.6 640.27L558.63 643.8L554.1 648.82L553.1 649.32L551.6 649.32L551.1 649.82L549.1 649.82L548.6 650.32L544.6 650.81L544.1 651.31L542.1 651.31L541.1 651.81L538.6 654.3L538.1 654.3L535.6 656.78L535.08 656.8L532.6 659.25L532.05 659.3L530.07 661.3L529.52 670.8L530.4 671.8L536.35 682.8L538 688.3L539 690.3L538.99 694.3L539.49 695.3L539.6 699.06L542.84 702.3L543.6 702.56L550.49 709.8L550.49 711.3L550.99 712.3L550.99 722.3L551.49 723.3L551.49 727.8L550.99 728.8L550.99 731.8L550.49 732.8L549.99 739.3L556.34 753.3L556.34 753.8L555.1 755.04L552.12 759.8L552.18 765.3L571.84 786.8L570.34 788.8L563.1 796.29L563.08 796.8L555.2 804.8L555.2 805.3L554.1 806.41L549.6 806.48L549.1 805.99L501.6 806.18L501.1 806.68L500.1 806.68L499.6 807.17L498.6 807.17L498.1 807.67L497.1 807.67L495.1 808.67L493.6 808.67L493.1 809.17L492.1 809.17L490.1 810.16L488.6 810.16L488.1 810.66L486.6 810.66L486.1 811.16ZM509 668.3L511.1 666.48L511.29 665.3L510.3 663.8L508.6 662.82L506.85 663.8L505.58 665.8L507.28 667.8L509 668.3ZM607.6 805.66L599.24 794.8L599.24 788.8L598.74 788.3L598.74 787.3L599.74 786.3L599.74 785.8L602.74 782.8L602.74 782.3L607.6 776.94L607.6 805.66Z" fill="none" stroke="#000" stroke-width="0.3" stroke-opacity="0.55"/><path d="M486.1 810.66L476.6 806.31L474.6 806.3L474.1 806.78L470.6 807.27L463.1 810.16L458.1 806.69L437.6 803.82L427.6 800.34L425.1 799.15L417.48 793.3L417.45 783.8L426.07 771.8L432.28 764.8L432.79 763.8L437.1 759.37L443.91 755.3L444.8 754.3L445.88 751.3L448.84 741.8L448.78 734.8L447.73 728.3L441.45 719.8L441.95 709.8L451.1 704.65L463.32 699.8L464.41 698.8L469.22 691.8L469.44 684.8L469.89 683.8L469.94 681.8L469.84 669.8L469.32 668.3L469.14 662.3L462.1 653.02L461.94 645.3L466.65 641.3L477.6 638.32L483.11 633.3L483.34 630.3L481.41 622.8L480.91 611.3L541.29 611.3L541.37 612.8L544.87 620.8L544.09 621.8L541.09 623.8L538.86 626.3L538.79 630.3L538.29 631.8L538.36 635.8L539.6 637.04L550.06 639.8L556.04 643.8L556.06 644.3L553.6 647.22L552.46 647.8L541.6 649.99L540.1 650.71L530.78 658.3L528.6 660.8L528.45 664.8L527.92 666.3L527.89 671.3L534.28 682.8L537.25 690.8L537.25 694.3L537.75 695.8L537.97 699.8L548.75 710.3L549.25 712.8L549.25 722.3L549.75 723.8L549.75 727.3L549.3 728.3L548.75 735.3L548.3 736.3L548.3 739.8L554.25 752.8L550.87 759.3L551.14 765.8L561.69 777.8L562.6 779.31L568.6 785.61L569.29 786.8L562.1 795.28L561.62 796.3L553.46 805.3L501.6 805.83L501.1 806.32L500.1 806.32L499.6 806.81L498.6 806.81L498.1 807.31L497.1 807.31L495.1 808.27L493.6 808.29L490.1 809.71L488.6 809.76L486.1 810.66ZM508.65 668.8L510.6 667.69L511.84 665.8L510.87 663.8L508.6 662.39L506.23 663.8L505.06 665.8L506.6 667.8L508.65 668.8ZM607.6 805.13L599.77 794.8L599.67 788.8L599.17 787.8L600.27 785.8L603.1 782.97L603.27 782.3L607.6 777.47L607.6 805.13Z" fill="none" stroke="#000" stroke-width="0.3" stroke-opacity="0.55"/><path d="M487.6 809.86L485.6 809.86L476.6 805.96L474.6 805.95L470.6 806.89L463.1 809.69L459.6 806.89L458.29 806.3L441.1 803.8L438.1 803.16L433.1 801.39L426.6 798.85L418.99 792.8L418.65 792.3L418.9 784.3L427.1 772.42L433.72 764.3L437.6 760.25L445.18 755.3L449.3 744.3L450.29 739.3L450.17 731.3L449.58 728.3L448.68 726.3L443.2 718.8L443.79 710.8L451.6 706.38L461.6 702.61L464.6 701.05L465.85 699.8L470.91 692.3L471.66 680.3L471.51 669.8L470.95 667.8L470.72 662.3L469.01 659.3L463.41 652.3L463.32 646.3L465.6 643.84L467.6 642.49L478.1 639.59L481.1 637.25L484.37 633.8L484.71 630.3L482.75 622.3L482.25 611.3L539.95 611.3L540.12 613.3L543.12 620.8L540.1 622.87L537.61 625.8L537.45 629.8L536.95 631.8L537.1 636.3L538.1 637.75L539.1 638.3L549.1 640.94L553.6 643.84L554.1 644.8L552.1 646.46L541.1 648.71L539.6 649.41L528.13 658.8L527.04 660.8L526.87 664.3L526.3 666.3L526.19 671.3L526.67 672.8L533.04 684.3L535.5 691.3L535.53 694.8L536.52 700.8L547 711.3L547.49 713.3L547.5 722.3L547.99 724.3L547.99 726.8L546.53 736.3L546.53 739.8L552.34 752.8L549.66 759.3L550.26 766.3L567.26 786.8L560.51 795.8L553.1 804.4L528.1 805.23L501.6 805.49L487.6 809.86ZM509.86 668.8L511.92 666.8L512.33 665.3L510.6 662.93L508.6 661.89L506.1 663.31L504.72 664.8L504.35 665.8L505.33 667.3L507.6 668.99L508.6 669.3L509.86 668.8ZM492.5 666.3L492.8 665.8L491.1 665.52L487.19 665.8L487.49 666.3L488.6 666.45L492.5 666.3ZM607.6 803.99L600.19 794.3L600.18 788.8L599.69 787.8L607.6 778.25L607.6 803.99Z" fill="none" stroke="#000" stroke-width="0.3" stroke-opacity="0.55"/><path d="M487.6 809.41L485.6 809.41L476.6 805.61L474.6 805.6L470.1 806.62L463.1 809.16L458.6 805.93L438.1 802.51L426.72 797.8L421.1 793.15L419.84 791.8L420.05 784.8L428.1 772.82L434.6 764.76L438.1 761.07L444.78 756.8L446.1 755.47L450.93 742.8L451.56 738.8L451.86 730.8L451.1 727.31L450.12 725.3L444.95 718.3L444.95 715.8L445.6 711.85L451.64 708.3L462.1 704.29L465.6 702.48L467.28 700.8L472.59 692.8L472.92 691.3L472.92 685.8L473.39 683.8L473.39 679.8L473.17 669.8L472.57 667.3L472.28 662.3L471.54 660.3L464.83 651.8L464.71 646.8L466.1 645.25L468.1 643.83L479.1 640.57L482.1 638.17L485.63 634.3L486.07 632.8L486.07 630.3L484.12 622.3L483.59 611.3L538.61 611.3L538.87 613.8L541.37 619.8L541.29 620.3L537.26 623.8L536.37 625.3L535.6 631.8L535.85 636.8L536.73 638.3L538.1 639.35L548.6 642.23L552.16 644.8L549.6 645.68L541.1 647.31L539.1 648.14L527.09 657.8L525.97 659.3L525.5 660.8L525.31 663.8L524.68 666.3L524.55 671.8L525.1 673.5L531.34 684.8L533.76 691.8L534.28 699.3L534.82 701.3L535.84 702.8L545.27 711.8L545.75 713.8L545.75 722.3L546.25 726.3L544.77 736.3L544.77 739.8L546.63 744.8L550.82 752.8L548.61 758.8L549.26 766.3L550.1 767.74L559.78 779.3L565.2 786.8L559.6 795.3L552.6 803.45L552.1 803.62L528.6 804.78L501.6 805.15L487.6 809.41ZM509.14 669.8L511.92 667.8L512.89 666.3L513.01 665.3L511.1 662.58L508.6 661.25L506.1 662.52L503.02 665.8L503.71 666.8L506.6 669.09L508.1 669.83L509.14 669.8ZM495.84 667.3L497.97 666.8L498.95 666.3L499.07 665.8L496.1 664.72L490.1 664.26L484.1 664.69L481.04 665.8L481.14 666.3L482.05 666.8L485.6 667.49L490.6 667.71L495.84 667.3ZM607.6 802.95L600.95 794.3L600.79 788.8L600.45 787.8L607.6 779.15L607.6 802.95Z" fill="none" stroke="#000" stroke-width="0.3" stroke-opacity="0.55"/><path d="M487.6 808.95L486.1 809.17L476.6 805.27L474.26 805.3L470.1 806.22L463.1 808.58L460.1 806.22L458.6 805.5L445.1 803.39L444.1 802.9L438.1 801.79L427.1 797.03L423.1 793.63L420.95 791.3L421.1 785.3L428.6 773.72L435.28 765.3L438.6 761.76L445.1 757.53L446.82 755.8L452.01 742.8L453.55 730.3L452.93 727.3L451.84 724.8L446.72 717.8L447.2 713.3L448.6 712.05L452.6 709.78L463.1 705.78L466.6 703.92L468.72 701.8L474.26 693.3L475.14 683.8L475.11 679.3L474.84 669.8L474.25 667.3L473.85 662.3L472.63 659.3L466.22 651.3L466.08 647.3L468.6 645.2L479.6 641.87L483.1 639.09L486.89 634.8L487.42 632.8L487.42 630.3L485.43 621.8L484.93 611.3L537.27 611.3L537.47 613.8L539.86 619.8L536.36 622.8L534.96 625.3L534.26 631.8L534.59 637.3L535.81 639.3L537.6 640.62L547.1 643.19L549.23 644.3L540.6 646.04L538.1 647.13L525.6 657.29L524.59 658.8L523.96 660.8L523.06 666.3L522.91 672.3L523.57 674.3L529.66 685.3L532.01 692.3L532.57 699.8L533.36 702.3L537.87 707.3L543.36 712.3L543.93 713.8L544.02 722.8L544.5 725.8L543.07 735.8L543.02 739.8L543.57 741.8L549.38 752.8L547.58 758.8L548.53 766.8L558.85 779.8L563.74 786.8L558.8 794.8L552.1 802.74L529.6 804.32L501.6 804.82L487.6 808.95ZM509.13 670.8L512.26 668.8L513.51 667.3L514.16 665.8L513.73 664.3L512.18 662.3L510.6 661.03L508.6 660.24L506.6 661.02L503.6 663.27L502.1 663.91L492.1 663.22L484.6 663.39L478.44 664.3L476.6 664.93L475.53 665.8L476.15 666.8L477.6 667.41L484.6 668.56L492.6 668.7L502.6 667.97L507.6 670.65L509.13 670.8ZM607.6 801.87L601.55 793.8L601.5 788.3L602.04 786.8L607.6 780.7L607.6 801.87Z" fill="none" stroke="#000" stroke-width="0.3" stroke-opacity="0.55"/><path d="M522.6 658.96L515.1 658.85L508.6 657.77L501.1 658.83L491.1 658.12L486.6 657.12L483.6 655.95L480.96 654.3L478.98 652.3L477.32 649.3L476.27 644.8L476.64 644.3L480.1 643.17L483.79 640.3L487.23 636.8L488.63 633.8L488.71 629.8L486.77 621.3L486.75 617.3L486.27 614.8L486.6 611.9L488.94 611.3L535.74 611.3L536.21 614.3L538.17 619.3L535.01 622.3L533.71 624.8L532.93 631.3L533.1 636.99L534.1 639.32L536.1 641.34L539.6 642.78L543.61 643.8L539.6 644.94L536.6 646.51L526.76 654.3L524.6 656.3L522.6 658.96ZM488.1 808.33L486.1 808.79L478.6 805.49L477.1 805L474.6 804.91L467.1 806.73L463.6 808.19L458.6 805.08L449.1 803.59L438.6 801.31L427.53 796.3L423.62 792.8L421.91 790.8L422.12 785.3L429.27 774.3L435.92 765.8L439.1 762.39L446.1 757.68L447.94 755.3L453.04 742.8L454.6 733.95L455.65 733.3L455.23 729.8L454.1 725.43L452.65 722.8L448.5 717.3L448.89 714.3L449.6 713.49L453.1 711.49L463.6 707.46L467.1 705.69L469.76 703.3L472.99 698.8L475.28 695.3L476.31 692.3L477.1 672.63L500.6 672.13L508.6 673.81L515.1 672.34L521.1 672.44L521.86 674.8L528.1 686.2L530.17 692.3L530.88 700.3L531.66 702.8L533.1 704.98L541.89 713.3L542.25 714.3L542.27 722.8L542.75 725.8L541.31 735.8L541.31 740.3L541.75 742.3L543.1 745.31L546.1 748.82L548.07 752.8L547.1 755.72L546.62 758.8L547.68 766.8L548.6 768.52L558.04 780.3L562.45 786.8L558.1 794.28L551.6 802.04L529.6 803.89L501.6 804.5L488.1 808.33ZM607.6 799.9L602.57 793.3L602.54 788.3L603.01 787.3L607.6 782.2L607.6 799.9Z" fill="none" stroke="#000" stroke-width="0.3" stroke-opacity="0.55"/><path d="M522.6 653.8L504.6 653.79L497.1 653.34L491.1 651.96L488.77 650.8L486.92 649.3L485.01 646.3L484.06 642.3L484.1 641.8L488.54 637.3L490 633.8L489.99 629.3L488.11 621.3L488.15 618.8L488.6 618.31L491.1 617.04L494.1 616.16L502.6 615.25L525.6 615.27L531.1 615.69L535.6 616.6L536.6 618.8L533.6 621.96L532.22 625.3L531.59 631.3L531.61 636.3L532.28 638.8L533.6 640.92L535.6 642.65L538.35 643.8L525.6 653.51L522.6 653.8ZM487.1 808.38L486.1 808.39L479.1 805.32L476.6 804.61L474.1 804.63L470.1 805.5L463.6 807.76L460.6 805.61L458.6 804.68L445.6 802.42L438.6 800.72L427.6 795.41L422.76 790.3L422.94 785.8L430.1 774.52L436.6 766.17L439.6 762.97L446.45 758.3L448.5 755.8L453.84 743.3L455.1 738.35L457.75 736.8L457.09 730.3L456.12 725.8L454.73 722.8L452.39 719.3L452.58 713.8L467.1 707.7L469.1 706.4L471.1 704.42L476.42 696.8L477.61 694.3L478.13 691.8L478.15 686.8L478.66 682.8L479.1 682.36L485.6 681.81L503.6 681.61L515.6 681.87L524.1 682.87L526.25 686.3L528.48 692.8L529.12 700.3L530.2 703.8L532.1 706.48L540.38 714.3L540.52 722.8L540.92 725.8L539.55 735.8L539.61 740.8L540.26 743.3L544.1 751.86L546.1 754.39L545.73 758.8L546.88 766.8L548.1 769.1L557.6 781.2L560.17 785.3L560.67 787.8L557.45 793.8L551.1 801.27L530.1 803.45L501.6 804.18L487.1 808.38ZM607.6 797.55L604.75 793.8L604.14 792.3L604.25 788.3L607.6 784.42L607.6 797.55Z" fill="none" stroke="#000" stroke-width="0.3" stroke-opacity="0.55"/><path d="M525.6 650.81L501.1 650.72L495.6 649.77L491.64 647.8L489.3 644.8L488.26 640.3L488.24 639.8L490.42 636.8L491.37 633.8L491.42 629.8L490.02 623.3L490.52 622.3L492.6 620.5L495.6 619.19L499.6 618.34L504.6 617.87L513.6 617.67L524.6 618.06L530.1 618.68L533.6 619.67L531.83 622.3L530.95 624.8L530.24 631.3L530.22 635.8L530.65 638.3L531.51 640.3L535.08 644.3L527.1 650.7L525.6 650.81ZM487.1 807.99L486.1 807.99L479.1 804.97L476.6 804.29L474.1 804.3L470.1 805.15L463.6 807.35L459.1 804.43L445.6 801.94L438.6 800.1L428.1 794.82L424.71 791.3L424.7 788.8L426.18 782.3L430.6 775.14L437.45 766.3L440.1 763.5L446.6 759.04L448.6 756.95L455.1 742.52L459.84 739.8L458.69 729.3L457.95 725.8L456.76 722.8L456.94 714.3L457.16 713.8L468.6 708.87L472.6 705.35L478.91 695.8L479.83 692.3L480.1 686.65L490.1 685.91L509.6 685.9L518.1 686.42L524.6 687.59L526.78 693.3L527.42 700.8L528.75 704.8L530.95 707.8L538.76 715.3L539.12 725.8L537.8 735.8L538.12 742.3L541.95 751.3L541.6 753.74L544.6 757.46L545.88 765.8L546.51 767.8L556.54 781.3L558.01 787.3L558.3 790.3L556.51 793.8L551.1 800.49L540.1 802.12L530.6 803L501.1 803.92L487.1 807.99Z" fill="none" stroke="#000" stroke-width="0.3" stroke-opacity="0.55"/><path d="M525.1 647.84L516.6 648.12L503.6 647.9L498.6 647.05L495.1 645.3L493.1 642.87L492.45 640.3L493.15 628.3L493.62 626.3L494.68 624.3L496.6 622.56L499.6 621.19L504.1 620.12L509.1 619.56L519.6 620L526.1 621.05L530.1 622.19L528.93 630.8L528.95 636.8L530.23 640.8L533.02 644.3L529.6 646.94L525.1 647.84ZM487.6 807.4L486.1 807.6L479.1 804.63L476.6 803.97L474.1 803.97L469.6 804.91L463.6 806.87L459.1 804.04L445.6 801.45L438.6 799.49L429.1 794.57L426.84 792.3L427.35 787.8L428.88 781.8L431.1 775.78L437.92 766.8L440.21 764.3L447.1 759.46L449.15 757.3L454.1 746.96L461.6 742.9L461.61 737.8L460.05 727.3L460.26 714.8L460.62 714.3L469.6 710.31L473.66 706.8L480.15 697.3L481.24 694.3L481.9 689.8L491.1 689.11L510.1 689.14L518.1 689.76L524.1 691.07L525.03 693.8L525.83 701.8L527.1 705.41L529.48 708.8L536.98 715.8L537.33 725.8L536.09 735.3L536.02 739.8L536.6 743.39L538.91 749.3L537.79 753.8L544.6 762.15L545.28 766.3L546.1 768.5L552.61 777.3L555.24 785.8L556.2 792.8L553.01 797.3L551.1 799.63L550.6 799.76L540.6 801.54L530.6 802.59L501.1 803.61L487.6 807.4Z" fill="none" stroke="#000" stroke-width="0.3" stroke-opacity="0.55"/><path d="M522.6 644.82L514.6 645.23L506.1 644.9L501.1 643.9L498.37 642.3L497.72 641.3L497.64 639.8L500.7 634.8L501.85 625.3L503.19 623.3L504.92 622.3L508.1 621.41L514.6 621.22L517.81 621.8L520.52 622.8L523.74 625.3L526.43 629.3L527.85 638.3L529.42 642.3L527.1 643.83L522.6 644.82ZM486.6 807.36L479.1 804.3L476.6 803.66L474.1 803.66L469.6 804.56L463.6 806.38L459.1 803.66L449.6 801.88L438.6 798.89L433.1 796.13L429.24 793.8L429 793.3L429.57 788.3L431.14 782.3L435.1 772.71L436.67 769.8L439.29 766.3L440.62 764.8L447.1 760.23L449.1 758.35L453.1 751.21L457.6 748.32L463.49 745.3L462.9 732.8L463.16 715.3L470.6 711.75L474.67 708.3L481.33 698.8L483.6 692.47L492.1 691.91L509.6 691.96L517.1 692.57L522.6 693.81L523.28 694.3L524.27 702.8L525.86 706.8L528.1 709.88L535.27 716.8L535.54 725.8L534.34 735.3L534.27 739.8L534.76 743.3L536.18 747.3L534.18 754.3L538.6 758.74L542.1 763.03L544.6 766.66L545.48 768.8L548.33 773.3L550.91 779.3L552.8 785.3L553.94 791.3L553.8 794.8L552.61 796.8L550.6 799.06L543.6 800.53L535.6 801.7L526.1 802.53L501.1 803.3L486.6 807.36Z" fill="none" stroke="#000" stroke-width="0.3" stroke-opacity="0.55"/><path d="M517.1 642.83L512.6 642.93L508.6 642.53L506.04 641.8L505.04 640.8L505.78 639.8L507.1 639.25L513.1 638.47L519.1 638.84L521.1 639.31L522.8 640.3L522.7 641.3L521.96 641.8L517.1 642.83ZM487.1 806.88L486.1 806.87L479.6 804.16L476.6 803.36L474.1 803.34L469.6 804.22L463.6 805.94L459.1 803.28L446.1 800.62L439.1 798.58L431.42 794.3L431.35 790.8L432.8 784.3L434.76 778.8L437.36 773.3L440.6 767.91L444.03 763.3L448.1 760.18L450.31 757.8L451.6 755.75L454.6 753.49L460.1 750.17L466.7 747.3L465.69 736.8L465.87 716.3L466.25 715.8L472.19 712.8L476.12 709.3L482.48 700.3L484.6 695.29L491.6 694.6L508.1 694.59L515.1 695.07L520.6 696.22L521.7 696.8L522.59 703.3L524.72 708.3L527.1 711.36L533.5 717.3L533.77 725.8L532.58 735.3L532.52 739.3L533.53 745.8L532.44 750.3L530.6 754.8L535.1 758.74L539.24 763.3L543.1 768.64L546.32 774.3L548.96 780.3L550.97 786.8L551.92 792.8L551.37 795.8L550.42 798.3L541.1 800.46L524.6 802.26L501.1 803L487.1 806.88Z" fill="none" stroke="#000" stroke-width="0.3" stroke-opacity="0.55"/><path d="M488.1 806.31L486.6 806.72L479.6 803.83L476.6 803.06L473.6 803.12L463.6 805.52L459.1 802.92L446.1 800.17L439.1 798.03L433.54 794.8L433.32 791.8L434.53 785.8L436.85 779.3L439.86 773.3L443.6 767.61L448.1 762.3L452.6 758.17L457.6 754.62L462.6 751.92L470.24 748.8L469.12 744.3L468.51 738.3L468.63 716.8L473.6 713.95L477.12 710.8L483.6 701.79L485.6 697.9L492.1 697.26L507.1 697.24L513.6 697.66L518.6 698.65L520.21 699.3L521.21 704.8L523.6 709.79L526.06 712.8L531.39 717.8L531.48 718.3L531.63 728.8L530.78 736.3L531.03 743.3L529.4 749.8L526.43 754.8L531.6 758.84L536.1 763.23L540.1 768.2L543.35 773.3L546.31 779.3L548.6 785.8L549.79 791.8L549.44 795.3L548.28 798.3L540.6 800.06L524.1 801.95L501.1 802.71L488.1 806.31Z" fill="none" stroke="#000" stroke-width="0.3" stroke-opacity="0.55"/><path d="M486.6 806.39L479.6 803.51L476.6 802.76L473.6 802.8L463.6 805.12L459.6 802.72L446.1 799.74L439.1 797.47L436.15 795.8L435.45 794.3L435.4 791.3L436.48 786.3L438.87 779.8L442.33 773.3L446.25 767.8L451.1 762.61L456.46 758.3L462.1 754.98L468.1 752.5L474.52 750.8L472.49 745.3L471.58 739.8L471.27 729.8L471.56 717.3L475.38 714.8L478.6 711.77L486.1 701.01L486.6 700.59L491.1 700.16L504.6 700.04L511.6 700.36L516.73 701.3L518.6 701.93L520.07 706.8L521.85 710.3L524.1 713.27L528.49 717.8L528.69 734.8L527.85 743.8L526.88 747.3L525.47 750.3L523.58 752.8L521.2 754.8L526.6 758.02L531.6 761.98L536.1 766.64L539.96 771.8L543.39 777.8L546.06 784.3L547.67 790.8L547.88 792.8L547.57 794.8L546.19 798.3L540.6 799.59L524.1 801.61L501.1 802.42L486.6 806.39Z" fill="none" stroke="#000" stroke-width="0.3" stroke-opacity="0.55"/><path d="M487.1 805.88L486.6 806.05L479.6 803.2L476.6 802.47L473.6 802.5L463.6 804.74L459.6 802.36L450.1 800.34L442.1 798.09L438.86 796.8L437.89 795.8L437.23 792.8L438.23 787.3L440.84 780.3L444.6 773.6L449.1 767.79L454.6 762.58L460.6 758.5L467.1 755.47L474.1 753.44L481.95 752.3L479.49 750.3L477.83 748.3L476.5 745.8L475.42 742.3L474.62 734.3L474.81 718.8L474.97 717.3L480.46 712.3L486.1 704.32L490.6 703.47L499.1 703.2L509.1 703.44L514.6 704.32L517.6 705.43L520.41 711.3L524.96 716.8L525.39 722.8L525.36 734.8L524.58 742.3L522.49 747.8L520.99 749.8L519.1 751.47L513.03 754.3L519.6 756.77L525.6 760.17L530.82 764.3L535.6 769.38L540.05 775.8L543.45 782.8L545.64 790.3L545.94 792.8L545.62 794.8L544.15 798.3L539.1 799.41L523.1 801.34L501.1 802.13L487.1 805.88Z" fill="none" stroke="#000" stroke-width="0.3" stroke-opacity="0.55"/><path d="M509.6 749.88L497.1 750.28L489.6 749.74L484.6 747.89L482.65 746.3L481.16 744.3L479.75 740.8L479.02 736.3L479.1 719.55L480.07 715.3L485.1 709.33L489.1 707.98L497.6 706.87L509.1 707.7L512.23 708.3L515.1 709.43L517.58 711.3L519.07 713.3L520.54 717.3L521.1 722.3L521.08 734.8L520.25 740.8L518.84 744.3L516.6 747.01L513.6 748.82L509.6 749.88ZM488.6 805.3L486.6 805.72L479.6 802.89L476.6 802.18L473.6 802.2L463.6 804.37L459.6 802.02L450.1 799.95L440.3 796.8L439.26 793.8L439.25 791.8L440.22 787.3L442.1 782.22L444.35 777.8L447.29 773.3L450.58 769.3L454.1 765.87L459.1 762.08L464.1 759.29L469.6 757.11L475.6 755.58L482.6 754.66L490.6 754.38L500.1 754.57L507.6 755.47L513.1 756.8L518.1 758.65L523.1 761.26L527.46 764.3L531.6 768.03L535.1 772.05L538.35 776.8L540.96 781.8L542.99 787.3L544 792.3L543.69 794.8L542.14 798.3L534.6 799.75L525.1 800.86L501.1 801.85L488.6 805.3Z" fill="none" stroke="#000" stroke-width="0.3" stroke-opacity="0.55"/><path d="M500.6 744.4L498.1 744.74L495.6 744.43L493.6 743.65L491.66 742.3L489.24 739.8L487.93 737.8L487.11 735.3L486.77 732.3L486.82 723.3L488 718.8L489.12 717.3L495.25 711.8L496.87 710.8L498.6 710.34L501.6 711.02L506.1 714.61L510.82 717.3L512.46 719.8L513.21 723.8L513.12 733.8L512.64 736.3L511.79 738.3L510.6 739.78L509.14 740.8L500.6 744.4ZM486.6 805.41L480.1 802.77L476.6 801.89L473.6 801.91L463.6 804L459.6 801.67L450.1 799.55L442.57 797.3L441.18 793.8L441.24 791.3L442.71 785.8L445.1 780.44L448.1 775.58L451.6 771.24L455.6 767.38L460.1 764.06L464.6 761.55L469.6 759.52L475.1 758.04L480.6 757.17L488.1 756.72L498.6 756.81L505.1 757.41L511.1 758.62L516.1 760.27L520.6 762.38L524.6 764.86L528.6 768.04L532.29 771.8L535.6 776.11L538.37 780.8L540.36 785.3L541.59 789.3L542.15 792.8L541.62 795.3L540.13 798.3L532.6 799.66L524.1 800.61L501.1 801.57L486.6 805.41Z" fill="none" stroke="#000" stroke-width="0.3" stroke-opacity="0.55"/><path d="M499.6 719.81L498.1 719.65L496.96 717.8L497.24 715.3L498.6 714.04L500.1 714.41L501.08 716.3L500.9 718.3L499.6 719.81ZM498.6 741.57L497.1 741.41L496.72 740.8L496.88 740.3L498.1 739.79L499.1 740.25L499.29 740.8L498.6 741.57ZM488.1 804.8L486.6 805.09L480.1 802.47L476.6 801.61L473.6 801.61L464.1 803.7L459.6 801.34L450.1 799.15L444.54 797.3L443 793.3L443.86 788.3L446.81 781.3L451.1 774.88L455.6 770.14L460.6 766.29L466.1 763.27L472.1 761.08L478.1 759.77L485.1 759.07L496.1 758.97L504.1 759.54L510.1 760.67L515.6 762.45L520.6 764.86L525.1 767.84L529.56 771.8L533.1 775.95L536.24 780.8L538.75 786.3L539.92 790.3L540.26 793.3L539.5 795.8L538.13 798.3L522.6 800.42L501.1 801.29L488.1 804.8Z" fill="none" stroke="#000" stroke-width="0.3" stroke-opacity="0.55"/><path d="M488.6 804.38L486.6 804.77L480.1 802.17L476.6 801.33L473.6 801.33L464.1 803.35L459.6 801.01L446.87 797.8L445.3 794.8L444.92 792.3L446.16 787.3L448.42 782.3L452.1 776.77L456.79 771.8L462.1 767.83L468.1 764.76L474.1 762.81L481.1 761.58L488.6 761.15L499.1 761.28L506.1 762.06L512.1 763.51L517.6 765.69L522.6 768.59L527.22 772.3L531.32 776.8L534.64 781.8L537.15 787.3L538.13 790.8L538.39 793.3L537.57 795.8L536.1 798.3L521.1 800.22L501.1 801.02L488.6 804.38Z" fill="none" stroke="#000" stroke-width="0.3" stroke-opacity="0.55"/><path d="M487.1 804.37L484.6 803.81L480.1 801.88L476.6 801.06L473.1 801.12L464.1 803.01L460.1 800.84L450.6 798.52L448.94 797.8L447.07 794.3L446.91 791.8L448.57 786.3L451.56 780.8L455.54 775.8L459.98 771.8L465.1 768.5L470.6 766.09L476.6 764.45L483.1 763.55L492.6 763.27L501.1 763.58L507.1 764.43L512.6 765.92L517.6 768.03L522.6 771.09L526.94 774.8L530.43 778.8L533.32 783.3L535.52 788.3L536.5 793.3L535.63 795.8L534.04 798.3L520.1 800L500.7 800.8L487.1 804.37Z" fill="none" stroke="#000" stroke-width="0.3" stroke-opacity="0.55"/><path d="M488.1 803.94L486.6 804.14L480.1 801.59L476.6 800.79L473.1 800.84L464.1 802.67L460.1 800.52L451.45 798.3L449.45 795.3L448.74 792.8L449.48 789.3L451.14 785.3L454.28 780.3L458.35 775.8L463.1 772.09L468.6 769.13L474.1 767.21L480.6 765.94L487.6 765.43L497.6 765.47L504.1 766.06L510.1 767.34L515.43 769.3L520.1 771.85L524.6 775.3L528.37 779.3L531.44 783.8L533.71 788.8L534.58 793.3L533.65 795.8L531.93 798.3L518.6 799.81L500.6 800.54L488.1 803.94Z" fill="none" stroke="#000" stroke-width="0.3" stroke-opacity="0.55"/><path d="M486.6 803.83L480.1 801.31L477.1 800.55L473.1 800.56L464.1 802.33L460.1 800.19L454.38 798.8L452.09 796.3L450.75 793.3L451.53 789.3L453.61 784.8L456.79 780.3L461.1 776.07L465.88 772.8L471.1 770.37L476.6 768.76L482.6 767.82L489.6 767.48L499.1 767.65L505.1 768.35L510.1 769.53L515.1 771.43L519.6 773.96L523.6 777.09L527.1 780.82L530.09 785.3L532.02 789.8L532.6 792.3L532.51 793.8L531.6 795.83L529.75 798.3L517.6 799.59L500.6 800.28L486.6 803.83Z" fill="none" stroke="#000" stroke-width="0.3" stroke-opacity="0.55"/><path d="M488.1 803.36L486.6 803.53L480.6 801.2L476.6 800.25L473.1 800.28L464.1 802L461.1 800.27L456.51 798.8L453.91 795.8L452.8 793.3L453.15 790.8L454.27 787.8L456.95 783.3L460.6 779.2L465.1 775.68L470.1 773.02L475.1 771.28L481.1 770.1L487.6 769.61L496.6 769.61L502.6 770.08L508.1 771.14L513.1 772.82L517.6 775.12L521.6 778.01L525.35 781.8L528.13 785.8L530.12 790.3L530.64 792.8L530.49 793.8L529.51 795.8L527.46 798.3L516.1 799.41L500.6 800.01L488.1 803.36Z" fill="none" stroke="#000" stroke-width="0.3" stroke-opacity="0.55"/><path d="M489.1 802.84L486.6 803.24L480.6 800.92L476.6 799.99L473.1 800L464.1 801.54L459.68 799.3L456.1 795.74L454.89 792.8L455.84 789.3L458.1 785.19L461.6 781.08L465.66 777.8L470.6 775.09L475.6 773.33L481.1 772.21L487.1 771.71L495.1 771.66L501.1 772.01L506.6 772.93L511.6 774.47L516.1 776.64L520.1 779.42L523.6 782.86L526.39 786.8L528.14 790.8L528.55 792.8L528.19 794.3L526.94 796.3L525.04 798.3L514.6 799.22L500.6 799.75L489.1 802.84Z" fill="none" stroke="#000" stroke-width="0.3" stroke-opacity="0.55"/><path d="M487.6 802.91L485.1 802.54L480.6 800.64L477.1 799.75L473.6 799.67L465.16 800.8L460.6 797.89L457.8 794.8L457.12 792.8L458.18 789.3L460.6 785.34L463.6 782.09L467.6 779.07L472.02 776.8L476.6 775.26L481.6 774.29L487.1 773.82L495.1 773.77L501.1 774.14L506.1 775L510.6 776.37L514.6 778.22L518.46 780.8L521.65 783.8L524.26 787.3L525.9 790.8L526.35 792.8L525.95 794.3L524.57 796.3L522.42 798.3L500.6 799.49L487.6 802.91Z" fill="none" stroke="#000" stroke-width="0.3" stroke-opacity="0.55"/><path d="M488.6 802.4L486.6 802.65L480.6 800.37L477.1 799.49L473.6 799.41L467.6 800.22L463.34 797.8L460.6 795.26L459.53 793.3L460.21 790.3L462.26 786.8L465.1 783.69L468.6 781.03L472.9 778.8L477.1 777.38L482.1 776.4L494.6 775.91L504.6 776.88L509.1 778.13L513.1 779.89L516.6 782.11L519.61 784.8L522.1 787.99L523.68 791.3L524.01 792.8L523.57 794.3L522 796.3L519.52 798.3L500.6 799.24L488.6 802.4Z" fill="none" stroke="#000" stroke-width="0.3" stroke-opacity="0.55"/><path d="M487.6 802.33L485.1 801.93L478.1 799.38L474.1 799.12L470.1 799.41L468.45 798.8L465.07 796.8L462.59 794.3L462.07 792.8L462.89 790.3L464.86 787.3L467.6 784.58L470.92 782.3L474.6 780.56L478.6 779.32L483.1 778.51L495.1 778.13L504.6 779.17L508.46 780.3L511.86 781.8L515.1 783.84L517.86 786.3L520.1 789.24L521.26 791.8L521.44 793.3L520.61 794.8L518.6 796.74L516.17 798.3L500.6 798.98L487.6 802.33Z" fill="none" stroke="#000" stroke-width="0.3" stroke-opacity="0.55"/><path d="M492.6 800.84L483.1 800.75L478.1 799.06L473.01 798.8L469.45 797.3L466.48 795.3L464.98 793.3L465.19 791.8L466.55 789.3L468.83 786.8L471.6 784.73L475.1 782.93L482.6 780.93L492.1 780.41L501.6 780.99L505.6 781.86L509.1 783.13L512.21 784.8L514.82 786.8L517.06 789.3L518.41 791.8L518.62 793.3L517.64 794.8L515.1 796.79L512.05 798.3L500.6 798.72L492.6 800.84Z" fill="none" stroke="#000" stroke-width="0.3" stroke-opacity="0.55"/><path d="M497.1 799.32L485.6 799.32L477.74 798.3L474.1 797.25L470.97 795.8L469 794.3L468.24 792.8L469.1 790.8L470.77 788.8L475.6 785.57L481.6 783.65L489.6 782.89L499.1 783.17L506.1 784.72L509.1 786.05L511.78 787.8L513.83 789.8L515.09 791.8L515.35 793.3L514.65 794.3L510.6 796.86L506.05 798.3L500.1 798.47L497.1 799.32Z" fill="none" stroke="#000" stroke-width="0.3" stroke-opacity="0.55"/><path d="M496.1 799.09L488.1 799.09L487.6 798.64L484.1 798.62L483.6 798.16L482.1 798.15L481.6 797.69L478.6 797.19L472.8 793.8L472.34 792.8L472.66 790.8L473.19 789.8L475.6 787.43L478.6 785.94L481.1 785.43L481.6 784.95L483.1 784.94L483.6 784.46L486.6 784.44L487.1 783.97L497.1 783.97L497.6 784.44L502.6 784.96L503.1 785.43L505.6 785.95L507.6 786.94L510.49 789.3L511.01 790.3L511.37 792.8L510.1 794.46L505.1 797.19L502.6 797.69L502.1 798.14L496.6 798.63L496.1 799.09Z" fill="none" stroke="#000" stroke-width="0.3" stroke-opacity="0.55"/><path d="M496.1 798.87L488.1 798.87L487.6 798.38L484.1 798.37L483.6 797.89L482.1 797.88L481.6 797.39L478.6 796.89L475.1 794.92L473.47 793.3L473 790.8L473.5 789.8L475.6 787.71L478.6 786.22L481.1 785.71L481.6 785.22L483.1 785.21L483.6 784.72L486.6 784.72L487.1 784.22L497.1 784.22L497.6 784.72L502.6 785.22L503.1 785.71L505.6 786.22L507.6 787.22L510.19 789.3L510.7 790.3L510.72 792.8L509.6 794.42L503.6 797.39L502.6 797.39L502.1 797.88L500.1 797.89L499.6 798.35L496.6 798.38L496.1 798.87Z" fill="none" stroke="#000" stroke-width="0.3" stroke-opacity="0.55"/></g>
<rect x="399.6" y="611.3" width="207.6" height="207.4" fill="none" stroke="#c8c8c8" stroke-width="1" />
<line x1="399.6" y1="818.7" x2="399.6" y2="816.5" stroke="#666" stroke-width="0.8" />
<line x1="399.6" y1="611.3" x2="399.6" y2="613.5" stroke="#666" stroke-width="0.8" />
<text x="399.6" y="829.9" font-family='"Liberation Sans", sans-serif' font-size="6.9" font-weight="bold" text-anchor="middle" fill="#111" >-79100</text>
<line x1="441.12" y1="818.7" x2="441.12" y2="816.5" stroke="#666" stroke-width="0.8" />
<line x1="441.12" y1="611.3" x2="441.12" y2="613.5" stroke="#666" stroke-width="0.8" />
<text x="441.12" y="829.9" font-family='"Liberation Sans", sans-serif' font-size="6.9" font-weight="bold" text-anchor="middle" fill="#111" >-79000</text>
<line x1="482.64" y1="818.7" x2="482.64" y2="816.5" stroke="#666" stroke-width="0.8" />
<line x1="482.64" y1="611.3" x2="482.64" y2="613.5" stroke="#666" stroke-width="0.8" />
<text x="482.64" y="829.9" font-family='"Liberation Sans", sans-serif' font-size="6.9" font-weight="bold" text-anchor="middle" fill="#111" >-78900</text>
<line x1="524.16" y1="818.7" x2="524.16" y2="816.5" stroke="#666" stroke-width="0.8" />
<line x1="524.16" y1="611.3" x2="524.16" y2="613.5" stroke="#666" stroke-width="0.8" />
<text x="524.16" y="829.9" font-family='"Liberation Sans", sans-serif' font-size="6.9" font-weight="bold" text-anchor="middle" fill="#111" >-78800</text>
<line x1="565.68" y1="818.7" x2="565.68" y2="816.5" stroke="#666" stroke-width="0.8" />
<line x1="565.68" y1="611.3" x2="565.68" y2="613.5" stroke="#666" stroke-width="0.8" />
<text x="565.68" y="829.9" font-family='"Liberation Sans", sans-serif' font-size="6.9" font-weight="bold" text-anchor="middle" fill="#111" >-78700</text>
<line x1="607.2" y1="818.7" x2="607.2" y2="816.5" stroke="#666" stroke-width="0.8" />
<line x1="607.2" y1="611.3" x2="607.2" y2="613.5" stroke="#666" stroke-width="0.8" />
<text x="607.2" y="829.9" font-family='"Liberation Sans", sans-serif' font-size="6.9" font-weight="bold" text-anchor="middle" fill="#111" >-78600</text>
<line x1="399.6" y1="818.7" x2="402.1" y2="818.7" stroke="#666" stroke-width="0.8" />
<line x1="607.2" y1="818.7" x2="604.7" y2="818.7" stroke="#666" stroke-width="0.8" />
<text x="395.3" y="821.2" font-family='"Liberation Sans", sans-serif' font-size="6.9" font-weight="bold" text-anchor="end" fill="#111" >13</text>
<line x1="399.6" y1="791.05" x2="402.1" y2="791.05" stroke="#666" stroke-width="0.8" />
<line x1="607.2" y1="791.05" x2="604.7" y2="791.05" stroke="#666" stroke-width="0.8" />
<text x="395.3" y="793.55" font-family='"Liberation Sans", sans-serif' font-size="6.9" font-weight="bold" text-anchor="end" fill="#111" >15</text>
<line x1="399.6" y1="763.39" x2="402.1" y2="763.39" stroke="#666" stroke-width="0.8" />
<line x1="607.2" y1="763.39" x2="604.7" y2="763.39" stroke="#666" stroke-width="0.8" />
<text x="395.3" y="765.89" font-family='"Liberation Sans", sans-serif' font-size="6.9" font-weight="bold" text-anchor="end" fill="#111" >17</text>
<line x1="399.6" y1="735.74" x2="402.1" y2="735.74" stroke="#666" stroke-width="0.8" />
<line x1="607.2" y1="735.74" x2="604.7" y2="735.74" stroke="#666" stroke-width="0.8" />
<text x="395.3" y="738.24" font-family='"Liberation Sans", sans-serif' font-size="6.9" font-weight="bold" text-anchor="end" fill="#111" >19</text>
<line x1="399.6" y1="708.09" x2="402.1" y2="708.09" stroke="#666" stroke-width="0.8" />
<line x1="607.2" y1="708.09" x2="604.7" y2="708.09" stroke="#666" stroke-width="0.8" />
<text x="395.3" y="710.59" font-family='"Liberation Sans", sans-serif' font-size="6.9" font-weight="bold" text-anchor="end" fill="#111" >21</text>
<line x1="399.6" y1="680.43" x2="402.1" y2="680.43" stroke="#666" stroke-width="0.8" />
<line x1="607.2" y1="680.43" x2="604.7" y2="680.43" stroke="#666" stroke-width="0.8" />
<text x="395.3" y="682.93" font-family='"Liberation Sans", sans-serif' font-size="6.9" font-weight="bold" text-anchor="end" fill="#111" >23</text>
<line x1="399.6" y1="652.78" x2="402.1" y2="652.78" stroke="#666" stroke-width="0.8" />
<line x1="607.2" y1="652.78" x2="604.7" y2="652.78" stroke="#666" stroke-width="0.8" />
<text x="395.3" y="655.28" font-family='"Liberation Sans", sans-serif' font-size="6.9" font-weight="bold" text-anchor="end" fill="#111" >25</text>
<line x1="399.6" y1="625.13" x2="402.1" y2="625.13" stroke="#666" stroke-width="0.8" />
<line x1="607.2" y1="625.13" x2="604.7" y2="625.13" stroke="#666" stroke-width="0.8" />
<text x="395.3" y="627.63" font-family='"Liberation Sans", sans-serif' font-size="6.9" font-weight="bold" text-anchor="end" fill="#111" >27</text>
<text x="381.5" y="715.5" font-family='"Liberation Sans", sans-serif' font-size="6.9" font-weight="bold" text-anchor="middle" fill="#111" transform="rotate(-90 381.5 715.5)" textLength="28.8" lengthAdjust="spacingAndGlyphs" >RGyr [A]</text>
<text x="446.6" y="604" font-family='"Liberation Sans", sans-serif' font-size="9.4" font-weight="bold" text-anchor="start" fill="#111" textLength="113.7" lengthAdjust="spacingAndGlyphs" >Energy-RG 2D Histogram</text>
<text x="503.7" y="840" font-family='"Liberation Sans", sans-serif' font-size="7.0" font-weight="bold" text-anchor="middle" fill="#111" textLength="58.4" lengthAdjust="spacingAndGlyphs" >Energy [kcal/mol]</text>
<rect x="634.4" y="816.39" width="15.5" height="3.61" fill="#fff" stroke="#bbb" stroke-width="0.6" />
<rect x="634.4" y="812.81" width="15.5" height="2.52" fill="#110096" stroke="none" stroke-width="1" />
<rect x="634.4" y="810.54" width="15.5" height="2.52" fill="#12009c" stroke="none" stroke-width="1" />
<rect x="634.4" y="808.27" width="15.5" height="2.52" fill="#1300a2" stroke="none" stroke-width="1" />
<rect x="634.4" y="805.99" width="15.5" height="2.52" fill="#1400a8" stroke="none" stroke-width="1" />
<rect x="634.4" y="803.72" width="15.5" height="2.52" fill="#1600b3" stroke="none" stroke-width="1" />
<rect x="634.4" y="801.45" width="15.5" height="2.52" fill="#1700bd" stroke="none" stroke-width="1" />
<rect x="634.4" y="799.18" width="15.5" height="2.52" fill="#1900c7" stroke="none" stroke-width="1" />
<rect x="634.4" y="796.91" width="15.5" height="2.52" fill="#1a00d1" stroke="none" stroke-width="1" />
<rect x="634.4" y="794.64" width="15.5" height="2.52" fill="#1c00da" stroke="none" stroke-width="1" />
<rect x="634.4" y="792.37" width="15.5" height="2.52" fill="#1d00e3" stroke="none" stroke-width="1" />
<rect x="634.4" y="790.09" width="15.5" height="2.52" fill="#1f00ec" stroke="none" stroke-width="1" />
<rect x="634.4" y="787.82" width="15.5" height="2.52" fill="#2000f4" stroke="none" stroke-width="1" />
<rect x="634.4" y="785.55" width="15.5" height="2.52" fill="#2005f5" stroke="none" stroke-width="1" />
<rect x="634.4" y="783.28" width="15.5" height="2.52" fill="#200af7" stroke="none" stroke-width="1" />
<rect x="634.4" y="781.01" width="15.5" height="2.52" fill="#200ff8" stroke="none" stroke-width="1" />
<rect x="634.4" y="778.74" width="15.5" height="2.52" fill="#2218f6" stroke="none" stroke-width="1" />
<rect x="634.4" y="776.47" width="15.5" height="2.52" fill="#2422f4" stroke="none" stroke-width="1" />
<rect x="634.4" y="774.2" width="15.5" height="2.52" fill="#272bf1" stroke="none" stroke-width="1" />
<rect x="634.4" y="771.92" width="15.5" height="2.52" fill="#2935f0" stroke="none" stroke-width="1" />
<rect x="634.4" y="769.65" width="15.5" height="2.52" fill="#2c41f0" stroke="none" stroke-width="1" />
<rect x="634.4" y="767.38" width="15.5" height="2.52" fill="#2f4df0" stroke="none" stroke-width="1" />
<rect x="634.4" y="765.11" width="15.5" height="2.52" fill="#365cf0" stroke="none" stroke-width="1" />
<rect x="634.4" y="762.84" width="15.5" height="2.52" fill="#3d6bf0" stroke="none" stroke-width="1" />
<rect x="634.4" y="760.57" width="15.5" height="2.52" fill="#437af0" stroke="none" stroke-width="1" />
<rect x="634.4" y="758.3" width="15.5" height="2.52" fill="#4889f0" stroke="none" stroke-width="1" />
<rect x="634.4" y="756.03" width="15.5" height="2.52" fill="#4d98f0" stroke="none" stroke-width="1" />
<rect x="634.4" y="753.75" width="15.5" height="2.52" fill="#52a6f1" stroke="none" stroke-width="1" />
<rect x="634.4" y="751.48" width="15.5" height="2.52" fill="#57b1f3" stroke="none" stroke-width="1" />
<rect x="634.4" y="749.21" width="15.5" height="2.52" fill="#5cbdf6" stroke="none" stroke-width="1" />
<rect x="634.4" y="746.94" width="15.5" height="2.52" fill="#60c8f8" stroke="none" stroke-width="1" />
<rect x="634.4" y="744.67" width="15.5" height="2.52" fill="#66d8f8" stroke="none" stroke-width="1" />
<rect x="634.4" y="742.4" width="15.5" height="2.52" fill="#6ce7f8" stroke="none" stroke-width="1" />
<rect x="634.4" y="740.13" width="15.5" height="2.52" fill="#71f0f3" stroke="none" stroke-width="1" />
<rect x="634.4" y="737.85" width="15.5" height="2.52" fill="#73f0e7" stroke="none" stroke-width="1" />
<rect x="634.4" y="735.58" width="15.5" height="2.52" fill="#76f0da" stroke="none" stroke-width="1" />
<rect x="634.4" y="733.31" width="15.5" height="2.52" fill="#79f0ce" stroke="none" stroke-width="1" />
<rect x="634.4" y="731.04" width="15.5" height="2.52" fill="#7df0c1" stroke="none" stroke-width="1" />
<rect x="634.4" y="728.77" width="15.5" height="2.52" fill="#81f0b4" stroke="none" stroke-width="1" />
<rect x="634.4" y="726.5" width="15.5" height="2.52" fill="#86f0a7" stroke="none" stroke-width="1" />
<rect x="634.4" y="724.23" width="15.5" height="2.52" fill="#8af09b" stroke="none" stroke-width="1" />
<rect x="634.4" y="721.96" width="15.5" height="2.52" fill="#8ef08f" stroke="none" stroke-width="1" />
<rect x="634.4" y="719.68" width="15.5" height="2.52" fill="#91f084" stroke="none" stroke-width="1" />
<rect x="634.4" y="717.41" width="15.5" height="2.52" fill="#95f079" stroke="none" stroke-width="1" />
<rect x="634.4" y="715.14" width="15.5" height="2.52" fill="#9af06e" stroke="none" stroke-width="1" />
<rect x="634.4" y="712.87" width="15.5" height="2.52" fill="#a1f067" stroke="none" stroke-width="1" />
<rect x="634.4" y="710.6" width="15.5" height="2.52" fill="#a9f05f" stroke="none" stroke-width="1" />
<rect x="634.4" y="708.33" width="15.5" height="2.52" fill="#b0f058" stroke="none" stroke-width="1" />
<rect x="634.4" y="706.06" width="15.5" height="2.52" fill="#b8f050" stroke="none" stroke-width="1" />
<rect x="634.4" y="703.79" width="15.5" height="2.52" fill="#bff049" stroke="none" stroke-width="1" />
<rect x="634.4" y="701.51" width="15.5" height="2.52" fill="#caf144" stroke="none" stroke-width="1" />
<rect x="634.4" y="699.24" width="15.5" height="2.52" fill="#d4f33f" stroke="none" stroke-width="1" />
<rect x="634.4" y="696.97" width="15.5" height="2.52" fill="#dff43b" stroke="none" stroke-width="1" />
<rect x="634.4" y="694.7" width="15.5" height="2.52" fill="#e9f636" stroke="none" stroke-width="1" />
<rect x="634.4" y="692.43" width="15.5" height="2.52" fill="#f4f732" stroke="none" stroke-width="1" />
<rect x="634.4" y="690.16" width="15.5" height="2.52" fill="#f7f330" stroke="none" stroke-width="1" />
<rect x="634.4" y="687.89" width="15.5" height="2.52" fill="#f6ec30" stroke="none" stroke-width="1" />
<rect x="634.4" y="685.61" width="15.5" height="2.52" fill="#f5e430" stroke="none" stroke-width="1" />
<rect x="634.4" y="683.34" width="15.5" height="2.52" fill="#f4dc30" stroke="none" stroke-width="1" />
<rect x="634.4" y="681.07" width="15.5" height="2.52" fill="#f2d330" stroke="none" stroke-width="1" />
<rect x="634.4" y="678.8" width="15.5" height="2.52" fill="#f1ca30" stroke="none" stroke-width="1" />
<rect x="634.4" y="676.53" width="15.5" height="2.52" fill="#f0c030" stroke="none" stroke-width="1" />
<rect x="634.4" y="674.26" width="15.5" height="2.52" fill="#eeb62e" stroke="none" stroke-width="1" />
<rect x="634.4" y="671.99" width="15.5" height="2.52" fill="#ecac2c" stroke="none" stroke-width="1" />
<rect x="634.4" y="669.72" width="15.5" height="2.52" fill="#eaa22a" stroke="none" stroke-width="1" />
<rect x="634.4" y="667.44" width="15.5" height="2.52" fill="#e89828" stroke="none" stroke-width="1" />
<rect x="634.4" y="665.17" width="15.5" height="2.52" fill="#e69026" stroke="none" stroke-width="1" />
<rect x="634.4" y="662.9" width="15.5" height="2.52" fill="#e58725" stroke="none" stroke-width="1" />
<rect x="634.4" y="660.63" width="15.5" height="2.52" fill="#e37f23" stroke="none" stroke-width="1" />
<rect x="634.4" y="658.36" width="15.5" height="2.52" fill="#e17721" stroke="none" stroke-width="1" />
<rect x="634.4" y="656.09" width="15.5" height="2.52" fill="#e06e20" stroke="none" stroke-width="1" />
<rect x="634.4" y="653.82" width="15.5" height="2.52" fill="#e06320" stroke="none" stroke-width="1" />
<rect x="634.4" y="651.55" width="15.5" height="2.52" fill="#e05920" stroke="none" stroke-width="1" />
<rect x="634.4" y="649.27" width="15.5" height="2.52" fill="#e04e20" stroke="none" stroke-width="1" />
<rect x="634.4" y="647" width="15.5" height="2.52" fill="#e04320" stroke="none" stroke-width="1" />
<rect x="634.4" y="644.73" width="15.5" height="2.52" fill="#de3d20" stroke="none" stroke-width="1" />
<rect x="634.4" y="642.46" width="15.5" height="2.52" fill="#dc3820" stroke="none" stroke-width="1" />
<rect x="634.4" y="640.19" width="15.5" height="2.52" fill="#da3320" stroke="none" stroke-width="1" />
<rect x="634.4" y="637.92" width="15.5" height="2.52" fill="#d72e20" stroke="none" stroke-width="1" />
<rect x="634.4" y="635.65" width="15.5" height="2.52" fill="#d52920" stroke="none" stroke-width="1" />
<rect x="634.4" y="633.38" width="15.5" height="2.52" fill="#d22520" stroke="none" stroke-width="1" />
<rect x="634.4" y="631.1" width="15.5" height="2.52" fill="#cf2020" stroke="none" stroke-width="1" />
<rect x="634.4" y="628.83" width="15.5" height="2.52" fill="#c51e1e" stroke="none" stroke-width="1" />
<rect x="634.4" y="626.56" width="15.5" height="2.52" fill="#bb1d1d" stroke="none" stroke-width="1" />
<rect x="634.4" y="624.29" width="15.5" height="2.52" fill="#b11b1b" stroke="none" stroke-width="1" />
<rect x="634.4" y="622.02" width="15.5" height="2.52" fill="#a71919" stroke="none" stroke-width="1" />
<rect x="634.4" y="619.75" width="15.5" height="2.52" fill="#9c1717" stroke="none" stroke-width="1" />
<rect x="634.4" y="617.48" width="15.5" height="2.52" fill="#8f1515" stroke="none" stroke-width="1" />
<rect x="634.4" y="615.2" width="15.5" height="2.52" fill="#811212" stroke="none" stroke-width="1" />
<rect x="634.4" y="612.93" width="15.5" height="2.52" fill="#741010" stroke="none" stroke-width="1" />
<rect x="634.4" y="610.66" width="15.5" height="2.52" fill="#670d0d" stroke="none" stroke-width="1" />
<text x="654" y="821.7" font-family='"Liberation Sans", sans-serif' font-size="6.7" font-weight="bold" text-anchor="start" fill="#111" >0</text>
<line x1="634.4" y1="789.15" x2="636.4" y2="789.15" stroke="#333" stroke-width="0.7" />
<line x1="649.9" y1="789.15" x2="647.9" y2="789.15" stroke="#333" stroke-width="0.7" />
<text x="654" y="791.55" font-family='"Liberation Sans", sans-serif' font-size="6.7" font-weight="bold" text-anchor="start" fill="#111" >0.5</text>
<line x1="634.4" y1="759" x2="636.4" y2="759" stroke="#333" stroke-width="0.7" />
<line x1="649.9" y1="759" x2="647.9" y2="759" stroke="#333" stroke-width="0.7" />
<text x="654" y="761.4" font-family='"Liberation Sans", sans-serif' font-size="6.7" font-weight="bold" text-anchor="start" fill="#111" >1</text>
<line x1="634.4" y1="728.85" x2="636.4" y2="728.85" stroke="#333" stroke-width="0.7" />
<line x1="649.9" y1="728.85" x2="647.9" y2="728.85" stroke="#333" stroke-width="0.7" />
<text x="654" y="731.25" font-family='"Liberation Sans", sans-serif' font-size="6.7" font-weight="bold" text-anchor="start" fill="#111" >1.5</text>
<line x1="634.4" y1="698.7" x2="636.4" y2="698.7" stroke="#333" stroke-width="0.7" />
<line x1="649.9" y1="698.7" x2="647.9" y2="698.7" stroke="#333" stroke-width="0.7" />
<text x="654" y="701.1" font-family='"Liberation Sans", sans-serif' font-size="6.7" font-weight="bold" text-anchor="start" fill="#111" >2</text>
<line x1="634.4" y1="668.55" x2="636.4" y2="668.55" stroke="#333" stroke-width="0.7" />
<line x1="649.9" y1="668.55" x2="647.9" y2="668.55" stroke="#333" stroke-width="0.7" />
<text x="654" y="670.95" font-family='"Liberation Sans", sans-serif' font-size="6.7" font-weight="bold" text-anchor="start" fill="#111" >2.5</text>
<line x1="634.4" y1="638.4" x2="636.4" y2="638.4" stroke="#333" stroke-width="0.7" />
<line x1="649.9" y1="638.4" x2="647.9" y2="638.4" stroke="#333" stroke-width="0.7" />
<text x="654" y="640.8" font-family='"Liberation Sans", sans-serif' font-size="6.7" font-weight="bold" text-anchor="start" fill="#111" >3</text>
<text x="678.5" y="715" font-family='"Liberation Sans", sans-serif' font-size="8.5" font-weight="bold" text-anchor="middle" fill="#111" transform="rotate(-90 678.5 715)" textLength="44.5" lengthAdjust="spacingAndGlyphs" >Population</text>
<ellipse cx="492.4" cy="790.6" rx="20.9" ry="11.4" fill="none" stroke="#000" stroke-width="1.5"/>
<line x1="408" y1="791.4" x2="471.5" y2="791.4" stroke="#000" stroke-width="1.0" />
<polygon points="402.5,791.4 408.5,789.4 408.5,793.4" fill="#000" />
<line x1="491.6" y1="802" x2="491.6" y2="812" stroke="#000" stroke-width="1.2" />
<polygon points="491.6,817 489.6,811.5 493.6,811.5" fill="#000" />
<text x="505.6" y="816.3" font-family='"Liberation Sans", sans-serif' font-size="8.0" font-weight="bold" text-anchor="start" fill="#111" textLength="59.4" lengthAdjust="spacingAndGlyphs" >~78925 kcal/mol</text>
<text x="362.8" y="605.3" font-family='"Liberation Sans", sans-serif' font-size="24" font-weight="bold" text-anchor="start" fill="#000"  stroke="#000" stroke-width="0.6">G</text>
</svg>
</body></html>
